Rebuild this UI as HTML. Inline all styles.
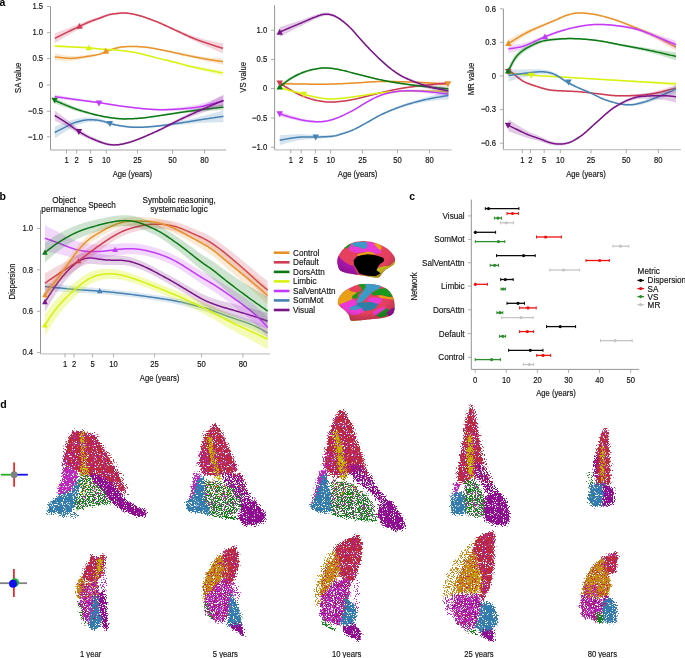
<!DOCTYPE html>
<html><head><meta charset="utf-8"><title>Figure</title><style>html,body{margin:0;padding:0;background:#fff;width:685px;height:658px;overflow:hidden;}body{font-family:"Liberation Sans", sans-serif;}</style></head><body>
<svg width="685" height="658" viewBox="0 0 685 658" style="display:block">
<defs><filter id="dotR" x="-0.2" y="-0.2" width="1.4" height="1.4" filterUnits="objectBoundingBox" primitiveUnits="userSpaceOnUse"><feGaussianBlur in="SourceAlpha" stdDeviation="1.2" result="b"/><feTurbulence type="fractalNoise" baseFrequency="1.1" numOctaves="1" seed="3" result="t"/><feColorMatrix in="t" type="matrix" values="0 0 0 0 0  0 0 0 0 0  0 0 0 0 0  0 0 0 3 -1" result="n"/><feComposite in="b" in2="n" operator="arithmetic" k1="0" k2="8" k3="-8" k4="0" result="m"/><feFlood flood-color="#BC2C3C" result="f"/><feComposite in="f" in2="m" operator="in"/></filter><filter id="dotY" x="-0.2" y="-0.2" width="1.4" height="1.4" filterUnits="objectBoundingBox" primitiveUnits="userSpaceOnUse"><feGaussianBlur in="SourceAlpha" stdDeviation="1.2" result="b"/><feTurbulence type="fractalNoise" baseFrequency="1.1" numOctaves="1" seed="10" result="t"/><feColorMatrix in="t" type="matrix" values="0 0 0 0 0  0 0 0 0 0  0 0 0 0 0  0 0 0 3 -1" result="n"/><feComposite in="b" in2="n" operator="arithmetic" k1="0" k2="8" k3="-8" k4="0" result="m"/><feFlood flood-color="#C4B200" result="f"/><feComposite in="f" in2="m" operator="in"/></filter><filter id="dotO" x="-0.2" y="-0.2" width="1.4" height="1.4" filterUnits="objectBoundingBox" primitiveUnits="userSpaceOnUse"><feGaussianBlur in="SourceAlpha" stdDeviation="1.2" result="b"/><feTurbulence type="fractalNoise" baseFrequency="1.1" numOctaves="1" seed="17" result="t"/><feColorMatrix in="t" type="matrix" values="0 0 0 0 0  0 0 0 0 0  0 0 0 0 0  0 0 0 3 -1" result="n"/><feComposite in="b" in2="n" operator="arithmetic" k1="0" k2="8" k3="-8" k4="0" result="m"/><feFlood flood-color="#C48C14" result="f"/><feComposite in="f" in2="m" operator="in"/></filter><filter id="dotM" x="-0.2" y="-0.2" width="1.4" height="1.4" filterUnits="objectBoundingBox" primitiveUnits="userSpaceOnUse"><feGaussianBlur in="SourceAlpha" stdDeviation="1.2" result="b"/><feTurbulence type="fractalNoise" baseFrequency="1.1" numOctaves="1" seed="24" result="t"/><feColorMatrix in="t" type="matrix" values="0 0 0 0 0  0 0 0 0 0  0 0 0 0 0  0 0 0 3 -1" result="n"/><feComposite in="b" in2="n" operator="arithmetic" k1="0" k2="8" k3="-8" k4="0" result="m"/><feFlood flood-color="#BC2ABC" result="f"/><feComposite in="f" in2="m" operator="in"/></filter><filter id="dotP" x="-0.2" y="-0.2" width="1.4" height="1.4" filterUnits="objectBoundingBox" primitiveUnits="userSpaceOnUse"><feGaussianBlur in="SourceAlpha" stdDeviation="1.2" result="b"/><feTurbulence type="fractalNoise" baseFrequency="1.1" numOctaves="1" seed="31" result="t"/><feColorMatrix in="t" type="matrix" values="0 0 0 0 0  0 0 0 0 0  0 0 0 0 0  0 0 0 3 -1" result="n"/><feComposite in="b" in2="n" operator="arithmetic" k1="0" k2="8" k3="-8" k4="0" result="m"/><feFlood flood-color="#8E0E90" result="f"/><feComposite in="f" in2="m" operator="in"/></filter><filter id="dotB" x="-0.2" y="-0.2" width="1.4" height="1.4" filterUnits="objectBoundingBox" primitiveUnits="userSpaceOnUse"><feGaussianBlur in="SourceAlpha" stdDeviation="1.2" result="b"/><feTurbulence type="fractalNoise" baseFrequency="1.1" numOctaves="1" seed="38" result="t"/><feColorMatrix in="t" type="matrix" values="0 0 0 0 0  0 0 0 0 0  0 0 0 0 0  0 0 0 3 -1" result="n"/><feComposite in="b" in2="n" operator="arithmetic" k1="0" k2="8" k3="-8" k4="0" result="m"/><feFlood flood-color="#357CAE" result="f"/><feComposite in="f" in2="m" operator="in"/></filter><filter id="dotG" x="-0.2" y="-0.2" width="1.4" height="1.4" filterUnits="objectBoundingBox" primitiveUnits="userSpaceOnUse"><feGaussianBlur in="SourceAlpha" stdDeviation="1.2" result="b"/><feTurbulence type="fractalNoise" baseFrequency="1.1" numOctaves="1" seed="45" result="t"/><feColorMatrix in="t" type="matrix" values="0 0 0 0 0  0 0 0 0 0  0 0 0 0 0  0 0 0 3 -1" result="n"/><feComposite in="b" in2="n" operator="arithmetic" k1="0" k2="8" k3="-8" k4="0" result="m"/><feFlood flood-color="#17801A" result="f"/><feComposite in="f" in2="m" operator="in"/></filter></defs>
<rect width="685" height="658" fill="#fff"/>
<g font-family='"Liberation Sans", sans-serif' style="will-change:transform">
<text x="-0.4" y="5.8" font-size="10.5" text-anchor="start" font-weight="bold" fill="#000">a</text>
<line x1="50.5" y1="6.5" x2="50.5" y2="150" stroke="#7a7a7a" stroke-width="0.8"/>
<line x1="50.5" y1="150" x2="226" y2="150" stroke="#c4c4c4" stroke-width="1.3"/>
<line x1="46.9" y1="6.5" x2="50.5" y2="6.5" stroke="#9a9a9a" stroke-width="0.8"/>
<text transform="translate(43.1 9.2) scale(0.85 1)" font-size="9" text-anchor="end" fill="#141414" stroke="#141414" stroke-width="0.18">1.5</text>
<line x1="46.9" y1="32.7" x2="50.5" y2="32.7" stroke="#9a9a9a" stroke-width="0.8"/>
<text transform="translate(43.1 35.4) scale(0.85 1)" font-size="9" text-anchor="end" fill="#141414" stroke="#141414" stroke-width="0.18">1.0</text>
<line x1="46.9" y1="58.6" x2="50.5" y2="58.6" stroke="#9a9a9a" stroke-width="0.8"/>
<text transform="translate(43.1 61.3) scale(0.85 1)" font-size="9" text-anchor="end" fill="#141414" stroke="#141414" stroke-width="0.18">0.5</text>
<line x1="46.9" y1="85" x2="50.5" y2="85" stroke="#9a9a9a" stroke-width="0.8"/>
<text transform="translate(43.1 87.7) scale(0.85 1)" font-size="9" text-anchor="end" fill="#141414" stroke="#141414" stroke-width="0.18">0</text>
<line x1="46.9" y1="111.3" x2="50.5" y2="111.3" stroke="#9a9a9a" stroke-width="0.8"/>
<text transform="translate(43.1 114) scale(0.85 1)" font-size="9" text-anchor="end" fill="#141414" stroke="#141414" stroke-width="0.18">−0.5</text>
<line x1="46.9" y1="136.8" x2="50.5" y2="136.8" stroke="#9a9a9a" stroke-width="0.8"/>
<text transform="translate(43.1 139.5) scale(0.85 1)" font-size="9" text-anchor="end" fill="#141414" stroke="#141414" stroke-width="0.18">−1.0</text>
<line x1="66.5" y1="150" x2="66.5" y2="153.6" stroke="#9a9a9a" stroke-width="0.8"/>
<text transform="translate(66.5 163) scale(0.85 1)" font-size="9" text-anchor="middle" fill="#141414" stroke="#141414" stroke-width="0.18">1</text>
<line x1="76.7" y1="150" x2="76.7" y2="153.6" stroke="#9a9a9a" stroke-width="0.8"/>
<text transform="translate(76.7 163) scale(0.85 1)" font-size="9" text-anchor="middle" fill="#141414" stroke="#141414" stroke-width="0.18">2</text>
<line x1="90.7" y1="150" x2="90.7" y2="153.6" stroke="#9a9a9a" stroke-width="0.8"/>
<text transform="translate(90.7 163) scale(0.85 1)" font-size="9" text-anchor="middle" fill="#141414" stroke="#141414" stroke-width="0.18">5</text>
<line x1="106.3" y1="150" x2="106.3" y2="153.6" stroke="#9a9a9a" stroke-width="0.8"/>
<text transform="translate(106.3 163) scale(0.85 1)" font-size="9" text-anchor="middle" fill="#141414" stroke="#141414" stroke-width="0.18">10</text>
<line x1="137.5" y1="150" x2="137.5" y2="153.6" stroke="#9a9a9a" stroke-width="0.8"/>
<text transform="translate(137.5 163) scale(0.85 1)" font-size="9" text-anchor="middle" fill="#141414" stroke="#141414" stroke-width="0.18">25</text>
<line x1="172.5" y1="150" x2="172.5" y2="153.6" stroke="#9a9a9a" stroke-width="0.8"/>
<text transform="translate(172.5 163) scale(0.85 1)" font-size="9" text-anchor="middle" fill="#141414" stroke="#141414" stroke-width="0.18">50</text>
<line x1="204.6" y1="150" x2="204.6" y2="153.6" stroke="#9a9a9a" stroke-width="0.8"/>
<text transform="translate(204.6 163) scale(0.85 1)" font-size="9" text-anchor="middle" fill="#141414" stroke="#141414" stroke-width="0.18">80</text>
<text transform="translate(21 77.8) rotate(-90) scale(0.85 1)" font-size="9" text-anchor="middle" fill="#141414" stroke="#141414" stroke-width="0.18">SA value</text>
<text transform="translate(132.4 177) scale(0.85 1)" font-size="9" text-anchor="middle" fill="#141414" stroke="#141414" stroke-width="0.18">Age (years)</text>
<path d="M54.8,33.3 L55.8,32.94 L56.8,32.57 L57.8,32.2 L58.8,31.82 L59.8,31.45 L60.8,31.07 L61.8,30.69 L62.8,30.3 L63.8,29.92 L64.8,29.53 L65.8,29.15 L66.8,28.76 L67.8,28.37 L68.8,27.98 L69.8,27.59 L70.8,27.2 L71.8,26.81 L72.8,26.41 L73.8,26.02 L74.8,25.62 L75.8,25.23 L76.8,24.83 L77.8,24.43 L78.8,24.04 L79.8,23.64 L80.8,23.24 L81.8,22.84 L82.8,22.44 L83.8,22.03 L84.8,21.63 L85.8,21.24 L86.8,20.85 L87.8,20.46 L88.8,20.09 L89.8,19.73 L90.8,19.38 L91.8,19.04 L92.8,18.71 L93.8,18.39 L94.8,18.08 L95.8,17.77 L96.8,17.47 L97.8,17.16 L98.8,16.85 L99.8,16.53 L100.8,16.19 L101.8,15.85 L102.8,15.5 L103.8,15.15 L104.8,14.8 L105.8,14.46 L106.8,14.14 L107.8,13.84 L108.8,13.58 L109.8,13.35 L110.8,13.15 L111.8,12.99 L112.8,12.85 L113.8,12.73 L114.8,12.63 L115.8,12.54 L116.8,12.45 L117.8,12.36 L118.8,12.26 L119.8,12.15 L120.8,12.03 L121.8,11.94 L122.8,11.9 L123.8,11.92 L124.8,11.98 L125.8,12.08 L126.8,12.2 L127.8,12.33 L128.8,12.46 L129.8,12.61 L130.8,12.77 L131.8,12.94 L132.8,13.13 L133.8,13.33 L134.8,13.55 L135.8,13.78 L136.8,14.03 L137.8,14.29 L138.8,14.57 L139.8,14.86 L140.8,15.16 L141.8,15.46 L142.8,15.78 L143.8,16.1 L144.8,16.43 L145.8,16.77 L146.8,17.11 L147.8,17.46 L148.8,17.81 L149.8,18.16 L150.8,18.52 L151.8,18.88 L152.8,19.25 L153.8,19.62 L154.8,20 L155.8,20.38 L156.8,20.77 L157.8,21.16 L158.8,21.56 L159.8,21.97 L160.8,22.38 L161.8,22.8 L162.8,23.23 L163.8,23.66 L164.8,24.1 L165.8,24.54 L166.8,24.98 L167.8,25.42 L168.8,25.86 L169.8,26.31 L170.8,26.75 L171.8,27.18 L172.8,27.62 L173.8,28.05 L174.8,28.48 L175.8,28.9 L176.8,29.32 L177.8,29.74 L178.8,30.16 L179.8,30.58 L180.8,31 L181.8,31.43 L182.8,31.85 L183.8,32.26 L184.8,32.68 L185.8,33.09 L186.8,33.5 L187.8,33.9 L188.8,34.3 L189.8,34.68 L190.8,35.06 L191.8,35.44 L192.8,35.8 L193.8,36.15 L194.8,36.49 L195.8,36.82 L196.8,37.14 L197.8,37.45 L198.8,37.75 L199.8,38.04 L200.8,38.32 L201.8,38.6 L202.8,38.87 L203.8,39.13 L204.8,39.39 L205.8,39.64 L206.8,39.89 L207.8,40.14 L208.8,40.38 L209.8,40.62 L210.8,40.85 L211.8,41.08 L212.8,41.32 L213.8,41.55 L214.8,41.77 L215.8,41.99 L216.8,42.21 L217.8,42.42 L218.8,42.61 L219.8,42.81 L220.8,42.99 L221.8,43.16 L222.8,43.32 L223,43.44 L223,53.44 L222.8,53.27 L221.8,52.85 L220.8,52.43 L219.8,52 L218.8,51.57 L217.8,51.14 L216.8,50.7 L215.8,50.27 L214.8,49.83 L213.8,49.39 L212.8,48.95 L211.8,48.52 L210.8,48.09 L209.8,47.66 L208.8,47.24 L207.8,46.82 L206.8,46.4 L205.8,45.98 L204.8,45.55 L203.8,45.13 L202.8,44.71 L201.8,44.29 L200.8,43.86 L199.8,43.43 L198.8,43 L197.8,42.56 L196.8,42.11 L195.8,41.66 L194.8,41.21 L193.8,40.74 L192.8,40.27 L191.8,39.79 L190.8,39.31 L189.8,38.82 L188.8,38.32 L187.8,37.82 L186.8,37.32 L185.8,36.82 L184.8,36.31 L183.8,35.81 L182.8,35.3 L181.8,34.79 L180.8,34.29 L179.8,33.79 L178.8,33.29 L177.8,32.79 L176.8,32.3 L175.8,31.81 L174.8,31.32 L173.8,30.83 L172.8,30.34 L171.8,29.84 L170.8,29.34 L169.8,28.85 L168.8,28.35 L167.8,27.86 L166.8,27.37 L165.8,26.88 L164.8,26.4 L163.8,25.92 L162.8,25.44 L161.8,24.98 L160.8,24.52 L159.8,24.07 L158.8,23.63 L157.8,23.19 L156.8,22.77 L155.8,22.36 L154.8,21.95 L153.8,21.55 L152.8,21.15 L151.8,20.77 L150.8,20.38 L149.8,20.01 L148.8,19.63 L147.8,19.27 L146.8,18.91 L145.8,18.56 L144.8,18.21 L143.8,17.87 L142.8,17.54 L141.8,17.22 L140.8,16.91 L139.8,16.61 L138.8,16.32 L137.8,16.04 L136.8,15.78 L135.8,15.54 L134.8,15.31 L133.8,15.1 L132.8,14.91 L131.8,14.73 L130.8,14.57 L129.8,14.43 L128.8,14.29 L127.8,14.17 L126.8,14.06 L125.8,13.97 L124.8,13.89 L123.8,13.85 L122.8,13.86 L121.8,13.92 L120.8,14.04 L119.8,14.19 L118.8,14.33 L117.8,14.47 L116.8,14.59 L115.8,14.72 L114.8,14.85 L113.8,14.99 L112.8,15.16 L111.8,15.34 L110.8,15.55 L109.8,15.8 L108.8,16.08 L107.8,16.4 L106.8,16.75 L105.8,17.13 L104.8,17.53 L103.8,17.94 L102.8,18.36 L101.8,18.78 L100.8,19.19 L99.8,19.59 L98.8,19.99 L97.8,20.38 L96.8,20.77 L95.8,21.16 L94.8,21.55 L93.8,21.95 L92.8,22.36 L91.8,22.78 L90.8,23.22 L89.8,23.67 L88.8,24.14 L87.8,24.62 L86.8,25.11 L85.8,25.62 L84.8,26.13 L83.8,26.65 L82.8,27.18 L81.8,27.71 L80.8,28.24 L79.8,28.78 L78.8,29.31 L77.8,29.85 L76.8,30.4 L75.8,30.95 L74.8,31.5 L73.8,32.05 L72.8,32.61 L71.8,33.17 L70.8,33.74 L69.8,34.31 L68.8,34.88 L67.8,35.46 L66.8,36.04 L65.8,36.62 L64.8,37.21 L63.8,37.8 L62.8,38.4 L61.8,39 L60.8,39.61 L59.8,40.22 L58.8,40.83 L57.8,41.44 L56.8,42.06 L55.8,42.68 L54.8,43.3Z" fill="#CF3D55" fill-opacity="0.22" stroke="none"/>
<path d="M54.8,38.3 L55.8,37.81 L56.8,37.31 L57.8,36.82 L58.8,36.33 L59.8,35.83 L60.8,35.34 L61.8,34.84 L62.8,34.35 L63.8,33.86 L64.8,33.37 L65.8,32.88 L66.8,32.4 L67.8,31.91 L68.8,31.43 L69.8,30.95 L70.8,30.47 L71.8,29.99 L72.8,29.51 L73.8,29.04 L74.8,28.56 L75.8,28.09 L76.8,27.61 L77.8,27.14 L78.8,26.67 L79.8,26.21 L80.8,25.74 L81.8,25.27 L82.8,24.81 L83.8,24.34 L84.8,23.88 L85.8,23.43 L86.8,22.98 L87.8,22.54 L88.8,22.11 L89.8,21.7 L90.8,21.3 L91.8,20.91 L92.8,20.53 L93.8,20.17 L94.8,19.81 L95.8,19.46 L96.8,19.12 L97.8,18.77 L98.8,18.42 L99.8,18.06 L100.8,17.69 L101.8,17.31 L102.8,16.93 L103.8,16.54 L104.8,16.16 L105.8,15.79 L106.8,15.44 L107.8,15.12 L108.8,14.83 L109.8,14.57 L110.8,14.35 L111.8,14.16 L112.8,14 L113.8,13.86 L114.8,13.74 L115.8,13.63 L116.8,13.52 L117.8,13.41 L118.8,13.3 L119.8,13.17 L120.8,13.04 L121.8,12.93 L122.8,12.88 L123.8,12.88 L124.8,12.94 L125.8,13.03 L126.8,13.13 L127.8,13.25 L128.8,13.38 L129.8,13.52 L130.8,13.67 L131.8,13.84 L132.8,14.02 L133.8,14.22 L134.8,14.43 L135.8,14.66 L136.8,14.9 L137.8,15.16 L138.8,15.44 L139.8,15.73 L140.8,16.03 L141.8,16.34 L142.8,16.66 L143.8,16.99 L144.8,17.32 L145.8,17.66 L146.8,18.01 L147.8,18.36 L148.8,18.72 L149.8,19.08 L150.8,19.45 L151.8,19.83 L152.8,20.2 L153.8,20.59 L154.8,20.98 L155.8,21.37 L156.8,21.77 L157.8,22.18 L158.8,22.59 L159.8,23.02 L160.8,23.45 L161.8,23.89 L162.8,24.34 L163.8,24.79 L164.8,25.25 L165.8,25.71 L166.8,26.17 L167.8,26.64 L168.8,27.11 L169.8,27.58 L170.8,28.05 L171.8,28.51 L172.8,28.98 L173.8,29.44 L174.8,29.9 L175.8,30.35 L176.8,30.81 L177.8,31.27 L178.8,31.72 L179.8,32.18 L180.8,32.65 L181.8,33.11 L182.8,33.57 L183.8,34.04 L184.8,34.5 L185.8,34.95 L186.8,35.41 L187.8,35.86 L188.8,36.31 L189.8,36.75 L190.8,37.19 L191.8,37.61 L192.8,38.03 L193.8,38.45 L194.8,38.85 L195.8,39.24 L196.8,39.63 L197.8,40 L198.8,40.37 L199.8,40.73 L200.8,41.09 L201.8,41.44 L202.8,41.79 L203.8,42.13 L204.8,42.47 L205.8,42.81 L206.8,43.14 L207.8,43.48 L208.8,43.81 L209.8,44.14 L210.8,44.47 L211.8,44.8 L212.8,45.13 L213.8,45.47 L214.8,45.8 L215.8,46.13 L216.8,46.46 L217.8,46.78 L218.8,47.09 L219.8,47.4 L220.8,47.71 L221.8,48.01 L222.8,48.3 L223,48.44" fill="none" stroke="#CF3D55" stroke-width="1.5" stroke-linejoin="round" stroke-linecap="butt"/>
<path d="M54.8,53.4 L55.8,53.6 L56.8,53.8 L57.8,53.99 L58.8,54.19 L59.8,54.38 L60.8,54.57 L61.8,54.75 L62.8,54.92 L63.8,55.09 L64.8,55.25 L65.8,55.41 L66.8,55.56 L67.8,55.71 L68.8,55.84 L69.8,55.95 L70.8,56.03 L71.8,56.07 L72.8,56.08 L73.8,56.07 L74.8,56.03 L75.8,55.98 L76.8,55.91 L77.8,55.84 L78.8,55.75 L79.8,55.66 L80.8,55.56 L81.8,55.46 L82.8,55.36 L83.8,55.25 L84.8,55.13 L85.8,55.02 L86.8,54.9 L87.8,54.78 L88.8,54.65 L89.8,54.53 L90.8,54.4 L91.8,54.27 L92.8,54.14 L93.8,54 L94.8,53.86 L95.8,53.7 L96.8,53.54 L97.8,53.35 L98.8,53.13 L99.8,52.88 L100.8,52.56 L101.8,52.18 L102.8,51.76 L103.8,51.31 L104.8,50.89 L105.8,50.51 L106.8,50.15 L107.8,49.8 L108.8,49.46 L109.8,49.12 L110.8,48.79 L111.8,48.46 L112.8,48.14 L113.8,47.84 L114.8,47.55 L115.8,47.28 L116.8,47.02 L117.8,46.79 L118.8,46.59 L119.8,46.41 L120.8,46.26 L121.8,46.13 L122.8,46.02 L123.8,45.94 L124.8,45.87 L125.8,45.82 L126.8,45.78 L127.8,45.75 L128.8,45.73 L129.8,45.72 L130.8,45.72 L131.8,45.72 L132.8,45.73 L133.8,45.74 L134.8,45.75 L135.8,45.77 L136.8,45.8 L137.8,45.84 L138.8,45.88 L139.8,45.94 L140.8,46 L141.8,46.07 L142.8,46.15 L143.8,46.24 L144.8,46.34 L145.8,46.45 L146.8,46.56 L147.8,46.69 L148.8,46.82 L149.8,46.97 L150.8,47.12 L151.8,47.28 L152.8,47.45 L153.8,47.62 L154.8,47.79 L155.8,47.97 L156.8,48.16 L157.8,48.34 L158.8,48.53 L159.8,48.72 L160.8,48.91 L161.8,49.1 L162.8,49.29 L163.8,49.49 L164.8,49.68 L165.8,49.87 L166.8,50.06 L167.8,50.25 L168.8,50.44 L169.8,50.64 L170.8,50.83 L171.8,51.03 L172.8,51.24 L173.8,51.44 L174.8,51.64 L175.8,51.84 L176.8,52.04 L177.8,52.25 L178.8,52.45 L179.8,52.65 L180.8,52.84 L181.8,53.04 L182.8,53.23 L183.8,53.42 L184.8,53.61 L185.8,53.79 L186.8,53.98 L187.8,54.16 L188.8,54.34 L189.8,54.52 L190.8,54.69 L191.8,54.87 L192.8,55.05 L193.8,55.22 L194.8,55.39 L195.8,55.56 L196.8,55.72 L197.8,55.88 L198.8,56.04 L199.8,56.2 L200.8,56.35 L201.8,56.5 L202.8,56.64 L203.8,56.78 L204.8,56.91 L205.8,57.04 L206.8,57.16 L207.8,57.28 L208.8,57.4 L209.8,57.5 L210.8,57.61 L211.8,57.71 L212.8,57.81 L213.8,57.9 L214.8,58 L215.8,58.09 L216.8,58.18 L217.8,58.26 L218.8,58.35 L219.8,58.43 L220.8,58.51 L221.8,58.59 L222.8,58.66 L223,58.72 L223,64.72 L222.8,64.64 L221.8,64.42 L220.8,64.21 L219.8,63.99 L218.8,63.78 L217.8,63.56 L216.8,63.35 L215.8,63.14 L214.8,62.94 L213.8,62.73 L212.8,62.52 L211.8,62.31 L210.8,62.1 L209.8,61.89 L208.8,61.68 L207.8,61.47 L206.8,61.26 L205.8,61.04 L204.8,60.82 L203.8,60.6 L202.8,60.37 L201.8,60.14 L200.8,59.91 L199.8,59.68 L198.8,59.45 L197.8,59.22 L196.8,58.98 L195.8,58.74 L194.8,58.51 L193.8,58.27 L192.8,58.03 L191.8,57.79 L190.8,57.55 L189.8,57.32 L188.8,57.08 L187.8,56.84 L186.8,56.61 L185.8,56.37 L184.8,56.14 L183.8,55.9 L182.8,55.66 L181.8,55.42 L180.8,55.18 L179.8,54.94 L178.8,54.7 L177.8,54.46 L176.8,54.22 L175.8,53.98 L174.8,53.74 L173.8,53.5 L172.8,53.26 L171.8,53.03 L170.8,52.8 L169.8,52.57 L168.8,52.35 L167.8,52.13 L166.8,51.91 L165.8,51.69 L164.8,51.48 L163.8,51.27 L162.8,51.05 L161.8,50.84 L160.8,50.63 L159.8,50.42 L158.8,50.21 L157.8,50.01 L156.8,49.81 L155.8,49.61 L154.8,49.41 L153.8,49.23 L152.8,49.04 L151.8,48.87 L150.8,48.7 L149.8,48.53 L148.8,48.38 L147.8,48.24 L146.8,48.11 L145.8,47.99 L144.8,47.88 L143.8,47.77 L142.8,47.68 L141.8,47.6 L140.8,47.53 L139.8,47.47 L138.8,47.42 L137.8,47.37 L136.8,47.34 L135.8,47.32 L134.8,47.3 L133.8,47.29 L132.8,47.29 L131.8,47.29 L130.8,47.3 L129.8,47.31 L128.8,47.33 L127.8,47.36 L126.8,47.4 L125.8,47.45 L124.8,47.52 L123.8,47.61 L122.8,47.71 L121.8,47.84 L120.8,47.98 L119.8,48.16 L118.8,48.36 L117.8,48.58 L116.8,48.84 L115.8,49.12 L114.8,49.42 L113.8,49.73 L112.8,50.07 L111.8,50.41 L110.8,50.77 L109.8,51.14 L108.8,51.51 L107.8,51.89 L106.8,52.27 L105.8,52.67 L104.8,53.1 L103.8,53.56 L102.8,54.05 L101.8,54.52 L100.8,54.94 L99.8,55.31 L98.8,55.61 L97.8,55.88 L96.8,56.12 L95.8,56.34 L94.8,56.55 L93.8,56.76 L92.8,56.96 L91.8,57.15 L90.8,57.34 L89.8,57.54 L88.8,57.73 L87.8,57.92 L86.8,58.12 L85.8,58.31 L84.8,58.5 L83.8,58.7 L82.8,58.89 L81.8,59.08 L80.8,59.27 L79.8,59.46 L78.8,59.64 L77.8,59.82 L76.8,59.99 L75.8,60.16 L74.8,60.31 L73.8,60.45 L72.8,60.58 L71.8,60.68 L70.8,60.75 L69.8,60.79 L68.8,60.8 L67.8,60.79 L66.8,60.77 L65.8,60.74 L64.8,60.72 L63.8,60.69 L62.8,60.67 L61.8,60.64 L60.8,60.6 L59.8,60.57 L58.8,60.53 L57.8,60.49 L56.8,60.46 L55.8,60.43 L54.8,60.4Z" fill="#E8922A" fill-opacity="0.22" stroke="none"/>
<path d="M54.8,56.9 L55.8,57.01 L56.8,57.13 L57.8,57.24 L58.8,57.36 L59.8,57.47 L60.8,57.59 L61.8,57.69 L62.8,57.8 L63.8,57.89 L64.8,57.98 L65.8,58.07 L66.8,58.16 L67.8,58.25 L68.8,58.32 L69.8,58.37 L70.8,58.39 L71.8,58.37 L72.8,58.33 L73.8,58.26 L74.8,58.17 L75.8,58.07 L76.8,57.95 L77.8,57.83 L78.8,57.69 L79.8,57.56 L80.8,57.42 L81.8,57.27 L82.8,57.12 L83.8,56.97 L84.8,56.82 L85.8,56.66 L86.8,56.51 L87.8,56.35 L88.8,56.19 L89.8,56.03 L90.8,55.87 L91.8,55.71 L92.8,55.55 L93.8,55.38 L94.8,55.21 L95.8,55.02 L96.8,54.83 L97.8,54.61 L98.8,54.37 L99.8,54.09 L100.8,53.75 L101.8,53.35 L102.8,52.9 L103.8,52.44 L104.8,52 L105.8,51.59 L106.8,51.21 L107.8,50.85 L108.8,50.48 L109.8,50.13 L110.8,49.78 L111.8,49.44 L112.8,49.11 L113.8,48.79 L114.8,48.48 L115.8,48.2 L116.8,47.93 L117.8,47.69 L118.8,47.47 L119.8,47.28 L120.8,47.12 L121.8,46.98 L122.8,46.87 L123.8,46.77 L124.8,46.69 L125.8,46.63 L126.8,46.59 L127.8,46.55 L128.8,46.53 L129.8,46.52 L130.8,46.51 L131.8,46.5 L132.8,46.51 L133.8,46.51 L134.8,46.53 L135.8,46.55 L136.8,46.57 L137.8,46.61 L138.8,46.65 L139.8,46.7 L140.8,46.76 L141.8,46.84 L142.8,46.92 L143.8,47.01 L144.8,47.11 L145.8,47.22 L146.8,47.34 L147.8,47.46 L148.8,47.6 L149.8,47.75 L150.8,47.91 L151.8,48.07 L152.8,48.24 L153.8,48.42 L154.8,48.6 L155.8,48.79 L156.8,48.98 L157.8,49.18 L158.8,49.37 L159.8,49.57 L160.8,49.77 L161.8,49.97 L162.8,50.17 L163.8,50.38 L164.8,50.58 L165.8,50.78 L166.8,50.98 L167.8,51.19 L168.8,51.39 L169.8,51.6 L170.8,51.82 L171.8,52.03 L172.8,52.25 L173.8,52.47 L174.8,52.69 L175.8,52.91 L176.8,53.13 L177.8,53.35 L178.8,53.57 L179.8,53.79 L180.8,54.01 L181.8,54.23 L182.8,54.45 L183.8,54.66 L184.8,54.87 L185.8,55.08 L186.8,55.29 L187.8,55.5 L188.8,55.71 L189.8,55.92 L190.8,56.12 L191.8,56.33 L192.8,56.54 L193.8,56.74 L194.8,56.95 L195.8,57.15 L196.8,57.35 L197.8,57.55 L198.8,57.75 L199.8,57.94 L200.8,58.13 L201.8,58.32 L202.8,58.51 L203.8,58.69 L204.8,58.87 L205.8,59.04 L206.8,59.21 L207.8,59.38 L208.8,59.54 L209.8,59.7 L210.8,59.86 L211.8,60.01 L212.8,60.16 L213.8,60.32 L214.8,60.47 L215.8,60.62 L216.8,60.76 L217.8,60.91 L218.8,61.06 L219.8,61.21 L220.8,61.36 L221.8,61.51 L222.8,61.65 L223,61.72" fill="none" stroke="#E8922A" stroke-width="1.5" stroke-linejoin="round" stroke-linecap="butt"/>
<path d="M54.8,44.6 L55.8,44.67 L56.8,44.74 L57.8,44.81 L58.8,44.88 L59.8,44.95 L60.8,45.02 L61.8,45.09 L62.8,45.15 L63.8,45.22 L64.8,45.29 L65.8,45.36 L66.8,45.42 L67.8,45.49 L68.8,45.56 L69.8,45.63 L70.8,45.69 L71.8,45.76 L72.8,45.83 L73.8,45.89 L74.8,45.95 L75.8,46.02 L76.8,46.08 L77.8,46.15 L78.8,46.21 L79.8,46.27 L80.8,46.34 L81.8,46.4 L82.8,46.47 L83.8,46.54 L84.8,46.61 L85.8,46.68 L86.8,46.75 L87.8,46.83 L88.8,46.92 L89.8,47.01 L90.8,47.11 L91.8,47.22 L92.8,47.34 L93.8,47.47 L94.8,47.6 L95.8,47.73 L96.8,47.86 L97.8,47.97 L98.8,48.08 L99.8,48.18 L100.8,48.27 L101.8,48.35 L102.8,48.42 L103.8,48.49 L104.8,48.55 L105.8,48.62 L106.8,48.68 L107.8,48.74 L108.8,48.8 L109.8,48.86 L110.8,48.93 L111.8,48.99 L112.8,49.06 L113.8,49.14 L114.8,49.22 L115.8,49.3 L116.8,49.39 L117.8,49.48 L118.8,49.59 L119.8,49.69 L120.8,49.81 L121.8,49.92 L122.8,50.04 L123.8,50.17 L124.8,50.29 L125.8,50.42 L126.8,50.56 L127.8,50.7 L128.8,50.84 L129.8,50.99 L130.8,51.14 L131.8,51.3 L132.8,51.46 L133.8,51.63 L134.8,51.81 L135.8,51.99 L136.8,52.18 L137.8,52.37 L138.8,52.57 L139.8,52.78 L140.8,53.01 L141.8,53.23 L142.8,53.47 L143.8,53.71 L144.8,53.96 L145.8,54.22 L146.8,54.48 L147.8,54.74 L148.8,55 L149.8,55.27 L150.8,55.53 L151.8,55.79 L152.8,56.05 L153.8,56.31 L154.8,56.57 L155.8,56.82 L156.8,57.07 L157.8,57.31 L158.8,57.55 L159.8,57.79 L160.8,58.03 L161.8,58.26 L162.8,58.5 L163.8,58.73 L164.8,58.97 L165.8,59.2 L166.8,59.43 L167.8,59.66 L168.8,59.9 L169.8,60.13 L170.8,60.36 L171.8,60.59 L172.8,60.82 L173.8,61.05 L174.8,61.28 L175.8,61.51 L176.8,61.75 L177.8,61.98 L178.8,62.22 L179.8,62.46 L180.8,62.7 L181.8,62.94 L182.8,63.19 L183.8,63.43 L184.8,63.66 L185.8,63.9 L186.8,64.13 L187.8,64.36 L188.8,64.58 L189.8,64.8 L190.8,65.01 L191.8,65.22 L192.8,65.42 L193.8,65.62 L194.8,65.81 L195.8,66 L196.8,66.18 L197.8,66.36 L198.8,66.54 L199.8,66.71 L200.8,66.88 L201.8,67.04 L202.8,67.2 L203.8,67.36 L204.8,67.52 L205.8,67.68 L206.8,67.83 L207.8,67.98 L208.8,68.13 L209.8,68.28 L210.8,68.43 L211.8,68.57 L212.8,68.71 L213.8,68.85 L214.8,68.99 L215.8,69.13 L216.8,69.27 L217.8,69.41 L218.8,69.54 L219.8,69.68 L220.8,69.81 L221.8,69.93 L222.8,70.05 L223,70.13 L223,76.13 L222.8,76.02 L221.8,75.76 L220.8,75.5 L219.8,75.24 L218.8,74.97 L217.8,74.71 L216.8,74.45 L215.8,74.19 L214.8,73.93 L213.8,73.68 L212.8,73.42 L211.8,73.17 L210.8,72.92 L209.8,72.67 L208.8,72.42 L207.8,72.17 L206.8,71.92 L205.8,71.68 L204.8,71.43 L203.8,71.18 L202.8,70.94 L201.8,70.69 L200.8,70.44 L199.8,70.19 L198.8,69.94 L197.8,69.69 L196.8,69.44 L195.8,69.19 L194.8,68.93 L193.8,68.67 L192.8,68.41 L191.8,68.14 L190.8,67.87 L189.8,67.6 L188.8,67.32 L187.8,67.04 L186.8,66.76 L185.8,66.48 L184.8,66.19 L183.8,65.9 L182.8,65.61 L181.8,65.32 L180.8,65.04 L179.8,64.75 L178.8,64.47 L177.8,64.19 L176.8,63.91 L175.8,63.64 L174.8,63.37 L173.8,63.11 L172.8,62.84 L171.8,62.58 L170.8,62.31 L169.8,62.05 L168.8,61.79 L167.8,61.53 L166.8,61.27 L165.8,61.01 L164.8,60.75 L163.8,60.49 L162.8,60.23 L161.8,59.97 L160.8,59.72 L159.8,59.46 L158.8,59.2 L157.8,58.94 L156.8,58.68 L155.8,58.41 L154.8,58.14 L153.8,57.87 L152.8,57.6 L151.8,57.32 L150.8,57.05 L149.8,56.77 L148.8,56.49 L147.8,56.22 L146.8,55.95 L145.8,55.68 L144.8,55.41 L143.8,55.16 L142.8,54.9 L141.8,54.66 L140.8,54.42 L139.8,54.2 L138.8,53.98 L137.8,53.77 L136.8,53.57 L135.8,53.38 L134.8,53.19 L133.8,53.02 L132.8,52.85 L131.8,52.68 L130.8,52.52 L129.8,52.37 L128.8,52.22 L127.8,52.08 L126.8,51.94 L125.8,51.8 L124.8,51.67 L123.8,51.55 L122.8,51.43 L121.8,51.31 L120.8,51.2 L119.8,51.09 L118.8,50.99 L117.8,50.89 L116.8,50.8 L115.8,50.72 L114.8,50.64 L113.8,50.57 L112.8,50.5 L111.8,50.44 L110.8,50.39 L109.8,50.33 L108.8,50.28 L107.8,50.23 L106.8,50.18 L105.8,50.13 L104.8,50.07 L103.8,50.02 L102.8,49.97 L101.8,49.91 L100.8,49.84 L99.8,49.77 L98.8,49.68 L97.8,49.59 L96.8,49.49 L95.8,49.38 L94.8,49.27 L93.8,49.15 L92.8,49.04 L91.8,48.94 L90.8,48.85 L89.8,48.77 L88.8,48.7 L87.8,48.64 L86.8,48.58 L85.8,48.53 L84.8,48.48 L83.8,48.44 L82.8,48.4 L81.8,48.36 L80.8,48.32 L79.8,48.28 L78.8,48.24 L77.8,48.21 L76.8,48.18 L75.8,48.14 L74.8,48.11 L73.8,48.08 L72.8,48.05 L71.8,48.02 L70.8,47.99 L69.8,47.95 L68.8,47.92 L67.8,47.89 L66.8,47.87 L65.8,47.84 L64.8,47.81 L63.8,47.79 L62.8,47.77 L61.8,47.74 L60.8,47.72 L59.8,47.7 L58.8,47.68 L57.8,47.66 L56.8,47.64 L55.8,47.62 L54.8,47.6Z" fill="#D8F20F" fill-opacity="0.22" stroke="none"/>
<path d="M54.8,46.1 L55.8,46.15 L56.8,46.19 L57.8,46.24 L58.8,46.28 L59.8,46.33 L60.8,46.37 L61.8,46.41 L62.8,46.46 L63.8,46.51 L64.8,46.55 L65.8,46.6 L66.8,46.64 L67.8,46.69 L68.8,46.74 L69.8,46.79 L70.8,46.84 L71.8,46.89 L72.8,46.94 L73.8,46.98 L74.8,47.03 L75.8,47.08 L76.8,47.13 L77.8,47.18 L78.8,47.23 L79.8,47.28 L80.8,47.33 L81.8,47.38 L82.8,47.43 L83.8,47.49 L84.8,47.55 L85.8,47.61 L86.8,47.67 L87.8,47.74 L88.8,47.81 L89.8,47.89 L90.8,47.98 L91.8,48.08 L92.8,48.19 L93.8,48.31 L94.8,48.43 L95.8,48.56 L96.8,48.67 L97.8,48.78 L98.8,48.88 L99.8,48.97 L100.8,49.05 L101.8,49.13 L102.8,49.19 L103.8,49.26 L104.8,49.31 L105.8,49.37 L106.8,49.43 L107.8,49.48 L108.8,49.54 L109.8,49.6 L110.8,49.66 L111.8,49.72 L112.8,49.78 L113.8,49.85 L114.8,49.93 L115.8,50.01 L116.8,50.09 L117.8,50.19 L118.8,50.29 L119.8,50.39 L120.8,50.5 L121.8,50.62 L122.8,50.74 L123.8,50.86 L124.8,50.98 L125.8,51.11 L126.8,51.25 L127.8,51.39 L128.8,51.53 L129.8,51.68 L130.8,51.83 L131.8,51.99 L132.8,52.15 L133.8,52.32 L134.8,52.5 L135.8,52.68 L136.8,52.87 L137.8,53.07 L138.8,53.28 L139.8,53.49 L140.8,53.71 L141.8,53.95 L142.8,54.19 L143.8,54.44 L144.8,54.69 L145.8,54.95 L146.8,55.21 L147.8,55.48 L148.8,55.75 L149.8,56.02 L150.8,56.29 L151.8,56.56 L152.8,56.83 L153.8,57.09 L154.8,57.36 L155.8,57.62 L156.8,57.87 L157.8,58.12 L158.8,58.37 L159.8,58.62 L160.8,58.87 L161.8,59.12 L162.8,59.36 L163.8,59.61 L164.8,59.86 L165.8,60.1 L166.8,60.35 L167.8,60.6 L168.8,60.84 L169.8,61.09 L170.8,61.34 L171.8,61.58 L172.8,61.83 L173.8,62.08 L174.8,62.33 L175.8,62.58 L176.8,62.83 L177.8,63.09 L178.8,63.35 L179.8,63.61 L180.8,63.87 L181.8,64.13 L182.8,64.4 L183.8,64.66 L184.8,64.93 L185.8,65.19 L186.8,65.45 L187.8,65.7 L188.8,65.95 L189.8,66.2 L190.8,66.44 L191.8,66.68 L192.8,66.92 L193.8,67.15 L194.8,67.37 L195.8,67.59 L196.8,67.81 L197.8,68.03 L198.8,68.24 L199.8,68.45 L200.8,68.66 L201.8,68.87 L202.8,69.07 L203.8,69.27 L204.8,69.48 L205.8,69.68 L206.8,69.88 L207.8,70.08 L208.8,70.28 L209.8,70.47 L210.8,70.67 L211.8,70.87 L212.8,71.07 L213.8,71.27 L214.8,71.46 L215.8,71.66 L216.8,71.86 L217.8,72.06 L218.8,72.26 L219.8,72.46 L220.8,72.65 L221.8,72.85 L222.8,73.03 L223,73.13" fill="none" stroke="#D8F20F" stroke-width="1.5" stroke-linejoin="round" stroke-linecap="butt"/>
<path d="M54.8,94.6 L55.8,94.78 L56.8,94.97 L57.8,95.15 L58.8,95.33 L59.8,95.51 L60.8,95.69 L61.8,95.87 L62.8,96.04 L63.8,96.22 L64.8,96.4 L65.8,96.57 L66.8,96.74 L67.8,96.92 L68.8,97.09 L69.8,97.26 L70.8,97.43 L71.8,97.59 L72.8,97.76 L73.8,97.93 L74.8,98.09 L75.8,98.25 L76.8,98.41 L77.8,98.57 L78.8,98.73 L79.8,98.88 L80.8,99.03 L81.8,99.18 L82.8,99.33 L83.8,99.48 L84.8,99.63 L85.8,99.78 L86.8,99.92 L87.8,100.07 L88.8,100.22 L89.8,100.37 L90.8,100.51 L91.8,100.66 L92.8,100.81 L93.8,100.96 L94.8,101.11 L95.8,101.26 L96.8,101.41 L97.8,101.56 L98.8,101.72 L99.8,101.87 L100.8,102.03 L101.8,102.2 L102.8,102.36 L103.8,102.52 L104.8,102.69 L105.8,102.86 L106.8,103.03 L107.8,103.19 L108.8,103.36 L109.8,103.53 L110.8,103.7 L111.8,103.86 L112.8,104.03 L113.8,104.19 L114.8,104.36 L115.8,104.52 L116.8,104.68 L117.8,104.83 L118.8,104.99 L119.8,105.14 L120.8,105.29 L121.8,105.43 L122.8,105.58 L123.8,105.71 L124.8,105.85 L125.8,105.98 L126.8,106.11 L127.8,106.23 L128.8,106.35 L129.8,106.46 L130.8,106.58 L131.8,106.69 L132.8,106.8 L133.8,106.91 L134.8,107.02 L135.8,107.13 L136.8,107.24 L137.8,107.34 L138.8,107.44 L139.8,107.54 L140.8,107.64 L141.8,107.73 L142.8,107.82 L143.8,107.91 L144.8,107.99 L145.8,108.07 L146.8,108.15 L147.8,108.22 L148.8,108.29 L149.8,108.35 L150.8,108.41 L151.8,108.46 L152.8,108.51 L153.8,108.55 L154.8,108.58 L155.8,108.61 L156.8,108.63 L157.8,108.65 L158.8,108.66 L159.8,108.66 L160.8,108.65 L161.8,108.64 L162.8,108.62 L163.8,108.59 L164.8,108.56 L165.8,108.52 L166.8,108.47 L167.8,108.42 L168.8,108.36 L169.8,108.29 L170.8,108.22 L171.8,108.15 L172.8,108.07 L173.8,107.99 L174.8,107.9 L175.8,107.81 L176.8,107.71 L177.8,107.61 L178.8,107.5 L179.8,107.39 L180.8,107.28 L181.8,107.16 L182.8,107.03 L183.8,106.91 L184.8,106.78 L185.8,106.64 L186.8,106.5 L187.8,106.36 L188.8,106.21 L189.8,106.06 L190.8,105.91 L191.8,105.74 L192.8,105.58 L193.8,105.4 L194.8,105.21 L195.8,105.01 L196.8,104.8 L197.8,104.58 L198.8,104.35 L199.8,104.1 L200.8,103.84 L201.8,103.57 L202.8,103.28 L203.8,102.99 L204.8,102.68 L205.8,102.36 L206.8,102.04 L207.8,101.72 L208.8,101.39 L209.8,101.05 L210.8,100.71 L211.8,100.36 L212.8,99.99 L213.8,99.61 L214.8,99.22 L215.8,98.81 L216.8,98.39 L217.8,97.96 L218.8,97.52 L219.8,97.08 L220.8,96.65 L221.8,96.22 L222.8,95.8 L223.4,95.45 L223.4,105.45 L222.8,105.65 L221.8,105.81 L220.8,105.99 L219.8,106.18 L218.8,106.39 L217.8,106.59 L216.8,106.79 L215.8,107 L214.8,107.19 L213.8,107.38 L212.8,107.55 L211.8,107.72 L210.8,107.88 L209.8,108.03 L208.8,108.18 L207.8,108.33 L206.8,108.48 L205.8,108.64 L204.8,108.78 L203.8,108.93 L202.8,109.07 L201.8,109.2 L200.8,109.32 L199.8,109.44 L198.8,109.55 L197.8,109.64 L196.8,109.73 L195.8,109.81 L194.8,109.89 L193.8,109.95 L192.8,110.01 L191.8,110.06 L190.8,110.11 L189.8,110.16 L188.8,110.21 L187.8,110.25 L186.8,110.29 L185.8,110.34 L184.8,110.38 L183.8,110.42 L182.8,110.46 L181.8,110.49 L180.8,110.53 L179.8,110.56 L178.8,110.6 L177.8,110.63 L176.8,110.66 L175.8,110.69 L174.8,110.71 L173.8,110.73 L172.8,110.76 L171.8,110.77 L170.8,110.79 L169.8,110.8 L168.8,110.81 L167.8,110.82 L166.8,110.82 L165.8,110.82 L164.8,110.81 L163.8,110.8 L162.8,110.78 L161.8,110.76 L160.8,110.74 L159.8,110.71 L158.8,110.67 L157.8,110.62 L156.8,110.57 L155.8,110.52 L154.8,110.46 L153.8,110.4 L152.8,110.33 L151.8,110.25 L150.8,110.18 L149.8,110.09 L148.8,110.01 L147.8,109.92 L146.8,109.83 L145.8,109.73 L144.8,109.64 L143.8,109.54 L142.8,109.43 L141.8,109.33 L140.8,109.22 L139.8,109.11 L138.8,109 L137.8,108.89 L136.8,108.78 L135.8,108.66 L134.8,108.55 L133.8,108.43 L132.8,108.31 L131.8,108.2 L130.8,108.08 L129.8,107.96 L128.8,107.85 L127.8,107.73 L126.8,107.6 L125.8,107.48 L124.8,107.35 L123.8,107.22 L122.8,107.08 L121.8,106.94 L120.8,106.8 L119.8,106.66 L118.8,106.51 L117.8,106.37 L116.8,106.22 L115.8,106.07 L114.8,105.92 L113.8,105.76 L112.8,105.61 L111.8,105.46 L110.8,105.3 L109.8,105.15 L108.8,105 L107.8,104.84 L106.8,104.69 L105.8,104.54 L104.8,104.39 L103.8,104.25 L102.8,104.1 L101.8,103.96 L100.8,103.82 L99.8,103.68 L98.8,103.55 L97.8,103.42 L96.8,103.29 L95.8,103.16 L94.8,103.04 L93.8,102.92 L92.8,102.79 L91.8,102.68 L90.8,102.56 L89.8,102.44 L88.8,102.33 L87.8,102.22 L86.8,102.1 L85.8,101.99 L84.8,101.88 L83.8,101.77 L82.8,101.66 L81.8,101.55 L80.8,101.45 L79.8,101.34 L78.8,101.23 L77.8,101.11 L76.8,101 L75.8,100.89 L74.8,100.78 L73.8,100.67 L72.8,100.55 L71.8,100.44 L70.8,100.33 L69.8,100.22 L68.8,100.1 L67.8,99.99 L66.8,99.88 L65.8,99.77 L64.8,99.66 L63.8,99.55 L62.8,99.44 L61.8,99.33 L60.8,99.22 L59.8,99.12 L58.8,99.01 L57.8,98.91 L56.8,98.8 L55.8,98.7 L54.8,98.6Z" fill="#C43AFA" fill-opacity="0.22" stroke="none"/>
<path d="M54.8,96.6 L55.8,96.74 L56.8,96.88 L57.8,97.03 L58.8,97.17 L59.8,97.31 L60.8,97.45 L61.8,97.6 L62.8,97.74 L63.8,97.88 L64.8,98.03 L65.8,98.17 L66.8,98.31 L67.8,98.45 L68.8,98.6 L69.8,98.74 L70.8,98.88 L71.8,99.02 L72.8,99.16 L73.8,99.3 L74.8,99.43 L75.8,99.57 L76.8,99.71 L77.8,99.84 L78.8,99.98 L79.8,100.11 L80.8,100.24 L81.8,100.37 L82.8,100.5 L83.8,100.63 L84.8,100.76 L85.8,100.89 L86.8,101.01 L87.8,101.14 L88.8,101.27 L89.8,101.4 L90.8,101.54 L91.8,101.67 L92.8,101.8 L93.8,101.94 L94.8,102.07 L95.8,102.21 L96.8,102.35 L97.8,102.49 L98.8,102.63 L99.8,102.78 L100.8,102.93 L101.8,103.08 L102.8,103.23 L103.8,103.38 L104.8,103.54 L105.8,103.7 L106.8,103.86 L107.8,104.02 L108.8,104.18 L109.8,104.34 L110.8,104.5 L111.8,104.66 L112.8,104.82 L113.8,104.98 L114.8,105.14 L115.8,105.29 L116.8,105.45 L117.8,105.6 L118.8,105.75 L119.8,105.9 L120.8,106.04 L121.8,106.19 L122.8,106.33 L123.8,106.47 L124.8,106.6 L125.8,106.73 L126.8,106.86 L127.8,106.98 L128.8,107.1 L129.8,107.21 L130.8,107.33 L131.8,107.44 L132.8,107.56 L133.8,107.67 L134.8,107.78 L135.8,107.9 L136.8,108.01 L137.8,108.11 L138.8,108.22 L139.8,108.33 L140.8,108.43 L141.8,108.53 L142.8,108.63 L143.8,108.72 L144.8,108.82 L145.8,108.9 L146.8,108.99 L147.8,109.07 L148.8,109.15 L149.8,109.22 L150.8,109.29 L151.8,109.36 L152.8,109.42 L153.8,109.47 L154.8,109.52 L155.8,109.57 L156.8,109.6 L157.8,109.64 L158.8,109.66 L159.8,109.68 L160.8,109.7 L161.8,109.7 L162.8,109.7 L163.8,109.7 L164.8,109.68 L165.8,109.67 L166.8,109.64 L167.8,109.62 L168.8,109.58 L169.8,109.55 L170.8,109.51 L171.8,109.46 L172.8,109.41 L173.8,109.36 L174.8,109.3 L175.8,109.25 L176.8,109.18 L177.8,109.12 L178.8,109.05 L179.8,108.98 L180.8,108.9 L181.8,108.83 L182.8,108.75 L183.8,108.66 L184.8,108.58 L185.8,108.49 L186.8,108.4 L187.8,108.31 L188.8,108.21 L189.8,108.11 L190.8,108.01 L191.8,107.9 L192.8,107.79 L193.8,107.68 L194.8,107.55 L195.8,107.41 L196.8,107.27 L197.8,107.11 L198.8,106.95 L199.8,106.77 L200.8,106.58 L201.8,106.38 L202.8,106.17 L203.8,105.96 L204.8,105.73 L205.8,105.5 L206.8,105.26 L207.8,105.03 L208.8,104.79 L209.8,104.54 L210.8,104.3 L211.8,104.04 L212.8,103.77 L213.8,103.49 L214.8,103.2 L215.8,102.9 L216.8,102.59 L217.8,102.27 L218.8,101.95 L219.8,101.63 L220.8,101.32 L221.8,101.01 L222.8,100.72 L223.4,100.45" fill="none" stroke="#C43AFA" stroke-width="1.5" stroke-linejoin="round" stroke-linecap="butt"/>
<path d="M54.3,97.2 L55.3,97.7 L56.3,98.21 L57.3,98.71 L58.3,99.21 L59.3,99.71 L60.3,100.2 L61.3,100.7 L62.3,101.18 L63.3,101.66 L64.3,102.14 L65.3,102.61 L66.3,103.07 L67.3,103.54 L68.3,103.99 L69.3,104.45 L70.3,104.9 L71.3,105.34 L72.3,105.77 L73.3,106.19 L74.3,106.61 L75.3,107 L76.3,107.39 L77.3,107.77 L78.3,108.14 L79.3,108.5 L80.3,108.85 L81.3,109.19 L82.3,109.53 L83.3,109.86 L84.3,110.19 L85.3,110.51 L86.3,110.83 L87.3,111.14 L88.3,111.45 L89.3,111.75 L90.3,112.05 L91.3,112.34 L92.3,112.63 L93.3,112.91 L94.3,113.19 L95.3,113.46 L96.3,113.73 L97.3,113.99 L98.3,114.24 L99.3,114.49 L100.3,114.73 L101.3,114.97 L102.3,115.19 L103.3,115.41 L104.3,115.62 L105.3,115.83 L106.3,116.02 L107.3,116.21 L108.3,116.38 L109.3,116.55 L110.3,116.71 L111.3,116.86 L112.3,117 L113.3,117.14 L114.3,117.28 L115.3,117.42 L116.3,117.55 L117.3,117.67 L118.3,117.78 L119.3,117.87 L120.3,117.95 L121.3,118.01 L122.3,118.05 L123.3,118.08 L124.3,118.1 L125.3,118.1 L126.3,118.09 L127.3,118.08 L128.3,118.06 L129.3,118.04 L130.3,118 L131.3,117.97 L132.3,117.93 L133.3,117.88 L134.3,117.83 L135.3,117.77 L136.3,117.71 L137.3,117.65 L138.3,117.58 L139.3,117.5 L140.3,117.42 L141.3,117.33 L142.3,117.23 L143.3,117.13 L144.3,117.02 L145.3,116.9 L146.3,116.77 L147.3,116.64 L148.3,116.5 L149.3,116.36 L150.3,116.21 L151.3,116.06 L152.3,115.91 L153.3,115.76 L154.3,115.61 L155.3,115.46 L156.3,115.31 L157.3,115.15 L158.3,115 L159.3,114.84 L160.3,114.68 L161.3,114.52 L162.3,114.35 L163.3,114.19 L164.3,114.02 L165.3,113.86 L166.3,113.69 L167.3,113.52 L168.3,113.35 L169.3,113.18 L170.3,113.01 L171.3,112.84 L172.3,112.67 L173.3,112.5 L174.3,112.33 L175.3,112.16 L176.3,111.99 L177.3,111.82 L178.3,111.65 L179.3,111.48 L180.3,111.31 L181.3,111.14 L182.3,110.97 L183.3,110.81 L184.3,110.64 L185.3,110.47 L186.3,110.3 L187.3,110.14 L188.3,109.97 L189.3,109.81 L190.3,109.64 L191.3,109.48 L192.3,109.31 L193.3,109.15 L194.3,108.99 L195.3,108.82 L196.3,108.66 L197.3,108.5 L198.3,108.34 L199.3,108.18 L200.3,108.01 L201.3,107.85 L202.3,107.69 L203.3,107.53 L204.3,107.36 L205.3,107.2 L206.3,107.04 L207.3,106.88 L208.3,106.71 L209.3,106.55 L210.3,106.38 L211.3,106.22 L212.3,106.05 L213.3,105.88 L214.3,105.71 L215.3,105.54 L216.3,105.37 L217.3,105.2 L218.3,105.02 L219.3,104.85 L220.3,104.67 L221.3,104.49 L222.3,104.31 L223.3,104.14 L223.4,104.08 L223.4,110.08 L223.3,110.12 L222.3,110.16 L221.3,110.2 L220.3,110.24 L219.3,110.29 L218.3,110.34 L217.3,110.39 L216.3,110.44 L215.3,110.5 L214.3,110.55 L213.3,110.61 L212.3,110.67 L211.3,110.73 L210.3,110.79 L209.3,110.86 L208.3,110.92 L207.3,110.99 L206.3,111.06 L205.3,111.13 L204.3,111.2 L203.3,111.28 L202.3,111.35 L201.3,111.43 L200.3,111.52 L199.3,111.6 L198.3,111.69 L197.3,111.78 L196.3,111.87 L195.3,111.96 L194.3,112.05 L193.3,112.15 L192.3,112.25 L191.3,112.35 L190.3,112.46 L189.3,112.56 L188.3,112.67 L187.3,112.78 L186.3,112.9 L185.3,113.01 L184.3,113.13 L183.3,113.25 L182.3,113.37 L181.3,113.49 L180.3,113.62 L179.3,113.74 L178.3,113.87 L177.3,114 L176.3,114.14 L175.3,114.27 L174.3,114.4 L173.3,114.54 L172.3,114.68 L171.3,114.82 L170.3,114.96 L169.3,115.1 L168.3,115.24 L167.3,115.38 L166.3,115.52 L165.3,115.66 L164.3,115.81 L163.3,115.95 L162.3,116.09 L161.3,116.24 L160.3,116.38 L159.3,116.52 L158.3,116.66 L157.3,116.8 L156.3,116.94 L155.3,117.08 L154.3,117.22 L153.3,117.35 L152.3,117.49 L151.3,117.63 L150.3,117.77 L149.3,117.9 L148.3,118.04 L147.3,118.17 L146.3,118.29 L145.3,118.41 L144.3,118.53 L143.3,118.64 L142.3,118.74 L141.3,118.83 L140.3,118.92 L139.3,119 L138.3,119.08 L137.3,119.15 L136.3,119.22 L135.3,119.28 L134.3,119.34 L133.3,119.39 L132.3,119.44 L131.3,119.49 L130.3,119.53 L129.3,119.57 L128.3,119.61 L127.3,119.64 L126.3,119.66 L125.3,119.68 L124.3,119.69 L123.3,119.68 L122.3,119.67 L121.3,119.64 L120.3,119.6 L119.3,119.54 L118.3,119.46 L117.3,119.37 L116.3,119.27 L115.3,119.16 L114.3,119.05 L113.3,118.93 L112.3,118.81 L111.3,118.69 L110.3,118.57 L109.3,118.44 L108.3,118.3 L107.3,118.15 L106.3,118 L105.3,117.84 L104.3,117.67 L103.3,117.49 L102.3,117.31 L101.3,117.12 L100.3,116.92 L99.3,116.72 L98.3,116.51 L97.3,116.3 L96.3,116.09 L95.3,115.87 L94.3,115.64 L93.3,115.41 L92.3,115.18 L91.3,114.94 L90.3,114.7 L89.3,114.46 L88.3,114.21 L87.3,113.96 L86.3,113.71 L85.3,113.46 L84.3,113.2 L83.3,112.94 L82.3,112.67 L81.3,112.4 L80.3,112.13 L79.3,111.85 L78.3,111.57 L77.3,111.28 L76.3,110.98 L75.3,110.68 L74.3,110.36 L73.3,110.04 L72.3,109.71 L71.3,109.37 L70.3,109.02 L69.3,108.67 L68.3,108.31 L67.3,107.95 L66.3,107.59 L65.3,107.24 L64.3,106.88 L63.3,106.51 L62.3,106.15 L61.3,105.78 L60.3,105.41 L59.3,105.04 L58.3,104.67 L57.3,104.3 L56.3,103.93 L55.3,103.56 L54.3,103.2Z" fill="#0B7A14" fill-opacity="0.22" stroke="none"/>
<path d="M54.3,100.2 L55.3,100.63 L56.3,101.07 L57.3,101.5 L58.3,101.94 L59.3,102.37 L60.3,102.81 L61.3,103.24 L62.3,103.67 L63.3,104.09 L64.3,104.51 L65.3,104.92 L66.3,105.33 L67.3,105.74 L68.3,106.15 L69.3,106.56 L70.3,106.96 L71.3,107.35 L72.3,107.74 L73.3,108.12 L74.3,108.48 L75.3,108.84 L76.3,109.19 L77.3,109.53 L78.3,109.85 L79.3,110.17 L80.3,110.49 L81.3,110.8 L82.3,111.1 L83.3,111.4 L84.3,111.69 L85.3,111.98 L86.3,112.27 L87.3,112.55 L88.3,112.83 L89.3,113.11 L90.3,113.38 L91.3,113.64 L92.3,113.91 L93.3,114.16 L94.3,114.42 L95.3,114.66 L96.3,114.91 L97.3,115.15 L98.3,115.38 L99.3,115.61 L100.3,115.83 L101.3,116.04 L102.3,116.25 L103.3,116.45 L104.3,116.65 L105.3,116.83 L106.3,117.01 L107.3,117.18 L108.3,117.34 L109.3,117.49 L110.3,117.64 L111.3,117.78 L112.3,117.91 L113.3,118.04 L114.3,118.16 L115.3,118.29 L116.3,118.41 L117.3,118.52 L118.3,118.62 L119.3,118.7 L120.3,118.77 L121.3,118.82 L122.3,118.86 L123.3,118.88 L124.3,118.89 L125.3,118.89 L126.3,118.88 L127.3,118.86 L128.3,118.83 L129.3,118.8 L130.3,118.77 L131.3,118.73 L132.3,118.68 L133.3,118.64 L134.3,118.58 L135.3,118.53 L136.3,118.46 L137.3,118.4 L138.3,118.33 L139.3,118.25 L140.3,118.17 L141.3,118.08 L142.3,117.98 L143.3,117.88 L144.3,117.77 L145.3,117.66 L146.3,117.53 L147.3,117.4 L148.3,117.27 L149.3,117.13 L150.3,116.99 L151.3,116.84 L152.3,116.7 L153.3,116.56 L154.3,116.41 L155.3,116.27 L156.3,116.12 L157.3,115.98 L158.3,115.83 L159.3,115.68 L160.3,115.53 L161.3,115.38 L162.3,115.22 L163.3,115.07 L164.3,114.92 L165.3,114.76 L166.3,114.61 L167.3,114.45 L168.3,114.3 L169.3,114.14 L170.3,113.99 L171.3,113.83 L172.3,113.68 L173.3,113.52 L174.3,113.37 L175.3,113.21 L176.3,113.06 L177.3,112.91 L178.3,112.76 L179.3,112.61 L180.3,112.46 L181.3,112.32 L182.3,112.17 L183.3,112.03 L184.3,111.88 L185.3,111.74 L186.3,111.6 L187.3,111.46 L188.3,111.32 L189.3,111.18 L190.3,111.05 L191.3,110.91 L192.3,110.78 L193.3,110.65 L194.3,110.52 L195.3,110.39 L196.3,110.26 L197.3,110.14 L198.3,110.01 L199.3,109.89 L200.3,109.76 L201.3,109.64 L202.3,109.52 L203.3,109.4 L204.3,109.28 L205.3,109.16 L206.3,109.05 L207.3,108.93 L208.3,108.82 L209.3,108.7 L210.3,108.59 L211.3,108.47 L212.3,108.36 L213.3,108.25 L214.3,108.13 L215.3,108.02 L216.3,107.91 L217.3,107.8 L218.3,107.68 L219.3,107.57 L220.3,107.46 L221.3,107.34 L222.3,107.24 L223.3,107.13 L223.4,107.08" fill="none" stroke="#0B7A14" stroke-width="1.5" stroke-linejoin="round" stroke-linecap="butt"/>
<path d="M54.8,126.5 L55.8,126.13 L56.8,125.76 L57.8,125.39 L58.8,125.01 L59.8,124.62 L60.8,124.24 L61.8,123.86 L62.8,123.47 L63.8,123.1 L64.8,122.72 L65.8,122.35 L66.8,121.97 L67.8,121.59 L68.8,121.2 L69.8,120.82 L70.8,120.44 L71.8,120.09 L72.8,119.75 L73.8,119.44 L74.8,119.16 L75.8,118.91 L76.8,118.69 L77.8,118.5 L78.8,118.32 L79.8,118.15 L80.8,118 L81.8,117.87 L82.8,117.75 L83.8,117.64 L84.8,117.56 L85.8,117.49 L86.8,117.44 L87.8,117.41 L88.8,117.41 L89.8,117.43 L90.8,117.48 L91.8,117.55 L92.8,117.65 L93.8,117.77 L94.8,117.9 L95.8,118.05 L96.8,118.22 L97.8,118.4 L98.8,118.59 L99.8,118.79 L100.8,119 L101.8,119.23 L102.8,119.5 L103.8,119.8 L104.8,120.17 L105.8,120.58 L106.8,121.01 L107.8,121.44 L108.8,121.82 L109.8,122.16 L110.8,122.46 L111.8,122.74 L112.8,123 L113.8,123.24 L114.8,123.48 L115.8,123.72 L116.8,123.94 L117.8,124.16 L118.8,124.37 L119.8,124.57 L120.8,124.76 L121.8,124.94 L122.8,125.11 L123.8,125.27 L124.8,125.42 L125.8,125.56 L126.8,125.7 L127.8,125.82 L128.8,125.93 L129.8,126.03 L130.8,126.12 L131.8,126.19 L132.8,126.25 L133.8,126.29 L134.8,126.32 L135.8,126.34 L136.8,126.35 L137.8,126.35 L138.8,126.34 L139.8,126.33 L140.8,126.3 L141.8,126.27 L142.8,126.23 L143.8,126.19 L144.8,126.14 L145.8,126.08 L146.8,126.01 L147.8,125.94 L148.8,125.86 L149.8,125.78 L150.8,125.69 L151.8,125.59 L152.8,125.49 L153.8,125.38 L154.8,125.27 L155.8,125.15 L156.8,125.03 L157.8,124.9 L158.8,124.76 L159.8,124.62 L160.8,124.48 L161.8,124.33 L162.8,124.18 L163.8,124.03 L164.8,123.87 L165.8,123.71 L166.8,123.55 L167.8,123.38 L168.8,123.21 L169.8,123.04 L170.8,122.87 L171.8,122.69 L172.8,122.52 L173.8,122.34 L174.8,122.16 L175.8,121.97 L176.8,121.79 L177.8,121.6 L178.8,121.41 L179.8,121.22 L180.8,121.02 L181.8,120.83 L182.8,120.62 L183.8,120.42 L184.8,120.21 L185.8,120 L186.8,119.78 L187.8,119.56 L188.8,119.33 L189.8,119.1 L190.8,118.87 L191.8,118.63 L192.8,118.39 L193.8,118.15 L194.8,117.91 L195.8,117.67 L196.8,117.42 L197.8,117.18 L198.8,116.94 L199.8,116.69 L200.8,116.45 L201.8,116.2 L202.8,115.96 L203.8,115.71 L204.8,115.46 L205.8,115.21 L206.8,114.95 L207.8,114.69 L208.8,114.44 L209.8,114.17 L210.8,113.91 L211.8,113.64 L212.8,113.37 L213.8,113.1 L214.8,112.82 L215.8,112.54 L216.8,112.26 L217.8,111.97 L218.8,111.68 L219.8,111.39 L220.8,111.09 L221.8,110.8 L222.8,110.5 L223.4,110.27 L223.4,122.27 L222.8,122.31 L221.8,122.29 L220.8,122.29 L219.8,122.28 L218.8,122.29 L217.8,122.29 L216.8,122.3 L215.8,122.32 L214.8,122.33 L213.8,122.35 L212.8,122.38 L211.8,122.4 L210.8,122.43 L209.8,122.47 L208.8,122.5 L207.8,122.54 L206.8,122.58 L205.8,122.63 L204.8,122.68 L203.8,122.73 L202.8,122.79 L201.8,122.85 L200.8,122.91 L199.8,122.97 L198.8,123.05 L197.8,123.12 L196.8,123.2 L195.8,123.28 L194.8,123.37 L193.8,123.47 L192.8,123.56 L191.8,123.66 L190.8,123.76 L189.8,123.86 L188.8,123.96 L187.8,124.06 L186.8,124.16 L185.8,124.26 L184.8,124.36 L183.8,124.46 L182.8,124.56 L181.8,124.65 L180.8,124.75 L179.8,124.85 L178.8,124.95 L177.8,125.04 L176.8,125.15 L175.8,125.25 L174.8,125.35 L173.8,125.45 L172.8,125.56 L171.8,125.66 L170.8,125.77 L169.8,125.87 L168.8,125.98 L167.8,126.08 L166.8,126.19 L165.8,126.3 L164.8,126.4 L163.8,126.51 L162.8,126.61 L161.8,126.71 L160.8,126.82 L159.8,126.92 L158.8,127.02 L157.8,127.11 L156.8,127.2 L155.8,127.29 L154.8,127.38 L153.8,127.46 L152.8,127.54 L151.8,127.62 L150.8,127.69 L149.8,127.76 L148.8,127.83 L147.8,127.89 L146.8,127.94 L145.8,127.99 L144.8,128.04 L143.8,128.08 L142.8,128.12 L141.8,128.15 L140.8,128.18 L139.8,128.2 L138.8,128.22 L137.8,128.23 L136.8,128.23 L135.8,128.23 L134.8,128.22 L133.8,128.19 L132.8,128.16 L131.8,128.12 L130.8,128.06 L129.8,127.99 L128.8,127.91 L127.8,127.82 L126.8,127.72 L125.8,127.61 L124.8,127.49 L123.8,127.37 L122.8,127.24 L121.8,127.1 L120.8,126.96 L119.8,126.8 L118.8,126.64 L117.8,126.48 L116.8,126.31 L115.8,126.13 L114.8,125.94 L113.8,125.75 L112.8,125.56 L111.8,125.36 L110.8,125.14 L109.8,124.9 L108.8,124.63 L107.8,124.31 L106.8,123.95 L105.8,123.59 L104.8,123.25 L103.8,122.96 L102.8,122.74 L101.8,122.56 L100.8,122.41 L99.8,122.29 L98.8,122.18 L97.8,122.09 L96.8,122.01 L95.8,121.94 L94.8,121.9 L93.8,121.87 L92.8,121.87 L91.8,121.89 L90.8,121.93 L89.8,122.01 L88.8,122.12 L87.8,122.25 L86.8,122.41 L85.8,122.6 L84.8,122.81 L83.8,123.05 L82.8,123.3 L81.8,123.58 L80.8,123.88 L79.8,124.19 L78.8,124.53 L77.8,124.88 L76.8,125.26 L75.8,125.67 L74.8,126.11 L73.8,126.58 L72.8,127.09 L71.8,127.63 L70.8,128.2 L69.8,128.8 L68.8,129.4 L67.8,130.02 L66.8,130.63 L65.8,131.25 L64.8,131.88 L63.8,132.5 L62.8,133.14 L61.8,133.79 L60.8,134.45 L59.8,135.12 L58.8,135.79 L57.8,136.46 L56.8,137.14 L55.8,137.82 L54.8,138.5Z" fill="#4682B4" fill-opacity="0.22" stroke="none"/>
<path d="M54.8,132.5 L55.8,131.98 L56.8,131.45 L57.8,130.92 L58.8,130.4 L59.8,129.87 L60.8,129.35 L61.8,128.82 L62.8,128.31 L63.8,127.8 L64.8,127.3 L65.8,126.8 L66.8,126.3 L67.8,125.8 L68.8,125.3 L69.8,124.81 L70.8,124.32 L71.8,123.86 L72.8,123.42 L73.8,123.01 L74.8,122.64 L75.8,122.29 L76.8,121.98 L77.8,121.69 L78.8,121.42 L79.8,121.17 L80.8,120.94 L81.8,120.72 L82.8,120.52 L83.8,120.35 L84.8,120.18 L85.8,120.04 L86.8,119.93 L87.8,119.83 L88.8,119.76 L89.8,119.72 L90.8,119.71 L91.8,119.72 L92.8,119.76 L93.8,119.82 L94.8,119.9 L95.8,120 L96.8,120.11 L97.8,120.24 L98.8,120.38 L99.8,120.54 L100.8,120.71 L101.8,120.9 L102.8,121.12 L103.8,121.38 L104.8,121.71 L105.8,122.08 L106.8,122.48 L107.8,122.87 L108.8,123.22 L109.8,123.53 L110.8,123.8 L111.8,124.05 L112.8,124.28 L113.8,124.5 L114.8,124.71 L115.8,124.92 L116.8,125.12 L117.8,125.32 L118.8,125.51 L119.8,125.69 L120.8,125.86 L121.8,126.02 L122.8,126.17 L123.8,126.32 L124.8,126.46 L125.8,126.59 L126.8,126.71 L127.8,126.82 L128.8,126.92 L129.8,127.01 L130.8,127.09 L131.8,127.15 L132.8,127.2 L133.8,127.24 L134.8,127.27 L135.8,127.28 L136.8,127.29 L137.8,127.29 L138.8,127.28 L139.8,127.26 L140.8,127.24 L141.8,127.21 L142.8,127.18 L143.8,127.14 L144.8,127.09 L145.8,127.04 L146.8,126.98 L147.8,126.91 L148.8,126.84 L149.8,126.77 L150.8,126.69 L151.8,126.6 L152.8,126.52 L153.8,126.42 L154.8,126.32 L155.8,126.22 L156.8,126.12 L157.8,126 L158.8,125.89 L159.8,125.77 L160.8,125.65 L161.8,125.52 L162.8,125.4 L163.8,125.27 L164.8,125.14 L165.8,125 L166.8,124.87 L167.8,124.73 L168.8,124.6 L169.8,124.46 L170.8,124.32 L171.8,124.18 L172.8,124.04 L173.8,123.89 L174.8,123.75 L175.8,123.61 L176.8,123.47 L177.8,123.32 L178.8,123.18 L179.8,123.03 L180.8,122.89 L181.8,122.74 L182.8,122.59 L183.8,122.44 L184.8,122.29 L185.8,122.13 L186.8,121.97 L187.8,121.81 L188.8,121.65 L189.8,121.48 L190.8,121.31 L191.8,121.14 L192.8,120.98 L193.8,120.81 L194.8,120.64 L195.8,120.48 L196.8,120.31 L197.8,120.15 L198.8,119.99 L199.8,119.83 L200.8,119.68 L201.8,119.52 L202.8,119.37 L203.8,119.22 L204.8,119.07 L205.8,118.92 L206.8,118.77 L207.8,118.62 L208.8,118.47 L209.8,118.32 L210.8,118.17 L211.8,118.02 L212.8,117.87 L213.8,117.73 L214.8,117.58 L215.8,117.43 L216.8,117.28 L217.8,117.13 L218.8,116.98 L219.8,116.84 L220.8,116.69 L221.8,116.55 L222.8,116.41 L223.4,116.27" fill="none" stroke="#4682B4" stroke-width="1.5" stroke-linejoin="round" stroke-linecap="butt"/>
<path d="M54.8,110.5 L55.8,111.25 L56.8,111.99 L57.8,112.73 L58.8,113.46 L59.8,114.19 L60.8,114.92 L61.8,115.65 L62.8,116.39 L63.8,117.13 L64.8,117.88 L65.8,118.64 L66.8,119.42 L67.8,120.2 L68.8,121 L69.8,121.8 L70.8,122.61 L71.8,123.42 L72.8,124.22 L73.8,125.02 L74.8,125.81 L75.8,126.58 L76.8,127.33 L77.8,128.06 L78.8,128.78 L79.8,129.48 L80.8,130.16 L81.8,130.84 L82.8,131.5 L83.8,132.15 L84.8,132.78 L85.8,133.4 L86.8,133.99 L87.8,134.56 L88.8,135.11 L89.8,135.63 L90.8,136.14 L91.8,136.63 L92.8,137.11 L93.8,137.58 L94.8,138.04 L95.8,138.51 L96.8,138.96 L97.8,139.41 L98.8,139.85 L99.8,140.27 L100.8,140.68 L101.8,141.08 L102.8,141.45 L103.8,141.81 L104.8,142.14 L105.8,142.44 L106.8,142.72 L107.8,142.97 L108.8,143.18 L109.8,143.36 L110.8,143.5 L111.8,143.61 L112.8,143.69 L113.8,143.75 L114.8,143.78 L115.8,143.77 L116.8,143.74 L117.8,143.68 L118.8,143.6 L119.8,143.48 L120.8,143.34 L121.8,143.18 L122.8,143 L123.8,142.8 L124.8,142.57 L125.8,142.34 L126.8,142.09 L127.8,141.83 L128.8,141.55 L129.8,141.26 L130.8,140.96 L131.8,140.64 L132.8,140.31 L133.8,139.96 L134.8,139.61 L135.8,139.24 L136.8,138.87 L137.8,138.48 L138.8,138.09 L139.8,137.69 L140.8,137.28 L141.8,136.87 L142.8,136.45 L143.8,136.03 L144.8,135.6 L145.8,135.16 L146.8,134.72 L147.8,134.28 L148.8,133.83 L149.8,133.38 L150.8,132.93 L151.8,132.47 L152.8,132.01 L153.8,131.55 L154.8,131.08 L155.8,130.61 L156.8,130.13 L157.8,129.65 L158.8,129.15 L159.8,128.65 L160.8,128.14 L161.8,127.63 L162.8,127.1 L163.8,126.57 L164.8,126.04 L165.8,125.5 L166.8,124.96 L167.8,124.42 L168.8,123.87 L169.8,123.32 L170.8,122.77 L171.8,122.22 L172.8,121.67 L173.8,121.12 L174.8,120.57 L175.8,120.02 L176.8,119.48 L177.8,118.93 L178.8,118.4 L179.8,117.86 L180.8,117.33 L181.8,116.8 L182.8,116.28 L183.8,115.75 L184.8,115.23 L185.8,114.71 L186.8,114.19 L187.8,113.67 L188.8,113.15 L189.8,112.63 L190.8,112.11 L191.8,111.59 L192.8,111.07 L193.8,110.55 L194.8,110.02 L195.8,109.5 L196.8,108.97 L197.8,108.45 L198.8,107.92 L199.8,107.39 L200.8,106.86 L201.8,106.33 L202.8,105.79 L203.8,105.26 L204.8,104.72 L205.8,104.18 L206.8,103.64 L207.8,103.09 L208.8,102.55 L209.8,102 L210.8,101.46 L211.8,100.91 L212.8,100.37 L213.8,99.82 L214.8,99.28 L215.8,98.73 L216.8,98.19 L217.8,97.64 L218.8,97.09 L219.8,96.54 L220.8,95.98 L221.8,95.43 L222.8,94.89 L223.4,94.43 L223.4,106.43 L222.8,106.7 L221.8,106.93 L220.8,107.17 L219.8,107.43 L218.8,107.69 L217.8,107.96 L216.8,108.23 L215.8,108.51 L214.8,108.79 L213.8,109.08 L212.8,109.37 L211.8,109.67 L210.8,109.98 L209.8,110.29 L208.8,110.61 L207.8,110.94 L206.8,111.27 L205.8,111.6 L204.8,111.94 L203.8,112.28 L202.8,112.62 L201.8,112.97 L200.8,113.32 L199.8,113.67 L198.8,114.03 L197.8,114.39 L196.8,114.75 L195.8,115.12 L194.8,115.49 L193.8,115.86 L192.8,116.24 L191.8,116.62 L190.8,117 L189.8,117.39 L188.8,117.78 L187.8,118.17 L186.8,118.57 L185.8,118.98 L184.8,119.38 L183.8,119.79 L182.8,120.21 L181.8,120.63 L180.8,121.06 L179.8,121.49 L178.8,121.93 L177.8,122.38 L176.8,122.83 L175.8,123.29 L174.8,123.76 L173.8,124.23 L172.8,124.7 L171.8,125.18 L170.8,125.66 L169.8,126.14 L168.8,126.63 L167.8,127.11 L166.8,127.6 L165.8,128.08 L164.8,128.56 L163.8,129.04 L162.8,129.52 L161.8,129.99 L160.8,130.46 L159.8,130.93 L158.8,131.39 L157.8,131.85 L156.8,132.29 L155.8,132.74 L154.8,133.18 L153.8,133.61 L152.8,134.04 L151.8,134.47 L150.8,134.9 L149.8,135.33 L148.8,135.76 L147.8,136.19 L146.8,136.61 L145.8,137.04 L144.8,137.46 L143.8,137.87 L142.8,138.29 L141.8,138.7 L140.8,139.1 L139.8,139.5 L138.8,139.9 L137.8,140.29 L136.8,140.67 L135.8,141.05 L134.8,141.42 L133.8,141.78 L132.8,142.13 L131.8,142.47 L130.8,142.8 L129.8,143.11 L128.8,143.42 L127.8,143.71 L126.8,143.99 L125.8,144.25 L124.8,144.51 L123.8,144.75 L122.8,144.98 L121.8,145.19 L120.8,145.38 L119.8,145.55 L118.8,145.69 L117.8,145.81 L116.8,145.91 L115.8,145.97 L114.8,146.01 L113.8,146.03 L112.8,146.02 L111.8,145.98 L110.8,145.91 L109.8,145.82 L108.8,145.69 L107.8,145.53 L106.8,145.34 L105.8,145.12 L104.8,144.88 L103.8,144.61 L102.8,144.32 L101.8,144.01 L100.8,143.69 L99.8,143.35 L98.8,143 L97.8,142.64 L96.8,142.28 L95.8,141.9 L94.8,141.52 L93.8,141.15 L92.8,140.77 L91.8,140.38 L90.8,139.99 L89.8,139.59 L88.8,139.16 L87.8,138.72 L86.8,138.27 L85.8,137.79 L84.8,137.29 L83.8,136.78 L82.8,136.25 L81.8,135.72 L80.8,135.17 L79.8,134.62 L78.8,134.06 L77.8,133.49 L76.8,132.91 L75.8,132.3 L74.8,131.69 L73.8,131.06 L72.8,130.43 L71.8,129.79 L70.8,129.16 L69.8,128.53 L68.8,127.9 L67.8,127.29 L66.8,126.7 L65.8,126.13 L64.8,125.57 L63.8,125.02 L62.8,124.49 L61.8,123.97 L60.8,123.46 L59.8,122.96 L58.8,122.46 L57.8,121.97 L56.8,121.48 L55.8,120.99 L54.8,120.5Z" fill="#7A1488" fill-opacity="0.22" stroke="none"/>
<path d="M54.8,115.5 L55.8,116.12 L56.8,116.73 L57.8,117.35 L58.8,117.96 L59.8,118.58 L60.8,119.19 L61.8,119.81 L62.8,120.44 L63.8,121.08 L64.8,121.73 L65.8,122.39 L66.8,123.06 L67.8,123.75 L68.8,124.45 L69.8,125.16 L70.8,125.88 L71.8,126.61 L72.8,127.33 L73.8,128.04 L74.8,128.75 L75.8,129.44 L76.8,130.12 L77.8,130.78 L78.8,131.42 L79.8,132.05 L80.8,132.67 L81.8,133.28 L82.8,133.88 L83.8,134.47 L84.8,135.04 L85.8,135.59 L86.8,136.13 L87.8,136.64 L88.8,137.14 L89.8,137.61 L90.8,138.06 L91.8,138.5 L92.8,138.94 L93.8,139.36 L94.8,139.78 L95.8,140.2 L96.8,140.62 L97.8,141.03 L98.8,141.43 L99.8,141.81 L100.8,142.19 L101.8,142.55 L102.8,142.89 L103.8,143.21 L104.8,143.51 L105.8,143.78 L106.8,144.03 L107.8,144.25 L108.8,144.43 L109.8,144.59 L110.8,144.71 L111.8,144.79 L112.8,144.86 L113.8,144.89 L114.8,144.9 L115.8,144.87 L116.8,144.82 L117.8,144.75 L118.8,144.64 L119.8,144.51 L120.8,144.36 L121.8,144.19 L122.8,143.99 L123.8,143.77 L124.8,143.54 L125.8,143.3 L126.8,143.04 L127.8,142.77 L128.8,142.48 L129.8,142.19 L130.8,141.88 L131.8,141.56 L132.8,141.22 L133.8,140.87 L134.8,140.51 L135.8,140.15 L136.8,139.77 L137.8,139.39 L138.8,138.99 L139.8,138.6 L140.8,138.19 L141.8,137.78 L142.8,137.37 L143.8,136.95 L144.8,136.53 L145.8,136.1 L146.8,135.67 L147.8,135.23 L148.8,134.8 L149.8,134.36 L150.8,133.92 L151.8,133.47 L152.8,133.03 L153.8,132.58 L154.8,132.13 L155.8,131.68 L156.8,131.21 L157.8,130.75 L158.8,130.27 L159.8,129.79 L160.8,129.3 L161.8,128.81 L162.8,128.31 L163.8,127.81 L164.8,127.3 L165.8,126.79 L166.8,126.28 L167.8,125.77 L168.8,125.25 L169.8,124.73 L170.8,124.22 L171.8,123.7 L172.8,123.19 L173.8,122.67 L174.8,122.16 L175.8,121.66 L176.8,121.16 L177.8,120.66 L178.8,120.16 L179.8,119.68 L180.8,119.19 L181.8,118.72 L182.8,118.24 L183.8,117.77 L184.8,117.31 L185.8,116.84 L186.8,116.38 L187.8,115.92 L188.8,115.47 L189.8,115.01 L190.8,114.56 L191.8,114.1 L192.8,113.65 L193.8,113.2 L194.8,112.75 L195.8,112.31 L196.8,111.86 L197.8,111.42 L198.8,110.97 L199.8,110.53 L200.8,110.09 L201.8,109.65 L202.8,109.21 L203.8,108.77 L204.8,108.33 L205.8,107.89 L206.8,107.45 L207.8,107.01 L208.8,106.58 L209.8,106.15 L210.8,105.72 L211.8,105.29 L212.8,104.87 L213.8,104.45 L214.8,104.03 L215.8,103.62 L216.8,103.21 L217.8,102.8 L218.8,102.39 L219.8,101.98 L220.8,101.58 L221.8,101.18 L222.8,100.8 L223.4,100.43" fill="none" stroke="#7A1488" stroke-width="1.5" stroke-linejoin="round" stroke-linecap="butt"/>
<path d="M79.3,22.91 L83.04,28.56 L76.6,29.12Z" fill="#CF3D55"/>
<path d="M88.8,44.4 L92.03,50.35 L85.57,50.35Z" fill="#D8F20F"/>
<path d="M105.5,47.81 L109.24,53.46 L102.8,54.02Z" fill="#E8922A"/>
<path d="M99,106.5 L95.77,100.55 L102.23,100.55Z" fill="#C43AFA"/>
<path d="M54.6,103.6 L51.37,97.65 L57.83,97.65Z" fill="#0B7A14"/>
<path d="M78.9,134.9 L75.67,128.95 L82.13,128.95Z" fill="#7A1488"/>
<path d="M109.9,127 L106.67,121.05 L113.13,121.05Z" fill="#4682B4"/>
<line x1="274.6" y1="5.1" x2="274.6" y2="149.8" stroke="#7a7a7a" stroke-width="0.8"/>
<line x1="274.6" y1="149.8" x2="451.6" y2="149.8" stroke="#c4c4c4" stroke-width="1.3"/>
<line x1="271" y1="30.2" x2="274.6" y2="30.2" stroke="#9a9a9a" stroke-width="0.8"/>
<text transform="translate(267.2 32.9) scale(0.85 1)" font-size="9" text-anchor="end" fill="#141414" stroke="#141414" stroke-width="0.18">1.0</text>
<line x1="271" y1="59.5" x2="274.6" y2="59.5" stroke="#9a9a9a" stroke-width="0.8"/>
<text transform="translate(267.2 62.2) scale(0.85 1)" font-size="9" text-anchor="end" fill="#141414" stroke="#141414" stroke-width="0.18">0.5</text>
<line x1="271" y1="88.5" x2="274.6" y2="88.5" stroke="#9a9a9a" stroke-width="0.8"/>
<text transform="translate(267.2 91.2) scale(0.85 1)" font-size="9" text-anchor="end" fill="#141414" stroke="#141414" stroke-width="0.18">0</text>
<line x1="271" y1="118" x2="274.6" y2="118" stroke="#9a9a9a" stroke-width="0.8"/>
<text transform="translate(267.2 120.7) scale(0.85 1)" font-size="9" text-anchor="end" fill="#141414" stroke="#141414" stroke-width="0.18">−0.5</text>
<line x1="271" y1="147.3" x2="274.6" y2="147.3" stroke="#9a9a9a" stroke-width="0.8"/>
<text transform="translate(267.2 150) scale(0.85 1)" font-size="9" text-anchor="end" fill="#141414" stroke="#141414" stroke-width="0.18">−1.0</text>
<line x1="290.8" y1="149.8" x2="290.8" y2="153.4" stroke="#9a9a9a" stroke-width="0.8"/>
<text transform="translate(290.8 162.8) scale(0.85 1)" font-size="9" text-anchor="middle" fill="#141414" stroke="#141414" stroke-width="0.18">1</text>
<line x1="301.2" y1="149.8" x2="301.2" y2="153.4" stroke="#9a9a9a" stroke-width="0.8"/>
<text transform="translate(301.2 162.8) scale(0.85 1)" font-size="9" text-anchor="middle" fill="#141414" stroke="#141414" stroke-width="0.18">2</text>
<line x1="315.6" y1="149.8" x2="315.6" y2="153.4" stroke="#9a9a9a" stroke-width="0.8"/>
<text transform="translate(315.6 162.8) scale(0.85 1)" font-size="9" text-anchor="middle" fill="#141414" stroke="#141414" stroke-width="0.18">5</text>
<line x1="330.7" y1="149.8" x2="330.7" y2="153.4" stroke="#9a9a9a" stroke-width="0.8"/>
<text transform="translate(330.7 162.8) scale(0.85 1)" font-size="9" text-anchor="middle" fill="#141414" stroke="#141414" stroke-width="0.18">10</text>
<line x1="362.4" y1="149.8" x2="362.4" y2="153.4" stroke="#9a9a9a" stroke-width="0.8"/>
<text transform="translate(362.4 162.8) scale(0.85 1)" font-size="9" text-anchor="middle" fill="#141414" stroke="#141414" stroke-width="0.18">25</text>
<line x1="397.5" y1="149.8" x2="397.5" y2="153.4" stroke="#9a9a9a" stroke-width="0.8"/>
<text transform="translate(397.5 162.8) scale(0.85 1)" font-size="9" text-anchor="middle" fill="#141414" stroke="#141414" stroke-width="0.18">50</text>
<line x1="429.5" y1="149.8" x2="429.5" y2="153.4" stroke="#9a9a9a" stroke-width="0.8"/>
<text transform="translate(429.5 162.8) scale(0.85 1)" font-size="9" text-anchor="middle" fill="#141414" stroke="#141414" stroke-width="0.18">80</text>
<text transform="translate(246 77.4) rotate(-90) scale(0.85 1)" font-size="9" text-anchor="middle" fill="#141414" stroke="#141414" stroke-width="0.18">VS value</text>
<text transform="translate(357.6 177) scale(0.85 1)" font-size="9" text-anchor="middle" fill="#141414" stroke="#141414" stroke-width="0.18">Age (years)</text>
<path d="M279.7,82.1 L280.7,82.15 L281.7,82.19 L282.7,82.24 L283.7,82.29 L284.7,82.33 L285.7,82.38 L286.7,82.42 L287.7,82.47 L288.7,82.51 L289.7,82.56 L290.7,82.6 L291.7,82.64 L292.7,82.68 L293.7,82.72 L294.7,82.75 L295.7,82.79 L296.7,82.82 L297.7,82.86 L298.7,82.89 L299.7,82.92 L300.7,82.95 L301.7,82.98 L302.7,83.01 L303.7,83.04 L304.7,83.07 L305.7,83.1 L306.7,83.13 L307.7,83.15 L308.7,83.18 L309.7,83.21 L310.7,83.24 L311.7,83.26 L312.7,83.29 L313.7,83.31 L314.7,83.33 L315.7,83.35 L316.7,83.37 L317.7,83.39 L318.7,83.4 L319.7,83.42 L320.7,83.43 L321.7,83.43 L322.7,83.44 L323.7,83.44 L324.7,83.44 L325.7,83.44 L326.7,83.43 L327.7,83.42 L328.7,83.41 L329.7,83.39 L330.7,83.37 L331.7,83.35 L332.7,83.32 L333.7,83.29 L334.7,83.26 L335.7,83.23 L336.7,83.19 L337.7,83.16 L338.7,83.12 L339.7,83.08 L340.7,83.03 L341.7,82.99 L342.7,82.94 L343.7,82.9 L344.7,82.85 L345.7,82.8 L346.7,82.75 L347.7,82.7 L348.7,82.65 L349.7,82.6 L350.7,82.55 L351.7,82.5 L352.7,82.45 L353.7,82.39 L354.7,82.34 L355.7,82.29 L356.7,82.23 L357.7,82.17 L358.7,82.11 L359.7,82.04 L360.7,81.97 L361.7,81.9 L362.7,81.83 L363.7,81.75 L364.7,81.67 L365.7,81.6 L366.7,81.52 L367.7,81.45 L368.7,81.37 L369.7,81.3 L370.7,81.23 L371.7,81.17 L372.7,81.11 L373.7,81.05 L374.7,80.99 L375.7,80.95 L376.7,80.9 L377.7,80.86 L378.7,80.83 L379.7,80.8 L380.7,80.78 L381.7,80.76 L382.7,80.75 L383.7,80.74 L384.7,80.73 L385.7,80.72 L386.7,80.72 L387.7,80.72 L388.7,80.72 L389.7,80.73 L390.7,80.73 L391.7,80.74 L392.7,80.75 L393.7,80.76 L394.7,80.77 L395.7,80.78 L396.7,80.8 L397.7,80.81 L398.7,80.83 L399.7,80.84 L400.7,80.86 L401.7,80.88 L402.7,80.89 L403.7,80.91 L404.7,80.93 L405.7,80.94 L406.7,80.96 L407.7,80.98 L408.7,80.99 L409.7,81.01 L410.7,81.03 L411.7,81.05 L412.7,81.07 L413.7,81.09 L414.7,81.11 L415.7,81.13 L416.7,81.16 L417.7,81.19 L418.7,81.22 L419.7,81.25 L420.7,81.29 L421.7,81.32 L422.7,81.36 L423.7,81.39 L424.7,81.43 L425.7,81.47 L426.7,81.5 L427.7,81.54 L428.7,81.57 L429.7,81.6 L430.7,81.64 L431.7,81.67 L432.7,81.7 L433.7,81.74 L434.7,81.77 L435.7,81.8 L436.7,81.84 L437.7,81.87 L438.7,81.91 L439.7,81.94 L440.7,81.97 L441.7,82.01 L442.7,82.04 L443.7,82.07 L444.7,82.1 L445.7,82.13 L446.7,82.15 L447.7,82.18 L448.4,82.21 L448.4,86.21 L447.7,86.12 L446.7,86.02 L445.7,85.91 L444.7,85.81 L443.7,85.7 L442.7,85.6 L441.7,85.49 L440.7,85.39 L439.7,85.29 L438.7,85.19 L437.7,85.09 L436.7,84.99 L435.7,84.9 L434.7,84.8 L433.7,84.71 L432.7,84.62 L431.7,84.53 L430.7,84.45 L429.7,84.36 L428.7,84.28 L427.7,84.19 L426.7,84.11 L425.7,84.03 L424.7,83.94 L423.7,83.86 L422.7,83.78 L421.7,83.7 L420.7,83.63 L419.7,83.56 L418.7,83.48 L417.7,83.42 L416.7,83.35 L415.7,83.29 L414.7,83.23 L413.7,83.17 L412.7,83.12 L411.7,83.07 L410.7,83.02 L409.7,82.97 L408.7,82.93 L407.7,82.88 L406.7,82.84 L405.7,82.8 L404.7,82.75 L403.7,82.71 L402.7,82.67 L401.7,82.63 L400.7,82.59 L399.7,82.56 L398.7,82.52 L397.7,82.49 L396.7,82.45 L395.7,82.42 L394.7,82.39 L393.7,82.36 L392.7,82.34 L391.7,82.31 L390.7,82.29 L389.7,82.27 L388.7,82.25 L387.7,82.23 L386.7,82.22 L385.7,82.21 L384.7,82.2 L383.7,82.2 L382.7,82.2 L381.7,82.2 L380.7,82.21 L379.7,82.23 L378.7,82.25 L377.7,82.27 L376.7,82.3 L375.7,82.34 L374.7,82.38 L373.7,82.43 L372.7,82.48 L371.7,82.54 L370.7,82.6 L369.7,82.66 L368.7,82.73 L367.7,82.8 L366.7,82.87 L365.7,82.95 L364.7,83.02 L363.7,83.09 L362.7,83.17 L361.7,83.24 L360.7,83.31 L359.7,83.38 L358.7,83.45 L357.7,83.51 L356.7,83.57 L355.7,83.63 L354.7,83.69 L353.7,83.74 L352.7,83.79 L351.7,83.85 L350.7,83.9 L349.7,83.96 L348.7,84.01 L347.7,84.07 L346.7,84.12 L345.7,84.18 L344.7,84.23 L343.7,84.29 L342.7,84.34 L341.7,84.39 L340.7,84.44 L339.7,84.49 L338.7,84.54 L337.7,84.59 L336.7,84.64 L335.7,84.68 L334.7,84.72 L333.7,84.76 L332.7,84.8 L331.7,84.84 L330.7,84.88 L329.7,84.91 L328.7,84.94 L327.7,84.96 L326.7,84.99 L325.7,85.01 L324.7,85.03 L323.7,85.04 L322.7,85.06 L321.7,85.07 L320.7,85.08 L319.7,85.08 L318.7,85.09 L317.7,85.09 L316.7,85.09 L315.7,85.1 L314.7,85.1 L313.7,85.1 L312.7,85.09 L311.7,85.09 L310.7,85.09 L309.7,85.09 L308.7,85.08 L307.7,85.08 L306.7,85.08 L305.7,85.08 L304.7,85.07 L303.7,85.07 L302.7,85.07 L301.7,85.07 L300.7,85.07 L299.7,85.07 L298.7,85.08 L297.7,85.08 L296.7,85.08 L295.7,85.08 L294.7,85.08 L293.7,85.08 L292.7,85.08 L291.7,85.08 L290.7,85.08 L289.7,85.08 L288.7,85.08 L287.7,85.08 L286.7,85.08 L285.7,85.08 L284.7,85.08 L283.7,85.08 L282.7,85.09 L281.7,85.09 L280.7,85.09 L279.7,85.1Z" fill="#E8922A" fill-opacity="0.22" stroke="none"/>
<path d="M279.7,83.6 L280.7,83.62 L281.7,83.64 L282.7,83.66 L283.7,83.68 L284.7,83.71 L285.7,83.73 L286.7,83.75 L287.7,83.77 L288.7,83.8 L289.7,83.82 L290.7,83.84 L291.7,83.86 L292.7,83.88 L293.7,83.9 L294.7,83.92 L295.7,83.94 L296.7,83.95 L297.7,83.97 L298.7,83.98 L299.7,84 L300.7,84.01 L301.7,84.02 L302.7,84.04 L303.7,84.05 L304.7,84.07 L305.7,84.09 L306.7,84.1 L307.7,84.12 L308.7,84.13 L309.7,84.15 L310.7,84.16 L311.7,84.18 L312.7,84.19 L313.7,84.2 L314.7,84.21 L315.7,84.22 L316.7,84.23 L317.7,84.24 L318.7,84.25 L319.7,84.25 L320.7,84.25 L321.7,84.25 L322.7,84.25 L323.7,84.24 L324.7,84.23 L325.7,84.22 L326.7,84.21 L327.7,84.19 L328.7,84.17 L329.7,84.15 L330.7,84.12 L331.7,84.09 L332.7,84.06 L333.7,84.03 L334.7,83.99 L335.7,83.95 L336.7,83.91 L337.7,83.87 L338.7,83.83 L339.7,83.78 L340.7,83.74 L341.7,83.69 L342.7,83.64 L343.7,83.59 L344.7,83.54 L345.7,83.49 L346.7,83.44 L347.7,83.38 L348.7,83.33 L349.7,83.28 L350.7,83.23 L351.7,83.17 L352.7,83.12 L353.7,83.07 L354.7,83.01 L355.7,82.96 L356.7,82.9 L357.7,82.84 L358.7,82.78 L359.7,82.71 L360.7,82.64 L361.7,82.57 L362.7,82.5 L363.7,82.42 L364.7,82.35 L365.7,82.27 L366.7,82.2 L367.7,82.12 L368.7,82.05 L369.7,81.98 L370.7,81.92 L371.7,81.85 L372.7,81.79 L373.7,81.74 L374.7,81.69 L375.7,81.64 L376.7,81.6 L377.7,81.57 L378.7,81.54 L379.7,81.51 L380.7,81.5 L381.7,81.48 L382.7,81.47 L383.7,81.47 L384.7,81.47 L385.7,81.47 L386.7,81.47 L387.7,81.48 L388.7,81.49 L389.7,81.5 L390.7,81.51 L391.7,81.53 L392.7,81.54 L393.7,81.56 L394.7,81.58 L395.7,81.6 L396.7,81.63 L397.7,81.65 L398.7,81.67 L399.7,81.7 L400.7,81.73 L401.7,81.75 L402.7,81.78 L403.7,81.81 L404.7,81.84 L405.7,81.87 L406.7,81.9 L407.7,81.93 L408.7,81.96 L409.7,81.99 L410.7,82.02 L411.7,82.06 L412.7,82.09 L413.7,82.13 L414.7,82.17 L415.7,82.21 L416.7,82.26 L417.7,82.3 L418.7,82.35 L419.7,82.4 L420.7,82.46 L421.7,82.51 L422.7,82.57 L423.7,82.63 L424.7,82.69 L425.7,82.75 L426.7,82.81 L427.7,82.86 L428.7,82.92 L429.7,82.98 L430.7,83.04 L431.7,83.1 L432.7,83.16 L433.7,83.22 L434.7,83.29 L435.7,83.35 L436.7,83.42 L437.7,83.48 L438.7,83.55 L439.7,83.61 L440.7,83.68 L441.7,83.75 L442.7,83.82 L443.7,83.89 L444.7,83.95 L445.7,84.02 L446.7,84.08 L447.7,84.15 L448.4,84.21" fill="none" stroke="#E8922A" stroke-width="1.5" stroke-linejoin="round" stroke-linecap="butt"/>
<path d="M279.7,81.6 L280.7,82.26 L281.7,82.91 L282.7,83.57 L283.7,84.23 L284.7,84.89 L285.7,85.54 L286.7,86.19 L287.7,86.82 L288.7,87.44 L289.7,88.05 L290.7,88.66 L291.7,89.25 L292.7,89.85 L293.7,90.43 L294.7,91.01 L295.7,91.58 L296.7,92.13 L297.7,92.67 L298.7,93.18 L299.7,93.68 L300.7,94.15 L301.7,94.6 L302.7,95.04 L303.7,95.45 L304.7,95.85 L305.7,96.24 L306.7,96.61 L307.7,96.97 L308.7,97.32 L309.7,97.64 L310.7,97.96 L311.7,98.26 L312.7,98.55 L313.7,98.82 L314.7,99.07 L315.7,99.32 L316.7,99.55 L317.7,99.77 L318.7,99.97 L319.7,100.17 L320.7,100.35 L321.7,100.52 L322.7,100.67 L323.7,100.81 L324.7,100.94 L325.7,101.05 L326.7,101.14 L327.7,101.22 L328.7,101.28 L329.7,101.31 L330.7,101.33 L331.7,101.33 L332.7,101.31 L333.7,101.27 L334.7,101.22 L335.7,101.15 L336.7,101.08 L337.7,101 L338.7,100.91 L339.7,100.82 L340.7,100.72 L341.7,100.61 L342.7,100.49 L343.7,100.37 L344.7,100.24 L345.7,100.1 L346.7,99.95 L347.7,99.8 L348.7,99.64 L349.7,99.47 L350.7,99.3 L351.7,99.12 L352.7,98.93 L353.7,98.74 L354.7,98.53 L355.7,98.32 L356.7,98.1 L357.7,97.87 L358.7,97.63 L359.7,97.39 L360.7,97.14 L361.7,96.88 L362.7,96.63 L363.7,96.37 L364.7,96.11 L365.7,95.86 L366.7,95.6 L367.7,95.35 L368.7,95.09 L369.7,94.84 L370.7,94.58 L371.7,94.33 L372.7,94.07 L373.7,93.81 L374.7,93.55 L375.7,93.29 L376.7,93.04 L377.7,92.78 L378.7,92.53 L379.7,92.29 L380.7,92.04 L381.7,91.8 L382.7,91.56 L383.7,91.32 L384.7,91.08 L385.7,90.84 L386.7,90.61 L387.7,90.38 L388.7,90.15 L389.7,89.93 L390.7,89.7 L391.7,89.49 L392.7,89.27 L393.7,89.06 L394.7,88.85 L395.7,88.64 L396.7,88.44 L397.7,88.24 L398.7,88.04 L399.7,87.84 L400.7,87.65 L401.7,87.47 L402.7,87.29 L403.7,87.12 L404.7,86.95 L405.7,86.78 L406.7,86.62 L407.7,86.46 L408.7,86.31 L409.7,86.15 L410.7,86 L411.7,85.85 L412.7,85.7 L413.7,85.55 L414.7,85.4 L415.7,85.26 L416.7,85.11 L417.7,84.97 L418.7,84.83 L419.7,84.69 L420.7,84.55 L421.7,84.41 L422.7,84.27 L423.7,84.13 L424.7,84 L425.7,83.86 L426.7,83.73 L427.7,83.6 L428.7,83.47 L429.7,83.35 L430.7,83.22 L431.7,83.1 L432.7,82.98 L433.7,82.86 L434.7,82.74 L435.7,82.63 L436.7,82.51 L437.7,82.39 L438.7,82.28 L439.7,82.16 L440.7,82.04 L441.7,81.93 L442.7,81.81 L443.7,81.69 L444.7,81.57 L445.7,81.44 L446.7,81.32 L447.7,81.2 L448.4,81.09 L448.4,85.09 L447.7,85.14 L446.7,85.18 L445.7,85.23 L444.7,85.27 L443.7,85.32 L442.7,85.36 L441.7,85.41 L440.7,85.46 L439.7,85.51 L438.7,85.56 L437.7,85.61 L436.7,85.67 L435.7,85.72 L434.7,85.78 L433.7,85.84 L432.7,85.9 L431.7,85.96 L430.7,86.03 L429.7,86.1 L428.7,86.18 L427.7,86.26 L426.7,86.34 L425.7,86.42 L424.7,86.51 L423.7,86.6 L422.7,86.69 L421.7,86.79 L420.7,86.89 L419.7,86.99 L418.7,87.09 L417.7,87.2 L416.7,87.3 L415.7,87.41 L414.7,87.52 L413.7,87.64 L412.7,87.75 L411.7,87.87 L410.7,87.99 L409.7,88.11 L408.7,88.24 L407.7,88.37 L406.7,88.5 L405.7,88.64 L404.7,88.78 L403.7,88.92 L402.7,89.07 L401.7,89.23 L400.7,89.39 L399.7,89.56 L398.7,89.73 L397.7,89.91 L396.7,90.09 L395.7,90.28 L394.7,90.47 L393.7,90.66 L392.7,90.86 L391.7,91.06 L390.7,91.26 L389.7,91.46 L388.7,91.68 L387.7,91.89 L386.7,92.11 L385.7,92.33 L384.7,92.55 L383.7,92.78 L382.7,93.01 L381.7,93.24 L380.7,93.48 L379.7,93.71 L378.7,93.95 L377.7,94.19 L376.7,94.44 L375.7,94.69 L374.7,94.94 L373.7,95.19 L372.7,95.44 L371.7,95.7 L370.7,95.95 L369.7,96.2 L368.7,96.45 L367.7,96.7 L366.7,96.95 L365.7,97.2 L364.7,97.46 L363.7,97.71 L362.7,97.97 L361.7,98.22 L360.7,98.48 L359.7,98.73 L358.7,98.97 L357.7,99.21 L356.7,99.44 L355.7,99.66 L354.7,99.88 L353.7,100.08 L352.7,100.28 L351.7,100.47 L350.7,100.65 L349.7,100.83 L348.7,101 L347.7,101.16 L346.7,101.32 L345.7,101.47 L344.7,101.62 L343.7,101.76 L342.7,101.89 L341.7,102.01 L340.7,102.12 L339.7,102.23 L338.7,102.33 L337.7,102.43 L336.7,102.52 L335.7,102.6 L334.7,102.68 L333.7,102.74 L332.7,102.79 L331.7,102.82 L330.7,102.83 L329.7,102.83 L328.7,102.8 L327.7,102.76 L326.7,102.7 L325.7,102.62 L324.7,102.52 L323.7,102.41 L322.7,102.29 L321.7,102.15 L320.7,102 L319.7,101.84 L318.7,101.66 L317.7,101.47 L316.7,101.27 L315.7,101.06 L314.7,100.84 L313.7,100.6 L312.7,100.35 L311.7,100.09 L310.7,99.81 L309.7,99.52 L308.7,99.22 L307.7,98.9 L306.7,98.57 L305.7,98.22 L304.7,97.86 L303.7,97.49 L302.7,97.1 L301.7,96.7 L300.7,96.28 L299.7,95.83 L298.7,95.37 L297.7,94.89 L296.7,94.39 L295.7,93.87 L294.7,93.34 L293.7,92.8 L292.7,92.25 L291.7,91.7 L290.7,91.14 L289.7,90.58 L288.7,90.01 L287.7,89.43 L286.7,88.84 L285.7,88.24 L284.7,87.64 L283.7,87.03 L282.7,86.42 L281.7,85.81 L280.7,85.2 L279.7,84.6Z" fill="#CF3D55" fill-opacity="0.22" stroke="none"/>
<path d="M279.7,83.1 L280.7,83.73 L281.7,84.36 L282.7,85 L283.7,85.63 L284.7,86.26 L285.7,86.89 L286.7,87.51 L287.7,88.13 L288.7,88.73 L289.7,89.32 L290.7,89.9 L291.7,90.48 L292.7,91.05 L293.7,91.62 L294.7,92.18 L295.7,92.72 L296.7,93.26 L297.7,93.78 L298.7,94.28 L299.7,94.76 L300.7,95.21 L301.7,95.65 L302.7,96.07 L303.7,96.47 L304.7,96.86 L305.7,97.23 L306.7,97.59 L307.7,97.94 L308.7,98.27 L309.7,98.58 L310.7,98.89 L311.7,99.17 L312.7,99.45 L313.7,99.71 L314.7,99.96 L315.7,100.19 L316.7,100.41 L317.7,100.62 L318.7,100.82 L319.7,101 L320.7,101.17 L321.7,101.33 L322.7,101.48 L323.7,101.61 L324.7,101.73 L325.7,101.84 L326.7,101.92 L327.7,101.99 L328.7,102.04 L329.7,102.07 L330.7,102.08 L331.7,102.07 L332.7,102.05 L333.7,102 L334.7,101.95 L335.7,101.88 L336.7,101.8 L337.7,101.71 L338.7,101.62 L339.7,101.52 L340.7,101.42 L341.7,101.31 L342.7,101.19 L343.7,101.06 L344.7,100.93 L345.7,100.78 L346.7,100.64 L347.7,100.48 L348.7,100.32 L349.7,100.15 L350.7,99.97 L351.7,99.79 L352.7,99.6 L353.7,99.41 L354.7,99.21 L355.7,98.99 L356.7,98.77 L357.7,98.54 L358.7,98.3 L359.7,98.06 L360.7,97.81 L361.7,97.55 L362.7,97.3 L363.7,97.04 L364.7,96.78 L365.7,96.53 L366.7,96.28 L367.7,96.02 L368.7,95.77 L369.7,95.52 L370.7,95.27 L371.7,95.01 L372.7,94.75 L373.7,94.5 L374.7,94.24 L375.7,93.99 L376.7,93.74 L377.7,93.49 L378.7,93.24 L379.7,93 L380.7,92.76 L381.7,92.52 L382.7,92.28 L383.7,92.05 L384.7,91.82 L385.7,91.59 L386.7,91.36 L387.7,91.13 L388.7,90.91 L389.7,90.69 L390.7,90.48 L391.7,90.27 L392.7,90.06 L393.7,89.86 L394.7,89.66 L395.7,89.46 L396.7,89.26 L397.7,89.07 L398.7,88.88 L399.7,88.7 L400.7,88.52 L401.7,88.35 L402.7,88.18 L403.7,88.02 L404.7,87.86 L405.7,87.71 L406.7,87.56 L407.7,87.41 L408.7,87.27 L409.7,87.13 L410.7,86.99 L411.7,86.86 L412.7,86.72 L413.7,86.59 L414.7,86.46 L415.7,86.33 L416.7,86.21 L417.7,86.08 L418.7,85.96 L419.7,85.84 L420.7,85.72 L421.7,85.6 L422.7,85.48 L423.7,85.37 L424.7,85.25 L425.7,85.14 L426.7,85.04 L427.7,84.93 L428.7,84.83 L429.7,84.73 L430.7,84.63 L431.7,84.53 L432.7,84.44 L433.7,84.35 L434.7,84.26 L435.7,84.17 L436.7,84.09 L437.7,84 L438.7,83.92 L439.7,83.84 L440.7,83.75 L441.7,83.67 L442.7,83.59 L443.7,83.5 L444.7,83.42 L445.7,83.33 L446.7,83.25 L447.7,83.17 L448.4,83.09" fill="none" stroke="#CF3D55" stroke-width="1.5" stroke-linejoin="round" stroke-linecap="butt"/>
<path d="M279.7,86.1 L280.7,86.41 L281.7,86.72 L282.7,87.03 L283.7,87.34 L284.7,87.65 L285.7,87.96 L286.7,88.27 L287.7,88.58 L288.7,88.88 L289.7,89.18 L290.7,89.47 L291.7,89.77 L292.7,90.06 L293.7,90.34 L294.7,90.63 L295.7,90.91 L296.7,91.19 L297.7,91.47 L298.7,91.75 L299.7,92.03 L300.7,92.31 L301.7,92.58 L302.7,92.86 L303.7,93.13 L304.7,93.41 L305.7,93.69 L306.7,93.97 L307.7,94.25 L308.7,94.53 L309.7,94.81 L310.7,95.08 L311.7,95.34 L312.7,95.58 L313.7,95.82 L314.7,96.05 L315.7,96.26 L316.7,96.47 L317.7,96.67 L318.7,96.87 L319.7,97.06 L320.7,97.24 L321.7,97.41 L322.7,97.56 L323.7,97.71 L324.7,97.84 L325.7,97.95 L326.7,98.04 L327.7,98.12 L328.7,98.17 L329.7,98.2 L330.7,98.22 L331.7,98.22 L332.7,98.2 L333.7,98.17 L334.7,98.13 L335.7,98.08 L336.7,98.02 L337.7,97.96 L338.7,97.89 L339.7,97.81 L340.7,97.73 L341.7,97.64 L342.7,97.54 L343.7,97.43 L344.7,97.32 L345.7,97.2 L346.7,97.08 L347.7,96.95 L348.7,96.82 L349.7,96.69 L350.7,96.55 L351.7,96.42 L352.7,96.28 L353.7,96.14 L354.7,96 L355.7,95.86 L356.7,95.71 L357.7,95.56 L358.7,95.41 L359.7,95.26 L360.7,95.1 L361.7,94.95 L362.7,94.79 L363.7,94.63 L364.7,94.48 L365.7,94.32 L366.7,94.17 L367.7,94.02 L368.7,93.86 L369.7,93.71 L370.7,93.55 L371.7,93.4 L372.7,93.24 L373.7,93.09 L374.7,92.93 L375.7,92.79 L376.7,92.64 L377.7,92.5 L378.7,92.37 L379.7,92.24 L380.7,92.12 L381.7,92.01 L382.7,91.9 L383.7,91.8 L384.7,91.7 L385.7,91.61 L386.7,91.52 L387.7,91.44 L388.7,91.35 L389.7,91.27 L390.7,91.19 L391.7,91.11 L392.7,91.03 L393.7,90.95 L394.7,90.86 L395.7,90.78 L396.7,90.69 L397.7,90.61 L398.7,90.53 L399.7,90.45 L400.7,90.38 L401.7,90.31 L402.7,90.25 L403.7,90.19 L404.7,90.14 L405.7,90.1 L406.7,90.06 L407.7,90.02 L408.7,89.99 L409.7,89.97 L410.7,89.94 L411.7,89.92 L412.7,89.89 L413.7,89.87 L414.7,89.85 L415.7,89.84 L416.7,89.82 L417.7,89.8 L418.7,89.79 L419.7,89.78 L420.7,89.76 L421.7,89.75 L422.7,89.74 L423.7,89.73 L424.7,89.71 L425.7,89.7 L426.7,89.69 L427.7,89.69 L428.7,89.68 L429.7,89.67 L430.7,89.67 L431.7,89.66 L432.7,89.66 L433.7,89.66 L434.7,89.66 L435.7,89.66 L436.7,89.66 L437.7,89.66 L438.7,89.66 L439.7,89.65 L440.7,89.65 L441.7,89.65 L442.7,89.65 L443.7,89.64 L444.7,89.64 L445.7,89.63 L446.7,89.62 L447.7,89.61 L448.4,89.6 L448.4,93.6 L447.7,93.55 L446.7,93.48 L445.7,93.41 L444.7,93.34 L443.7,93.27 L442.7,93.2 L441.7,93.14 L440.7,93.07 L439.7,93 L438.7,92.94 L437.7,92.87 L436.7,92.81 L435.7,92.75 L434.7,92.69 L433.7,92.63 L432.7,92.58 L431.7,92.53 L430.7,92.48 L429.7,92.43 L428.7,92.38 L427.7,92.34 L426.7,92.3 L425.7,92.26 L424.7,92.23 L423.7,92.19 L422.7,92.16 L421.7,92.13 L420.7,92.1 L419.7,92.08 L418.7,92.05 L417.7,92.03 L416.7,92.01 L415.7,91.99 L414.7,91.97 L413.7,91.96 L412.7,91.95 L411.7,91.94 L410.7,91.93 L409.7,91.93 L408.7,91.93 L407.7,91.93 L406.7,91.94 L405.7,91.95 L404.7,91.97 L403.7,91.99 L402.7,92.03 L401.7,92.06 L400.7,92.11 L399.7,92.16 L398.7,92.22 L397.7,92.28 L396.7,92.35 L395.7,92.41 L394.7,92.48 L393.7,92.55 L392.7,92.61 L391.7,92.68 L390.7,92.74 L389.7,92.81 L388.7,92.88 L387.7,92.95 L386.7,93.02 L385.7,93.1 L384.7,93.18 L383.7,93.26 L382.7,93.36 L381.7,93.45 L380.7,93.56 L379.7,93.67 L378.7,93.79 L377.7,93.91 L376.7,94.04 L375.7,94.18 L374.7,94.32 L373.7,94.47 L372.7,94.62 L371.7,94.77 L370.7,94.92 L369.7,95.07 L368.7,95.22 L367.7,95.37 L366.7,95.52 L365.7,95.67 L364.7,95.82 L363.7,95.98 L362.7,96.13 L361.7,96.29 L360.7,96.44 L359.7,96.6 L358.7,96.75 L357.7,96.9 L356.7,97.05 L355.7,97.2 L354.7,97.34 L353.7,97.49 L352.7,97.63 L351.7,97.77 L350.7,97.91 L349.7,98.05 L348.7,98.18 L347.7,98.32 L346.7,98.45 L345.7,98.58 L344.7,98.7 L343.7,98.82 L342.7,98.93 L341.7,99.04 L340.7,99.14 L339.7,99.23 L338.7,99.31 L337.7,99.39 L336.7,99.46 L335.7,99.53 L334.7,99.59 L333.7,99.65 L332.7,99.69 L331.7,99.71 L330.7,99.73 L329.7,99.72 L328.7,99.7 L327.7,99.66 L326.7,99.6 L325.7,99.52 L324.7,99.42 L323.7,99.31 L322.7,99.18 L321.7,99.04 L320.7,98.89 L319.7,98.72 L318.7,98.55 L317.7,98.38 L316.7,98.19 L315.7,98 L314.7,97.81 L313.7,97.61 L312.7,97.39 L311.7,97.17 L310.7,96.93 L309.7,96.68 L308.7,96.43 L307.7,96.18 L306.7,95.92 L305.7,95.67 L304.7,95.42 L303.7,95.17 L302.7,94.92 L301.7,94.68 L300.7,94.43 L299.7,94.19 L298.7,93.94 L297.7,93.7 L296.7,93.45 L295.7,93.21 L294.7,92.96 L293.7,92.71 L292.7,92.46 L291.7,92.21 L290.7,91.96 L289.7,91.7 L288.7,91.45 L287.7,91.19 L286.7,90.93 L285.7,90.67 L284.7,90.4 L283.7,90.14 L282.7,89.88 L281.7,89.62 L280.7,89.36 L279.7,89.1Z" fill="#D8F20F" fill-opacity="0.22" stroke="none"/>
<path d="M279.7,87.6 L280.7,87.89 L281.7,88.17 L282.7,88.46 L283.7,88.74 L284.7,89.03 L285.7,89.31 L286.7,89.6 L287.7,89.88 L288.7,90.16 L289.7,90.44 L290.7,90.71 L291.7,90.99 L292.7,91.26 L293.7,91.53 L294.7,91.79 L295.7,92.06 L296.7,92.32 L297.7,92.59 L298.7,92.85 L299.7,93.11 L300.7,93.37 L301.7,93.63 L302.7,93.89 L303.7,94.15 L304.7,94.41 L305.7,94.68 L306.7,94.95 L307.7,95.21 L308.7,95.48 L309.7,95.75 L310.7,96 L311.7,96.25 L312.7,96.49 L313.7,96.71 L314.7,96.93 L315.7,97.13 L316.7,97.33 L317.7,97.52 L318.7,97.71 L319.7,97.89 L320.7,98.06 L321.7,98.22 L322.7,98.37 L323.7,98.51 L324.7,98.63 L325.7,98.74 L326.7,98.82 L327.7,98.89 L328.7,98.94 L329.7,98.96 L330.7,98.97 L331.7,98.97 L332.7,98.95 L333.7,98.91 L334.7,98.86 L335.7,98.81 L336.7,98.74 L337.7,98.67 L338.7,98.6 L339.7,98.52 L340.7,98.43 L341.7,98.34 L342.7,98.24 L343.7,98.13 L344.7,98.01 L345.7,97.89 L346.7,97.77 L347.7,97.64 L348.7,97.5 L349.7,97.37 L350.7,97.23 L351.7,97.09 L352.7,96.95 L353.7,96.81 L354.7,96.67 L355.7,96.53 L356.7,96.38 L357.7,96.23 L358.7,96.08 L359.7,95.93 L360.7,95.77 L361.7,95.62 L362.7,95.46 L363.7,95.3 L364.7,95.15 L365.7,95 L366.7,94.85 L367.7,94.69 L368.7,94.54 L369.7,94.39 L370.7,94.24 L371.7,94.08 L372.7,93.93 L373.7,93.78 L374.7,93.63 L375.7,93.48 L376.7,93.34 L377.7,93.21 L378.7,93.08 L379.7,92.96 L380.7,92.84 L381.7,92.73 L382.7,92.63 L383.7,92.53 L384.7,92.44 L385.7,92.35 L386.7,92.27 L387.7,92.19 L388.7,92.11 L389.7,92.04 L390.7,91.97 L391.7,91.89 L392.7,91.82 L393.7,91.75 L394.7,91.67 L395.7,91.59 L396.7,91.52 L397.7,91.44 L398.7,91.37 L399.7,91.31 L400.7,91.24 L401.7,91.19 L402.7,91.14 L403.7,91.09 L404.7,91.06 L405.7,91.02 L406.7,91 L407.7,90.98 L408.7,90.96 L409.7,90.95 L410.7,90.94 L411.7,90.93 L412.7,90.92 L413.7,90.92 L414.7,90.91 L415.7,90.91 L416.7,90.92 L417.7,90.92 L418.7,90.92 L419.7,90.93 L420.7,90.93 L421.7,90.94 L422.7,90.95 L423.7,90.96 L424.7,90.97 L425.7,90.98 L426.7,91 L427.7,91.01 L428.7,91.03 L429.7,91.05 L430.7,91.07 L431.7,91.1 L432.7,91.12 L433.7,91.15 L434.7,91.17 L435.7,91.2 L436.7,91.23 L437.7,91.26 L438.7,91.3 L439.7,91.33 L440.7,91.36 L441.7,91.39 L442.7,91.42 L443.7,91.46 L444.7,91.49 L445.7,91.52 L446.7,91.55 L447.7,91.58 L448.4,91.6" fill="none" stroke="#D8F20F" stroke-width="1.5" stroke-linejoin="round" stroke-linecap="butt"/>
<path d="M279.7,111.4 L280.7,111.76 L281.7,112.12 L282.7,112.48 L283.7,112.84 L284.7,113.2 L285.7,113.55 L286.7,113.9 L287.7,114.24 L288.7,114.58 L289.7,114.91 L290.7,115.23 L291.7,115.55 L292.7,115.87 L293.7,116.18 L294.7,116.49 L295.7,116.79 L296.7,117.08 L297.7,117.37 L298.7,117.65 L299.7,117.92 L300.7,118.18 L301.7,118.42 L302.7,118.65 L303.7,118.87 L304.7,119.06 L305.7,119.25 L306.7,119.41 L307.7,119.57 L308.7,119.71 L309.7,119.85 L310.7,119.98 L311.7,120.11 L312.7,120.24 L313.7,120.35 L314.7,120.46 L315.7,120.55 L316.7,120.62 L317.7,120.66 L318.7,120.68 L319.7,120.68 L320.7,120.65 L321.7,120.59 L322.7,120.52 L323.7,120.42 L324.7,120.31 L325.7,120.17 L326.7,120.02 L327.7,119.84 L328.7,119.64 L329.7,119.42 L330.7,119.17 L331.7,118.91 L332.7,118.62 L333.7,118.31 L334.7,117.99 L335.7,117.64 L336.7,117.27 L337.7,116.89 L338.7,116.5 L339.7,116.09 L340.7,115.67 L341.7,115.24 L342.7,114.8 L343.7,114.34 L344.7,113.88 L345.7,113.41 L346.7,112.92 L347.7,112.43 L348.7,111.93 L349.7,111.42 L350.7,110.9 L351.7,110.38 L352.7,109.84 L353.7,109.29 L354.7,108.73 L355.7,108.15 L356.7,107.56 L357.7,106.95 L358.7,106.33 L359.7,105.71 L360.7,105.08 L361.7,104.45 L362.7,103.83 L363.7,103.21 L364.7,102.61 L365.7,102.02 L366.7,101.44 L367.7,100.88 L368.7,100.32 L369.7,99.77 L370.7,99.23 L371.7,98.69 L372.7,98.16 L373.7,97.64 L374.7,97.14 L375.7,96.65 L376.7,96.17 L377.7,95.72 L378.7,95.29 L379.7,94.88 L380.7,94.5 L381.7,94.14 L382.7,93.8 L383.7,93.48 L384.7,93.18 L385.7,92.9 L386.7,92.63 L387.7,92.38 L388.7,92.14 L389.7,91.91 L390.7,91.7 L391.7,91.49 L392.7,91.29 L393.7,91.09 L394.7,90.9 L395.7,90.73 L396.7,90.56 L397.7,90.4 L398.7,90.26 L399.7,90.13 L400.7,90.02 L401.7,89.92 L402.7,89.84 L403.7,89.77 L404.7,89.71 L405.7,89.66 L406.7,89.62 L407.7,89.59 L408.7,89.57 L409.7,89.55 L410.7,89.53 L411.7,89.52 L412.7,89.52 L413.7,89.51 L414.7,89.51 L415.7,89.52 L416.7,89.52 L417.7,89.53 L418.7,89.55 L419.7,89.56 L420.7,89.58 L421.7,89.6 L422.7,89.62 L423.7,89.65 L424.7,89.68 L425.7,89.71 L426.7,89.75 L427.7,89.79 L428.7,89.83 L429.7,89.88 L430.7,89.94 L431.7,90 L432.7,90.06 L433.7,90.13 L434.7,90.2 L435.7,90.28 L436.7,90.36 L437.7,90.43 L438.7,90.51 L439.7,90.59 L440.7,90.67 L441.7,90.75 L442.7,90.82 L443.7,90.9 L444.7,90.97 L445.7,91.03 L446.7,91.09 L447.7,91.15 L448.4,91.22 L448.4,97.22 L447.7,97.05 L446.7,96.86 L445.7,96.66 L444.7,96.46 L443.7,96.27 L442.7,96.07 L441.7,95.87 L440.7,95.67 L439.7,95.48 L438.7,95.28 L437.7,95.09 L436.7,94.91 L435.7,94.72 L434.7,94.55 L433.7,94.37 L432.7,94.21 L431.7,94.05 L430.7,93.89 L429.7,93.75 L428.7,93.61 L427.7,93.48 L426.7,93.36 L425.7,93.24 L424.7,93.13 L423.7,93.02 L422.7,92.92 L421.7,92.83 L420.7,92.74 L419.7,92.65 L418.7,92.57 L417.7,92.49 L416.7,92.42 L415.7,92.35 L414.7,92.29 L413.7,92.23 L412.7,92.18 L411.7,92.13 L410.7,92.09 L409.7,92.05 L408.7,92.02 L407.7,92 L406.7,91.99 L405.7,91.98 L404.7,91.99 L403.7,92 L402.7,92.03 L401.7,92.08 L400.7,92.14 L399.7,92.21 L398.7,92.3 L397.7,92.41 L396.7,92.54 L395.7,92.67 L394.7,92.82 L393.7,92.98 L392.7,93.15 L391.7,93.32 L390.7,93.5 L389.7,93.7 L388.7,93.9 L387.7,94.12 L386.7,94.35 L385.7,94.6 L384.7,94.86 L383.7,95.14 L382.7,95.44 L381.7,95.77 L380.7,96.11 L379.7,96.48 L378.7,96.87 L377.7,97.29 L376.7,97.73 L375.7,98.19 L374.7,98.67 L373.7,99.16 L372.7,99.67 L371.7,100.19 L370.7,100.73 L369.7,101.26 L368.7,101.81 L367.7,102.36 L366.7,102.92 L365.7,103.49 L364.7,104.08 L363.7,104.68 L362.7,105.29 L361.7,105.92 L360.7,106.54 L359.7,107.17 L358.7,107.8 L357.7,108.42 L356.7,109.03 L355.7,109.63 L354.7,110.22 L353.7,110.78 L352.7,111.34 L351.7,111.88 L350.7,112.41 L349.7,112.94 L348.7,113.46 L347.7,113.97 L346.7,114.47 L345.7,114.97 L344.7,115.45 L343.7,115.93 L342.7,116.4 L341.7,116.86 L340.7,117.3 L339.7,117.74 L338.7,118.17 L337.7,118.58 L336.7,118.98 L335.7,119.36 L334.7,119.73 L333.7,120.08 L332.7,120.41 L331.7,120.72 L330.7,121.01 L329.7,121.28 L328.7,121.53 L327.7,121.76 L326.7,121.97 L325.7,122.15 L324.7,122.32 L323.7,122.47 L322.7,122.6 L321.7,122.71 L320.7,122.8 L319.7,122.86 L318.7,122.91 L317.7,122.93 L316.7,122.92 L315.7,122.89 L314.7,122.85 L313.7,122.79 L312.7,122.72 L311.7,122.64 L310.7,122.56 L309.7,122.48 L308.7,122.39 L307.7,122.3 L306.7,122.2 L305.7,122.09 L304.7,121.97 L303.7,121.83 L302.7,121.68 L301.7,121.51 L300.7,121.33 L299.7,121.14 L298.7,120.94 L297.7,120.73 L296.7,120.52 L295.7,120.3 L294.7,120.07 L293.7,119.84 L292.7,119.61 L291.7,119.38 L290.7,119.15 L289.7,118.91 L288.7,118.67 L287.7,118.42 L286.7,118.18 L285.7,117.92 L284.7,117.67 L283.7,117.41 L282.7,117.16 L281.7,116.9 L280.7,116.65 L279.7,116.4Z" fill="#C43AFA" fill-opacity="0.22" stroke="none"/>
<path d="M279.7,113.9 L280.7,114.21 L281.7,114.51 L282.7,114.82 L283.7,115.13 L284.7,115.43 L285.7,115.74 L286.7,116.04 L287.7,116.33 L288.7,116.63 L289.7,116.91 L290.7,117.19 L291.7,117.47 L292.7,117.74 L293.7,118.01 L294.7,118.28 L295.7,118.54 L296.7,118.8 L297.7,119.05 L298.7,119.3 L299.7,119.53 L300.7,119.76 L301.7,119.97 L302.7,120.17 L303.7,120.35 L304.7,120.52 L305.7,120.67 L306.7,120.81 L307.7,120.94 L308.7,121.05 L309.7,121.17 L310.7,121.27 L311.7,121.38 L312.7,121.48 L313.7,121.57 L314.7,121.65 L315.7,121.72 L316.7,121.77 L317.7,121.8 L318.7,121.8 L319.7,121.77 L320.7,121.72 L321.7,121.65 L322.7,121.56 L323.7,121.45 L324.7,121.31 L325.7,121.16 L326.7,120.99 L327.7,120.8 L328.7,120.58 L329.7,120.35 L330.7,120.09 L331.7,119.82 L332.7,119.52 L333.7,119.2 L334.7,118.86 L335.7,118.5 L336.7,118.13 L337.7,117.74 L338.7,117.33 L339.7,116.92 L340.7,116.49 L341.7,116.05 L342.7,115.6 L343.7,115.14 L344.7,114.67 L345.7,114.19 L346.7,113.7 L347.7,113.2 L348.7,112.69 L349.7,112.18 L350.7,111.66 L351.7,111.13 L352.7,110.59 L353.7,110.04 L354.7,109.47 L355.7,108.89 L356.7,108.3 L357.7,107.69 L358.7,107.07 L359.7,106.44 L360.7,105.81 L361.7,105.18 L362.7,104.56 L363.7,103.95 L364.7,103.34 L365.7,102.76 L366.7,102.18 L367.7,101.62 L368.7,101.07 L369.7,100.52 L370.7,99.98 L371.7,99.44 L372.7,98.92 L373.7,98.4 L374.7,97.9 L375.7,97.42 L376.7,96.95 L377.7,96.5 L378.7,96.08 L379.7,95.68 L380.7,95.31 L381.7,94.95 L382.7,94.62 L383.7,94.31 L384.7,94.02 L385.7,93.75 L386.7,93.49 L387.7,93.25 L388.7,93.02 L389.7,92.81 L390.7,92.6 L391.7,92.4 L392.7,92.22 L393.7,92.04 L394.7,91.86 L395.7,91.7 L396.7,91.55 L397.7,91.41 L398.7,91.28 L399.7,91.17 L400.7,91.08 L401.7,91 L402.7,90.94 L403.7,90.89 L404.7,90.85 L405.7,90.82 L406.7,90.81 L407.7,90.8 L408.7,90.79 L409.7,90.8 L410.7,90.81 L411.7,90.83 L412.7,90.85 L413.7,90.87 L414.7,90.9 L415.7,90.93 L416.7,90.97 L417.7,91.01 L418.7,91.06 L419.7,91.11 L420.7,91.16 L421.7,91.21 L422.7,91.27 L423.7,91.34 L424.7,91.4 L425.7,91.47 L426.7,91.55 L427.7,91.63 L428.7,91.72 L429.7,91.81 L430.7,91.92 L431.7,92.02 L432.7,92.14 L433.7,92.25 L434.7,92.38 L435.7,92.5 L436.7,92.63 L437.7,92.76 L438.7,92.9 L439.7,93.03 L440.7,93.17 L441.7,93.31 L442.7,93.45 L443.7,93.58 L444.7,93.72 L445.7,93.85 L446.7,93.98 L447.7,94.1 L448.4,94.22" fill="none" stroke="#C43AFA" stroke-width="1.5" stroke-linejoin="round" stroke-linecap="butt"/>
<path d="M279.7,135.2 L280.7,135.15 L281.7,135.09 L282.7,135.04 L283.7,134.97 L284.7,134.91 L285.7,134.84 L286.7,134.78 L287.7,134.72 L288.7,134.66 L289.7,134.61 L290.7,134.55 L291.7,134.5 L292.7,134.44 L293.7,134.39 L294.7,134.33 L295.7,134.28 L296.7,134.24 L297.7,134.21 L298.7,134.19 L299.7,134.18 L300.7,134.19 L301.7,134.21 L302.7,134.25 L303.7,134.3 L304.7,134.36 L305.7,134.43 L306.7,134.5 L307.7,134.58 L308.7,134.66 L309.7,134.74 L310.7,134.81 L311.7,134.88 L312.7,134.94 L313.7,134.99 L314.7,135.03 L315.7,135.07 L316.7,135.1 L317.7,135.12 L318.7,135.15 L319.7,135.17 L320.7,135.18 L321.7,135.2 L322.7,135.21 L323.7,135.22 L324.7,135.22 L325.7,135.22 L326.7,135.2 L327.7,135.19 L328.7,135.16 L329.7,135.12 L330.7,135.07 L331.7,135 L332.7,134.91 L333.7,134.79 L334.7,134.65 L335.7,134.48 L336.7,134.27 L337.7,134.03 L338.7,133.76 L339.7,133.47 L340.7,133.17 L341.7,132.86 L342.7,132.56 L343.7,132.25 L344.7,131.95 L345.7,131.65 L346.7,131.34 L347.7,131.02 L348.7,130.68 L349.7,130.33 L350.7,129.96 L351.7,129.57 L352.7,129.15 L353.7,128.72 L354.7,128.26 L355.7,127.78 L356.7,127.28 L357.7,126.77 L358.7,126.24 L359.7,125.7 L360.7,125.16 L361.7,124.61 L362.7,124.05 L363.7,123.49 L364.7,122.94 L365.7,122.38 L366.7,121.82 L367.7,121.27 L368.7,120.7 L369.7,120.14 L370.7,119.56 L371.7,118.99 L372.7,118.41 L373.7,117.83 L374.7,117.26 L375.7,116.69 L376.7,116.13 L377.7,115.58 L378.7,115.05 L379.7,114.52 L380.7,114.01 L381.7,113.51 L382.7,113.02 L383.7,112.54 L384.7,112.07 L385.7,111.61 L386.7,111.15 L387.7,110.7 L388.7,110.26 L389.7,109.83 L390.7,109.4 L391.7,108.97 L392.7,108.55 L393.7,108.13 L394.7,107.72 L395.7,107.31 L396.7,106.91 L397.7,106.52 L398.7,106.12 L399.7,105.74 L400.7,105.36 L401.7,104.98 L402.7,104.61 L403.7,104.25 L404.7,103.89 L405.7,103.54 L406.7,103.19 L407.7,102.85 L408.7,102.52 L409.7,102.19 L410.7,101.87 L411.7,101.56 L412.7,101.25 L413.7,100.94 L414.7,100.64 L415.7,100.33 L416.7,100.03 L417.7,99.74 L418.7,99.44 L419.7,99.14 L420.7,98.84 L421.7,98.54 L422.7,98.24 L423.7,97.94 L424.7,97.64 L425.7,97.35 L426.7,97.05 L427.7,96.77 L428.7,96.48 L429.7,96.21 L430.7,95.93 L431.7,95.67 L432.7,95.4 L433.7,95.14 L434.7,94.89 L435.7,94.64 L436.7,94.4 L437.7,94.15 L438.7,93.91 L439.7,93.67 L440.7,93.43 L441.7,93.19 L442.7,92.94 L443.7,92.7 L444.7,92.45 L445.7,92.2 L446.7,91.95 L447.7,91.7 L448.4,91.48 L448.4,99.48 L447.7,99.56 L446.7,99.61 L445.7,99.67 L444.7,99.73 L443.7,99.8 L442.7,99.87 L441.7,99.94 L440.7,100.01 L439.7,100.09 L438.7,100.17 L437.7,100.25 L436.7,100.34 L435.7,100.44 L434.7,100.54 L433.7,100.66 L432.7,100.78 L431.7,100.9 L430.7,101.04 L429.7,101.19 L428.7,101.34 L427.7,101.5 L426.7,101.67 L425.7,101.85 L424.7,102.03 L423.7,102.22 L422.7,102.41 L421.7,102.61 L420.7,102.81 L419.7,103.01 L418.7,103.22 L417.7,103.43 L416.7,103.64 L415.7,103.85 L414.7,104.07 L413.7,104.29 L412.7,104.52 L411.7,104.76 L410.7,105 L409.7,105.25 L408.7,105.5 L407.7,105.77 L406.7,106.04 L405.7,106.33 L404.7,106.62 L403.7,106.92 L402.7,107.23 L401.7,107.54 L400.7,107.86 L399.7,108.19 L398.7,108.53 L397.7,108.88 L396.7,109.23 L395.7,109.59 L394.7,109.95 L393.7,110.32 L392.7,110.7 L391.7,111.09 L390.7,111.48 L389.7,111.87 L388.7,112.28 L387.7,112.69 L386.7,113.11 L385.7,113.53 L384.7,113.97 L383.7,114.42 L382.7,114.88 L381.7,115.34 L380.7,115.82 L379.7,116.32 L378.7,116.82 L377.7,117.35 L376.7,117.88 L375.7,118.43 L374.7,118.99 L373.7,119.55 L372.7,120.12 L371.7,120.69 L370.7,121.26 L369.7,121.83 L368.7,122.39 L367.7,122.95 L366.7,123.51 L365.7,124.06 L364.7,124.62 L363.7,125.18 L362.7,125.74 L361.7,126.31 L360.7,126.86 L359.7,127.42 L358.7,127.97 L357.7,128.51 L356.7,129.03 L355.7,129.55 L354.7,130.04 L353.7,130.52 L352.7,130.97 L351.7,131.41 L350.7,131.82 L349.7,132.22 L348.7,132.59 L347.7,132.95 L346.7,133.3 L345.7,133.65 L344.7,133.98 L343.7,134.32 L342.7,134.65 L341.7,135 L340.7,135.35 L339.7,135.69 L338.7,136.02 L337.7,136.33 L336.7,136.62 L335.7,136.87 L334.7,137.1 L333.7,137.29 L332.7,137.46 L331.7,137.61 L330.7,137.74 L329.7,137.85 L328.7,137.96 L327.7,138.05 L326.7,138.14 L325.7,138.22 L324.7,138.29 L323.7,138.37 L322.7,138.44 L321.7,138.51 L320.7,138.58 L319.7,138.64 L318.7,138.71 L317.7,138.78 L316.7,138.85 L315.7,138.92 L314.7,138.99 L313.7,139.05 L312.7,139.1 L311.7,139.15 L310.7,139.2 L309.7,139.24 L308.7,139.29 L307.7,139.33 L306.7,139.38 L305.7,139.44 L304.7,139.51 L303.7,139.58 L302.7,139.68 L301.7,139.79 L300.7,139.92 L299.7,140.07 L298.7,140.23 L297.7,140.42 L296.7,140.62 L295.7,140.83 L294.7,141.06 L293.7,141.29 L292.7,141.54 L291.7,141.78 L290.7,142.04 L289.7,142.29 L288.7,142.55 L287.7,142.82 L286.7,143.1 L285.7,143.39 L284.7,143.68 L283.7,143.98 L282.7,144.28 L281.7,144.58 L280.7,144.89 L279.7,145.2Z" fill="#4682B4" fill-opacity="0.22" stroke="none"/>
<path d="M279.7,140.2 L280.7,140.02 L281.7,139.84 L282.7,139.66 L283.7,139.48 L284.7,139.29 L285.7,139.12 L286.7,138.94 L287.7,138.77 L288.7,138.61 L289.7,138.45 L290.7,138.29 L291.7,138.14 L292.7,137.99 L293.7,137.84 L294.7,137.69 L295.7,137.56 L296.7,137.43 L297.7,137.31 L298.7,137.21 L299.7,137.13 L300.7,137.06 L301.7,137 L302.7,136.96 L303.7,136.94 L304.7,136.93 L305.7,136.93 L306.7,136.94 L307.7,136.96 L308.7,136.97 L309.7,136.99 L310.7,137 L311.7,137.02 L312.7,137.02 L313.7,137.02 L314.7,137.01 L315.7,136.99 L316.7,136.97 L317.7,136.95 L318.7,136.93 L319.7,136.91 L320.7,136.88 L321.7,136.85 L322.7,136.82 L323.7,136.79 L324.7,136.76 L325.7,136.72 L326.7,136.67 L327.7,136.62 L328.7,136.56 L329.7,136.49 L330.7,136.4 L331.7,136.3 L332.7,136.19 L333.7,136.04 L334.7,135.87 L335.7,135.68 L336.7,135.44 L337.7,135.18 L338.7,134.89 L339.7,134.58 L340.7,134.26 L341.7,133.93 L342.7,133.6 L343.7,133.28 L344.7,132.97 L345.7,132.65 L346.7,132.32 L347.7,131.98 L348.7,131.64 L349.7,131.27 L350.7,130.89 L351.7,130.49 L352.7,130.06 L353.7,129.62 L354.7,129.15 L355.7,128.66 L356.7,128.16 L357.7,127.64 L358.7,127.1 L359.7,126.56 L360.7,126.01 L361.7,125.46 L362.7,124.9 L363.7,124.34 L364.7,123.78 L365.7,123.22 L366.7,122.66 L367.7,122.11 L368.7,121.55 L369.7,120.98 L370.7,120.41 L371.7,119.84 L372.7,119.26 L373.7,118.69 L374.7,118.12 L375.7,117.56 L376.7,117.01 L377.7,116.46 L378.7,115.93 L379.7,115.42 L380.7,114.92 L381.7,114.43 L382.7,113.95 L383.7,113.48 L384.7,113.02 L385.7,112.57 L386.7,112.13 L387.7,111.7 L388.7,111.27 L389.7,110.85 L390.7,110.44 L391.7,110.03 L392.7,109.63 L393.7,109.23 L394.7,108.84 L395.7,108.45 L396.7,108.07 L397.7,107.7 L398.7,107.33 L399.7,106.97 L400.7,106.61 L401.7,106.26 L402.7,105.92 L403.7,105.58 L404.7,105.25 L405.7,104.93 L406.7,104.62 L407.7,104.31 L408.7,104.01 L409.7,103.72 L410.7,103.43 L411.7,103.16 L412.7,102.88 L413.7,102.62 L414.7,102.35 L415.7,102.09 L416.7,101.84 L417.7,101.58 L418.7,101.33 L419.7,101.08 L420.7,100.82 L421.7,100.57 L422.7,100.33 L423.7,100.08 L424.7,99.84 L425.7,99.6 L426.7,99.36 L427.7,99.13 L428.7,98.91 L429.7,98.7 L430.7,98.49 L431.7,98.28 L432.7,98.09 L433.7,97.9 L434.7,97.72 L435.7,97.54 L436.7,97.37 L437.7,97.2 L438.7,97.04 L439.7,96.88 L440.7,96.72 L441.7,96.56 L442.7,96.4 L443.7,96.25 L444.7,96.09 L445.7,95.93 L446.7,95.78 L447.7,95.63 L448.4,95.48" fill="none" stroke="#4682B4" stroke-width="1.5" stroke-linejoin="round" stroke-linecap="butt"/>
<path d="M279.7,84.6 L280.7,83.88 L281.7,83.16 L282.7,82.43 L283.7,81.7 L284.7,80.97 L285.7,80.25 L286.7,79.55 L287.7,78.87 L288.7,78.22 L289.7,77.59 L290.7,76.99 L291.7,76.42 L292.7,75.86 L293.7,75.32 L294.7,74.8 L295.7,74.3 L296.7,73.81 L297.7,73.35 L298.7,72.9 L299.7,72.47 L300.7,72.05 L301.7,71.66 L302.7,71.29 L303.7,70.93 L304.7,70.59 L305.7,70.27 L306.7,69.97 L307.7,69.68 L308.7,69.42 L309.7,69.17 L310.7,68.93 L311.7,68.71 L312.7,68.51 L313.7,68.31 L314.7,68.13 L315.7,67.96 L316.7,67.79 L317.7,67.64 L318.7,67.5 L319.7,67.38 L320.7,67.28 L321.7,67.19 L322.7,67.12 L323.7,67.07 L324.7,67.04 L325.7,67.04 L326.7,67.06 L327.7,67.11 L328.7,67.19 L329.7,67.28 L330.7,67.4 L331.7,67.53 L332.7,67.68 L333.7,67.84 L334.7,68.02 L335.7,68.2 L336.7,68.39 L337.7,68.58 L338.7,68.78 L339.7,68.98 L340.7,69.19 L341.7,69.41 L342.7,69.63 L343.7,69.87 L344.7,70.11 L345.7,70.36 L346.7,70.62 L347.7,70.88 L348.7,71.15 L349.7,71.41 L350.7,71.68 L351.7,71.94 L352.7,72.2 L353.7,72.46 L354.7,72.72 L355.7,72.98 L356.7,73.24 L357.7,73.5 L358.7,73.76 L359.7,74.02 L360.7,74.28 L361.7,74.54 L362.7,74.8 L363.7,75.06 L364.7,75.32 L365.7,75.57 L366.7,75.82 L367.7,76.06 L368.7,76.31 L369.7,76.55 L370.7,76.79 L371.7,77.03 L372.7,77.27 L373.7,77.51 L374.7,77.74 L375.7,77.97 L376.7,78.2 L377.7,78.42 L378.7,78.64 L379.7,78.85 L380.7,79.06 L381.7,79.27 L382.7,79.47 L383.7,79.67 L384.7,79.87 L385.7,80.06 L386.7,80.24 L387.7,80.43 L388.7,80.61 L389.7,80.78 L390.7,80.95 L391.7,81.12 L392.7,81.28 L393.7,81.44 L394.7,81.6 L395.7,81.75 L396.7,81.9 L397.7,82.04 L398.7,82.18 L399.7,82.31 L400.7,82.44 L401.7,82.57 L402.7,82.7 L403.7,82.82 L404.7,82.94 L405.7,83.06 L406.7,83.18 L407.7,83.3 L408.7,83.41 L409.7,83.53 L410.7,83.64 L411.7,83.75 L412.7,83.86 L413.7,83.97 L414.7,84.08 L415.7,84.18 L416.7,84.28 L417.7,84.39 L418.7,84.49 L419.7,84.59 L420.7,84.68 L421.7,84.78 L422.7,84.87 L423.7,84.96 L424.7,85.04 L425.7,85.13 L426.7,85.21 L427.7,85.29 L428.7,85.36 L429.7,85.43 L430.7,85.5 L431.7,85.57 L432.7,85.63 L433.7,85.69 L434.7,85.75 L435.7,85.81 L436.7,85.86 L437.7,85.92 L438.7,85.97 L439.7,86.02 L440.7,86.06 L441.7,86.11 L442.7,86.16 L443.7,86.2 L444.7,86.24 L445.7,86.29 L446.7,86.33 L447.7,86.36 L448.4,86.41 L448.4,91.41 L447.7,91.28 L446.7,91.14 L445.7,90.99 L444.7,90.85 L443.7,90.7 L442.7,90.56 L441.7,90.41 L440.7,90.27 L439.7,90.13 L438.7,89.99 L437.7,89.85 L436.7,89.72 L435.7,89.58 L434.7,89.44 L433.7,89.3 L432.7,89.16 L431.7,89.03 L430.7,88.89 L429.7,88.75 L428.7,88.61 L427.7,88.46 L426.7,88.32 L425.7,88.17 L424.7,88.03 L423.7,87.88 L422.7,87.73 L421.7,87.58 L420.7,87.43 L419.7,87.28 L418.7,87.13 L417.7,86.98 L416.7,86.83 L415.7,86.68 L414.7,86.52 L413.7,86.37 L412.7,86.22 L411.7,86.07 L410.7,85.91 L409.7,85.76 L408.7,85.61 L407.7,85.45 L406.7,85.3 L405.7,85.15 L404.7,84.99 L403.7,84.84 L402.7,84.68 L401.7,84.53 L400.7,84.37 L399.7,84.21 L398.7,84.05 L397.7,83.88 L396.7,83.71 L395.7,83.54 L394.7,83.37 L393.7,83.19 L392.7,83.01 L391.7,82.82 L390.7,82.63 L389.7,82.44 L388.7,82.25 L387.7,82.05 L386.7,81.85 L385.7,81.65 L384.7,81.44 L383.7,81.23 L382.7,81.02 L381.7,80.8 L380.7,80.59 L379.7,80.36 L378.7,80.14 L377.7,79.91 L376.7,79.68 L375.7,79.44 L374.7,79.2 L373.7,78.96 L372.7,78.72 L371.7,78.47 L370.7,78.23 L369.7,77.98 L368.7,77.73 L367.7,77.48 L366.7,77.23 L365.7,76.98 L364.7,76.72 L363.7,76.47 L362.7,76.21 L361.7,75.95 L360.7,75.69 L359.7,75.43 L358.7,75.17 L357.7,74.91 L356.7,74.65 L355.7,74.39 L354.7,74.14 L353.7,73.88 L352.7,73.63 L351.7,73.37 L350.7,73.11 L349.7,72.85 L348.7,72.59 L347.7,72.33 L346.7,72.08 L345.7,71.83 L344.7,71.59 L343.7,71.35 L342.7,71.13 L341.7,70.91 L340.7,70.71 L339.7,70.51 L338.7,70.33 L337.7,70.14 L336.7,69.96 L335.7,69.79 L334.7,69.62 L333.7,69.46 L332.7,69.32 L331.7,69.18 L330.7,69.07 L329.7,68.97 L328.7,68.9 L327.7,68.84 L326.7,68.82 L325.7,68.82 L324.7,68.84 L323.7,68.89 L322.7,68.96 L321.7,69.06 L320.7,69.17 L319.7,69.31 L318.7,69.46 L317.7,69.63 L316.7,69.81 L315.7,70 L314.7,70.21 L313.7,70.42 L312.7,70.65 L311.7,70.89 L310.7,71.15 L309.7,71.42 L308.7,71.71 L307.7,72.02 L306.7,72.34 L305.7,72.69 L304.7,73.05 L303.7,73.43 L302.7,73.83 L301.7,74.25 L300.7,74.69 L299.7,75.16 L298.7,75.64 L297.7,76.14 L296.7,76.66 L295.7,77.2 L294.7,77.76 L293.7,78.34 L292.7,78.94 L291.7,79.55 L290.7,80.19 L289.7,80.85 L288.7,81.55 L287.7,82.27 L286.7,83.01 L285.7,83.79 L284.7,84.58 L283.7,85.38 L282.7,86.19 L281.7,87 L280.7,87.8 L279.7,88.6Z" fill="#0B7A14" fill-opacity="0.22" stroke="none"/>
<path d="M279.7,86.6 L280.7,85.84 L281.7,85.08 L282.7,84.31 L283.7,83.54 L284.7,82.77 L285.7,82.02 L286.7,81.28 L287.7,80.57 L288.7,79.88 L289.7,79.22 L290.7,78.59 L291.7,77.99 L292.7,77.4 L293.7,76.83 L294.7,76.28 L295.7,75.75 L296.7,75.24 L297.7,74.74 L298.7,74.27 L299.7,73.81 L300.7,73.37 L301.7,72.96 L302.7,72.56 L303.7,72.18 L304.7,71.82 L305.7,71.48 L306.7,71.16 L307.7,70.85 L308.7,70.56 L309.7,70.29 L310.7,70.04 L311.7,69.8 L312.7,69.58 L313.7,69.37 L314.7,69.17 L315.7,68.98 L316.7,68.8 L317.7,68.63 L318.7,68.48 L319.7,68.34 L320.7,68.22 L321.7,68.12 L322.7,68.04 L323.7,67.98 L324.7,67.94 L325.7,67.93 L326.7,67.94 L327.7,67.98 L328.7,68.04 L329.7,68.13 L330.7,68.23 L331.7,68.36 L332.7,68.5 L333.7,68.65 L334.7,68.82 L335.7,68.99 L336.7,69.17 L337.7,69.36 L338.7,69.55 L339.7,69.75 L340.7,69.95 L341.7,70.16 L342.7,70.38 L343.7,70.61 L344.7,70.85 L345.7,71.1 L346.7,71.35 L347.7,71.61 L348.7,71.87 L349.7,72.13 L350.7,72.39 L351.7,72.66 L352.7,72.92 L353.7,73.17 L354.7,73.43 L355.7,73.69 L356.7,73.94 L357.7,74.2 L358.7,74.46 L359.7,74.72 L360.7,74.99 L361.7,75.25 L362.7,75.51 L363.7,75.76 L364.7,76.02 L365.7,76.27 L366.7,76.52 L367.7,76.77 L368.7,77.02 L369.7,77.26 L370.7,77.51 L371.7,77.75 L372.7,78 L373.7,78.23 L374.7,78.47 L375.7,78.71 L376.7,78.94 L377.7,79.17 L378.7,79.39 L379.7,79.61 L380.7,79.82 L381.7,80.04 L382.7,80.25 L383.7,80.45 L384.7,80.65 L385.7,80.85 L386.7,81.05 L387.7,81.24 L388.7,81.43 L389.7,81.61 L390.7,81.79 L391.7,81.97 L392.7,82.14 L393.7,82.31 L394.7,82.48 L395.7,82.65 L396.7,82.8 L397.7,82.96 L398.7,83.11 L399.7,83.26 L400.7,83.41 L401.7,83.55 L402.7,83.69 L403.7,83.83 L404.7,83.97 L405.7,84.1 L406.7,84.24 L407.7,84.37 L408.7,84.51 L409.7,84.64 L410.7,84.78 L411.7,84.91 L412.7,85.04 L413.7,85.17 L414.7,85.3 L415.7,85.43 L416.7,85.56 L417.7,85.68 L418.7,85.81 L419.7,85.93 L420.7,86.06 L421.7,86.18 L422.7,86.3 L423.7,86.42 L424.7,86.53 L425.7,86.65 L426.7,86.76 L427.7,86.87 L428.7,86.98 L429.7,87.09 L430.7,87.2 L431.7,87.3 L432.7,87.4 L433.7,87.5 L434.7,87.6 L435.7,87.69 L436.7,87.79 L437.7,87.89 L438.7,87.98 L439.7,88.07 L440.7,88.17 L441.7,88.26 L442.7,88.36 L443.7,88.45 L444.7,88.54 L445.7,88.64 L446.7,88.73 L447.7,88.82 L448.4,88.91" fill="none" stroke="#0B7A14" stroke-width="1.5" stroke-linejoin="round" stroke-linecap="butt"/>
<path d="M279.7,27.1 L280.7,26.79 L281.7,26.48 L282.7,26.16 L283.7,25.84 L284.7,25.51 L285.7,25.19 L286.7,24.86 L287.7,24.53 L288.7,24.2 L289.7,23.87 L290.7,23.54 L291.7,23.21 L292.7,22.89 L293.7,22.56 L294.7,22.23 L295.7,21.9 L296.7,21.57 L297.7,21.24 L298.7,20.9 L299.7,20.57 L300.7,20.23 L301.7,19.89 L302.7,19.54 L303.7,19.18 L304.7,18.82 L305.7,18.45 L306.7,18.07 L307.7,17.69 L308.7,17.3 L309.7,16.92 L310.7,16.54 L311.7,16.17 L312.7,15.81 L313.7,15.46 L314.7,15.12 L315.7,14.78 L316.7,14.44 L317.7,14.1 L318.7,13.78 L319.7,13.47 L320.7,13.19 L321.7,12.95 L322.7,12.75 L323.7,12.61 L324.7,12.52 L325.7,12.49 L326.7,12.51 L327.7,12.6 L328.7,12.73 L329.7,12.92 L330.7,13.17 L331.7,13.46 L332.7,13.81 L333.7,14.21 L334.7,14.66 L335.7,15.17 L336.7,15.73 L337.7,16.34 L338.7,16.98 L339.7,17.66 L340.7,18.38 L341.7,19.12 L342.7,19.89 L343.7,20.69 L344.7,21.53 L345.7,22.39 L346.7,23.29 L347.7,24.21 L348.7,25.15 L349.7,26.13 L350.7,27.14 L351.7,28.18 L352.7,29.26 L353.7,30.37 L354.7,31.52 L355.7,32.68 L356.7,33.86 L357.7,35.03 L358.7,36.18 L359.7,37.32 L360.7,38.45 L361.7,39.56 L362.7,40.67 L363.7,41.76 L364.7,42.86 L365.7,43.94 L366.7,45.02 L367.7,46.09 L368.7,47.14 L369.7,48.19 L370.7,49.23 L371.7,50.26 L372.7,51.29 L373.7,52.31 L374.7,53.31 L375.7,54.3 L376.7,55.28 L377.7,56.24 L378.7,57.18 L379.7,58.11 L380.7,59.03 L381.7,59.94 L382.7,60.84 L383.7,61.74 L384.7,62.63 L385.7,63.51 L386.7,64.37 L387.7,65.22 L388.7,66.05 L389.7,66.86 L390.7,67.64 L391.7,68.41 L392.7,69.14 L393.7,69.86 L394.7,70.55 L395.7,71.22 L396.7,71.88 L397.7,72.51 L398.7,73.12 L399.7,73.71 L400.7,74.27 L401.7,74.8 L402.7,75.32 L403.7,75.81 L404.7,76.29 L405.7,76.74 L406.7,77.19 L407.7,77.62 L408.7,78.04 L409.7,78.45 L410.7,78.84 L411.7,79.23 L412.7,79.62 L413.7,79.99 L414.7,80.36 L415.7,80.72 L416.7,81.07 L417.7,81.41 L418.7,81.75 L419.7,82.08 L420.7,82.4 L421.7,82.72 L422.7,83.03 L423.7,83.33 L424.7,83.62 L425.7,83.9 L426.7,84.17 L427.7,84.43 L428.7,84.68 L429.7,84.92 L430.7,85.14 L431.7,85.35 L432.7,85.55 L433.7,85.74 L434.7,85.92 L435.7,86.09 L436.7,86.26 L437.7,86.42 L438.7,86.57 L439.7,86.72 L440.7,86.87 L441.7,87.02 L442.7,87.16 L443.7,87.3 L444.7,87.45 L445.7,87.59 L446.7,87.74 L447.7,87.87 L448.4,88.03 L448.4,94.03 L447.7,93.78 L446.7,93.52 L445.7,93.25 L444.7,92.99 L443.7,92.72 L442.7,92.46 L441.7,92.21 L440.7,91.95 L439.7,91.7 L438.7,91.45 L437.7,91.19 L436.7,90.93 L435.7,90.67 L434.7,90.4 L433.7,90.13 L432.7,89.85 L431.7,89.56 L430.7,89.27 L429.7,88.96 L428.7,88.65 L427.7,88.32 L426.7,87.98 L425.7,87.64 L424.7,87.28 L423.7,86.92 L422.7,86.55 L421.7,86.18 L420.7,85.8 L419.7,85.41 L418.7,85.02 L417.7,84.63 L416.7,84.22 L415.7,83.82 L414.7,83.4 L413.7,82.98 L412.7,82.56 L411.7,82.13 L410.7,81.69 L409.7,81.25 L408.7,80.79 L407.7,80.33 L406.7,79.86 L405.7,79.37 L404.7,78.88 L403.7,78.37 L402.7,77.84 L401.7,77.29 L400.7,76.72 L399.7,76.13 L398.7,75.51 L397.7,74.87 L396.7,74.21 L395.7,73.53 L394.7,72.83 L393.7,72.11 L392.7,71.37 L391.7,70.61 L390.7,69.83 L389.7,69.02 L388.7,68.19 L387.7,67.34 L386.7,66.48 L385.7,65.6 L384.7,64.7 L383.7,63.8 L382.7,62.89 L381.7,61.98 L380.7,61.06 L379.7,60.13 L378.7,59.19 L377.7,58.24 L376.7,57.27 L375.7,56.29 L374.7,55.29 L373.7,54.29 L372.7,53.27 L371.7,52.24 L370.7,51.21 L369.7,50.17 L368.7,49.12 L367.7,48.07 L366.7,47 L365.7,45.93 L364.7,44.85 L363.7,43.77 L362.7,42.68 L361.7,41.58 L360.7,40.48 L359.7,39.37 L358.7,38.24 L357.7,37.1 L356.7,35.94 L355.7,34.79 L354.7,33.64 L353.7,32.51 L352.7,31.42 L351.7,30.36 L350.7,29.34 L349.7,28.36 L348.7,27.41 L347.7,26.49 L346.7,25.6 L345.7,24.73 L344.7,23.9 L343.7,23.1 L342.7,22.33 L341.7,21.6 L340.7,20.9 L339.7,20.22 L338.7,19.58 L337.7,18.98 L336.7,18.42 L335.7,17.91 L334.7,17.45 L333.7,17.05 L332.7,16.7 L331.7,16.41 L330.7,16.17 L329.7,15.98 L328.7,15.85 L327.7,15.78 L326.7,15.76 L325.7,15.81 L324.7,15.91 L323.7,16.07 L322.7,16.29 L321.7,16.56 L320.7,16.88 L319.7,17.24 L318.7,17.64 L317.7,18.05 L316.7,18.47 L315.7,18.91 L314.7,19.35 L313.7,19.79 L312.7,20.24 L311.7,20.71 L310.7,21.18 L309.7,21.68 L308.7,22.18 L307.7,22.68 L306.7,23.19 L305.7,23.69 L304.7,24.19 L303.7,24.68 L302.7,25.18 L301.7,25.66 L300.7,26.15 L299.7,26.64 L298.7,27.13 L297.7,27.62 L296.7,28.11 L295.7,28.6 L294.7,29.1 L293.7,29.6 L292.7,30.11 L291.7,30.62 L290.7,31.14 L289.7,31.66 L288.7,32.19 L287.7,32.72 L286.7,33.26 L285.7,33.8 L284.7,34.34 L283.7,34.89 L282.7,35.44 L281.7,35.99 L280.7,36.54 L279.7,37.1Z" fill="#7A1488" fill-opacity="0.22" stroke="none"/>
<path d="M279.7,32.1 L280.7,31.67 L281.7,31.23 L282.7,30.8 L283.7,30.36 L284.7,29.93 L285.7,29.49 L286.7,29.06 L287.7,28.63 L288.7,28.2 L289.7,27.77 L290.7,27.34 L291.7,26.92 L292.7,26.5 L293.7,26.08 L294.7,25.66 L295.7,25.25 L296.7,24.84 L297.7,24.43 L298.7,24.02 L299.7,23.6 L300.7,23.19 L301.7,22.78 L302.7,22.36 L303.7,21.93 L304.7,21.51 L305.7,21.07 L306.7,20.63 L307.7,20.18 L308.7,19.74 L309.7,19.3 L310.7,18.86 L311.7,18.44 L312.7,18.03 L313.7,17.62 L314.7,17.23 L315.7,16.84 L316.7,16.45 L317.7,16.07 L318.7,15.71 L319.7,15.36 L320.7,15.04 L321.7,14.76 L322.7,14.52 L323.7,14.34 L324.7,14.21 L325.7,14.15 L326.7,14.14 L327.7,14.19 L328.7,14.29 L329.7,14.45 L330.7,14.67 L331.7,14.93 L332.7,15.25 L333.7,15.63 L334.7,16.06 L335.7,16.54 L336.7,17.07 L337.7,17.66 L338.7,18.28 L339.7,18.94 L340.7,19.64 L341.7,20.36 L342.7,21.11 L343.7,21.9 L344.7,22.72 L345.7,23.56 L346.7,24.44 L347.7,25.35 L348.7,26.28 L349.7,27.25 L350.7,28.24 L351.7,29.27 L352.7,30.34 L353.7,31.44 L354.7,32.58 L355.7,33.73 L356.7,34.9 L357.7,36.06 L358.7,37.21 L359.7,38.34 L360.7,39.46 L361.7,40.57 L362.7,41.67 L363.7,42.77 L364.7,43.85 L365.7,44.94 L366.7,46.01 L367.7,47.08 L368.7,48.13 L369.7,49.18 L370.7,50.22 L371.7,51.25 L372.7,52.28 L373.7,53.3 L374.7,54.3 L375.7,55.3 L376.7,56.28 L377.7,57.24 L378.7,58.19 L379.7,59.12 L380.7,60.04 L381.7,60.96 L382.7,61.87 L383.7,62.77 L384.7,63.67 L385.7,64.55 L386.7,65.42 L387.7,66.28 L388.7,67.12 L389.7,67.94 L390.7,68.74 L391.7,69.51 L392.7,70.26 L393.7,70.98 L394.7,71.69 L395.7,72.38 L396.7,73.04 L397.7,73.69 L398.7,74.32 L399.7,74.92 L400.7,75.49 L401.7,76.05 L402.7,76.58 L403.7,77.09 L404.7,77.58 L405.7,78.06 L406.7,78.52 L407.7,78.97 L408.7,79.41 L409.7,79.85 L410.7,80.27 L411.7,80.68 L412.7,81.09 L413.7,81.49 L414.7,81.88 L415.7,82.27 L416.7,82.65 L417.7,83.02 L418.7,83.39 L419.7,83.75 L420.7,84.1 L421.7,84.45 L422.7,84.79 L423.7,85.12 L424.7,85.45 L425.7,85.77 L426.7,86.08 L427.7,86.37 L428.7,86.66 L429.7,86.94 L430.7,87.2 L431.7,87.46 L432.7,87.7 L433.7,87.94 L434.7,88.16 L435.7,88.38 L436.7,88.6 L437.7,88.8 L438.7,89.01 L439.7,89.21 L440.7,89.41 L441.7,89.61 L442.7,89.81 L443.7,90.01 L444.7,90.22 L445.7,90.42 L446.7,90.63 L447.7,90.83 L448.4,91.03" fill="none" stroke="#7A1488" stroke-width="1.5" stroke-linejoin="round" stroke-linecap="butt"/>
<path d="M279.7,28.7 L282.93,34.65 L276.47,34.65Z" fill="#7A1488"/>
<path d="M279.7,83.5 L282.93,89.45 L276.47,89.45Z" fill="#0B7A14"/>
<path d="M279.7,86.4 L276.47,80.45 L282.93,80.45Z" fill="#CF3D55"/>
<path d="M303.9,97.6 L300.67,91.65 L307.13,91.65Z" fill="#D8F20F"/>
<path d="M279.7,117.3 L276.47,111.35 L282.93,111.35Z" fill="#C43AFA"/>
<path d="M315.7,140.4 L312.47,134.45 L318.93,134.45Z" fill="#4682B4"/>
<path d="M448,87.3 L444.77,81.35 L451.23,81.35Z" fill="#E8922A"/>
<line x1="503.4" y1="8.8" x2="503.4" y2="149.7" stroke="#7a7a7a" stroke-width="0.8"/>
<line x1="503.4" y1="149.7" x2="680.9" y2="149.7" stroke="#c4c4c4" stroke-width="1.3"/>
<line x1="499.8" y1="8.8" x2="503.4" y2="8.8" stroke="#9a9a9a" stroke-width="0.8"/>
<text transform="translate(496 11.5) scale(0.85 1)" font-size="9" text-anchor="end" fill="#141414" stroke="#141414" stroke-width="0.18">0.6</text>
<line x1="499.8" y1="42.3" x2="503.4" y2="42.3" stroke="#9a9a9a" stroke-width="0.8"/>
<text transform="translate(496 45) scale(0.85 1)" font-size="9" text-anchor="end" fill="#141414" stroke="#141414" stroke-width="0.18">0.3</text>
<line x1="499.8" y1="75.9" x2="503.4" y2="75.9" stroke="#9a9a9a" stroke-width="0.8"/>
<text transform="translate(496 78.6) scale(0.85 1)" font-size="9" text-anchor="end" fill="#141414" stroke="#141414" stroke-width="0.18">0</text>
<line x1="499.8" y1="109.6" x2="503.4" y2="109.6" stroke="#9a9a9a" stroke-width="0.8"/>
<text transform="translate(496 112.3) scale(0.85 1)" font-size="9" text-anchor="end" fill="#141414" stroke="#141414" stroke-width="0.18">−0.3</text>
<line x1="499.8" y1="143.2" x2="503.4" y2="143.2" stroke="#9a9a9a" stroke-width="0.8"/>
<text transform="translate(496 145.9) scale(0.85 1)" font-size="9" text-anchor="end" fill="#141414" stroke="#141414" stroke-width="0.18">−0.6</text>
<line x1="522.3" y1="149.7" x2="522.3" y2="153.3" stroke="#9a9a9a" stroke-width="0.8"/>
<text transform="translate(522.3 162.7) scale(0.85 1)" font-size="9" text-anchor="middle" fill="#141414" stroke="#141414" stroke-width="0.18">1</text>
<line x1="530.4" y1="149.7" x2="530.4" y2="153.3" stroke="#9a9a9a" stroke-width="0.8"/>
<text transform="translate(530.4 162.7) scale(0.85 1)" font-size="9" text-anchor="middle" fill="#141414" stroke="#141414" stroke-width="0.18">2</text>
<line x1="544.2" y1="149.7" x2="544.2" y2="153.3" stroke="#9a9a9a" stroke-width="0.8"/>
<text transform="translate(544.2 162.7) scale(0.85 1)" font-size="9" text-anchor="middle" fill="#141414" stroke="#141414" stroke-width="0.18">5</text>
<line x1="560.3" y1="149.7" x2="560.3" y2="153.3" stroke="#9a9a9a" stroke-width="0.8"/>
<text transform="translate(560.3 162.7) scale(0.85 1)" font-size="9" text-anchor="middle" fill="#141414" stroke="#141414" stroke-width="0.18">10</text>
<line x1="591" y1="149.7" x2="591" y2="153.3" stroke="#9a9a9a" stroke-width="0.8"/>
<text transform="translate(591 162.7) scale(0.85 1)" font-size="9" text-anchor="middle" fill="#141414" stroke="#141414" stroke-width="0.18">25</text>
<line x1="626.3" y1="149.7" x2="626.3" y2="153.3" stroke="#9a9a9a" stroke-width="0.8"/>
<text transform="translate(626.3 162.7) scale(0.85 1)" font-size="9" text-anchor="middle" fill="#141414" stroke="#141414" stroke-width="0.18">50</text>
<line x1="658.3" y1="149.7" x2="658.3" y2="153.3" stroke="#9a9a9a" stroke-width="0.8"/>
<text transform="translate(658.3 162.7) scale(0.85 1)" font-size="9" text-anchor="middle" fill="#141414" stroke="#141414" stroke-width="0.18">80</text>
<text transform="translate(473.5 78.9) rotate(-90) scale(0.85 1)" font-size="9" text-anchor="middle" fill="#141414" stroke="#141414" stroke-width="0.18">MR value</text>
<text transform="translate(586 177) scale(0.85 1)" font-size="9" text-anchor="middle" fill="#141414" stroke="#141414" stroke-width="0.18">Age (years)</text>
<path d="M508.5,71.5 L509.5,71.63 L510.5,71.76 L511.5,71.89 L512.5,72.03 L513.5,72.16 L514.5,72.3 L515.5,72.44 L516.5,72.57 L517.5,72.7 L518.5,72.84 L519.5,72.96 L520.5,73.09 L521.5,73.21 L522.5,73.32 L523.5,73.43 L524.5,73.54 L525.5,73.64 L526.5,73.74 L527.5,73.84 L528.5,73.94 L529.5,74.03 L530.5,74.12 L531.5,74.2 L532.5,74.29 L533.5,74.37 L534.5,74.45 L535.5,74.53 L536.5,74.61 L537.5,74.69 L538.5,74.76 L539.5,74.83 L540.5,74.91 L541.5,74.98 L542.5,75.05 L543.5,75.12 L544.5,75.19 L545.5,75.26 L546.5,75.32 L547.5,75.39 L548.5,75.46 L549.5,75.52 L550.5,75.59 L551.5,75.65 L552.5,75.72 L553.5,75.78 L554.5,75.84 L555.5,75.91 L556.5,75.97 L557.5,76.03 L558.5,76.1 L559.5,76.16 L560.5,76.22 L561.5,76.28 L562.5,76.35 L563.5,76.41 L564.5,76.47 L565.5,76.53 L566.5,76.59 L567.5,76.66 L568.5,76.72 L569.5,76.78 L570.5,76.84 L571.5,76.9 L572.5,76.96 L573.5,77.03 L574.5,77.09 L575.5,77.15 L576.5,77.21 L577.5,77.27 L578.5,77.33 L579.5,77.39 L580.5,77.46 L581.5,77.52 L582.5,77.58 L583.5,77.64 L584.5,77.7 L585.5,77.76 L586.5,77.82 L587.5,77.88 L588.5,77.94 L589.5,78 L590.5,78.06 L591.5,78.12 L592.5,78.18 L593.5,78.24 L594.5,78.3 L595.5,78.36 L596.5,78.42 L597.5,78.47 L598.5,78.53 L599.5,78.59 L600.5,78.65 L601.5,78.71 L602.5,78.76 L603.5,78.82 L604.5,78.88 L605.5,78.93 L606.5,78.99 L607.5,79.05 L608.5,79.1 L609.5,79.16 L610.5,79.21 L611.5,79.27 L612.5,79.32 L613.5,79.38 L614.5,79.43 L615.5,79.49 L616.5,79.54 L617.5,79.59 L618.5,79.65 L619.5,79.7 L620.5,79.75 L621.5,79.8 L622.5,79.86 L623.5,79.91 L624.5,79.96 L625.5,80.01 L626.5,80.06 L627.5,80.11 L628.5,80.16 L629.5,80.21 L630.5,80.26 L631.5,80.31 L632.5,80.36 L633.5,80.4 L634.5,80.45 L635.5,80.5 L636.5,80.55 L637.5,80.59 L638.5,80.64 L639.5,80.68 L640.5,80.73 L641.5,80.77 L642.5,80.81 L643.5,80.86 L644.5,80.9 L645.5,80.94 L646.5,80.98 L647.5,81.03 L648.5,81.07 L649.5,81.11 L650.5,81.14 L651.5,81.18 L652.5,81.22 L653.5,81.26 L654.5,81.3 L655.5,81.33 L656.5,81.37 L657.5,81.4 L658.5,81.44 L659.5,81.47 L660.5,81.5 L661.5,81.53 L662.5,81.56 L663.5,81.59 L664.5,81.62 L665.5,81.65 L666.5,81.68 L667.5,81.71 L668.5,81.73 L669.5,81.76 L670.5,81.78 L671.5,81.81 L672.5,81.83 L673.5,81.85 L674.5,81.87 L675.5,81.89 L676,81.9 L676,85.9 L675.5,85.85 L674.5,85.75 L673.5,85.65 L672.5,85.55 L671.5,85.45 L670.5,85.35 L669.5,85.26 L668.5,85.16 L667.5,85.07 L666.5,84.97 L665.5,84.88 L664.5,84.79 L663.5,84.69 L662.5,84.6 L661.5,84.51 L660.5,84.42 L659.5,84.34 L658.5,84.25 L657.5,84.16 L656.5,84.07 L655.5,83.99 L654.5,83.9 L653.5,83.82 L652.5,83.74 L651.5,83.65 L650.5,83.57 L649.5,83.49 L648.5,83.41 L647.5,83.33 L646.5,83.25 L645.5,83.17 L644.5,83.09 L643.5,83.01 L642.5,82.93 L641.5,82.86 L640.5,82.78 L639.5,82.7 L638.5,82.63 L637.5,82.55 L636.5,82.48 L635.5,82.4 L634.5,82.33 L633.5,82.25 L632.5,82.18 L631.5,82.11 L630.5,82.04 L629.5,81.96 L628.5,81.89 L627.5,81.82 L626.5,81.75 L625.5,81.68 L624.5,81.61 L623.5,81.54 L622.5,81.47 L621.5,81.4 L620.5,81.33 L619.5,81.27 L618.5,81.2 L617.5,81.13 L616.5,81.06 L615.5,80.99 L614.5,80.93 L613.5,80.86 L612.5,80.8 L611.5,80.73 L610.5,80.66 L609.5,80.6 L608.5,80.53 L607.5,80.47 L606.5,80.4 L605.5,80.34 L604.5,80.28 L603.5,80.21 L602.5,80.15 L601.5,80.08 L600.5,80.02 L599.5,79.96 L598.5,79.9 L597.5,79.83 L596.5,79.77 L595.5,79.71 L594.5,79.65 L593.5,79.59 L592.5,79.52 L591.5,79.46 L590.5,79.4 L589.5,79.34 L588.5,79.28 L587.5,79.22 L586.5,79.16 L585.5,79.1 L584.5,79.04 L583.5,78.98 L582.5,78.92 L581.5,78.86 L580.5,78.8 L579.5,78.75 L578.5,78.69 L577.5,78.63 L576.5,78.57 L575.5,78.52 L574.5,78.46 L573.5,78.4 L572.5,78.35 L571.5,78.29 L570.5,78.24 L569.5,78.18 L568.5,78.13 L567.5,78.08 L566.5,78.02 L565.5,77.97 L564.5,77.92 L563.5,77.86 L562.5,77.81 L561.5,77.76 L560.5,77.71 L559.5,77.66 L558.5,77.61 L557.5,77.56 L556.5,77.51 L555.5,77.46 L554.5,77.41 L553.5,77.36 L552.5,77.31 L551.5,77.26 L550.5,77.22 L549.5,77.17 L548.5,77.12 L547.5,77.07 L546.5,77.02 L545.5,76.97 L544.5,76.93 L543.5,76.88 L542.5,76.83 L541.5,76.78 L540.5,76.73 L539.5,76.68 L538.5,76.63 L537.5,76.58 L536.5,76.53 L535.5,76.48 L534.5,76.43 L533.5,76.37 L532.5,76.32 L531.5,76.26 L530.5,76.21 L529.5,76.15 L528.5,76.09 L527.5,76.03 L526.5,75.96 L525.5,75.9 L524.5,75.83 L523.5,75.76 L522.5,75.68 L521.5,75.61 L520.5,75.53 L519.5,75.44 L518.5,75.36 L517.5,75.27 L516.5,75.18 L515.5,75.09 L514.5,75 L513.5,74.91 L512.5,74.82 L511.5,74.74 L510.5,74.65 L509.5,74.58 L508.5,74.5Z" fill="#D8F20F" fill-opacity="0.22" stroke="none"/>
<path d="M508.5,73 L509.5,73.1 L510.5,73.21 L511.5,73.31 L512.5,73.42 L513.5,73.54 L514.5,73.65 L515.5,73.76 L516.5,73.88 L517.5,73.99 L518.5,74.1 L519.5,74.2 L520.5,74.31 L521.5,74.41 L522.5,74.5 L523.5,74.6 L524.5,74.68 L525.5,74.77 L526.5,74.85 L527.5,74.93 L528.5,75.01 L529.5,75.09 L530.5,75.16 L531.5,75.23 L532.5,75.3 L533.5,75.37 L534.5,75.44 L535.5,75.51 L536.5,75.57 L537.5,75.63 L538.5,75.7 L539.5,75.76 L540.5,75.82 L541.5,75.88 L542.5,75.94 L543.5,76 L544.5,76.06 L545.5,76.12 L546.5,76.17 L547.5,76.23 L548.5,76.29 L549.5,76.35 L550.5,76.4 L551.5,76.46 L552.5,76.51 L553.5,76.57 L554.5,76.63 L555.5,76.68 L556.5,76.74 L557.5,76.8 L558.5,76.85 L559.5,76.91 L560.5,76.97 L561.5,77.02 L562.5,77.08 L563.5,77.14 L564.5,77.19 L565.5,77.25 L566.5,77.31 L567.5,77.37 L568.5,77.42 L569.5,77.48 L570.5,77.54 L571.5,77.6 L572.5,77.66 L573.5,77.71 L574.5,77.77 L575.5,77.83 L576.5,77.89 L577.5,77.95 L578.5,78.01 L579.5,78.07 L580.5,78.13 L581.5,78.19 L582.5,78.25 L583.5,78.31 L584.5,78.37 L585.5,78.43 L586.5,78.49 L587.5,78.55 L588.5,78.61 L589.5,78.67 L590.5,78.73 L591.5,78.79 L592.5,78.85 L593.5,78.91 L594.5,78.97 L595.5,79.03 L596.5,79.09 L597.5,79.15 L598.5,79.21 L599.5,79.27 L600.5,79.33 L601.5,79.39 L602.5,79.46 L603.5,79.52 L604.5,79.58 L605.5,79.64 L606.5,79.7 L607.5,79.76 L608.5,79.82 L609.5,79.88 L610.5,79.94 L611.5,80 L612.5,80.06 L613.5,80.12 L614.5,80.18 L615.5,80.24 L616.5,80.3 L617.5,80.36 L618.5,80.42 L619.5,80.48 L620.5,80.54 L621.5,80.6 L622.5,80.66 L623.5,80.72 L624.5,80.78 L625.5,80.85 L626.5,80.91 L627.5,80.97 L628.5,81.03 L629.5,81.09 L630.5,81.15 L631.5,81.21 L632.5,81.27 L633.5,81.33 L634.5,81.39 L635.5,81.45 L636.5,81.51 L637.5,81.57 L638.5,81.63 L639.5,81.69 L640.5,81.75 L641.5,81.81 L642.5,81.87 L643.5,81.93 L644.5,81.99 L645.5,82.06 L646.5,82.12 L647.5,82.18 L648.5,82.24 L649.5,82.3 L650.5,82.36 L651.5,82.42 L652.5,82.48 L653.5,82.54 L654.5,82.6 L655.5,82.66 L656.5,82.72 L657.5,82.78 L658.5,82.84 L659.5,82.9 L660.5,82.96 L661.5,83.02 L662.5,83.08 L663.5,83.14 L664.5,83.2 L665.5,83.27 L666.5,83.33 L667.5,83.39 L668.5,83.45 L669.5,83.51 L670.5,83.57 L671.5,83.63 L672.5,83.69 L673.5,83.75 L674.5,83.81 L675.5,83.87 L676,83.9" fill="none" stroke="#D8F20F" stroke-width="1.5" stroke-linejoin="round" stroke-linecap="butt"/>
<path d="M508.5,67.8 L509.5,68.65 L510.5,69.5 L511.5,70.34 L512.5,71.18 L513.5,72.02 L514.5,72.85 L515.5,73.69 L516.5,74.55 L517.5,75.41 L518.5,76.26 L519.5,77.09 L520.5,77.88 L521.5,78.61 L522.5,79.28 L523.5,79.9 L524.5,80.45 L525.5,80.96 L526.5,81.43 L527.5,81.87 L528.5,82.29 L529.5,82.68 L530.5,83.07 L531.5,83.44 L532.5,83.8 L533.5,84.15 L534.5,84.49 L535.5,84.84 L536.5,85.18 L537.5,85.52 L538.5,85.86 L539.5,86.2 L540.5,86.53 L541.5,86.85 L542.5,87.17 L543.5,87.48 L544.5,87.77 L545.5,88.04 L546.5,88.3 L547.5,88.53 L548.5,88.75 L549.5,88.94 L550.5,89.12 L551.5,89.27 L552.5,89.4 L553.5,89.51 L554.5,89.6 L555.5,89.68 L556.5,89.75 L557.5,89.81 L558.5,89.87 L559.5,89.92 L560.5,89.97 L561.5,90.02 L562.5,90.07 L563.5,90.13 L564.5,90.18 L565.5,90.24 L566.5,90.3 L567.5,90.35 L568.5,90.41 L569.5,90.45 L570.5,90.5 L571.5,90.55 L572.5,90.6 L573.5,90.65 L574.5,90.7 L575.5,90.76 L576.5,90.82 L577.5,90.89 L578.5,90.96 L579.5,91.04 L580.5,91.13 L581.5,91.22 L582.5,91.32 L583.5,91.42 L584.5,91.53 L585.5,91.63 L586.5,91.74 L587.5,91.86 L588.5,91.97 L589.5,92.08 L590.5,92.2 L591.5,92.31 L592.5,92.42 L593.5,92.54 L594.5,92.65 L595.5,92.77 L596.5,92.88 L597.5,92.99 L598.5,93.1 L599.5,93.21 L600.5,93.31 L601.5,93.43 L602.5,93.55 L603.5,93.67 L604.5,93.8 L605.5,93.92 L606.5,94.05 L607.5,94.18 L608.5,94.29 L609.5,94.4 L610.5,94.5 L611.5,94.59 L612.5,94.66 L613.5,94.72 L614.5,94.76 L615.5,94.8 L616.5,94.82 L617.5,94.84 L618.5,94.84 L619.5,94.84 L620.5,94.84 L621.5,94.82 L622.5,94.81 L623.5,94.79 L624.5,94.76 L625.5,94.73 L626.5,94.7 L627.5,94.66 L628.5,94.63 L629.5,94.58 L630.5,94.53 L631.5,94.48 L632.5,94.43 L633.5,94.37 L634.5,94.31 L635.5,94.24 L636.5,94.17 L637.5,94.09 L638.5,94.01 L639.5,93.92 L640.5,93.83 L641.5,93.73 L642.5,93.62 L643.5,93.51 L644.5,93.38 L645.5,93.25 L646.5,93.11 L647.5,92.96 L648.5,92.79 L649.5,92.62 L650.5,92.43 L651.5,92.23 L652.5,92.02 L653.5,91.8 L654.5,91.58 L655.5,91.34 L656.5,91.1 L657.5,90.84 L658.5,90.58 L659.5,90.31 L660.5,90.02 L661.5,89.73 L662.5,89.43 L663.5,89.12 L664.5,88.81 L665.5,88.49 L666.5,88.16 L667.5,87.83 L668.5,87.5 L669.5,87.17 L670.5,86.84 L671.5,86.5 L672.5,86.17 L673.5,85.83 L674.5,85.5 L675.5,85.17 L676,85 L676,91 L675.5,91.1 L674.5,91.29 L673.5,91.49 L672.5,91.69 L671.5,91.89 L670.5,92.1 L669.5,92.31 L668.5,92.52 L667.5,92.73 L666.5,92.95 L665.5,93.16 L664.5,93.37 L663.5,93.58 L662.5,93.78 L661.5,93.98 L660.5,94.18 L659.5,94.36 L658.5,94.55 L657.5,94.72 L656.5,94.88 L655.5,95.04 L654.5,95.19 L653.5,95.34 L652.5,95.48 L651.5,95.61 L650.5,95.73 L649.5,95.85 L648.5,95.95 L647.5,96.05 L646.5,96.13 L645.5,96.21 L644.5,96.28 L643.5,96.34 L642.5,96.4 L641.5,96.45 L640.5,96.49 L639.5,96.53 L638.5,96.56 L637.5,96.6 L636.5,96.62 L635.5,96.65 L634.5,96.67 L633.5,96.68 L632.5,96.7 L631.5,96.71 L630.5,96.72 L629.5,96.73 L628.5,96.74 L627.5,96.74 L626.5,96.74 L625.5,96.74 L624.5,96.73 L623.5,96.73 L622.5,96.72 L621.5,96.71 L620.5,96.69 L619.5,96.67 L618.5,96.64 L617.5,96.61 L616.5,96.57 L615.5,96.53 L614.5,96.47 L613.5,96.4 L612.5,96.32 L611.5,96.23 L610.5,96.13 L609.5,96.01 L608.5,95.89 L607.5,95.75 L606.5,95.61 L605.5,95.47 L604.5,95.33 L603.5,95.19 L602.5,95.06 L601.5,94.93 L600.5,94.81 L599.5,94.69 L598.5,94.57 L597.5,94.45 L596.5,94.34 L595.5,94.22 L594.5,94.1 L593.5,93.98 L592.5,93.86 L591.5,93.74 L590.5,93.63 L589.5,93.51 L588.5,93.4 L587.5,93.28 L586.5,93.17 L585.5,93.06 L584.5,92.96 L583.5,92.85 L582.5,92.75 L581.5,92.66 L580.5,92.57 L579.5,92.49 L578.5,92.41 L577.5,92.34 L576.5,92.28 L575.5,92.22 L574.5,92.17 L573.5,92.13 L572.5,92.09 L571.5,92.05 L570.5,92.01 L569.5,91.98 L568.5,91.94 L567.5,91.9 L566.5,91.86 L565.5,91.81 L564.5,91.77 L563.5,91.73 L562.5,91.69 L561.5,91.65 L560.5,91.62 L559.5,91.59 L558.5,91.56 L557.5,91.52 L556.5,91.48 L555.5,91.43 L554.5,91.37 L553.5,91.3 L552.5,91.21 L551.5,91.11 L550.5,90.98 L549.5,90.84 L548.5,90.67 L547.5,90.48 L546.5,90.27 L545.5,90.05 L544.5,89.8 L543.5,89.54 L542.5,89.27 L541.5,88.99 L540.5,88.7 L539.5,88.4 L538.5,88.1 L537.5,87.8 L536.5,87.5 L535.5,87.2 L534.5,86.9 L533.5,86.6 L532.5,86.29 L531.5,85.97 L530.5,85.65 L529.5,85.32 L528.5,84.97 L527.5,84.6 L526.5,84.22 L525.5,83.8 L524.5,83.35 L523.5,82.85 L522.5,82.29 L521.5,81.68 L520.5,81.01 L519.5,80.28 L518.5,79.52 L517.5,78.73 L516.5,77.94 L515.5,77.15 L514.5,76.39 L513.5,75.62 L512.5,74.86 L511.5,74.1 L510.5,73.33 L509.5,72.57 L508.5,71.8Z" fill="#CF3D55" fill-opacity="0.22" stroke="none"/>
<path d="M508.5,69.8 L509.5,70.61 L510.5,71.41 L511.5,72.22 L512.5,73.02 L513.5,73.82 L514.5,74.62 L515.5,75.42 L516.5,76.24 L517.5,77.07 L518.5,77.89 L519.5,78.69 L520.5,79.44 L521.5,80.15 L522.5,80.79 L523.5,81.37 L524.5,81.9 L525.5,82.38 L526.5,82.82 L527.5,83.24 L528.5,83.63 L529.5,84 L530.5,84.36 L531.5,84.7 L532.5,85.04 L533.5,85.37 L534.5,85.7 L535.5,86.02 L536.5,86.34 L537.5,86.66 L538.5,86.98 L539.5,87.3 L540.5,87.61 L541.5,87.92 L542.5,88.22 L543.5,88.51 L544.5,88.78 L545.5,89.04 L546.5,89.28 L547.5,89.51 L548.5,89.71 L549.5,89.89 L550.5,90.05 L551.5,90.19 L552.5,90.3 L553.5,90.4 L554.5,90.49 L555.5,90.56 L556.5,90.62 L557.5,90.67 L558.5,90.71 L559.5,90.76 L560.5,90.8 L561.5,90.84 L562.5,90.88 L563.5,90.93 L564.5,90.98 L565.5,91.03 L566.5,91.08 L567.5,91.13 L568.5,91.17 L569.5,91.22 L570.5,91.26 L571.5,91.3 L572.5,91.34 L573.5,91.39 L574.5,91.44 L575.5,91.49 L576.5,91.55 L577.5,91.62 L578.5,91.69 L579.5,91.77 L580.5,91.85 L581.5,91.94 L582.5,92.04 L583.5,92.14 L584.5,92.24 L585.5,92.35 L586.5,92.46 L587.5,92.57 L588.5,92.68 L589.5,92.8 L590.5,92.91 L591.5,93.03 L592.5,93.14 L593.5,93.26 L594.5,93.38 L595.5,93.49 L596.5,93.61 L597.5,93.72 L598.5,93.83 L599.5,93.95 L600.5,94.06 L601.5,94.18 L602.5,94.3 L603.5,94.43 L604.5,94.56 L605.5,94.7 L606.5,94.83 L607.5,94.96 L608.5,95.09 L609.5,95.21 L610.5,95.31 L611.5,95.41 L612.5,95.49 L613.5,95.56 L614.5,95.62 L615.5,95.66 L616.5,95.7 L617.5,95.72 L618.5,95.74 L619.5,95.75 L620.5,95.76 L621.5,95.76 L622.5,95.76 L623.5,95.76 L624.5,95.75 L625.5,95.74 L626.5,95.72 L627.5,95.7 L628.5,95.68 L629.5,95.66 L630.5,95.63 L631.5,95.6 L632.5,95.56 L633.5,95.53 L634.5,95.49 L635.5,95.44 L636.5,95.4 L637.5,95.34 L638.5,95.29 L639.5,95.23 L640.5,95.16 L641.5,95.09 L642.5,95.01 L643.5,94.92 L644.5,94.83 L645.5,94.73 L646.5,94.62 L647.5,94.5 L648.5,94.37 L649.5,94.23 L650.5,94.08 L651.5,93.92 L652.5,93.75 L653.5,93.57 L654.5,93.38 L655.5,93.19 L656.5,92.99 L657.5,92.78 L658.5,92.56 L659.5,92.34 L660.5,92.1 L661.5,91.86 L662.5,91.6 L663.5,91.35 L664.5,91.09 L665.5,90.82 L666.5,90.55 L667.5,90.28 L668.5,90.01 L669.5,89.74 L670.5,89.47 L671.5,89.2 L672.5,88.93 L673.5,88.66 L674.5,88.39 L675.5,88.13 L676,88" fill="none" stroke="#CF3D55" stroke-width="1.5" stroke-linejoin="round" stroke-linecap="butt"/>
<path d="M508.5,69.5 L509.5,69.52 L510.5,69.53 L511.5,69.53 L512.5,69.53 L513.5,69.53 L514.5,69.52 L515.5,69.51 L516.5,69.49 L517.5,69.48 L518.5,69.46 L519.5,69.45 L520.5,69.43 L521.5,69.42 L522.5,69.41 L523.5,69.4 L524.5,69.39 L525.5,69.38 L526.5,69.37 L527.5,69.36 L528.5,69.35 L529.5,69.33 L530.5,69.31 L531.5,69.29 L532.5,69.27 L533.5,69.25 L534.5,69.24 L535.5,69.23 L536.5,69.23 L537.5,69.24 L538.5,69.26 L539.5,69.29 L540.5,69.33 L541.5,69.39 L542.5,69.48 L543.5,69.59 L544.5,69.71 L545.5,69.86 L546.5,70.04 L547.5,70.24 L548.5,70.47 L549.5,70.74 L550.5,71.05 L551.5,71.39 L552.5,71.77 L553.5,72.19 L554.5,72.64 L555.5,73.14 L556.5,73.69 L557.5,74.29 L558.5,74.93 L559.5,75.61 L560.5,76.31 L561.5,77.04 L562.5,77.76 L563.5,78.49 L564.5,79.2 L565.5,79.89 L566.5,80.55 L567.5,81.17 L568.5,81.76 L569.5,82.33 L570.5,82.87 L571.5,83.4 L572.5,83.92 L573.5,84.42 L574.5,84.91 L575.5,85.4 L576.5,85.88 L577.5,86.35 L578.5,86.82 L579.5,87.28 L580.5,87.73 L581.5,88.17 L582.5,88.6 L583.5,89.01 L584.5,89.41 L585.5,89.81 L586.5,90.22 L587.5,90.64 L588.5,91.07 L589.5,91.53 L590.5,91.99 L591.5,92.48 L592.5,92.98 L593.5,93.48 L594.5,93.99 L595.5,94.5 L596.5,95.01 L597.5,95.51 L598.5,96 L599.5,96.48 L600.5,96.94 L601.5,97.39 L602.5,97.82 L603.5,98.22 L604.5,98.61 L605.5,98.97 L606.5,99.32 L607.5,99.65 L608.5,99.96 L609.5,100.27 L610.5,100.57 L611.5,100.85 L612.5,101.13 L613.5,101.4 L614.5,101.66 L615.5,101.9 L616.5,102.14 L617.5,102.36 L618.5,102.56 L619.5,102.76 L620.5,102.94 L621.5,103.1 L622.5,103.24 L623.5,103.36 L624.5,103.46 L625.5,103.53 L626.5,103.58 L627.5,103.6 L628.5,103.59 L629.5,103.56 L630.5,103.49 L631.5,103.4 L632.5,103.28 L633.5,103.13 L634.5,102.95 L635.5,102.74 L636.5,102.52 L637.5,102.27 L638.5,102 L639.5,101.72 L640.5,101.43 L641.5,101.12 L642.5,100.81 L643.5,100.48 L644.5,100.14 L645.5,99.78 L646.5,99.41 L647.5,99.02 L648.5,98.61 L649.5,98.2 L650.5,97.77 L651.5,97.33 L652.5,96.89 L653.5,96.43 L654.5,95.98 L655.5,95.51 L656.5,95.04 L657.5,94.56 L658.5,94.09 L659.5,93.6 L660.5,93.12 L661.5,92.64 L662.5,92.15 L663.5,91.67 L664.5,91.18 L665.5,90.68 L666.5,90.17 L667.5,89.65 L668.5,89.12 L669.5,88.59 L670.5,88.04 L671.5,87.49 L672.5,86.94 L673.5,86.39 L674.5,85.83 L675.5,85.28 L676,85 L676,93 L675.5,93.18 L674.5,93.53 L673.5,93.89 L672.5,94.26 L671.5,94.63 L670.5,95 L669.5,95.37 L668.5,95.73 L667.5,96.09 L666.5,96.45 L665.5,96.8 L664.5,97.14 L663.5,97.48 L662.5,97.82 L661.5,98.16 L660.5,98.51 L659.5,98.85 L658.5,99.2 L657.5,99.55 L656.5,99.9 L655.5,100.25 L654.5,100.6 L653.5,100.94 L652.5,101.28 L651.5,101.62 L650.5,101.95 L649.5,102.27 L648.5,102.59 L647.5,102.89 L646.5,103.19 L645.5,103.47 L644.5,103.74 L643.5,104 L642.5,104.24 L641.5,104.47 L640.5,104.7 L639.5,104.92 L638.5,105.12 L637.5,105.32 L636.5,105.5 L635.5,105.66 L634.5,105.79 L633.5,105.91 L632.5,106 L631.5,106.07 L630.5,106.1 L629.5,106.11 L628.5,106.1 L627.5,106.05 L626.5,105.98 L625.5,105.89 L624.5,105.77 L623.5,105.63 L622.5,105.47 L621.5,105.29 L620.5,105.09 L619.5,104.87 L618.5,104.65 L617.5,104.41 L616.5,104.15 L615.5,103.89 L614.5,103.62 L613.5,103.34 L612.5,103.04 L611.5,102.74 L610.5,102.44 L609.5,102.12 L608.5,101.79 L607.5,101.46 L606.5,101.12 L605.5,100.76 L604.5,100.38 L603.5,99.99 L602.5,99.57 L601.5,99.13 L600.5,98.68 L599.5,98.21 L598.5,97.73 L597.5,97.24 L596.5,96.74 L595.5,96.24 L594.5,95.73 L593.5,95.23 L592.5,94.73 L591.5,94.24 L590.5,93.76 L589.5,93.3 L588.5,92.86 L587.5,92.44 L586.5,92.04 L585.5,91.65 L584.5,91.26 L583.5,90.88 L582.5,90.5 L581.5,90.1 L580.5,89.68 L579.5,89.26 L578.5,88.83 L577.5,88.39 L576.5,87.95 L575.5,87.51 L574.5,87.06 L573.5,86.61 L572.5,86.14 L571.5,85.67 L570.5,85.19 L569.5,84.69 L568.5,84.18 L567.5,83.64 L566.5,83.07 L565.5,82.47 L564.5,81.84 L563.5,81.19 L562.5,80.53 L561.5,79.87 L560.5,79.22 L559.5,78.58 L558.5,77.98 L557.5,77.41 L556.5,76.9 L555.5,76.44 L554.5,76.02 L553.5,75.66 L552.5,75.33 L551.5,75.05 L550.5,74.8 L549.5,74.6 L548.5,74.44 L547.5,74.31 L546.5,74.22 L545.5,74.17 L544.5,74.14 L543.5,74.13 L542.5,74.16 L541.5,74.2 L540.5,74.27 L539.5,74.37 L538.5,74.48 L537.5,74.61 L536.5,74.76 L535.5,74.92 L534.5,75.09 L533.5,75.27 L532.5,75.45 L531.5,75.65 L530.5,75.85 L529.5,76.05 L528.5,76.26 L527.5,76.48 L526.5,76.69 L525.5,76.91 L524.5,77.13 L523.5,77.35 L522.5,77.59 L521.5,77.83 L520.5,78.08 L519.5,78.34 L518.5,78.6 L517.5,78.87 L516.5,79.15 L515.5,79.43 L514.5,79.72 L513.5,80.01 L512.5,80.3 L511.5,80.6 L510.5,80.9 L509.5,81.2 L508.5,81.5Z" fill="#4682B4" fill-opacity="0.22" stroke="none"/>
<path d="M508.5,75.5 L509.5,75.36 L510.5,75.21 L511.5,75.06 L512.5,74.92 L513.5,74.77 L514.5,74.62 L515.5,74.47 L516.5,74.32 L517.5,74.17 L518.5,74.03 L519.5,73.89 L520.5,73.76 L521.5,73.62 L522.5,73.5 L523.5,73.38 L524.5,73.26 L525.5,73.15 L526.5,73.03 L527.5,72.92 L528.5,72.8 L529.5,72.69 L530.5,72.58 L531.5,72.47 L532.5,72.36 L533.5,72.26 L534.5,72.16 L535.5,72.08 L536.5,72 L537.5,71.93 L538.5,71.87 L539.5,71.83 L540.5,71.8 L541.5,71.8 L542.5,71.82 L543.5,71.86 L544.5,71.92 L545.5,72.01 L546.5,72.13 L547.5,72.28 L548.5,72.45 L549.5,72.67 L550.5,72.93 L551.5,73.22 L552.5,73.55 L553.5,73.92 L554.5,74.33 L555.5,74.79 L556.5,75.29 L557.5,75.85 L558.5,76.45 L559.5,77.09 L560.5,77.76 L561.5,78.45 L562.5,79.15 L563.5,79.84 L564.5,80.52 L565.5,81.18 L566.5,81.81 L567.5,82.4 L568.5,82.97 L569.5,83.51 L570.5,84.03 L571.5,84.54 L572.5,85.03 L573.5,85.51 L574.5,85.99 L575.5,86.45 L576.5,86.91 L577.5,87.37 L578.5,87.82 L579.5,88.27 L580.5,88.71 L581.5,89.13 L582.5,89.55 L583.5,89.94 L584.5,90.34 L585.5,90.73 L586.5,91.13 L587.5,91.54 L588.5,91.97 L589.5,92.41 L590.5,92.88 L591.5,93.36 L592.5,93.85 L593.5,94.36 L594.5,94.86 L595.5,95.37 L596.5,95.88 L597.5,96.37 L598.5,96.86 L599.5,97.34 L600.5,97.81 L601.5,98.26 L602.5,98.69 L603.5,99.1 L604.5,99.5 L605.5,99.87 L606.5,100.22 L607.5,100.55 L608.5,100.88 L609.5,101.19 L610.5,101.5 L611.5,101.8 L612.5,102.09 L613.5,102.37 L614.5,102.64 L615.5,102.9 L616.5,103.15 L617.5,103.38 L618.5,103.61 L619.5,103.82 L620.5,104.01 L621.5,104.19 L622.5,104.35 L623.5,104.49 L624.5,104.61 L625.5,104.71 L626.5,104.78 L627.5,104.83 L628.5,104.84 L629.5,104.83 L630.5,104.8 L631.5,104.73 L632.5,104.64 L633.5,104.52 L634.5,104.37 L635.5,104.2 L636.5,104.01 L637.5,103.79 L638.5,103.56 L639.5,103.32 L640.5,103.06 L641.5,102.8 L642.5,102.53 L643.5,102.24 L644.5,101.94 L645.5,101.63 L646.5,101.3 L647.5,100.96 L648.5,100.6 L649.5,100.23 L650.5,99.86 L651.5,99.47 L652.5,99.08 L653.5,98.69 L654.5,98.29 L655.5,97.88 L656.5,97.47 L657.5,97.06 L658.5,96.64 L659.5,96.23 L660.5,95.81 L661.5,95.4 L662.5,94.99 L663.5,94.57 L664.5,94.16 L665.5,93.74 L666.5,93.31 L667.5,92.87 L668.5,92.43 L669.5,91.98 L670.5,91.52 L671.5,91.06 L672.5,90.6 L673.5,90.14 L674.5,89.68 L675.5,89.23 L676,89" fill="none" stroke="#4682B4" stroke-width="1.5" stroke-linejoin="round" stroke-linecap="butt"/>
<path d="M508.5,39.5 L509.5,38.99 L510.5,38.47 L511.5,37.95 L512.5,37.42 L513.5,36.88 L514.5,36.35 L515.5,35.81 L516.5,35.28 L517.5,34.74 L518.5,34.2 L519.5,33.67 L520.5,33.15 L521.5,32.63 L522.5,32.12 L523.5,31.62 L524.5,31.13 L525.5,30.66 L526.5,30.2 L527.5,29.75 L528.5,29.31 L529.5,28.89 L530.5,28.47 L531.5,28.07 L532.5,27.67 L533.5,27.28 L534.5,26.9 L535.5,26.51 L536.5,26.13 L537.5,25.74 L538.5,25.35 L539.5,24.96 L540.5,24.57 L541.5,24.19 L542.5,23.8 L543.5,23.42 L544.5,23.04 L545.5,22.66 L546.5,22.28 L547.5,21.9 L548.5,21.52 L549.5,21.14 L550.5,20.76 L551.5,20.38 L552.5,19.99 L553.5,19.61 L554.5,19.21 L555.5,18.81 L556.5,18.4 L557.5,17.98 L558.5,17.55 L559.5,17.1 L560.5,16.65 L561.5,16.21 L562.5,15.78 L563.5,15.38 L564.5,15 L565.5,14.65 L566.5,14.33 L567.5,14.02 L568.5,13.72 L569.5,13.43 L570.5,13.17 L571.5,12.93 L572.5,12.72 L573.5,12.54 L574.5,12.39 L575.5,12.28 L576.5,12.2 L577.5,12.15 L578.5,12.13 L579.5,12.13 L580.5,12.14 L581.5,12.17 L582.5,12.22 L583.5,12.28 L584.5,12.35 L585.5,12.43 L586.5,12.52 L587.5,12.62 L588.5,12.73 L589.5,12.85 L590.5,12.99 L591.5,13.13 L592.5,13.28 L593.5,13.44 L594.5,13.61 L595.5,13.79 L596.5,13.98 L597.5,14.17 L598.5,14.38 L599.5,14.59 L600.5,14.81 L601.5,15.04 L602.5,15.28 L603.5,15.53 L604.5,15.78 L605.5,16.04 L606.5,16.31 L607.5,16.59 L608.5,16.87 L609.5,17.15 L610.5,17.45 L611.5,17.75 L612.5,18.05 L613.5,18.36 L614.5,18.67 L615.5,18.99 L616.5,19.32 L617.5,19.65 L618.5,19.99 L619.5,20.34 L620.5,20.69 L621.5,21.04 L622.5,21.39 L623.5,21.75 L624.5,22.11 L625.5,22.48 L626.5,22.85 L627.5,23.21 L628.5,23.58 L629.5,23.95 L630.5,24.33 L631.5,24.7 L632.5,25.07 L633.5,25.45 L634.5,25.82 L635.5,26.2 L636.5,26.57 L637.5,26.95 L638.5,27.32 L639.5,27.7 L640.5,28.07 L641.5,28.45 L642.5,28.83 L643.5,29.21 L644.5,29.59 L645.5,29.97 L646.5,30.36 L647.5,30.76 L648.5,31.15 L649.5,31.55 L650.5,31.96 L651.5,32.37 L652.5,32.79 L653.5,33.21 L654.5,33.63 L655.5,34.05 L656.5,34.47 L657.5,34.9 L658.5,35.33 L659.5,35.77 L660.5,36.21 L661.5,36.65 L662.5,37.09 L663.5,37.54 L664.5,37.98 L665.5,38.43 L666.5,38.87 L667.5,39.32 L668.5,39.76 L669.5,40.2 L670.5,40.64 L671.5,41.08 L672.5,41.51 L673.5,41.94 L674.5,42.37 L675.5,42.79 L676,43 L676,51 L675.5,50.69 L674.5,50.07 L673.5,49.45 L672.5,48.83 L671.5,48.21 L670.5,47.6 L669.5,46.98 L668.5,46.37 L667.5,45.76 L666.5,45.15 L665.5,44.55 L664.5,43.95 L663.5,43.35 L662.5,42.76 L661.5,42.17 L660.5,41.59 L659.5,41.02 L658.5,40.45 L657.5,39.89 L656.5,39.34 L655.5,38.79 L654.5,38.25 L653.5,37.71 L652.5,37.18 L651.5,36.66 L650.5,36.14 L649.5,35.63 L648.5,35.13 L647.5,34.63 L646.5,34.14 L645.5,33.66 L644.5,33.19 L643.5,32.72 L642.5,32.26 L641.5,31.8 L640.5,31.34 L639.5,30.89 L638.5,30.44 L637.5,30 L636.5,29.55 L635.5,29.11 L634.5,28.67 L633.5,28.23 L632.5,27.79 L631.5,27.36 L630.5,26.93 L629.5,26.5 L628.5,26.08 L627.5,25.66 L626.5,25.24 L625.5,24.83 L624.5,24.42 L623.5,24.01 L622.5,23.61 L621.5,23.21 L620.5,22.82 L619.5,22.44 L618.5,22.06 L617.5,21.68 L616.5,21.32 L615.5,20.96 L614.5,20.61 L613.5,20.27 L612.5,19.93 L611.5,19.6 L610.5,19.28 L609.5,18.96 L608.5,18.65 L607.5,18.35 L606.5,18.06 L605.5,17.78 L604.5,17.5 L603.5,17.23 L602.5,16.97 L601.5,16.72 L600.5,16.48 L599.5,16.25 L598.5,16.03 L597.5,15.81 L596.5,15.61 L595.5,15.42 L594.5,15.24 L593.5,15.06 L592.5,14.9 L591.5,14.75 L590.5,14.61 L589.5,14.48 L588.5,14.37 L587.5,14.26 L586.5,14.16 L585.5,14.08 L584.5,14.01 L583.5,13.95 L582.5,13.9 L581.5,13.87 L580.5,13.85 L579.5,13.85 L578.5,13.87 L577.5,13.91 L576.5,13.98 L575.5,14.08 L574.5,14.21 L573.5,14.38 L572.5,14.59 L571.5,14.82 L570.5,15.09 L569.5,15.39 L568.5,15.7 L567.5,16.03 L566.5,16.37 L565.5,16.73 L564.5,17.12 L563.5,17.53 L562.5,17.98 L561.5,18.45 L560.5,18.93 L559.5,19.43 L558.5,19.92 L557.5,20.4 L556.5,20.87 L555.5,21.34 L554.5,21.79 L553.5,22.24 L552.5,22.69 L551.5,23.13 L550.5,23.58 L549.5,24.02 L548.5,24.47 L547.5,24.92 L546.5,25.37 L545.5,25.82 L544.5,26.27 L543.5,26.73 L542.5,27.19 L541.5,27.66 L540.5,28.13 L539.5,28.61 L538.5,29.09 L537.5,29.57 L536.5,30.05 L535.5,30.53 L534.5,31.02 L533.5,31.51 L532.5,32.01 L531.5,32.52 L530.5,33.04 L529.5,33.57 L528.5,34.11 L527.5,34.67 L526.5,35.25 L525.5,35.84 L524.5,36.45 L523.5,37.07 L522.5,37.72 L521.5,38.37 L520.5,39.04 L519.5,39.72 L518.5,40.4 L517.5,41.1 L516.5,41.8 L515.5,42.51 L514.5,43.22 L513.5,43.93 L512.5,44.64 L511.5,45.36 L510.5,46.07 L509.5,46.79 L508.5,47.5Z" fill="#E8922A" fill-opacity="0.22" stroke="none"/>
<path d="M508.5,43.5 L509.5,42.89 L510.5,42.27 L511.5,41.65 L512.5,41.03 L513.5,40.41 L514.5,39.78 L515.5,39.16 L516.5,38.54 L517.5,37.92 L518.5,37.3 L519.5,36.69 L520.5,36.09 L521.5,35.5 L522.5,34.92 L523.5,34.35 L524.5,33.79 L525.5,33.25 L526.5,32.72 L527.5,32.21 L528.5,31.71 L529.5,31.23 L530.5,30.75 L531.5,30.29 L532.5,29.84 L533.5,29.4 L534.5,28.96 L535.5,28.52 L536.5,28.09 L537.5,27.65 L538.5,27.22 L539.5,26.78 L540.5,26.35 L541.5,25.92 L542.5,25.5 L543.5,25.08 L544.5,24.66 L545.5,24.24 L546.5,23.82 L547.5,23.41 L548.5,23 L549.5,22.58 L550.5,22.17 L551.5,21.76 L552.5,21.34 L553.5,20.92 L554.5,20.5 L555.5,20.07 L556.5,19.64 L557.5,19.19 L558.5,18.73 L559.5,18.26 L560.5,17.79 L561.5,17.33 L562.5,16.88 L563.5,16.46 L564.5,16.06 L565.5,15.69 L566.5,15.35 L567.5,15.02 L568.5,14.71 L569.5,14.41 L570.5,14.13 L571.5,13.88 L572.5,13.65 L573.5,13.46 L574.5,13.3 L575.5,13.18 L576.5,13.09 L577.5,13.03 L578.5,13 L579.5,12.99 L580.5,13 L581.5,13.02 L582.5,13.06 L583.5,13.11 L584.5,13.18 L585.5,13.25 L586.5,13.34 L587.5,13.44 L588.5,13.55 L589.5,13.67 L590.5,13.8 L591.5,13.94 L592.5,14.09 L593.5,14.25 L594.5,14.42 L595.5,14.6 L596.5,14.79 L597.5,14.99 L598.5,15.2 L599.5,15.42 L600.5,15.65 L601.5,15.88 L602.5,16.13 L603.5,16.38 L604.5,16.64 L605.5,16.91 L606.5,17.19 L607.5,17.47 L608.5,17.76 L609.5,18.06 L610.5,18.36 L611.5,18.67 L612.5,18.99 L613.5,19.31 L614.5,19.64 L615.5,19.98 L616.5,20.32 L617.5,20.67 L618.5,21.02 L619.5,21.39 L620.5,21.75 L621.5,22.13 L622.5,22.5 L623.5,22.88 L624.5,23.27 L625.5,23.65 L626.5,24.04 L627.5,24.44 L628.5,24.83 L629.5,25.23 L630.5,25.63 L631.5,26.03 L632.5,26.43 L633.5,26.84 L634.5,27.25 L635.5,27.65 L636.5,28.06 L637.5,28.47 L638.5,28.88 L639.5,29.3 L640.5,29.71 L641.5,30.12 L642.5,30.54 L643.5,30.96 L644.5,31.39 L645.5,31.82 L646.5,32.25 L647.5,32.69 L648.5,33.14 L649.5,33.59 L650.5,34.05 L651.5,34.51 L652.5,34.98 L653.5,35.46 L654.5,35.94 L655.5,36.42 L656.5,36.91 L657.5,37.4 L658.5,37.89 L659.5,38.39 L660.5,38.9 L661.5,39.41 L662.5,39.93 L663.5,40.44 L664.5,40.97 L665.5,41.49 L666.5,42.01 L667.5,42.54 L668.5,43.06 L669.5,43.59 L670.5,44.12 L671.5,44.65 L672.5,45.17 L673.5,45.7 L674.5,46.22 L675.5,46.74 L676,47" fill="none" stroke="#E8922A" stroke-width="1.5" stroke-linejoin="round" stroke-linecap="butt"/>
<path d="M508.5,44.9 L509.5,44.83 L510.5,44.77 L511.5,44.72 L512.5,44.67 L513.5,44.63 L514.5,44.58 L515.5,44.52 L516.5,44.46 L517.5,44.37 L518.5,44.26 L519.5,44.13 L520.5,43.98 L521.5,43.79 L522.5,43.58 L523.5,43.34 L524.5,43.07 L525.5,42.78 L526.5,42.46 L527.5,42.13 L528.5,41.78 L529.5,41.41 L530.5,41.03 L531.5,40.65 L532.5,40.25 L533.5,39.85 L534.5,39.44 L535.5,39.03 L536.5,38.62 L537.5,38.21 L538.5,37.79 L539.5,37.38 L540.5,36.97 L541.5,36.57 L542.5,36.17 L543.5,35.78 L544.5,35.4 L545.5,35.03 L546.5,34.66 L547.5,34.3 L548.5,33.93 L549.5,33.57 L550.5,33.22 L551.5,32.87 L552.5,32.52 L553.5,32.17 L554.5,31.84 L555.5,31.51 L556.5,31.18 L557.5,30.87 L558.5,30.56 L559.5,30.26 L560.5,29.97 L561.5,29.68 L562.5,29.4 L563.5,29.13 L564.5,28.87 L565.5,28.61 L566.5,28.35 L567.5,28.1 L568.5,27.86 L569.5,27.62 L570.5,27.39 L571.5,27.16 L572.5,26.94 L573.5,26.72 L574.5,26.51 L575.5,26.3 L576.5,26.1 L577.5,25.91 L578.5,25.72 L579.5,25.54 L580.5,25.36 L581.5,25.19 L582.5,25.03 L583.5,24.87 L584.5,24.72 L585.5,24.57 L586.5,24.44 L587.5,24.31 L588.5,24.2 L589.5,24.09 L590.5,24 L591.5,23.92 L592.5,23.85 L593.5,23.79 L594.5,23.75 L595.5,23.71 L596.5,23.68 L597.5,23.66 L598.5,23.65 L599.5,23.64 L600.5,23.64 L601.5,23.65 L602.5,23.67 L603.5,23.69 L604.5,23.72 L605.5,23.76 L606.5,23.81 L607.5,23.87 L608.5,23.93 L609.5,24.01 L610.5,24.08 L611.5,24.17 L612.5,24.27 L613.5,24.37 L614.5,24.47 L615.5,24.58 L616.5,24.69 L617.5,24.8 L618.5,24.91 L619.5,25.01 L620.5,25.12 L621.5,25.23 L622.5,25.34 L623.5,25.46 L624.5,25.59 L625.5,25.72 L626.5,25.86 L627.5,26.01 L628.5,26.16 L629.5,26.33 L630.5,26.5 L631.5,26.69 L632.5,26.89 L633.5,27.09 L634.5,27.31 L635.5,27.54 L636.5,27.78 L637.5,28.03 L638.5,28.29 L639.5,28.56 L640.5,28.84 L641.5,29.13 L642.5,29.43 L643.5,29.73 L644.5,30.05 L645.5,30.37 L646.5,30.7 L647.5,31.03 L648.5,31.36 L649.5,31.71 L650.5,32.05 L651.5,32.39 L652.5,32.74 L653.5,33.09 L654.5,33.44 L655.5,33.8 L656.5,34.15 L657.5,34.5 L658.5,34.86 L659.5,35.21 L660.5,35.56 L661.5,35.91 L662.5,36.26 L663.5,36.61 L664.5,36.96 L665.5,37.3 L666.5,37.64 L667.5,37.98 L668.5,38.31 L669.5,38.65 L670.5,38.97 L671.5,39.3 L672.5,39.62 L673.5,39.93 L674.5,40.24 L675.5,40.55 L676,40.7 L676,48.7 L675.5,48.45 L674.5,47.94 L673.5,47.44 L672.5,46.94 L671.5,46.43 L670.5,45.93 L669.5,45.43 L668.5,44.92 L667.5,44.42 L666.5,43.92 L665.5,43.42 L664.5,42.92 L663.5,42.42 L662.5,41.93 L661.5,41.44 L660.5,40.94 L659.5,40.46 L658.5,39.97 L657.5,39.49 L656.5,39.01 L655.5,38.54 L654.5,38.07 L653.5,37.6 L652.5,37.14 L651.5,36.68 L650.5,36.23 L649.5,35.78 L648.5,35.34 L647.5,34.91 L646.5,34.48 L645.5,34.06 L644.5,33.65 L643.5,33.25 L642.5,32.86 L641.5,32.48 L640.5,32.11 L639.5,31.75 L638.5,31.4 L637.5,31.07 L636.5,30.75 L635.5,30.45 L634.5,30.15 L633.5,29.87 L632.5,29.61 L631.5,29.35 L630.5,29.11 L629.5,28.88 L628.5,28.66 L627.5,28.45 L626.5,28.25 L625.5,28.07 L624.5,27.89 L623.5,27.72 L622.5,27.56 L621.5,27.41 L620.5,27.26 L619.5,27.11 L618.5,26.97 L617.5,26.83 L616.5,26.69 L615.5,26.55 L614.5,26.41 L613.5,26.27 L612.5,26.15 L611.5,26.03 L610.5,25.92 L609.5,25.81 L608.5,25.72 L607.5,25.64 L606.5,25.56 L605.5,25.5 L604.5,25.44 L603.5,25.4 L602.5,25.36 L601.5,25.33 L600.5,25.31 L599.5,25.3 L598.5,25.3 L597.5,25.3 L596.5,25.32 L595.5,25.34 L594.5,25.37 L593.5,25.42 L592.5,25.47 L591.5,25.54 L590.5,25.63 L589.5,25.72 L588.5,25.83 L587.5,25.95 L586.5,26.08 L585.5,26.22 L584.5,26.38 L583.5,26.54 L582.5,26.71 L581.5,26.89 L580.5,27.07 L579.5,27.26 L578.5,27.46 L577.5,27.67 L576.5,27.88 L575.5,28.1 L574.5,28.33 L573.5,28.56 L572.5,28.8 L571.5,29.05 L570.5,29.31 L569.5,29.57 L568.5,29.84 L567.5,30.11 L566.5,30.4 L565.5,30.69 L564.5,30.98 L563.5,31.29 L562.5,31.6 L561.5,31.92 L560.5,32.25 L559.5,32.58 L558.5,32.93 L557.5,33.29 L556.5,33.65 L555.5,34.03 L554.5,34.41 L553.5,34.81 L552.5,35.21 L551.5,35.62 L550.5,36.03 L549.5,36.45 L548.5,36.88 L547.5,37.31 L546.5,37.74 L545.5,38.18 L544.5,38.63 L543.5,39.09 L542.5,39.56 L541.5,40.04 L540.5,40.53 L539.5,41.03 L538.5,41.53 L537.5,42.04 L536.5,42.55 L535.5,43.06 L534.5,43.57 L533.5,44.08 L532.5,44.59 L531.5,45.1 L530.5,45.6 L529.5,46.09 L528.5,46.58 L527.5,47.05 L526.5,47.52 L525.5,47.96 L524.5,48.39 L523.5,48.79 L522.5,49.17 L521.5,49.53 L520.5,49.86 L519.5,50.17 L518.5,50.46 L517.5,50.73 L516.5,50.98 L515.5,51.22 L514.5,51.45 L513.5,51.67 L512.5,51.9 L511.5,52.13 L510.5,52.38 L509.5,52.63 L508.5,52.9Z" fill="#C43AFA" fill-opacity="0.22" stroke="none"/>
<path d="M508.5,48.9 L509.5,48.73 L510.5,48.58 L511.5,48.43 L512.5,48.29 L513.5,48.15 L514.5,48.01 L515.5,47.87 L516.5,47.72 L517.5,47.55 L518.5,47.36 L519.5,47.15 L520.5,46.92 L521.5,46.66 L522.5,46.38 L523.5,46.07 L524.5,45.73 L525.5,45.37 L526.5,44.99 L527.5,44.59 L528.5,44.18 L529.5,43.75 L530.5,43.32 L531.5,42.87 L532.5,42.42 L533.5,41.97 L534.5,41.51 L535.5,41.05 L536.5,40.58 L537.5,40.12 L538.5,39.66 L539.5,39.2 L540.5,38.75 L541.5,38.3 L542.5,37.87 L543.5,37.44 L544.5,37.02 L545.5,36.61 L546.5,36.2 L547.5,35.8 L548.5,35.41 L549.5,35.01 L550.5,34.62 L551.5,34.24 L552.5,33.86 L553.5,33.49 L554.5,33.13 L555.5,32.77 L556.5,32.42 L557.5,32.08 L558.5,31.75 L559.5,31.42 L560.5,31.11 L561.5,30.8 L562.5,30.5 L563.5,30.21 L564.5,29.92 L565.5,29.65 L566.5,29.37 L567.5,29.11 L568.5,28.85 L569.5,28.6 L570.5,28.35 L571.5,28.11 L572.5,27.87 L573.5,27.64 L574.5,27.42 L575.5,27.2 L576.5,26.99 L577.5,26.79 L578.5,26.59 L579.5,26.4 L580.5,26.22 L581.5,26.04 L582.5,25.87 L583.5,25.7 L584.5,25.55 L585.5,25.4 L586.5,25.26 L587.5,25.13 L588.5,25.01 L589.5,24.91 L590.5,24.81 L591.5,24.73 L592.5,24.66 L593.5,24.61 L594.5,24.56 L595.5,24.52 L596.5,24.5 L597.5,24.48 L598.5,24.47 L599.5,24.47 L600.5,24.48 L601.5,24.49 L602.5,24.51 L603.5,24.54 L604.5,24.58 L605.5,24.63 L606.5,24.69 L607.5,24.75 L608.5,24.83 L609.5,24.91 L610.5,25 L611.5,25.1 L612.5,25.21 L613.5,25.32 L614.5,25.44 L615.5,25.56 L616.5,25.69 L617.5,25.81 L618.5,25.94 L619.5,26.06 L620.5,26.19 L621.5,26.32 L622.5,26.45 L623.5,26.59 L624.5,26.74 L625.5,26.89 L626.5,27.06 L627.5,27.23 L628.5,27.41 L629.5,27.6 L630.5,27.81 L631.5,28.02 L632.5,28.25 L633.5,28.48 L634.5,28.73 L635.5,28.99 L636.5,29.27 L637.5,29.55 L638.5,29.85 L639.5,30.15 L640.5,30.47 L641.5,30.8 L642.5,31.14 L643.5,31.49 L644.5,31.85 L645.5,32.21 L646.5,32.59 L647.5,32.97 L648.5,33.35 L649.5,33.74 L650.5,34.14 L651.5,34.54 L652.5,34.94 L653.5,35.35 L654.5,35.75 L655.5,36.17 L656.5,36.58 L657.5,37 L658.5,37.41 L659.5,37.83 L660.5,38.25 L661.5,38.67 L662.5,39.09 L663.5,39.52 L664.5,39.94 L665.5,40.36 L666.5,40.78 L667.5,41.2 L668.5,41.62 L669.5,42.04 L670.5,42.45 L671.5,42.87 L672.5,43.28 L673.5,43.69 L674.5,44.09 L675.5,44.5 L676,44.7" fill="none" stroke="#C43AFA" stroke-width="1.5" stroke-linejoin="round" stroke-linecap="butt"/>
<path d="M508.5,66.81 L509.5,64.79 L510.5,62.8 L511.5,60.88 L512.5,59.04 L513.5,57.32 L514.5,55.76 L515.5,54.37 L516.5,53.16 L517.5,52.09 L518.5,51.13 L519.5,50.25 L520.5,49.44 L521.5,48.68 L522.5,47.98 L523.5,47.32 L524.5,46.72 L525.5,46.17 L526.5,45.65 L527.5,45.17 L528.5,44.69 L529.5,44.23 L530.5,43.78 L531.5,43.33 L532.5,42.88 L533.5,42.45 L534.5,42.03 L535.5,41.63 L536.5,41.24 L537.5,40.87 L538.5,40.53 L539.5,40.21 L540.5,39.93 L541.5,39.67 L542.5,39.43 L543.5,39.23 L544.5,39.04 L545.5,38.89 L546.5,38.75 L547.5,38.64 L548.5,38.54 L549.5,38.45 L550.5,38.37 L551.5,38.3 L552.5,38.23 L553.5,38.16 L554.5,38.1 L555.5,38.04 L556.5,37.98 L557.5,37.92 L558.5,37.87 L559.5,37.82 L560.5,37.78 L561.5,37.74 L562.5,37.7 L563.5,37.67 L564.5,37.65 L565.5,37.63 L566.5,37.61 L567.5,37.61 L568.5,37.61 L569.5,37.61 L570.5,37.63 L571.5,37.65 L572.5,37.67 L573.5,37.71 L574.5,37.75 L575.5,37.79 L576.5,37.84 L577.5,37.89 L578.5,37.95 L579.5,38.01 L580.5,38.07 L581.5,38.14 L582.5,38.21 L583.5,38.29 L584.5,38.37 L585.5,38.45 L586.5,38.54 L587.5,38.63 L588.5,38.73 L589.5,38.82 L590.5,38.93 L591.5,39.03 L592.5,39.14 L593.5,39.26 L594.5,39.37 L595.5,39.5 L596.5,39.62 L597.5,39.76 L598.5,39.89 L599.5,40.04 L600.5,40.19 L601.5,40.34 L602.5,40.5 L603.5,40.67 L604.5,40.84 L605.5,41.01 L606.5,41.19 L607.5,41.37 L608.5,41.55 L609.5,41.74 L610.5,41.92 L611.5,42.11 L612.5,42.3 L613.5,42.48 L614.5,42.67 L615.5,42.86 L616.5,43.04 L617.5,43.23 L618.5,43.41 L619.5,43.59 L620.5,43.77 L621.5,43.94 L622.5,44.11 L623.5,44.28 L624.5,44.45 L625.5,44.61 L626.5,44.78 L627.5,44.94 L628.5,45.1 L629.5,45.26 L630.5,45.42 L631.5,45.58 L632.5,45.73 L633.5,45.89 L634.5,46.04 L635.5,46.2 L636.5,46.35 L637.5,46.51 L638.5,46.66 L639.5,46.82 L640.5,46.97 L641.5,47.12 L642.5,47.28 L643.5,47.43 L644.5,47.58 L645.5,47.74 L646.5,47.89 L647.5,48.05 L648.5,48.2 L649.5,48.36 L650.5,48.52 L651.5,48.68 L652.5,48.84 L653.5,49 L654.5,49.16 L655.5,49.32 L656.5,49.48 L657.5,49.64 L658.5,49.8 L659.5,49.96 L660.5,50.12 L661.5,50.28 L662.5,50.44 L663.5,50.6 L664.5,50.76 L665.5,50.91 L666.5,51.06 L667.5,51.22 L668.5,51.37 L669.5,51.51 L670.5,51.66 L671.5,51.8 L672.5,51.94 L673.5,52.07 L674.5,52.21 L675.5,52.34 L676,52.4 L676,60.4 L675.5,60.24 L674.5,59.91 L673.5,59.58 L672.5,59.26 L671.5,58.93 L670.5,58.61 L669.5,58.29 L668.5,57.97 L667.5,57.66 L666.5,57.34 L665.5,57.03 L664.5,56.72 L663.5,56.41 L662.5,56.11 L661.5,55.81 L660.5,55.51 L659.5,55.21 L658.5,54.92 L657.5,54.63 L656.5,54.34 L655.5,54.06 L654.5,53.78 L653.5,53.5 L652.5,53.23 L651.5,52.96 L650.5,52.7 L649.5,52.44 L648.5,52.18 L647.5,51.93 L646.5,51.68 L645.5,51.43 L644.5,51.19 L643.5,50.94 L642.5,50.71 L641.5,50.47 L640.5,50.24 L639.5,50.01 L638.5,49.78 L637.5,49.56 L636.5,49.33 L635.5,49.11 L634.5,48.89 L633.5,48.67 L632.5,48.45 L631.5,48.24 L630.5,48.02 L629.5,47.81 L628.5,47.6 L627.5,47.38 L626.5,47.17 L625.5,46.96 L624.5,46.75 L623.5,46.54 L622.5,46.33 L621.5,46.12 L620.5,45.9 L619.5,45.69 L618.5,45.47 L617.5,45.26 L616.5,45.04 L615.5,44.82 L614.5,44.61 L613.5,44.39 L612.5,44.18 L611.5,43.96 L610.5,43.75 L609.5,43.54 L608.5,43.34 L607.5,43.14 L606.5,42.94 L605.5,42.74 L604.5,42.55 L603.5,42.37 L602.5,42.19 L601.5,42.02 L600.5,41.85 L599.5,41.69 L598.5,41.54 L597.5,41.4 L596.5,41.26 L595.5,41.13 L594.5,41 L593.5,40.88 L592.5,40.77 L591.5,40.66 L590.5,40.55 L589.5,40.45 L588.5,40.36 L587.5,40.27 L586.5,40.19 L585.5,40.11 L584.5,40.03 L583.5,39.96 L582.5,39.9 L581.5,39.84 L580.5,39.78 L579.5,39.73 L578.5,39.69 L577.5,39.65 L576.5,39.62 L575.5,39.59 L574.5,39.57 L573.5,39.55 L572.5,39.54 L571.5,39.54 L570.5,39.55 L569.5,39.56 L568.5,39.59 L567.5,39.62 L566.5,39.66 L565.5,39.71 L564.5,39.76 L563.5,39.83 L562.5,39.9 L561.5,39.97 L560.5,40.06 L559.5,40.14 L558.5,40.24 L557.5,40.34 L556.5,40.45 L555.5,40.56 L554.5,40.67 L553.5,40.79 L552.5,40.92 L551.5,41.05 L550.5,41.19 L549.5,41.33 L548.5,41.48 L547.5,41.65 L546.5,41.84 L545.5,42.04 L544.5,42.28 L543.5,42.53 L542.5,42.82 L541.5,43.14 L540.5,43.48 L539.5,43.86 L538.5,44.27 L537.5,44.7 L536.5,45.16 L535.5,45.65 L534.5,46.16 L533.5,46.68 L532.5,47.22 L531.5,47.77 L530.5,48.34 L529.5,48.91 L528.5,49.49 L527.5,50.09 L526.5,50.7 L525.5,51.35 L524.5,52.04 L523.5,52.78 L522.5,53.57 L521.5,54.42 L520.5,55.33 L519.5,56.3 L518.5,57.33 L517.5,58.45 L516.5,59.68 L515.5,61.06 L514.5,62.62 L513.5,64.37 L512.5,66.27 L511.5,68.29 L510.5,70.41 L509.5,72.59 L508.5,74.81Z" fill="#0B7A14" fill-opacity="0.22" stroke="none"/>
<path d="M508.5,70.81 L509.5,68.69 L510.5,66.6 L511.5,64.58 L512.5,62.65 L513.5,60.84 L514.5,59.19 L515.5,57.72 L516.5,56.42 L517.5,55.27 L518.5,54.23 L519.5,53.28 L520.5,52.39 L521.5,51.55 L522.5,50.78 L523.5,50.05 L524.5,49.38 L525.5,48.76 L526.5,48.18 L527.5,47.63 L528.5,47.09 L529.5,46.57 L530.5,46.06 L531.5,45.55 L532.5,45.05 L533.5,44.57 L534.5,44.09 L535.5,43.64 L536.5,43.2 L537.5,42.79 L538.5,42.4 L539.5,42.04 L540.5,41.71 L541.5,41.4 L542.5,41.13 L543.5,40.88 L544.5,40.66 L545.5,40.47 L546.5,40.3 L547.5,40.15 L548.5,40.01 L549.5,39.89 L550.5,39.78 L551.5,39.67 L552.5,39.57 L553.5,39.48 L554.5,39.39 L555.5,39.3 L556.5,39.21 L557.5,39.13 L558.5,39.05 L559.5,38.98 L560.5,38.92 L561.5,38.85 L562.5,38.8 L563.5,38.75 L564.5,38.71 L565.5,38.67 L566.5,38.64 L567.5,38.61 L568.5,38.6 L569.5,38.59 L570.5,38.59 L571.5,38.59 L572.5,38.61 L573.5,38.63 L574.5,38.66 L575.5,38.69 L576.5,38.73 L577.5,38.77 L578.5,38.82 L579.5,38.87 L580.5,38.93 L581.5,38.99 L582.5,39.06 L583.5,39.13 L584.5,39.2 L585.5,39.28 L586.5,39.36 L587.5,39.45 L588.5,39.54 L589.5,39.64 L590.5,39.74 L591.5,39.85 L592.5,39.96 L593.5,40.07 L594.5,40.19 L595.5,40.31 L596.5,40.44 L597.5,40.58 L598.5,40.72 L599.5,40.87 L600.5,41.02 L601.5,41.18 L602.5,41.35 L603.5,41.52 L604.5,41.7 L605.5,41.88 L606.5,42.06 L607.5,42.25 L608.5,42.45 L609.5,42.64 L610.5,42.84 L611.5,43.04 L612.5,43.24 L613.5,43.44 L614.5,43.64 L615.5,43.84 L616.5,44.04 L617.5,44.24 L618.5,44.44 L619.5,44.64 L620.5,44.84 L621.5,45.03 L622.5,45.22 L623.5,45.41 L624.5,45.6 L625.5,45.79 L626.5,45.97 L627.5,46.16 L628.5,46.35 L629.5,46.53 L630.5,46.72 L631.5,46.91 L632.5,47.09 L633.5,47.28 L634.5,47.47 L635.5,47.65 L636.5,47.84 L637.5,48.03 L638.5,48.22 L639.5,48.41 L640.5,48.6 L641.5,48.8 L642.5,48.99 L643.5,49.19 L644.5,49.38 L645.5,49.58 L646.5,49.78 L647.5,49.99 L648.5,50.19 L649.5,50.4 L650.5,50.61 L651.5,50.82 L652.5,51.03 L653.5,51.25 L654.5,51.47 L655.5,51.69 L656.5,51.91 L657.5,52.13 L658.5,52.36 L659.5,52.59 L660.5,52.82 L661.5,53.05 L662.5,53.28 L663.5,53.51 L664.5,53.74 L665.5,53.97 L666.5,54.2 L667.5,54.44 L668.5,54.67 L669.5,54.9 L670.5,55.13 L671.5,55.37 L672.5,55.6 L673.5,55.83 L674.5,56.06 L675.5,56.29 L676,56.4" fill="none" stroke="#0B7A14" stroke-width="1.5" stroke-linejoin="round" stroke-linecap="butt"/>
<path d="M508.5,119.3 L509.5,119.96 L510.5,120.61 L511.5,121.27 L512.5,121.91 L513.5,122.56 L514.5,123.2 L515.5,123.84 L516.5,124.47 L517.5,125.09 L518.5,125.7 L519.5,126.31 L520.5,126.91 L521.5,127.5 L522.5,128.09 L523.5,128.67 L524.5,129.24 L525.5,129.81 L526.5,130.36 L527.5,130.89 L528.5,131.41 L529.5,131.92 L530.5,132.4 L531.5,132.86 L532.5,133.31 L533.5,133.74 L534.5,134.15 L535.5,134.56 L536.5,134.97 L537.5,135.37 L538.5,135.78 L539.5,136.2 L540.5,136.64 L541.5,137.09 L542.5,137.56 L543.5,138.03 L544.5,138.5 L545.5,138.96 L546.5,139.39 L547.5,139.8 L548.5,140.18 L549.5,140.54 L550.5,140.88 L551.5,141.2 L552.5,141.48 L553.5,141.73 L554.5,141.95 L555.5,142.14 L556.5,142.29 L557.5,142.41 L558.5,142.5 L559.5,142.56 L560.5,142.58 L561.5,142.57 L562.5,142.53 L563.5,142.46 L564.5,142.36 L565.5,142.22 L566.5,142.04 L567.5,141.82 L568.5,141.55 L569.5,141.24 L570.5,140.87 L571.5,140.45 L572.5,139.99 L573.5,139.49 L574.5,138.96 L575.5,138.4 L576.5,137.82 L577.5,137.21 L578.5,136.59 L579.5,135.93 L580.5,135.25 L581.5,134.54 L582.5,133.8 L583.5,133.02 L584.5,132.21 L585.5,131.36 L586.5,130.48 L587.5,129.58 L588.5,128.66 L589.5,127.74 L590.5,126.82 L591.5,125.92 L592.5,125.02 L593.5,124.12 L594.5,123.23 L595.5,122.34 L596.5,121.45 L597.5,120.55 L598.5,119.64 L599.5,118.73 L600.5,117.81 L601.5,116.89 L602.5,115.97 L603.5,115.06 L604.5,114.15 L605.5,113.26 L606.5,112.39 L607.5,111.52 L608.5,110.66 L609.5,109.82 L610.5,109.01 L611.5,108.22 L612.5,107.46 L613.5,106.74 L614.5,106.06 L615.5,105.41 L616.5,104.79 L617.5,104.19 L618.5,103.6 L619.5,103.02 L620.5,102.43 L621.5,101.84 L622.5,101.25 L623.5,100.67 L624.5,100.12 L625.5,99.6 L626.5,99.12 L627.5,98.67 L628.5,98.23 L629.5,97.79 L630.5,97.37 L631.5,96.95 L632.5,96.55 L633.5,96.18 L634.5,95.83 L635.5,95.51 L636.5,95.22 L637.5,94.96 L638.5,94.72 L639.5,94.51 L640.5,94.32 L641.5,94.15 L642.5,93.98 L643.5,93.84 L644.5,93.69 L645.5,93.56 L646.5,93.43 L647.5,93.3 L648.5,93.18 L649.5,93.06 L650.5,92.94 L651.5,92.82 L652.5,92.7 L653.5,92.59 L654.5,92.47 L655.5,92.36 L656.5,92.24 L657.5,92.13 L658.5,92.01 L659.5,91.9 L660.5,91.78 L661.5,91.67 L662.5,91.56 L663.5,91.45 L664.5,91.35 L665.5,91.25 L666.5,91.17 L667.5,91.1 L668.5,91.04 L669.5,90.99 L670.5,90.95 L671.5,90.91 L672.5,90.88 L673.5,90.84 L674.5,90.79 L675.5,90.73 L676,90.7 L676,102.7 L675.5,102.57 L674.5,102.32 L673.5,102.06 L672.5,101.8 L671.5,101.54 L670.5,101.29 L669.5,101.05 L668.5,100.83 L667.5,100.62 L666.5,100.43 L665.5,100.26 L664.5,100.11 L663.5,99.98 L662.5,99.85 L661.5,99.74 L660.5,99.63 L659.5,99.53 L658.5,99.43 L657.5,99.34 L656.5,99.26 L655.5,99.18 L654.5,99.11 L653.5,99.04 L652.5,98.98 L651.5,98.92 L650.5,98.87 L649.5,98.82 L648.5,98.78 L647.5,98.75 L646.5,98.73 L645.5,98.71 L644.5,98.71 L643.5,98.71 L642.5,98.73 L641.5,98.76 L640.5,98.81 L639.5,98.88 L638.5,98.97 L637.5,99.09 L636.5,99.24 L635.5,99.43 L634.5,99.64 L633.5,99.89 L632.5,100.17 L631.5,100.47 L630.5,100.8 L629.5,101.14 L628.5,101.48 L627.5,101.84 L626.5,102.22 L625.5,102.63 L624.5,103.07 L623.5,103.55 L622.5,104.07 L621.5,104.59 L620.5,105.12 L619.5,105.65 L618.5,106.17 L617.5,106.71 L616.5,107.26 L615.5,107.83 L614.5,108.43 L613.5,109.07 L612.5,109.74 L611.5,110.46 L610.5,111.21 L609.5,111.99 L608.5,112.8 L607.5,113.62 L606.5,114.46 L605.5,115.31 L604.5,116.18 L603.5,117.06 L602.5,117.95 L601.5,118.85 L600.5,119.75 L599.5,120.66 L598.5,121.56 L597.5,122.45 L596.5,123.34 L595.5,124.23 L594.5,125.11 L593.5,126 L592.5,126.89 L591.5,127.79 L590.5,128.7 L589.5,129.62 L588.5,130.55 L587.5,131.48 L586.5,132.39 L585.5,133.28 L584.5,134.15 L583.5,134.97 L582.5,135.77 L581.5,136.53 L580.5,137.26 L579.5,137.97 L578.5,138.65 L577.5,139.3 L576.5,139.94 L575.5,140.55 L574.5,141.14 L573.5,141.71 L572.5,142.25 L571.5,142.75 L570.5,143.21 L569.5,143.63 L568.5,143.99 L567.5,144.31 L566.5,144.58 L565.5,144.82 L564.5,145.01 L563.5,145.18 L562.5,145.31 L561.5,145.42 L560.5,145.49 L559.5,145.54 L558.5,145.56 L557.5,145.55 L556.5,145.51 L555.5,145.44 L554.5,145.34 L553.5,145.21 L552.5,145.05 L551.5,144.86 L550.5,144.64 L549.5,144.41 L548.5,144.15 L547.5,143.88 L546.5,143.58 L545.5,143.27 L544.5,142.93 L543.5,142.58 L542.5,142.24 L541.5,141.9 L540.5,141.58 L539.5,141.29 L538.5,141.01 L537.5,140.75 L536.5,140.49 L535.5,140.25 L534.5,140 L533.5,139.75 L532.5,139.49 L531.5,139.23 L530.5,138.94 L529.5,138.65 L528.5,138.33 L527.5,138.01 L526.5,137.67 L525.5,137.33 L524.5,136.98 L523.5,136.63 L522.5,136.27 L521.5,135.92 L520.5,135.56 L519.5,135.2 L518.5,134.84 L517.5,134.48 L516.5,134.12 L515.5,133.76 L514.5,133.4 L513.5,133.04 L512.5,132.69 L511.5,132.33 L510.5,131.98 L509.5,131.64 L508.5,131.3Z" fill="#7A1488" fill-opacity="0.22" stroke="none"/>
<path d="M508.5,125.3 L509.5,125.8 L510.5,126.3 L511.5,126.8 L512.5,127.3 L513.5,127.8 L514.5,128.3 L515.5,128.8 L516.5,129.29 L517.5,129.79 L518.5,130.27 L519.5,130.76 L520.5,131.23 L521.5,131.71 L522.5,132.18 L523.5,132.65 L524.5,133.11 L525.5,133.57 L526.5,134.02 L527.5,134.45 L528.5,134.87 L529.5,135.28 L530.5,135.67 L531.5,136.04 L532.5,136.4 L533.5,136.74 L534.5,137.08 L535.5,137.4 L536.5,137.73 L537.5,138.06 L538.5,138.39 L539.5,138.74 L540.5,139.11 L541.5,139.5 L542.5,139.9 L543.5,140.31 L544.5,140.72 L545.5,141.11 L546.5,141.49 L547.5,141.84 L548.5,142.17 L549.5,142.48 L550.5,142.76 L551.5,143.03 L552.5,143.26 L553.5,143.47 L554.5,143.65 L555.5,143.79 L556.5,143.9 L557.5,143.98 L558.5,144.03 L559.5,144.05 L560.5,144.04 L561.5,143.99 L562.5,143.92 L563.5,143.82 L564.5,143.68 L565.5,143.52 L566.5,143.31 L567.5,143.07 L568.5,142.77 L569.5,142.43 L570.5,142.04 L571.5,141.6 L572.5,141.12 L573.5,140.6 L574.5,140.05 L575.5,139.48 L576.5,138.88 L577.5,138.26 L578.5,137.62 L579.5,136.95 L580.5,136.25 L581.5,135.53 L582.5,134.78 L583.5,134 L584.5,133.18 L585.5,132.32 L586.5,131.44 L587.5,130.53 L588.5,129.6 L589.5,128.68 L590.5,127.76 L591.5,126.85 L592.5,125.95 L593.5,125.06 L594.5,124.17 L595.5,123.28 L596.5,122.39 L597.5,121.5 L598.5,120.6 L599.5,119.7 L600.5,118.78 L601.5,117.87 L602.5,116.96 L603.5,116.06 L604.5,115.17 L605.5,114.29 L606.5,113.42 L607.5,112.57 L608.5,111.73 L609.5,110.91 L610.5,110.11 L611.5,109.34 L612.5,108.6 L613.5,107.9 L614.5,107.24 L615.5,106.62 L616.5,106.02 L617.5,105.45 L618.5,104.89 L619.5,104.33 L620.5,103.78 L621.5,103.22 L622.5,102.66 L623.5,102.11 L624.5,101.6 L625.5,101.11 L626.5,100.67 L627.5,100.25 L628.5,99.86 L629.5,99.47 L630.5,99.08 L631.5,98.71 L632.5,98.36 L633.5,98.03 L634.5,97.74 L635.5,97.47 L636.5,97.23 L637.5,97.03 L638.5,96.85 L639.5,96.69 L640.5,96.56 L641.5,96.45 L642.5,96.36 L643.5,96.27 L644.5,96.2 L645.5,96.14 L646.5,96.08 L647.5,96.03 L648.5,95.98 L649.5,95.94 L650.5,95.9 L651.5,95.87 L652.5,95.84 L653.5,95.81 L654.5,95.79 L655.5,95.77 L656.5,95.75 L657.5,95.74 L658.5,95.72 L659.5,95.71 L660.5,95.71 L661.5,95.7 L662.5,95.71 L663.5,95.71 L664.5,95.73 L665.5,95.76 L666.5,95.8 L667.5,95.86 L668.5,95.93 L669.5,96.02 L670.5,96.12 L671.5,96.23 L672.5,96.34 L673.5,96.45 L674.5,96.55 L675.5,96.65 L676,96.7" fill="none" stroke="#7A1488" stroke-width="1.5" stroke-linejoin="round" stroke-linecap="butt"/>
<path d="M508.4,40.1 L511.63,46.05 L505.17,46.05Z" fill="#E8922A"/>
<path d="M545,33.4 L548.23,39.35 L541.77,39.35Z" fill="#C43AFA"/>
<path d="M508.2,75 L504.97,69.05 L511.43,69.05Z" fill="#CF3D55"/>
<path d="M508.2,67.6 L511.43,73.55 L504.97,73.55Z" fill="#0B7A14"/>
<path d="M531.2,78.8 L527.97,72.85 L534.43,72.85Z" fill="#D8F20F"/>
<path d="M568.5,85.5 L565.27,79.55 L571.73,79.55Z" fill="#4682B4"/>
<path d="M508,128.7 L504.77,122.75 L511.23,122.75Z" fill="#7A1488"/>
<text x="-0.6" y="199.6" font-size="10.5" text-anchor="start" font-weight="bold" fill="#000">b</text>
<line x1="40.5" y1="210.4" x2="40.5" y2="353.8" stroke="#7a7a7a" stroke-width="0.8"/>
<line x1="40.5" y1="353.8" x2="270.1" y2="353.8" stroke="#c4c4c4" stroke-width="1.3"/>
<line x1="36.9" y1="228.5" x2="40.5" y2="228.5" stroke="#9a9a9a" stroke-width="0.8"/>
<text transform="translate(33.1 231.2) scale(0.85 1)" font-size="9" text-anchor="end" fill="#141414" stroke="#141414" stroke-width="0.18">1.0</text>
<line x1="36.9" y1="269.8" x2="40.5" y2="269.8" stroke="#9a9a9a" stroke-width="0.8"/>
<text transform="translate(33.1 272.5) scale(0.85 1)" font-size="9" text-anchor="end" fill="#141414" stroke="#141414" stroke-width="0.18">0.8</text>
<line x1="36.9" y1="311.3" x2="40.5" y2="311.3" stroke="#9a9a9a" stroke-width="0.8"/>
<text transform="translate(33.1 314) scale(0.85 1)" font-size="9" text-anchor="end" fill="#141414" stroke="#141414" stroke-width="0.18">0.6</text>
<line x1="36.9" y1="352.6" x2="40.5" y2="352.6" stroke="#9a9a9a" stroke-width="0.8"/>
<text transform="translate(33.1 355.3) scale(0.85 1)" font-size="9" text-anchor="end" fill="#141414" stroke="#141414" stroke-width="0.18">0.4</text>
<line x1="65" y1="353.8" x2="65" y2="357.4" stroke="#9a9a9a" stroke-width="0.8"/>
<text transform="translate(65 366.8) scale(0.85 1)" font-size="9" text-anchor="middle" fill="#141414" stroke="#141414" stroke-width="0.18">1</text>
<line x1="74" y1="353.8" x2="74" y2="357.4" stroke="#9a9a9a" stroke-width="0.8"/>
<text transform="translate(74 366.8) scale(0.85 1)" font-size="9" text-anchor="middle" fill="#141414" stroke="#141414" stroke-width="0.18">2</text>
<line x1="92.6" y1="353.8" x2="92.6" y2="357.4" stroke="#9a9a9a" stroke-width="0.8"/>
<text transform="translate(92.6 366.8) scale(0.85 1)" font-size="9" text-anchor="middle" fill="#141414" stroke="#141414" stroke-width="0.18">5</text>
<line x1="113.6" y1="353.8" x2="113.6" y2="357.4" stroke="#9a9a9a" stroke-width="0.8"/>
<text transform="translate(113.6 366.8) scale(0.85 1)" font-size="9" text-anchor="middle" fill="#141414" stroke="#141414" stroke-width="0.18">10</text>
<line x1="154.6" y1="353.8" x2="154.6" y2="357.4" stroke="#9a9a9a" stroke-width="0.8"/>
<text transform="translate(154.6 366.8) scale(0.85 1)" font-size="9" text-anchor="middle" fill="#141414" stroke="#141414" stroke-width="0.18">25</text>
<line x1="201.6" y1="353.8" x2="201.6" y2="357.4" stroke="#9a9a9a" stroke-width="0.8"/>
<text transform="translate(201.6 366.8) scale(0.85 1)" font-size="9" text-anchor="middle" fill="#141414" stroke="#141414" stroke-width="0.18">50</text>
<line x1="242.9" y1="353.8" x2="242.9" y2="357.4" stroke="#9a9a9a" stroke-width="0.8"/>
<text transform="translate(242.9 366.8) scale(0.85 1)" font-size="9" text-anchor="middle" fill="#141414" stroke="#141414" stroke-width="0.18">80</text>
<text transform="translate(15 281.5) rotate(-90) scale(0.85 1)" font-size="9" text-anchor="middle" fill="#141414" stroke="#141414" stroke-width="0.18">Dispersion</text>
<text transform="translate(159.6 381) scale(0.85 1)" font-size="9" text-anchor="middle" fill="#141414" stroke="#141414" stroke-width="0.18">Age (years)</text>
<text transform="translate(64 203.1) scale(0.85 1)" font-size="9.6" text-anchor="middle" fill="#141414" stroke="#141414" stroke-width="0.18">Object</text>
<text transform="translate(64 212.3) scale(0.85 1)" font-size="9.6" text-anchor="middle" fill="#141414" stroke="#141414" stroke-width="0.18">permanence</text>
<text transform="translate(102 207.7) scale(0.85 1)" font-size="9.6" text-anchor="middle" fill="#141414" stroke="#141414" stroke-width="0.18">Speech</text>
<text transform="translate(179.2 203.3) scale(0.85 1)" font-size="9.6" text-anchor="middle" fill="#141414" stroke="#141414" stroke-width="0.18">Symbolic reasoning,</text>
<text transform="translate(179 212.2) scale(0.85 1)" font-size="9.6" text-anchor="middle" fill="#141414" stroke="#141414" stroke-width="0.18">systematic logic</text>
<path d="M44.9,282.6 L45.9,282.72 L46.9,282.85 L47.9,282.97 L48.9,283.1 L49.9,283.22 L50.9,283.34 L51.9,283.47 L52.9,283.59 L53.9,283.71 L54.9,283.83 L55.9,283.96 L56.9,284.08 L57.9,284.2 L58.9,284.33 L59.9,284.45 L60.9,284.58 L61.9,284.7 L62.9,284.82 L63.9,284.95 L64.9,285.07 L65.9,285.19 L66.9,285.31 L67.9,285.43 L68.9,285.55 L69.9,285.67 L70.9,285.79 L71.9,285.9 L72.9,286.01 L73.9,286.12 L74.9,286.22 L75.9,286.32 L76.9,286.42 L77.9,286.52 L78.9,286.61 L79.9,286.7 L80.9,286.78 L81.9,286.86 L82.9,286.94 L83.9,287.02 L84.9,287.1 L85.9,287.17 L86.9,287.24 L87.9,287.32 L88.9,287.39 L89.9,287.46 L90.9,287.54 L91.9,287.61 L92.9,287.69 L93.9,287.77 L94.9,287.85 L95.9,287.93 L96.9,288.02 L97.9,288.1 L98.9,288.19 L99.9,288.28 L100.9,288.38 L101.9,288.47 L102.9,288.57 L103.9,288.67 L104.9,288.77 L105.9,288.87 L106.9,288.97 L107.9,289.08 L108.9,289.18 L109.9,289.29 L110.9,289.39 L111.9,289.5 L112.9,289.61 L113.9,289.71 L114.9,289.82 L115.9,289.93 L116.9,290.04 L117.9,290.15 L118.9,290.26 L119.9,290.38 L120.9,290.49 L121.9,290.6 L122.9,290.72 L123.9,290.83 L124.9,290.95 L125.9,291.07 L126.9,291.18 L127.9,291.3 L128.9,291.42 L129.9,291.54 L130.9,291.67 L131.9,291.79 L132.9,291.92 L133.9,292.04 L134.9,292.17 L135.9,292.3 L136.9,292.43 L137.9,292.56 L138.9,292.69 L139.9,292.82 L140.9,292.95 L141.9,293.09 L142.9,293.22 L143.9,293.36 L144.9,293.49 L145.9,293.63 L146.9,293.77 L147.9,293.9 L148.9,294.04 L149.9,294.18 L150.9,294.32 L151.9,294.45 L152.9,294.59 L153.9,294.73 L154.9,294.87 L155.9,295 L156.9,295.14 L157.9,295.28 L158.9,295.41 L159.9,295.55 L160.9,295.69 L161.9,295.83 L162.9,295.97 L163.9,296.11 L164.9,296.25 L165.9,296.39 L166.9,296.54 L167.9,296.69 L168.9,296.85 L169.9,297 L170.9,297.17 L171.9,297.33 L172.9,297.5 L173.9,297.68 L174.9,297.85 L175.9,298.04 L176.9,298.23 L177.9,298.42 L178.9,298.62 L179.9,298.82 L180.9,299.03 L181.9,299.25 L182.9,299.47 L183.9,299.69 L184.9,299.92 L185.9,300.15 L186.9,300.38 L187.9,300.62 L188.9,300.85 L189.9,301.09 L190.9,301.32 L191.9,301.56 L192.9,301.79 L193.9,302.02 L194.9,302.25 L195.9,302.48 L196.9,302.71 L197.9,302.94 L198.9,303.16 L199.9,303.39 L200.9,303.62 L201.9,303.85 L202.9,304.08 L203.9,304.32 L204.9,304.57 L205.9,304.83 L206.9,305.1 L207.9,305.39 L208.9,305.69 L209.9,306.01 L210.9,306.34 L211.9,306.69 L212.9,307.06 L213.9,307.43 L214.9,307.8 L215.9,308.18 L216.9,308.56 L217.9,308.94 L218.9,309.31 L219.9,309.68 L220.9,310.04 L221.9,310.39 L222.9,310.74 L223.9,311.08 L224.9,311.42 L225.9,311.75 L226.9,312.08 L227.9,312.41 L228.9,312.73 L229.9,313.05 L230.9,313.38 L231.9,313.7 L232.9,314.02 L233.9,314.33 L234.9,314.65 L235.9,314.97 L236.9,315.29 L237.9,315.6 L238.9,315.91 L239.9,316.23 L240.9,316.54 L241.9,316.85 L242.9,317.16 L243.9,317.48 L244.9,317.8 L245.9,318.12 L246.9,318.45 L247.9,318.78 L248.9,319.12 L249.9,319.47 L250.9,319.84 L251.9,320.21 L252.9,320.6 L253.9,321.01 L254.9,321.43 L255.9,321.87 L256.9,322.32 L257.9,322.8 L258.9,323.28 L259.9,323.78 L260.9,324.3 L261.9,324.82 L262.9,325.35 L263.9,325.89 L264.9,326.43 L265.9,326.97 L266.9,327.51 L267.6,328.06 L267.6,338.06 L266.9,337.47 L265.9,336.86 L264.9,336.26 L263.9,335.66 L262.9,335.06 L261.9,334.47 L260.9,333.89 L259.9,333.31 L258.9,332.75 L257.9,332.21 L256.9,331.68 L255.9,331.16 L254.9,330.67 L253.9,330.19 L252.9,329.72 L251.9,329.28 L250.9,328.84 L249.9,328.43 L248.9,328.02 L247.9,327.62 L246.9,327.23 L245.9,326.85 L244.9,326.48 L243.9,326.11 L242.9,325.74 L241.9,325.37 L240.9,325.01 L239.9,324.64 L238.9,324.28 L237.9,323.92 L236.9,323.55 L235.9,323.19 L234.9,322.82 L233.9,322.45 L232.9,322.09 L231.9,321.72 L230.9,321.35 L229.9,320.98 L228.9,320.61 L227.9,320.24 L226.9,319.87 L225.9,319.49 L224.9,319.11 L223.9,318.73 L222.9,318.35 L221.9,317.95 L220.9,317.56 L219.9,317.15 L218.9,316.74 L217.9,316.33 L216.9,315.91 L215.9,315.49 L214.9,315.07 L213.9,314.65 L212.9,314.24 L211.9,313.83 L210.9,313.45 L209.9,313.07 L208.9,312.71 L207.9,312.37 L206.9,312.05 L205.9,311.74 L204.9,311.44 L203.9,311.16 L202.9,310.88 L201.9,310.61 L200.9,310.35 L199.9,310.08 L198.9,309.82 L197.9,309.56 L196.9,309.3 L195.9,309.04 L194.9,308.78 L193.9,308.52 L192.9,308.25 L191.9,307.99 L190.9,307.72 L189.9,307.46 L188.9,307.19 L187.9,306.92 L186.9,306.66 L185.9,306.4 L184.9,306.14 L183.9,305.89 L182.9,305.63 L181.9,305.39 L180.9,305.15 L179.9,304.91 L178.9,304.68 L177.9,304.46 L176.9,304.24 L175.9,304.03 L174.9,303.82 L173.9,303.62 L172.9,303.42 L171.9,303.23 L170.9,303.04 L169.9,302.86 L168.9,302.68 L167.9,302.51 L166.9,302.34 L165.9,302.17 L164.9,302.01 L163.9,301.85 L162.9,301.69 L161.9,301.53 L160.9,301.38 L159.9,301.22 L158.9,301.07 L157.9,300.92 L156.9,300.76 L155.9,300.61 L154.9,300.46 L153.9,300.31 L152.9,300.16 L151.9,300.01 L150.9,299.86 L149.9,299.72 L148.9,299.57 L147.9,299.42 L146.9,299.27 L145.9,299.13 L144.9,298.98 L143.9,298.84 L142.9,298.7 L141.9,298.55 L140.9,298.41 L139.9,298.28 L138.9,298.14 L137.9,298 L136.9,297.87 L135.9,297.73 L134.9,297.6 L133.9,297.47 L132.9,297.35 L131.9,297.22 L130.9,297.1 L129.9,296.97 L128.9,296.85 L127.9,296.74 L126.9,296.62 L125.9,296.5 L124.9,296.39 L123.9,296.28 L122.9,296.17 L121.9,296.06 L120.9,295.95 L119.9,295.84 L118.9,295.74 L117.9,295.63 L116.9,295.53 L115.9,295.43 L114.9,295.33 L113.9,295.23 L112.9,295.13 L111.9,295.04 L110.9,294.94 L109.9,294.85 L108.9,294.76 L107.9,294.67 L106.9,294.58 L105.9,294.49 L104.9,294.41 L103.9,294.32 L102.9,294.24 L101.9,294.16 L100.9,294.09 L99.9,294.01 L98.9,293.94 L97.9,293.87 L96.9,293.81 L95.9,293.74 L94.9,293.68 L93.9,293.63 L92.9,293.57 L91.9,293.52 L90.9,293.47 L89.9,293.42 L88.9,293.38 L87.9,293.33 L86.9,293.29 L85.9,293.25 L84.9,293.2 L83.9,293.16 L82.9,293.11 L81.9,293.07 L80.9,293.02 L79.9,292.97 L78.9,292.91 L77.9,292.86 L76.9,292.8 L75.9,292.74 L74.9,292.68 L73.9,292.61 L72.9,292.54 L71.9,292.47 L70.9,292.4 L69.9,292.33 L68.9,292.26 L67.9,292.18 L66.9,292.11 L65.9,292.03 L64.9,291.96 L63.9,291.88 L62.9,291.8 L61.9,291.73 L60.9,291.66 L59.9,291.58 L58.9,291.51 L57.9,291.44 L56.9,291.37 L55.9,291.3 L54.9,291.23 L53.9,291.17 L52.9,291.1 L51.9,291.04 L50.9,290.97 L49.9,290.91 L48.9,290.84 L47.9,290.78 L46.9,290.72 L45.9,290.66 L44.9,290.6Z" fill="#4682B4" fill-opacity="0.2" stroke="none"/>
<path d="M44.9,286.6 L45.9,286.69 L46.9,286.78 L47.9,286.88 L48.9,286.97 L49.9,287.06 L50.9,287.16 L51.9,287.25 L52.9,287.34 L53.9,287.44 L54.9,287.53 L55.9,287.63 L56.9,287.73 L57.9,287.82 L58.9,287.92 L59.9,288.02 L60.9,288.12 L61.9,288.21 L62.9,288.31 L63.9,288.41 L64.9,288.51 L65.9,288.61 L66.9,288.71 L67.9,288.81 L68.9,288.9 L69.9,289 L70.9,289.09 L71.9,289.19 L72.9,289.28 L73.9,289.36 L74.9,289.45 L75.9,289.53 L76.9,289.61 L77.9,289.69 L78.9,289.76 L79.9,289.83 L80.9,289.9 L81.9,289.96 L82.9,290.03 L83.9,290.09 L84.9,290.15 L85.9,290.21 L86.9,290.27 L87.9,290.32 L88.9,290.38 L89.9,290.44 L90.9,290.5 L91.9,290.57 L92.9,290.63 L93.9,290.7 L94.9,290.77 L95.9,290.84 L96.9,290.91 L97.9,290.99 L98.9,291.07 L99.9,291.15 L100.9,291.23 L101.9,291.32 L102.9,291.41 L103.9,291.5 L104.9,291.59 L105.9,291.68 L106.9,291.78 L107.9,291.87 L108.9,291.97 L109.9,292.07 L110.9,292.17 L111.9,292.27 L112.9,292.37 L113.9,292.47 L114.9,292.58 L115.9,292.68 L116.9,292.79 L117.9,292.89 L118.9,293 L119.9,293.11 L120.9,293.22 L121.9,293.33 L122.9,293.44 L123.9,293.55 L124.9,293.67 L125.9,293.78 L126.9,293.9 L127.9,294.02 L128.9,294.14 L129.9,294.26 L130.9,294.38 L131.9,294.51 L132.9,294.63 L133.9,294.76 L134.9,294.89 L135.9,295.02 L136.9,295.15 L137.9,295.28 L138.9,295.41 L139.9,295.55 L140.9,295.68 L141.9,295.82 L142.9,295.96 L143.9,296.1 L144.9,296.24 L145.9,296.38 L146.9,296.52 L147.9,296.66 L148.9,296.8 L149.9,296.95 L150.9,297.09 L151.9,297.23 L152.9,297.38 L153.9,297.52 L154.9,297.66 L155.9,297.81 L156.9,297.95 L157.9,298.1 L158.9,298.24 L159.9,298.39 L160.9,298.53 L161.9,298.68 L162.9,298.83 L163.9,298.98 L164.9,299.13 L165.9,299.28 L166.9,299.44 L167.9,299.6 L168.9,299.76 L169.9,299.93 L170.9,300.1 L171.9,300.28 L172.9,300.46 L173.9,300.65 L174.9,300.84 L175.9,301.03 L176.9,301.23 L177.9,301.44 L178.9,301.65 L179.9,301.87 L180.9,302.09 L181.9,302.32 L182.9,302.55 L183.9,302.79 L184.9,303.03 L185.9,303.27 L186.9,303.52 L187.9,303.77 L188.9,304.02 L189.9,304.27 L190.9,304.52 L191.9,304.77 L192.9,305.02 L193.9,305.27 L194.9,305.52 L195.9,305.76 L196.9,306.01 L197.9,306.25 L198.9,306.49 L199.9,306.74 L200.9,306.98 L201.9,307.23 L202.9,307.48 L203.9,307.74 L204.9,308.01 L205.9,308.28 L206.9,308.57 L207.9,308.88 L208.9,309.2 L209.9,309.54 L210.9,309.89 L211.9,310.26 L212.9,310.65 L213.9,311.04 L214.9,311.44 L215.9,311.84 L216.9,312.24 L217.9,312.64 L218.9,313.03 L219.9,313.42 L220.9,313.8 L221.9,314.17 L222.9,314.54 L223.9,314.91 L224.9,315.27 L225.9,315.62 L226.9,315.97 L227.9,316.32 L228.9,316.67 L229.9,317.02 L230.9,317.36 L231.9,317.71 L232.9,318.05 L233.9,318.39 L234.9,318.74 L235.9,319.08 L236.9,319.42 L237.9,319.76 L238.9,320.1 L239.9,320.44 L240.9,320.77 L241.9,321.11 L242.9,321.45 L243.9,321.79 L244.9,322.14 L245.9,322.49 L246.9,322.84 L247.9,323.2 L248.9,323.57 L249.9,323.95 L250.9,324.34 L251.9,324.74 L252.9,325.16 L253.9,325.6 L254.9,326.05 L255.9,326.52 L256.9,327 L257.9,327.5 L258.9,328.02 L259.9,328.55 L260.9,329.09 L261.9,329.64 L262.9,330.21 L263.9,330.77 L264.9,331.34 L265.9,331.91 L266.9,332.49 L267.6,333.06" fill="none" stroke="#4682B4" stroke-width="1.5" stroke-linejoin="round" stroke-linecap="butt"/>
<path d="M44.9,314.41 L45.9,312.9 L46.9,311.41 L47.9,309.95 L48.9,308.51 L49.9,307.11 L50.9,305.74 L51.9,304.42 L52.9,303.13 L53.9,301.89 L54.9,300.69 L55.9,299.54 L56.9,298.41 L57.9,297.33 L58.9,296.27 L59.9,295.25 L60.9,294.25 L61.9,293.28 L62.9,292.33 L63.9,291.41 L64.9,290.51 L65.9,289.62 L66.9,288.76 L67.9,287.91 L68.9,287.08 L69.9,286.26 L70.9,285.45 L71.9,284.65 L72.9,283.85 L73.9,283.06 L74.9,282.28 L75.9,281.5 L76.9,280.72 L77.9,279.96 L78.9,279.2 L79.9,278.45 L80.9,277.72 L81.9,277.01 L82.9,276.31 L83.9,275.64 L84.9,275 L85.9,274.39 L86.9,273.81 L87.9,273.26 L88.9,272.75 L89.9,272.27 L90.9,271.83 L91.9,271.43 L92.9,271.06 L93.9,270.72 L94.9,270.42 L95.9,270.14 L96.9,269.9 L97.9,269.68 L98.9,269.49 L99.9,269.32 L100.9,269.18 L101.9,269.06 L102.9,268.96 L103.9,268.89 L104.9,268.83 L105.9,268.79 L106.9,268.77 L107.9,268.77 L108.9,268.79 L109.9,268.83 L110.9,268.88 L111.9,268.96 L112.9,269.05 L113.9,269.16 L114.9,269.29 L115.9,269.43 L116.9,269.59 L117.9,269.77 L118.9,269.97 L119.9,270.18 L120.9,270.41 L121.9,270.65 L122.9,270.91 L123.9,271.17 L124.9,271.45 L125.9,271.73 L126.9,272.03 L127.9,272.33 L128.9,272.65 L129.9,272.97 L130.9,273.3 L131.9,273.64 L132.9,274 L133.9,274.36 L134.9,274.72 L135.9,275.1 L136.9,275.47 L137.9,275.85 L138.9,276.22 L139.9,276.6 L140.9,276.97 L141.9,277.34 L142.9,277.7 L143.9,278.06 L144.9,278.43 L145.9,278.79 L146.9,279.15 L147.9,279.52 L148.9,279.89 L149.9,280.26 L150.9,280.64 L151.9,281.02 L152.9,281.41 L153.9,281.8 L154.9,282.19 L155.9,282.59 L156.9,282.98 L157.9,283.38 L158.9,283.78 L159.9,284.18 L160.9,284.59 L161.9,284.99 L162.9,285.39 L163.9,285.79 L164.9,286.19 L165.9,286.59 L166.9,286.99 L167.9,287.38 L168.9,287.77 L169.9,288.16 L170.9,288.54 L171.9,288.93 L172.9,289.3 L173.9,289.68 L174.9,290.06 L175.9,290.44 L176.9,290.83 L177.9,291.21 L178.9,291.61 L179.9,292.01 L180.9,292.43 L181.9,292.85 L182.9,293.28 L183.9,293.72 L184.9,294.16 L185.9,294.61 L186.9,295.06 L187.9,295.52 L188.9,295.97 L189.9,296.42 L190.9,296.87 L191.9,297.31 L192.9,297.74 L193.9,298.17 L194.9,298.59 L195.9,299.01 L196.9,299.42 L197.9,299.82 L198.9,300.23 L199.9,300.63 L200.9,301.03 L201.9,301.44 L202.9,301.84 L203.9,302.25 L204.9,302.67 L205.9,303.09 L206.9,303.52 L207.9,303.96 L208.9,304.41 L209.9,304.87 L210.9,305.34 L211.9,305.82 L212.9,306.3 L213.9,306.79 L214.9,307.28 L215.9,307.77 L216.9,308.26 L217.9,308.75 L218.9,309.23 L219.9,309.71 L220.9,310.19 L221.9,310.66 L222.9,311.13 L223.9,311.59 L224.9,312.05 L225.9,312.5 L226.9,312.95 L227.9,313.4 L228.9,313.84 L229.9,314.28 L230.9,314.72 L231.9,315.15 L232.9,315.58 L233.9,316 L234.9,316.42 L235.9,316.84 L236.9,317.25 L237.9,317.65 L238.9,318.05 L239.9,318.45 L240.9,318.84 L241.9,319.23 L242.9,319.61 L243.9,320 L244.9,320.37 L245.9,320.75 L246.9,321.13 L247.9,321.51 L248.9,321.88 L249.9,322.26 L250.9,322.64 L251.9,323.02 L252.9,323.41 L253.9,323.79 L254.9,324.18 L255.9,324.58 L256.9,324.98 L257.9,325.38 L258.9,325.78 L259.9,326.19 L260.9,326.59 L261.9,327 L262.9,327.41 L263.9,327.82 L264.9,328.23 L265.9,328.63 L266.9,329.04 L267.6,329.47 L267.6,349.47 L266.9,348.92 L265.9,348.35 L264.9,347.77 L263.9,347.2 L262.9,346.63 L261.9,346.06 L260.9,345.49 L259.9,344.92 L258.9,344.36 L257.9,343.8 L256.9,343.24 L255.9,342.69 L254.9,342.14 L253.9,341.59 L252.9,341.05 L251.9,340.52 L250.9,339.98 L249.9,339.45 L248.9,338.93 L247.9,338.41 L246.9,337.88 L245.9,337.36 L244.9,336.84 L243.9,336.32 L242.9,335.8 L241.9,335.27 L240.9,334.75 L239.9,334.22 L238.9,333.68 L237.9,333.15 L236.9,332.61 L235.9,332.06 L234.9,331.52 L233.9,330.97 L232.9,330.41 L231.9,329.86 L230.9,329.3 L229.9,328.73 L228.9,328.17 L227.9,327.6 L226.9,327.03 L225.9,326.46 L224.9,325.88 L223.9,325.3 L222.9,324.72 L221.9,324.14 L220.9,323.55 L219.9,322.96 L218.9,322.36 L217.9,321.77 L216.9,321.17 L215.9,320.57 L214.9,319.97 L213.9,319.37 L212.9,318.78 L211.9,318.19 L210.9,317.61 L209.9,317.04 L208.9,316.48 L207.9,315.93 L206.9,315.39 L205.9,314.86 L204.9,314.34 L203.9,313.83 L202.9,313.32 L201.9,312.82 L200.9,312.33 L199.9,311.84 L198.9,311.35 L197.9,310.86 L196.9,310.36 L195.9,309.87 L194.9,309.37 L193.9,308.87 L192.9,308.36 L191.9,307.84 L190.9,307.33 L189.9,306.8 L188.9,306.28 L187.9,305.75 L186.9,305.23 L185.9,304.7 L184.9,304.18 L183.9,303.67 L182.9,303.17 L181.9,302.67 L180.9,302.19 L179.9,301.71 L178.9,301.25 L177.9,300.8 L176.9,300.35 L175.9,299.91 L174.9,299.48 L173.9,299.05 L172.9,298.62 L171.9,298.19 L170.9,297.76 L169.9,297.33 L168.9,296.9 L167.9,296.47 L166.9,296.03 L165.9,295.6 L164.9,295.16 L163.9,294.72 L162.9,294.29 L161.9,293.85 L160.9,293.42 L159.9,292.99 L158.9,292.56 L157.9,292.13 L156.9,291.71 L155.9,291.29 L154.9,290.88 L153.9,290.47 L152.9,290.06 L151.9,289.66 L150.9,289.27 L149.9,288.88 L148.9,288.5 L147.9,288.12 L146.9,287.75 L145.9,287.38 L144.9,287.02 L143.9,286.66 L142.9,286.3 L141.9,285.94 L140.9,285.58 L139.9,285.22 L138.9,284.86 L137.9,284.49 L136.9,284.13 L135.9,283.78 L134.9,283.42 L133.9,283.08 L132.9,282.74 L131.9,282.42 L130.9,282.11 L129.9,281.8 L128.9,281.51 L127.9,281.24 L126.9,280.97 L125.9,280.72 L124.9,280.47 L123.9,280.24 L122.9,280.03 L121.9,279.82 L120.9,279.63 L119.9,279.46 L118.9,279.31 L117.9,279.17 L116.9,279.05 L115.9,278.95 L114.9,278.87 L113.9,278.82 L112.9,278.78 L111.9,278.76 L110.9,278.77 L109.9,278.79 L108.9,278.84 L107.9,278.91 L106.9,279 L105.9,279.11 L104.9,279.24 L103.9,279.39 L102.9,279.57 L101.9,279.77 L100.9,280 L99.9,280.25 L98.9,280.52 L97.9,280.83 L96.9,281.16 L95.9,281.53 L94.9,281.92 L93.9,282.35 L92.9,282.82 L91.9,283.32 L90.9,283.86 L89.9,284.44 L88.9,285.06 L87.9,285.71 L86.9,286.41 L85.9,287.14 L84.9,287.91 L83.9,288.71 L82.9,289.54 L81.9,290.39 L80.9,291.27 L79.9,292.18 L78.9,293.1 L77.9,294.03 L76.9,294.98 L75.9,295.94 L74.9,296.91 L73.9,297.88 L72.9,298.87 L71.9,299.86 L70.9,300.86 L69.9,301.88 L68.9,302.91 L67.9,303.95 L66.9,305.02 L65.9,306.1 L64.9,307.21 L63.9,308.34 L62.9,309.5 L61.9,310.68 L60.9,311.89 L59.9,313.13 L58.9,314.4 L57.9,315.71 L56.9,317.05 L55.9,318.43 L54.9,319.85 L53.9,321.31 L52.9,322.82 L51.9,324.38 L50.9,325.99 L49.9,327.63 L48.9,329.32 L47.9,331.05 L46.9,332.81 L45.9,334.6 L44.9,336.41Z" fill="#D8F20F" fill-opacity="0.3" stroke="none"/>
<path d="M44.9,325.41 L45.9,323.75 L46.9,322.11 L47.9,320.5 L48.9,318.92 L49.9,317.37 L50.9,315.86 L51.9,314.4 L52.9,312.98 L53.9,311.6 L54.9,310.27 L55.9,308.98 L56.9,307.73 L57.9,306.52 L58.9,305.34 L59.9,304.19 L60.9,303.07 L61.9,301.98 L62.9,300.92 L63.9,299.87 L64.9,298.86 L65.9,297.86 L66.9,296.89 L67.9,295.93 L68.9,294.99 L69.9,294.07 L70.9,293.16 L71.9,292.25 L72.9,291.36 L73.9,290.47 L74.9,289.59 L75.9,288.72 L76.9,287.85 L77.9,287 L78.9,286.15 L79.9,285.31 L80.9,284.5 L81.9,283.7 L82.9,282.92 L83.9,282.17 L84.9,281.45 L85.9,280.76 L86.9,280.11 L87.9,279.49 L88.9,278.9 L89.9,278.36 L90.9,277.85 L91.9,277.37 L92.9,276.94 L93.9,276.54 L94.9,276.17 L95.9,275.83 L96.9,275.53 L97.9,275.25 L98.9,275.01 L99.9,274.79 L100.9,274.59 L101.9,274.42 L102.9,274.27 L103.9,274.14 L104.9,274.03 L105.9,273.95 L106.9,273.89 L107.9,273.84 L108.9,273.82 L109.9,273.81 L110.9,273.83 L111.9,273.86 L112.9,273.91 L113.9,273.99 L114.9,274.08 L115.9,274.19 L116.9,274.32 L117.9,274.47 L118.9,274.64 L119.9,274.82 L120.9,275.02 L121.9,275.24 L122.9,275.47 L123.9,275.71 L124.9,275.96 L125.9,276.22 L126.9,276.5 L127.9,276.78 L128.9,277.08 L129.9,277.39 L130.9,277.7 L131.9,278.03 L132.9,278.37 L133.9,278.72 L134.9,279.07 L135.9,279.44 L136.9,279.8 L137.9,280.17 L138.9,280.54 L139.9,280.91 L140.9,281.27 L141.9,281.64 L142.9,282 L143.9,282.36 L144.9,282.72 L145.9,283.09 L146.9,283.45 L147.9,283.82 L148.9,284.19 L149.9,284.57 L150.9,284.95 L151.9,285.34 L152.9,285.73 L153.9,286.13 L154.9,286.53 L155.9,286.94 L156.9,287.35 L157.9,287.76 L158.9,288.17 L159.9,288.59 L160.9,289 L161.9,289.42 L162.9,289.84 L163.9,290.26 L164.9,290.68 L165.9,291.09 L166.9,291.51 L167.9,291.92 L168.9,292.34 L169.9,292.75 L170.9,293.15 L171.9,293.56 L172.9,293.96 L173.9,294.36 L174.9,294.77 L175.9,295.18 L176.9,295.59 L177.9,296.01 L178.9,296.43 L179.9,296.86 L180.9,297.31 L181.9,297.76 L182.9,298.22 L183.9,298.69 L184.9,299.17 L185.9,299.66 L186.9,300.15 L187.9,300.64 L188.9,301.12 L189.9,301.61 L190.9,302.1 L191.9,302.58 L192.9,303.05 L193.9,303.52 L194.9,303.98 L195.9,304.44 L196.9,304.89 L197.9,305.34 L198.9,305.79 L199.9,306.23 L200.9,306.68 L201.9,307.13 L202.9,307.58 L203.9,308.04 L204.9,308.5 L205.9,308.97 L206.9,309.45 L207.9,309.94 L208.9,310.45 L209.9,310.96 L210.9,311.48 L211.9,312 L212.9,312.54 L213.9,313.08 L214.9,313.62 L215.9,314.17 L216.9,314.71 L217.9,315.26 L218.9,315.8 L219.9,316.34 L220.9,316.87 L221.9,317.4 L222.9,317.92 L223.9,318.44 L224.9,318.96 L225.9,319.48 L226.9,319.99 L227.9,320.5 L228.9,321.01 L229.9,321.51 L230.9,322.01 L231.9,322.5 L232.9,323 L233.9,323.49 L234.9,323.97 L235.9,324.45 L236.9,324.93 L237.9,325.4 L238.9,325.87 L239.9,326.33 L240.9,326.79 L241.9,327.25 L242.9,327.71 L243.9,328.16 L244.9,328.61 L245.9,329.06 L246.9,329.51 L247.9,329.96 L248.9,330.41 L249.9,330.86 L250.9,331.31 L251.9,331.77 L252.9,332.23 L253.9,332.69 L254.9,333.16 L255.9,333.63 L256.9,334.11 L257.9,334.59 L258.9,335.07 L259.9,335.56 L260.9,336.04 L261.9,336.53 L262.9,337.02 L263.9,337.51 L264.9,338 L265.9,338.49 L266.9,338.98 L267.6,339.47" fill="none" stroke="#D8F20F" stroke-width="1.5" stroke-linejoin="round" stroke-linecap="butt"/>
<path d="M44.9,291.98 L45.9,290.56 L46.9,289.13 L47.9,287.7 L48.9,286.27 L49.9,284.85 L50.9,283.44 L51.9,282.04 L52.9,280.65 L53.9,279.27 L54.9,277.92 L55.9,276.59 L56.9,275.29 L57.9,274.01 L58.9,272.76 L59.9,271.55 L60.9,270.36 L61.9,269.21 L62.9,268.09 L63.9,267 L64.9,265.95 L65.9,264.92 L66.9,263.92 L67.9,262.95 L68.9,262.01 L69.9,261.1 L70.9,260.23 L71.9,259.38 L72.9,258.57 L73.9,257.8 L74.9,257.07 L75.9,256.38 L76.9,255.73 L77.9,255.13 L78.9,254.58 L79.9,254.07 L80.9,253.62 L81.9,253.22 L82.9,252.88 L83.9,252.59 L84.9,252.35 L85.9,252.18 L86.9,252.06 L87.9,252 L88.9,252 L89.9,252.04 L90.9,252.13 L91.9,252.25 L92.9,252.41 L93.9,252.59 L94.9,252.78 L95.9,252.99 L96.9,253.19 L97.9,253.4 L98.9,253.61 L99.9,253.8 L100.9,253.99 L101.9,254.17 L102.9,254.33 L103.9,254.49 L104.9,254.62 L105.9,254.75 L106.9,254.86 L107.9,254.96 L108.9,255.05 L109.9,255.13 L110.9,255.19 L111.9,255.25 L112.9,255.3 L113.9,255.34 L114.9,255.37 L115.9,255.41 L116.9,255.44 L117.9,255.48 L118.9,255.53 L119.9,255.58 L120.9,255.65 L121.9,255.73 L122.9,255.83 L123.9,255.95 L124.9,256.08 L125.9,256.24 L126.9,256.42 L127.9,256.62 L128.9,256.84 L129.9,257.08 L130.9,257.33 L131.9,257.61 L132.9,257.9 L133.9,258.22 L134.9,258.54 L135.9,258.89 L136.9,259.24 L137.9,259.61 L138.9,260 L139.9,260.39 L140.9,260.8 L141.9,261.22 L142.9,261.65 L143.9,262.09 L144.9,262.54 L145.9,263 L146.9,263.47 L147.9,263.95 L148.9,264.44 L149.9,264.94 L150.9,265.45 L151.9,265.97 L152.9,266.49 L153.9,267.02 L154.9,267.56 L155.9,268.09 L156.9,268.63 L157.9,269.17 L158.9,269.71 L159.9,270.24 L160.9,270.78 L161.9,271.31 L162.9,271.84 L163.9,272.37 L164.9,272.9 L165.9,273.43 L166.9,273.96 L167.9,274.49 L168.9,275.03 L169.9,275.57 L170.9,276.12 L171.9,276.68 L172.9,277.23 L173.9,277.8 L174.9,278.37 L175.9,278.94 L176.9,279.52 L177.9,280.09 L178.9,280.67 L179.9,281.26 L180.9,281.84 L181.9,282.42 L182.9,283.01 L183.9,283.59 L184.9,284.17 L185.9,284.76 L186.9,285.34 L187.9,285.92 L188.9,286.5 L189.9,287.08 L190.9,287.66 L191.9,288.24 L192.9,288.82 L193.9,289.4 L194.9,289.97 L195.9,290.53 L196.9,291.09 L197.9,291.65 L198.9,292.19 L199.9,292.72 L200.9,293.23 L201.9,293.74 L202.9,294.22 L203.9,294.7 L204.9,295.15 L205.9,295.59 L206.9,296.01 L207.9,296.42 L208.9,296.82 L209.9,297.2 L210.9,297.58 L211.9,297.94 L212.9,298.29 L213.9,298.63 L214.9,298.96 L215.9,299.29 L216.9,299.6 L217.9,299.9 L218.9,300.19 L219.9,300.48 L220.9,300.76 L221.9,301.03 L222.9,301.29 L223.9,301.55 L224.9,301.81 L225.9,302.06 L226.9,302.31 L227.9,302.56 L228.9,302.81 L229.9,303.05 L230.9,303.3 L231.9,303.54 L232.9,303.79 L233.9,304.04 L234.9,304.28 L235.9,304.53 L236.9,304.78 L237.9,305.03 L238.9,305.28 L239.9,305.52 L240.9,305.77 L241.9,306.03 L242.9,306.28 L243.9,306.53 L244.9,306.78 L245.9,307.03 L246.9,307.29 L247.9,307.55 L248.9,307.8 L249.9,308.06 L250.9,308.33 L251.9,308.59 L252.9,308.86 L253.9,309.13 L254.9,309.4 L255.9,309.68 L256.9,309.96 L257.9,310.24 L258.9,310.52 L259.9,310.81 L260.9,311.1 L261.9,311.39 L262.9,311.68 L263.9,311.97 L264.9,312.26 L265.9,312.55 L266.9,312.84 L267.6,313.15 L267.6,329.15 L266.9,328.76 L265.9,328.36 L264.9,327.96 L263.9,327.56 L262.9,327.16 L261.9,326.76 L260.9,326.36 L259.9,325.97 L258.9,325.57 L257.9,325.18 L256.9,324.8 L255.9,324.41 L254.9,324.04 L253.9,323.66 L252.9,323.29 L251.9,322.92 L250.9,322.56 L249.9,322.19 L248.9,321.84 L247.9,321.48 L246.9,321.13 L245.9,320.78 L244.9,320.43 L243.9,320.08 L242.9,319.73 L241.9,319.39 L240.9,319.04 L239.9,318.7 L238.9,318.36 L237.9,318.02 L236.9,317.68 L235.9,317.35 L234.9,317.01 L233.9,316.68 L232.9,316.35 L231.9,316.02 L230.9,315.68 L229.9,315.35 L228.9,315.03 L227.9,314.7 L226.9,314.37 L225.9,314.03 L224.9,313.7 L223.9,313.37 L222.9,313.03 L221.9,312.68 L220.9,312.34 L219.9,311.98 L218.9,311.62 L217.9,311.25 L216.9,310.88 L215.9,310.49 L214.9,310.1 L213.9,309.7 L212.9,309.29 L211.9,308.86 L210.9,308.43 L209.9,307.99 L208.9,307.54 L207.9,307.08 L206.9,306.6 L205.9,306.12 L204.9,305.61 L203.9,305.1 L202.9,304.56 L201.9,304.02 L200.9,303.45 L199.9,302.88 L198.9,302.29 L197.9,301.69 L196.9,301.08 L195.9,300.47 L194.9,299.85 L193.9,299.23 L192.9,298.6 L191.9,297.97 L190.9,297.34 L189.9,296.71 L188.9,296.08 L187.9,295.45 L186.9,294.83 L185.9,294.2 L184.9,293.57 L183.9,292.95 L182.9,292.32 L181.9,291.7 L180.9,291.08 L179.9,290.45 L178.9,289.84 L177.9,289.22 L176.9,288.6 L175.9,288 L174.9,287.39 L173.9,286.79 L172.9,286.2 L171.9,285.61 L170.9,285.03 L169.9,284.45 L168.9,283.88 L167.9,283.32 L166.9,282.76 L165.9,282.21 L164.9,281.66 L163.9,281.11 L162.9,280.57 L161.9,280.02 L160.9,279.47 L159.9,278.93 L158.9,278.38 L157.9,277.83 L156.9,277.28 L155.9,276.73 L154.9,276.19 L153.9,275.65 L152.9,275.12 L151.9,274.59 L150.9,274.07 L149.9,273.56 L148.9,273.06 L147.9,272.57 L146.9,272.1 L145.9,271.63 L144.9,271.18 L143.9,270.74 L142.9,270.31 L141.9,269.89 L140.9,269.49 L139.9,269.1 L138.9,268.72 L137.9,268.35 L136.9,268 L135.9,267.67 L134.9,267.35 L133.9,267.04 L132.9,266.76 L131.9,266.49 L130.9,266.25 L129.9,266.02 L128.9,265.82 L127.9,265.63 L126.9,265.47 L125.9,265.33 L124.9,265.22 L123.9,265.12 L122.9,265.05 L121.9,265 L120.9,264.96 L119.9,264.95 L118.9,264.94 L117.9,264.95 L116.9,264.97 L115.9,264.99 L114.9,265.02 L113.9,265.05 L112.9,265.07 L111.9,265.09 L110.9,265.1 L109.9,265.11 L108.9,265.1 L107.9,265.09 L106.9,265.07 L105.9,265.03 L104.9,264.99 L103.9,264.93 L102.9,264.87 L101.9,264.79 L100.9,264.7 L99.9,264.61 L98.9,264.51 L97.9,264.4 L96.9,264.29 L95.9,264.18 L94.9,264.08 L93.9,263.99 L92.9,263.92 L91.9,263.88 L90.9,263.87 L89.9,263.9 L88.9,263.97 L87.9,264.1 L86.9,264.29 L85.9,264.53 L84.9,264.83 L83.9,265.2 L82.9,265.62 L81.9,266.1 L80.9,266.64 L79.9,267.24 L78.9,267.89 L77.9,268.59 L76.9,269.34 L75.9,270.14 L74.9,270.98 L73.9,271.87 L72.9,272.81 L71.9,273.78 L70.9,274.79 L69.9,275.84 L68.9,276.92 L67.9,278.04 L66.9,279.19 L65.9,280.37 L64.9,281.58 L63.9,282.83 L62.9,284.1 L61.9,285.42 L60.9,286.77 L59.9,288.15 L58.9,289.57 L57.9,291.02 L56.9,292.51 L55.9,294.03 L54.9,295.57 L53.9,297.15 L52.9,298.74 L51.9,300.36 L50.9,301.99 L49.9,303.64 L48.9,305.29 L47.9,306.96 L46.9,308.63 L45.9,310.31 L44.9,311.98Z" fill="#7A1488" fill-opacity="0.2" stroke="none"/>
<path d="M44.9,301.98 L45.9,300.43 L46.9,298.88 L47.9,297.33 L48.9,295.78 L49.9,294.24 L50.9,292.72 L51.9,291.2 L52.9,289.69 L53.9,288.21 L54.9,286.75 L55.9,285.31 L56.9,283.9 L57.9,282.52 L58.9,281.17 L59.9,279.85 L60.9,278.57 L61.9,277.32 L62.9,276.1 L63.9,274.91 L64.9,273.76 L65.9,272.64 L66.9,271.55 L67.9,270.49 L68.9,269.47 L69.9,268.47 L70.9,267.51 L71.9,266.58 L72.9,265.69 L73.9,264.84 L74.9,264.03 L75.9,263.26 L76.9,262.53 L77.9,261.86 L78.9,261.23 L79.9,260.66 L80.9,260.13 L81.9,259.66 L82.9,259.25 L83.9,258.89 L84.9,258.59 L85.9,258.36 L86.9,258.18 L87.9,258.05 L88.9,257.99 L89.9,257.97 L90.9,258 L91.9,258.07 L92.9,258.17 L93.9,258.29 L94.9,258.43 L95.9,258.58 L96.9,258.74 L97.9,258.9 L98.9,259.06 L99.9,259.21 L100.9,259.35 L101.9,259.48 L102.9,259.6 L103.9,259.71 L104.9,259.81 L105.9,259.89 L106.9,259.97 L107.9,260.03 L108.9,260.08 L109.9,260.12 L110.9,260.15 L111.9,260.17 L112.9,260.18 L113.9,260.19 L114.9,260.2 L115.9,260.2 L116.9,260.21 L117.9,260.22 L118.9,260.23 L119.9,260.26 L120.9,260.31 L121.9,260.36 L122.9,260.44 L123.9,260.53 L124.9,260.65 L125.9,260.79 L126.9,260.95 L127.9,261.13 L128.9,261.33 L129.9,261.55 L130.9,261.79 L131.9,262.05 L132.9,262.33 L133.9,262.63 L134.9,262.95 L135.9,263.28 L136.9,263.62 L137.9,263.98 L138.9,264.36 L139.9,264.75 L140.9,265.14 L141.9,265.56 L142.9,265.98 L143.9,266.41 L144.9,266.86 L145.9,267.31 L146.9,267.78 L147.9,268.26 L148.9,268.75 L149.9,269.25 L150.9,269.76 L151.9,270.28 L152.9,270.81 L153.9,271.34 L154.9,271.87 L155.9,272.41 L156.9,272.96 L157.9,273.5 L158.9,274.04 L159.9,274.58 L160.9,275.12 L161.9,275.66 L162.9,276.2 L163.9,276.74 L164.9,277.28 L165.9,277.82 L166.9,278.36 L167.9,278.91 L168.9,279.46 L169.9,280.01 L170.9,280.57 L171.9,281.14 L172.9,281.72 L173.9,282.29 L174.9,282.88 L175.9,283.47 L176.9,284.06 L177.9,284.66 L178.9,285.25 L179.9,285.86 L180.9,286.46 L181.9,287.06 L182.9,287.66 L183.9,288.27 L184.9,288.87 L185.9,289.48 L186.9,290.08 L187.9,290.69 L188.9,291.29 L189.9,291.9 L190.9,292.5 L191.9,293.11 L192.9,293.71 L193.9,294.31 L194.9,294.91 L195.9,295.5 L196.9,296.09 L197.9,296.67 L198.9,297.24 L199.9,297.8 L200.9,298.34 L201.9,298.88 L202.9,299.39 L203.9,299.9 L204.9,300.38 L205.9,300.85 L206.9,301.31 L207.9,301.75 L208.9,302.18 L209.9,302.6 L210.9,303.01 L211.9,303.4 L212.9,303.79 L213.9,304.17 L214.9,304.53 L215.9,304.89 L216.9,305.24 L217.9,305.58 L218.9,305.91 L219.9,306.23 L220.9,306.55 L221.9,306.86 L222.9,307.16 L223.9,307.46 L224.9,307.76 L225.9,308.05 L226.9,308.34 L227.9,308.63 L228.9,308.92 L229.9,309.2 L230.9,309.49 L231.9,309.78 L232.9,310.07 L233.9,310.36 L234.9,310.65 L235.9,310.94 L236.9,311.23 L237.9,311.52 L238.9,311.82 L239.9,312.11 L240.9,312.41 L241.9,312.71 L242.9,313 L243.9,313.3 L244.9,313.6 L245.9,313.9 L246.9,314.21 L247.9,314.51 L248.9,314.82 L249.9,315.13 L250.9,315.44 L251.9,315.76 L252.9,316.07 L253.9,316.39 L254.9,316.72 L255.9,317.05 L256.9,317.38 L257.9,317.71 L258.9,318.05 L259.9,318.39 L260.9,318.73 L261.9,319.07 L262.9,319.42 L263.9,319.76 L264.9,320.11 L265.9,320.46 L266.9,320.8 L267.6,321.15" fill="none" stroke="#7A1488" stroke-width="1.5" stroke-linejoin="round" stroke-linecap="butt"/>
<path d="M44.9,225.3 L45.9,225.8 L46.9,226.31 L47.9,226.81 L48.9,227.31 L49.9,227.81 L50.9,228.31 L51.9,228.81 L52.9,229.31 L53.9,229.82 L54.9,230.33 L55.9,230.84 L56.9,231.35 L57.9,231.86 L58.9,232.39 L59.9,232.91 L60.9,233.44 L61.9,233.96 L62.9,234.49 L63.9,235.02 L64.9,235.55 L65.9,236.07 L66.9,236.59 L67.9,237.11 L68.9,237.61 L69.9,238.1 L70.9,238.58 L71.9,239.05 L72.9,239.49 L73.9,239.92 L74.9,240.33 L75.9,240.72 L76.9,241.09 L77.9,241.44 L78.9,241.76 L79.9,242.06 L80.9,242.34 L81.9,242.59 L82.9,242.83 L83.9,243.04 L84.9,243.24 L85.9,243.43 L86.9,243.59 L87.9,243.75 L88.9,243.89 L89.9,244.02 L90.9,244.13 L91.9,244.24 L92.9,244.34 L93.9,244.43 L94.9,244.5 L95.9,244.57 L96.9,244.62 L97.9,244.66 L98.9,244.68 L99.9,244.7 L100.9,244.7 L101.9,244.69 L102.9,244.67 L103.9,244.64 L104.9,244.6 L105.9,244.55 L106.9,244.49 L107.9,244.43 L108.9,244.36 L109.9,244.28 L110.9,244.21 L111.9,244.13 L112.9,244.05 L113.9,243.96 L114.9,243.88 L115.9,243.8 L116.9,243.71 L117.9,243.63 L118.9,243.56 L119.9,243.49 L120.9,243.42 L121.9,243.36 L122.9,243.31 L123.9,243.26 L124.9,243.23 L125.9,243.2 L126.9,243.19 L127.9,243.18 L128.9,243.19 L129.9,243.21 L130.9,243.24 L131.9,243.29 L132.9,243.35 L133.9,243.42 L134.9,243.51 L135.9,243.61 L136.9,243.73 L137.9,243.85 L138.9,243.99 L139.9,244.15 L140.9,244.31 L141.9,244.49 L142.9,244.67 L143.9,244.87 L144.9,245.07 L145.9,245.29 L146.9,245.51 L147.9,245.74 L148.9,245.98 L149.9,246.23 L150.9,246.48 L151.9,246.75 L152.9,247.02 L153.9,247.29 L154.9,247.58 L155.9,247.87 L156.9,248.17 L157.9,248.48 L158.9,248.8 L159.9,249.12 L160.9,249.46 L161.9,249.81 L162.9,250.16 L163.9,250.53 L164.9,250.91 L165.9,251.3 L166.9,251.7 L167.9,252.11 L168.9,252.54 L169.9,252.98 L170.9,253.44 L171.9,253.91 L172.9,254.39 L173.9,254.88 L174.9,255.39 L175.9,255.91 L176.9,256.44 L177.9,256.98 L178.9,257.53 L179.9,258.1 L180.9,258.67 L181.9,259.25 L182.9,259.84 L183.9,260.44 L184.9,261.04 L185.9,261.65 L186.9,262.26 L187.9,262.88 L188.9,263.5 L189.9,264.12 L190.9,264.74 L191.9,265.36 L192.9,265.98 L193.9,266.59 L194.9,267.21 L195.9,267.81 L196.9,268.42 L197.9,269.01 L198.9,269.6 L199.9,270.18 L200.9,270.76 L201.9,271.32 L202.9,271.88 L203.9,272.43 L204.9,272.97 L205.9,273.51 L206.9,274.05 L207.9,274.59 L208.9,275.13 L209.9,275.68 L210.9,276.23 L211.9,276.79 L212.9,277.35 L213.9,277.93 L214.9,278.51 L215.9,279.09 L216.9,279.69 L217.9,280.29 L218.9,280.9 L219.9,281.51 L220.9,282.13 L221.9,282.75 L222.9,283.38 L223.9,284.01 L224.9,284.64 L225.9,285.28 L226.9,285.93 L227.9,286.57 L228.9,287.22 L229.9,287.87 L230.9,288.53 L231.9,289.19 L232.9,289.85 L233.9,290.51 L234.9,291.17 L235.9,291.83 L236.9,292.5 L237.9,293.16 L238.9,293.83 L239.9,294.49 L240.9,295.16 L241.9,295.83 L242.9,296.5 L243.9,297.18 L244.9,297.86 L245.9,298.55 L246.9,299.24 L247.9,299.95 L248.9,300.66 L249.9,301.39 L250.9,302.14 L251.9,302.9 L252.9,303.69 L253.9,304.49 L254.9,305.32 L255.9,306.17 L256.9,307.05 L257.9,307.94 L258.9,308.86 L259.9,309.79 L260.9,310.74 L261.9,311.71 L262.9,312.68 L263.9,313.66 L264.9,314.64 L265.9,315.63 L266.9,316.62 L267.6,317.63 L267.6,337.63 L266.9,336.51 L265.9,335.38 L264.9,334.25 L263.9,333.13 L262.9,332 L261.9,330.89 L260.9,329.79 L259.9,328.7 L258.9,327.62 L257.9,326.57 L256.9,325.54 L255.9,324.53 L254.9,323.55 L253.9,322.59 L252.9,321.65 L251.9,320.73 L250.9,319.84 L249.9,318.96 L248.9,318.11 L247.9,317.26 L246.9,316.43 L245.9,315.61 L244.9,314.8 L243.9,313.99 L242.9,313.2 L241.9,312.4 L240.9,311.61 L239.9,310.83 L238.9,310.04 L237.9,309.26 L236.9,308.48 L235.9,307.7 L234.9,306.92 L233.9,306.14 L232.9,305.37 L231.9,304.6 L230.9,303.83 L229.9,303.07 L228.9,302.31 L227.9,301.55 L226.9,300.8 L225.9,300.05 L224.9,299.3 L223.9,298.57 L222.9,297.83 L221.9,297.1 L220.9,296.38 L219.9,295.66 L218.9,294.95 L217.9,294.25 L216.9,293.55 L215.9,292.87 L214.9,292.19 L213.9,291.51 L212.9,290.85 L211.9,290.19 L210.9,289.55 L209.9,288.91 L208.9,288.27 L207.9,287.65 L206.9,287.03 L205.9,286.4 L204.9,285.78 L203.9,285.16 L202.9,284.53 L201.9,283.89 L200.9,283.25 L199.9,282.6 L198.9,281.94 L197.9,281.28 L196.9,280.61 L195.9,279.94 L194.9,279.26 L193.9,278.58 L192.9,277.9 L191.9,277.21 L190.9,276.53 L189.9,275.85 L188.9,275.16 L187.9,274.48 L186.9,273.81 L185.9,273.14 L184.9,272.47 L183.9,271.82 L182.9,271.17 L181.9,270.53 L180.9,269.89 L179.9,269.27 L178.9,268.66 L177.9,268.06 L176.9,267.48 L175.9,266.9 L174.9,266.34 L173.9,265.8 L172.9,265.26 L171.9,264.75 L170.9,264.24 L169.9,263.76 L168.9,263.28 L167.9,262.83 L166.9,262.38 L165.9,261.95 L164.9,261.54 L163.9,261.14 L162.9,260.75 L161.9,260.37 L160.9,260.01 L159.9,259.65 L158.9,259.31 L157.9,258.98 L156.9,258.66 L155.9,258.35 L154.9,258.05 L153.9,257.76 L152.9,257.48 L151.9,257.21 L150.9,256.95 L149.9,256.7 L148.9,256.45 L147.9,256.22 L146.9,256 L145.9,255.78 L144.9,255.58 L143.9,255.39 L142.9,255.21 L141.9,255.04 L140.9,254.89 L139.9,254.75 L138.9,254.62 L137.9,254.51 L136.9,254.41 L135.9,254.32 L134.9,254.26 L133.9,254.2 L132.9,254.17 L131.9,254.15 L130.9,254.14 L129.9,254.16 L128.9,254.18 L127.9,254.23 L126.9,254.28 L125.9,254.35 L124.9,254.44 L123.9,254.53 L122.9,254.64 L121.9,254.76 L120.9,254.88 L119.9,255.02 L118.9,255.16 L117.9,255.31 L116.9,255.47 L115.9,255.63 L114.9,255.8 L113.9,255.97 L112.9,256.14 L111.9,256.31 L110.9,256.49 L109.9,256.66 L108.9,256.83 L107.9,257 L106.9,257.17 L105.9,257.34 L104.9,257.5 L103.9,257.65 L102.9,257.8 L101.9,257.94 L100.9,258.08 L99.9,258.2 L98.9,258.32 L97.9,258.42 L96.9,258.52 L95.9,258.61 L94.9,258.68 L93.9,258.75 L92.9,258.81 L91.9,258.87 L90.9,258.92 L89.9,258.96 L88.9,258.99 L87.9,259.01 L86.9,259.03 L85.9,259.03 L84.9,259.03 L83.9,259.01 L82.9,258.97 L81.9,258.92 L80.9,258.86 L79.9,258.77 L78.9,258.67 L77.9,258.55 L76.9,258.41 L75.9,258.25 L74.9,258.07 L73.9,257.88 L72.9,257.67 L71.9,257.44 L70.9,257.2 L69.9,256.96 L68.9,256.7 L67.9,256.44 L66.9,256.17 L65.9,255.9 L64.9,255.62 L63.9,255.35 L62.9,255.08 L61.9,254.81 L60.9,254.55 L59.9,254.3 L58.9,254.05 L57.9,253.81 L56.9,253.58 L55.9,253.36 L54.9,253.14 L53.9,252.93 L52.9,252.73 L51.9,252.54 L50.9,252.35 L49.9,252.16 L48.9,251.98 L47.9,251.81 L46.9,251.63 L45.9,251.46 L44.9,251.3Z" fill="#C43AFA" fill-opacity="0.2" stroke="none"/>
<path d="M44.9,238.3 L45.9,238.63 L46.9,238.97 L47.9,239.31 L48.9,239.65 L49.9,239.99 L50.9,240.33 L51.9,240.67 L52.9,241.02 L53.9,241.38 L54.9,241.73 L55.9,242.1 L56.9,242.46 L57.9,242.84 L58.9,243.22 L59.9,243.6 L60.9,243.99 L61.9,244.39 L62.9,244.79 L63.9,245.19 L64.9,245.59 L65.9,245.98 L66.9,246.38 L67.9,246.77 L68.9,247.15 L69.9,247.53 L70.9,247.89 L71.9,248.24 L72.9,248.58 L73.9,248.9 L74.9,249.2 L75.9,249.49 L76.9,249.75 L77.9,249.99 L78.9,250.21 L79.9,250.42 L80.9,250.6 L81.9,250.76 L82.9,250.9 L83.9,251.03 L84.9,251.14 L85.9,251.23 L86.9,251.31 L87.9,251.38 L88.9,251.44 L89.9,251.49 L90.9,251.53 L91.9,251.56 L92.9,251.58 L93.9,251.59 L94.9,251.59 L95.9,251.59 L96.9,251.57 L97.9,251.54 L98.9,251.5 L99.9,251.45 L100.9,251.39 L101.9,251.32 L102.9,251.24 L103.9,251.14 L104.9,251.05 L105.9,250.94 L106.9,250.83 L107.9,250.71 L108.9,250.6 L109.9,250.47 L110.9,250.35 L111.9,250.22 L112.9,250.09 L113.9,249.97 L114.9,249.84 L115.9,249.71 L116.9,249.59 L117.9,249.47 L118.9,249.36 L119.9,249.25 L120.9,249.15 L121.9,249.06 L122.9,248.97 L123.9,248.9 L124.9,248.83 L125.9,248.78 L126.9,248.73 L127.9,248.7 L128.9,248.69 L129.9,248.68 L130.9,248.69 L131.9,248.72 L132.9,248.76 L133.9,248.81 L134.9,248.88 L135.9,248.97 L136.9,249.07 L137.9,249.18 L138.9,249.31 L139.9,249.45 L140.9,249.6 L141.9,249.76 L142.9,249.94 L143.9,250.13 L144.9,250.33 L145.9,250.54 L146.9,250.75 L147.9,250.98 L148.9,251.22 L149.9,251.46 L150.9,251.72 L151.9,251.98 L152.9,252.25 L153.9,252.53 L154.9,252.82 L155.9,253.11 L156.9,253.42 L157.9,253.73 L158.9,254.06 L159.9,254.39 L160.9,254.73 L161.9,255.09 L162.9,255.46 L163.9,255.83 L164.9,256.22 L165.9,256.63 L166.9,257.04 L167.9,257.47 L168.9,257.91 L169.9,258.37 L170.9,258.84 L171.9,259.33 L172.9,259.82 L173.9,260.34 L174.9,260.87 L175.9,261.41 L176.9,261.96 L177.9,262.52 L178.9,263.1 L179.9,263.68 L180.9,264.28 L181.9,264.89 L182.9,265.5 L183.9,266.13 L184.9,266.76 L185.9,267.39 L186.9,268.04 L187.9,268.68 L188.9,269.33 L189.9,269.98 L190.9,270.63 L191.9,271.29 L192.9,271.94 L193.9,272.59 L194.9,273.23 L195.9,273.88 L196.9,274.51 L197.9,275.15 L198.9,275.77 L199.9,276.39 L200.9,277 L201.9,277.61 L202.9,278.2 L203.9,278.79 L204.9,279.38 L205.9,279.96 L206.9,280.54 L207.9,281.12 L208.9,281.7 L209.9,282.29 L210.9,282.89 L211.9,283.49 L212.9,284.1 L213.9,284.72 L214.9,285.35 L215.9,285.98 L216.9,286.62 L217.9,287.27 L218.9,287.93 L219.9,288.59 L220.9,289.25 L221.9,289.93 L222.9,290.6 L223.9,291.29 L224.9,291.97 L225.9,292.66 L226.9,293.36 L227.9,294.06 L228.9,294.76 L229.9,295.47 L230.9,296.18 L231.9,296.89 L232.9,297.61 L233.9,298.33 L234.9,299.05 L235.9,299.77 L236.9,300.49 L237.9,301.21 L238.9,301.93 L239.9,302.66 L240.9,303.39 L241.9,304.12 L242.9,304.85 L243.9,305.59 L244.9,306.33 L245.9,307.08 L246.9,307.84 L247.9,308.6 L248.9,309.38 L249.9,310.18 L250.9,310.99 L251.9,311.82 L252.9,312.67 L253.9,313.54 L254.9,314.43 L255.9,315.35 L256.9,316.29 L257.9,317.26 L258.9,318.24 L259.9,319.24 L260.9,320.26 L261.9,321.3 L262.9,322.34 L263.9,323.39 L264.9,324.45 L265.9,325.51 L266.9,326.57 L267.6,327.63" fill="none" stroke="#C43AFA" stroke-width="1.5" stroke-linejoin="round" stroke-linecap="butt"/>
<path d="M44.9,273.2 L45.9,272.63 L46.9,272.05 L47.9,271.48 L48.9,270.91 L49.9,270.33 L50.9,269.76 L51.9,269.19 L52.9,268.62 L53.9,268.05 L54.9,267.48 L55.9,266.91 L56.9,266.35 L57.9,265.79 L58.9,265.23 L59.9,264.68 L60.9,264.13 L61.9,263.58 L62.9,263.03 L63.9,262.48 L64.9,261.93 L65.9,261.38 L66.9,260.83 L67.9,260.27 L68.9,259.72 L69.9,259.16 L70.9,258.59 L71.9,258.02 L72.9,257.45 L73.9,256.87 L74.9,256.28 L75.9,255.68 L76.9,255.08 L77.9,254.46 L78.9,253.84 L79.9,253.2 L80.9,252.56 L81.9,251.91 L82.9,251.25 L83.9,250.58 L84.9,249.91 L85.9,249.22 L86.9,248.54 L87.9,247.84 L88.9,247.15 L89.9,246.45 L90.9,245.76 L91.9,245.06 L92.9,244.37 L93.9,243.68 L94.9,242.99 L95.9,242.31 L96.9,241.63 L97.9,240.96 L98.9,240.29 L99.9,239.63 L100.9,238.97 L101.9,238.32 L102.9,237.68 L103.9,237.04 L104.9,236.41 L105.9,235.78 L106.9,235.15 L107.9,234.54 L108.9,233.93 L109.9,233.32 L110.9,232.73 L111.9,232.14 L112.9,231.56 L113.9,230.99 L114.9,230.43 L115.9,229.89 L116.9,229.35 L117.9,228.83 L118.9,228.33 L119.9,227.85 L120.9,227.38 L121.9,226.94 L122.9,226.51 L123.9,226.1 L124.9,225.72 L125.9,225.35 L126.9,225 L127.9,224.66 L128.9,224.34 L129.9,224.03 L130.9,223.73 L131.9,223.45 L132.9,223.17 L133.9,222.91 L134.9,222.65 L135.9,222.4 L136.9,222.17 L137.9,221.94 L138.9,221.72 L139.9,221.51 L140.9,221.31 L141.9,221.11 L142.9,220.93 L143.9,220.76 L144.9,220.61 L145.9,220.46 L146.9,220.32 L147.9,220.2 L148.9,220.09 L149.9,219.98 L150.9,219.9 L151.9,219.82 L152.9,219.76 L153.9,219.7 L154.9,219.67 L155.9,219.64 L156.9,219.62 L157.9,219.62 L158.9,219.63 L159.9,219.65 L160.9,219.68 L161.9,219.73 L162.9,219.79 L163.9,219.87 L164.9,219.96 L165.9,220.06 L166.9,220.18 L167.9,220.32 L168.9,220.47 L169.9,220.63 L170.9,220.81 L171.9,221.01 L172.9,221.23 L173.9,221.46 L174.9,221.71 L175.9,221.98 L176.9,222.27 L177.9,222.57 L178.9,222.88 L179.9,223.22 L180.9,223.56 L181.9,223.92 L182.9,224.29 L183.9,224.67 L184.9,225.06 L185.9,225.45 L186.9,225.85 L187.9,226.26 L188.9,226.67 L189.9,227.08 L190.9,227.5 L191.9,227.91 L192.9,228.33 L193.9,228.75 L194.9,229.16 L195.9,229.58 L196.9,230 L197.9,230.42 L198.9,230.84 L199.9,231.26 L200.9,231.69 L201.9,232.12 L202.9,232.57 L203.9,233.02 L204.9,233.49 L205.9,233.97 L206.9,234.48 L207.9,235 L208.9,235.55 L209.9,236.12 L210.9,236.71 L211.9,237.32 L212.9,237.95 L213.9,238.59 L214.9,239.25 L215.9,239.92 L216.9,240.6 L217.9,241.3 L218.9,242 L219.9,242.71 L220.9,243.43 L221.9,244.16 L222.9,244.9 L223.9,245.65 L224.9,246.4 L225.9,247.16 L226.9,247.93 L227.9,248.71 L228.9,249.49 L229.9,250.28 L230.9,251.07 L231.9,251.87 L232.9,252.67 L233.9,253.47 L234.9,254.27 L235.9,255.08 L236.9,255.89 L237.9,256.7 L238.9,257.51 L239.9,258.32 L240.9,259.13 L241.9,259.95 L242.9,260.77 L243.9,261.6 L244.9,262.43 L245.9,263.26 L246.9,264.1 L247.9,264.94 L248.9,265.79 L249.9,266.64 L250.9,267.5 L251.9,268.36 L252.9,269.22 L253.9,270.09 L254.9,270.95 L255.9,271.81 L256.9,272.66 L257.9,273.5 L258.9,274.33 L259.9,275.15 L260.9,275.95 L261.9,276.74 L262.9,277.51 L263.9,278.26 L264.9,279 L265.9,279.73 L266.9,280.45 L267.6,281.19 L267.6,299.19 L266.9,298.36 L265.9,297.51 L264.9,296.64 L263.9,295.77 L262.9,294.88 L261.9,293.98 L260.9,293.07 L259.9,292.14 L258.9,291.19 L257.9,290.24 L256.9,289.27 L255.9,288.29 L254.9,287.31 L253.9,286.33 L252.9,285.34 L251.9,284.36 L250.9,283.37 L249.9,282.4 L248.9,281.42 L247.9,280.46 L246.9,279.5 L245.9,278.55 L244.9,277.6 L243.9,276.66 L242.9,275.72 L241.9,274.79 L240.9,273.86 L239.9,272.93 L238.9,272.01 L237.9,271.09 L236.9,270.17 L235.9,269.26 L234.9,268.35 L233.9,267.44 L232.9,266.53 L231.9,265.63 L230.9,264.73 L229.9,263.84 L228.9,262.95 L227.9,262.07 L226.9,261.19 L225.9,260.33 L224.9,259.47 L223.9,258.62 L222.9,257.78 L221.9,256.94 L220.9,256.12 L219.9,255.31 L218.9,254.51 L217.9,253.71 L216.9,252.93 L215.9,252.16 L214.9,251.4 L213.9,250.66 L212.9,249.93 L211.9,249.22 L210.9,248.53 L209.9,247.85 L208.9,247.2 L207.9,246.58 L206.9,245.97 L205.9,245.39 L204.9,244.83 L203.9,244.28 L202.9,243.75 L201.9,243.24 L200.9,242.73 L199.9,242.23 L198.9,241.74 L197.9,241.25 L196.9,240.76 L195.9,240.27 L194.9,239.79 L193.9,239.31 L192.9,238.83 L191.9,238.35 L190.9,237.87 L189.9,237.39 L188.9,236.92 L187.9,236.45 L186.9,235.99 L185.9,235.53 L184.9,235.08 L183.9,234.64 L182.9,234.21 L181.9,233.79 L180.9,233.38 L179.9,232.99 L178.9,232.61 L177.9,232.24 L176.9,231.9 L175.9,231.57 L174.9,231.26 L173.9,230.97 L172.9,230.69 L171.9,230.44 L170.9,230.2 L169.9,229.98 L168.9,229.78 L167.9,229.6 L166.9,229.43 L165.9,229.28 L164.9,229.15 L163.9,229.03 L162.9,228.93 L161.9,228.84 L160.9,228.77 L159.9,228.72 L158.9,228.67 L157.9,228.64 L156.9,228.63 L155.9,228.63 L154.9,228.64 L153.9,228.67 L152.9,228.71 L151.9,228.76 L150.9,228.83 L149.9,228.91 L148.9,229 L147.9,229.11 L146.9,229.23 L145.9,229.37 L144.9,229.52 L143.9,229.68 L142.9,229.85 L141.9,230.04 L140.9,230.24 L139.9,230.45 L138.9,230.67 L137.9,230.9 L136.9,231.14 L135.9,231.4 L134.9,231.66 L133.9,231.94 L132.9,232.23 L131.9,232.52 L130.9,232.83 L129.9,233.16 L128.9,233.49 L127.9,233.84 L126.9,234.21 L125.9,234.6 L124.9,235 L123.9,235.43 L122.9,235.88 L121.9,236.35 L120.9,236.84 L119.9,237.35 L118.9,237.88 L117.9,238.43 L116.9,239 L115.9,239.59 L114.9,240.19 L113.9,240.81 L112.9,241.44 L111.9,242.08 L110.9,242.73 L109.9,243.4 L108.9,244.07 L107.9,244.75 L106.9,245.44 L105.9,246.14 L104.9,246.85 L103.9,247.56 L102.9,248.28 L101.9,249.01 L100.9,249.75 L99.9,250.5 L98.9,251.25 L97.9,252.01 L96.9,252.78 L95.9,253.56 L94.9,254.34 L93.9,255.13 L92.9,255.93 L91.9,256.73 L90.9,257.54 L89.9,258.35 L88.9,259.16 L87.9,259.98 L86.9,260.79 L85.9,261.6 L84.9,262.41 L83.9,263.22 L82.9,264.02 L81.9,264.81 L80.9,265.6 L79.9,266.39 L78.9,267.16 L77.9,267.93 L76.9,268.7 L75.9,269.45 L74.9,270.21 L73.9,270.95 L72.9,271.7 L71.9,272.43 L70.9,273.17 L69.9,273.9 L68.9,274.63 L67.9,275.37 L66.9,276.1 L65.9,276.83 L64.9,277.56 L63.9,278.3 L62.9,279.04 L61.9,279.79 L60.9,280.53 L59.9,281.29 L58.9,282.04 L57.9,282.81 L56.9,283.58 L55.9,284.35 L54.9,285.13 L53.9,285.92 L52.9,286.71 L51.9,287.51 L50.9,288.31 L49.9,289.12 L48.9,289.93 L47.9,290.74 L46.9,291.56 L45.9,292.38 L44.9,293.2Z" fill="#CF3D55" fill-opacity="0.2" stroke="none"/>
<path d="M44.9,283.2 L45.9,282.5 L46.9,281.81 L47.9,281.11 L48.9,280.42 L49.9,279.73 L50.9,279.04 L51.9,278.35 L52.9,277.67 L53.9,276.98 L54.9,276.31 L55.9,275.63 L56.9,274.96 L57.9,274.3 L58.9,273.64 L59.9,272.98 L60.9,272.33 L61.9,271.68 L62.9,271.03 L63.9,270.39 L64.9,269.75 L65.9,269.1 L66.9,268.46 L67.9,267.82 L68.9,267.18 L69.9,266.53 L70.9,265.88 L71.9,265.23 L72.9,264.57 L73.9,263.91 L74.9,263.24 L75.9,262.57 L76.9,261.89 L77.9,261.2 L78.9,260.5 L79.9,259.8 L80.9,259.08 L81.9,258.36 L82.9,257.63 L83.9,256.9 L84.9,256.16 L85.9,255.41 L86.9,254.66 L87.9,253.91 L88.9,253.16 L89.9,252.4 L90.9,251.65 L91.9,250.9 L92.9,250.15 L93.9,249.4 L94.9,248.66 L95.9,247.93 L96.9,247.2 L97.9,246.48 L98.9,245.77 L99.9,245.06 L100.9,244.36 L101.9,243.67 L102.9,242.98 L103.9,242.3 L104.9,241.63 L105.9,240.96 L106.9,240.3 L107.9,239.64 L108.9,239 L109.9,238.36 L110.9,237.73 L111.9,237.11 L112.9,236.5 L113.9,235.9 L114.9,235.31 L115.9,234.74 L116.9,234.18 L117.9,233.63 L118.9,233.11 L119.9,232.6 L120.9,232.11 L121.9,231.64 L122.9,231.19 L123.9,230.77 L124.9,230.36 L125.9,229.97 L126.9,229.6 L127.9,229.25 L128.9,228.92 L129.9,228.59 L130.9,228.28 L131.9,227.99 L132.9,227.7 L133.9,227.42 L134.9,227.16 L135.9,226.9 L136.9,226.65 L137.9,226.42 L138.9,226.19 L139.9,225.98 L140.9,225.77 L141.9,225.58 L142.9,225.39 L143.9,225.22 L144.9,225.06 L145.9,224.91 L146.9,224.78 L147.9,224.65 L148.9,224.54 L149.9,224.45 L150.9,224.36 L151.9,224.29 L152.9,224.23 L153.9,224.19 L154.9,224.15 L155.9,224.13 L156.9,224.13 L157.9,224.13 L158.9,224.15 L159.9,224.18 L160.9,224.23 L161.9,224.29 L162.9,224.36 L163.9,224.45 L164.9,224.55 L165.9,224.67 L166.9,224.81 L167.9,224.96 L168.9,225.12 L169.9,225.31 L170.9,225.51 L171.9,225.73 L172.9,225.96 L173.9,226.21 L174.9,226.49 L175.9,226.77 L176.9,227.08 L177.9,227.41 L178.9,227.75 L179.9,228.1 L180.9,228.47 L181.9,228.86 L182.9,229.25 L183.9,229.66 L184.9,230.07 L185.9,230.49 L186.9,230.92 L187.9,231.36 L188.9,231.8 L189.9,232.24 L190.9,232.68 L191.9,233.13 L192.9,233.58 L193.9,234.03 L194.9,234.48 L195.9,234.93 L196.9,235.38 L197.9,235.83 L198.9,236.29 L199.9,236.75 L200.9,237.21 L201.9,237.68 L202.9,238.16 L203.9,238.65 L204.9,239.16 L205.9,239.68 L206.9,240.23 L207.9,240.79 L208.9,241.38 L209.9,241.99 L210.9,242.62 L211.9,243.27 L212.9,243.94 L213.9,244.63 L214.9,245.33 L215.9,246.04 L216.9,246.77 L217.9,247.5 L218.9,248.25 L219.9,249.01 L220.9,249.78 L221.9,250.55 L222.9,251.34 L223.9,252.13 L224.9,252.93 L225.9,253.75 L226.9,254.56 L227.9,255.39 L228.9,256.22 L229.9,257.06 L230.9,257.9 L231.9,258.75 L232.9,259.6 L233.9,260.45 L234.9,261.31 L235.9,262.17 L236.9,263.03 L237.9,263.89 L238.9,264.76 L239.9,265.63 L240.9,266.5 L241.9,267.37 L242.9,268.25 L243.9,269.13 L244.9,270.01 L245.9,270.9 L246.9,271.8 L247.9,272.7 L248.9,273.61 L249.9,274.52 L250.9,275.44 L251.9,276.36 L252.9,277.28 L253.9,278.21 L254.9,279.13 L255.9,280.05 L256.9,280.96 L257.9,281.87 L258.9,282.76 L259.9,283.64 L260.9,284.51 L261.9,285.36 L262.9,286.19 L263.9,287.02 L264.9,287.82 L265.9,288.62 L266.9,289.41 L267.6,290.19" fill="none" stroke="#CF3D55" stroke-width="1.5" stroke-linejoin="round" stroke-linecap="butt"/>
<path d="M44.9,288.1 L45.9,286.88 L46.9,285.65 L47.9,284.42 L48.9,283.19 L49.9,281.96 L50.9,280.72 L51.9,279.48 L52.9,278.23 L53.9,276.97 L54.9,275.71 L55.9,274.44 L56.9,273.16 L57.9,271.87 L58.9,270.57 L59.9,269.26 L60.9,267.94 L61.9,266.61 L62.9,265.27 L63.9,263.92 L64.9,262.56 L65.9,261.2 L66.9,259.84 L67.9,258.48 L68.9,257.11 L69.9,255.75 L70.9,254.4 L71.9,253.06 L72.9,251.73 L73.9,250.42 L74.9,249.13 L75.9,247.86 L76.9,246.63 L77.9,245.42 L78.9,244.25 L79.9,243.11 L80.9,242.01 L81.9,240.95 L82.9,239.93 L83.9,238.95 L84.9,238.02 L85.9,237.12 L86.9,236.28 L87.9,235.47 L88.9,234.7 L89.9,233.98 L90.9,233.28 L91.9,232.62 L92.9,231.98 L93.9,231.36 L94.9,230.76 L95.9,230.16 L96.9,229.58 L97.9,229 L98.9,228.43 L99.9,227.87 L100.9,227.3 L101.9,226.75 L102.9,226.2 L103.9,225.66 L104.9,225.13 L105.9,224.6 L106.9,224.09 L107.9,223.59 L108.9,223.11 L109.9,222.63 L110.9,222.17 L111.9,221.73 L112.9,221.3 L113.9,220.89 L114.9,220.49 L115.9,220.12 L116.9,219.76 L117.9,219.43 L118.9,219.12 L119.9,218.83 L120.9,218.56 L121.9,218.32 L122.9,218.11 L123.9,217.91 L124.9,217.74 L125.9,217.6 L126.9,217.47 L127.9,217.36 L128.9,217.27 L129.9,217.19 L130.9,217.13 L131.9,217.08 L132.9,217.04 L133.9,217.01 L134.9,216.99 L135.9,216.97 L136.9,216.96 L137.9,216.95 L138.9,216.95 L139.9,216.95 L140.9,216.96 L141.9,216.96 L142.9,216.98 L143.9,216.99 L144.9,217.02 L145.9,217.05 L146.9,217.09 L147.9,217.14 L148.9,217.21 L149.9,217.29 L150.9,217.38 L151.9,217.49 L152.9,217.61 L153.9,217.75 L154.9,217.9 L155.9,218.07 L156.9,218.26 L157.9,218.46 L158.9,218.68 L159.9,218.9 L160.9,219.15 L161.9,219.41 L162.9,219.68 L163.9,219.97 L164.9,220.27 L165.9,220.58 L166.9,220.91 L167.9,221.26 L168.9,221.62 L169.9,221.99 L170.9,222.38 L171.9,222.78 L172.9,223.19 L173.9,223.62 L174.9,224.05 L175.9,224.5 L176.9,224.97 L177.9,225.44 L178.9,225.92 L179.9,226.41 L180.9,226.91 L181.9,227.41 L182.9,227.92 L183.9,228.44 L184.9,228.95 L185.9,229.47 L186.9,229.99 L187.9,230.51 L188.9,231.03 L189.9,231.55 L190.9,232.07 L191.9,232.59 L192.9,233.1 L193.9,233.62 L194.9,234.13 L195.9,234.65 L196.9,235.16 L197.9,235.67 L198.9,236.18 L199.9,236.69 L200.9,237.2 L201.9,237.71 L202.9,238.23 L203.9,238.75 L204.9,239.28 L205.9,239.82 L206.9,240.38 L207.9,240.95 L208.9,241.55 L209.9,242.17 L210.9,242.82 L211.9,243.49 L212.9,244.18 L213.9,244.89 L214.9,245.63 L215.9,246.37 L216.9,247.13 L217.9,247.9 L218.9,248.67 L219.9,249.45 L220.9,250.23 L221.9,251.01 L222.9,251.79 L223.9,252.57 L224.9,253.35 L225.9,254.12 L226.9,254.9 L227.9,255.67 L228.9,256.45 L229.9,257.22 L230.9,257.99 L231.9,258.75 L232.9,259.52 L233.9,260.28 L234.9,261.05 L235.9,261.81 L236.9,262.56 L237.9,263.32 L238.9,264.08 L239.9,264.83 L240.9,265.58 L241.9,266.34 L242.9,267.09 L243.9,267.84 L244.9,268.6 L245.9,269.35 L246.9,270.11 L247.9,270.87 L248.9,271.63 L249.9,272.4 L250.9,273.17 L251.9,273.94 L252.9,274.72 L253.9,275.5 L254.9,276.29 L255.9,277.08 L256.9,277.87 L257.9,278.67 L258.9,279.46 L259.9,280.27 L260.9,281.07 L261.9,281.87 L262.9,282.68 L263.9,283.49 L264.9,284.29 L265.9,285.1 L266.9,285.91 L267.6,286.74 L267.6,304.74 L266.9,303.82 L265.9,302.88 L264.9,301.93 L263.9,301 L262.9,300.06 L261.9,299.12 L260.9,298.19 L259.9,297.26 L258.9,296.33 L257.9,295.4 L256.9,294.48 L255.9,293.56 L254.9,292.65 L253.9,291.74 L252.9,290.84 L251.9,289.94 L250.9,289.04 L249.9,288.16 L248.9,287.27 L247.9,286.39 L246.9,285.51 L245.9,284.64 L244.9,283.77 L243.9,282.9 L242.9,282.03 L241.9,281.17 L240.9,280.31 L239.9,279.44 L238.9,278.58 L237.9,277.71 L236.9,276.85 L235.9,275.98 L234.9,275.12 L233.9,274.25 L232.9,273.38 L231.9,272.51 L230.9,271.64 L229.9,270.77 L228.9,269.9 L227.9,269.03 L226.9,268.15 L225.9,267.28 L224.9,266.41 L223.9,265.53 L222.9,264.66 L221.9,263.78 L220.9,262.91 L219.9,262.03 L218.9,261.16 L217.9,260.3 L216.9,259.44 L215.9,258.6 L214.9,257.76 L213.9,256.94 L212.9,256.14 L211.9,255.36 L210.9,254.61 L209.9,253.88 L208.9,253.17 L207.9,252.49 L206.9,251.84 L205.9,251.2 L204.9,250.58 L203.9,249.97 L202.9,249.37 L201.9,248.78 L200.9,248.19 L199.9,247.61 L198.9,247.02 L197.9,246.44 L196.9,245.86 L195.9,245.28 L194.9,244.69 L193.9,244.11 L192.9,243.53 L191.9,242.94 L190.9,242.36 L189.9,241.77 L188.9,241.19 L187.9,240.61 L186.9,240.03 L185.9,239.44 L184.9,238.87 L183.9,238.29 L182.9,237.72 L181.9,237.15 L180.9,236.59 L179.9,236.04 L178.9,235.49 L177.9,234.96 L176.9,234.43 L175.9,233.92 L174.9,233.42 L173.9,232.93 L172.9,232.46 L171.9,232 L170.9,231.55 L169.9,231.12 L168.9,230.7 L167.9,230.3 L166.9,229.91 L165.9,229.54 L164.9,229.19 L163.9,228.85 L162.9,228.52 L161.9,228.21 L160.9,227.92 L159.9,227.64 L158.9,227.38 L157.9,227.13 L156.9,226.9 L155.9,226.69 L154.9,226.49 L153.9,226.3 L152.9,226.14 L151.9,225.99 L150.9,225.86 L149.9,225.74 L148.9,225.64 L147.9,225.56 L146.9,225.48 L145.9,225.42 L144.9,225.38 L143.9,225.34 L142.9,225.3 L141.9,225.28 L140.9,225.26 L139.9,225.24 L138.9,225.23 L137.9,225.23 L136.9,225.23 L135.9,225.23 L134.9,225.24 L133.9,225.26 L132.9,225.29 L131.9,225.33 L130.9,225.38 L129.9,225.44 L128.9,225.52 L127.9,225.62 L126.9,225.73 L125.9,225.86 L124.9,226.02 L123.9,226.2 L122.9,226.4 L121.9,226.63 L120.9,226.89 L119.9,227.17 L118.9,227.47 L117.9,227.8 L116.9,228.15 L115.9,228.53 L114.9,228.93 L113.9,229.34 L112.9,229.78 L111.9,230.23 L110.9,230.71 L109.9,231.19 L108.9,231.7 L107.9,232.22 L106.9,232.75 L105.9,233.3 L104.9,233.86 L103.9,234.43 L102.9,235.01 L101.9,235.6 L100.9,236.2 L99.9,236.8 L98.9,237.41 L97.9,238.03 L96.9,238.66 L95.9,239.29 L94.9,239.94 L93.9,240.59 L92.9,241.27 L91.9,241.96 L90.9,242.69 L89.9,243.44 L88.9,244.23 L87.9,245.06 L86.9,245.93 L85.9,246.84 L84.9,247.8 L83.9,248.81 L82.9,249.86 L81.9,250.95 L80.9,252.09 L79.9,253.26 L78.9,254.48 L77.9,255.73 L76.9,257.02 L75.9,258.34 L74.9,259.69 L73.9,261.07 L72.9,262.47 L71.9,263.89 L70.9,265.32 L69.9,266.77 L68.9,268.23 L67.9,269.69 L66.9,271.16 L65.9,272.62 L64.9,274.08 L63.9,275.54 L62.9,277 L61.9,278.45 L60.9,279.89 L59.9,281.32 L58.9,282.75 L57.9,284.17 L56.9,285.58 L55.9,286.98 L54.9,288.37 L53.9,289.76 L52.9,291.14 L51.9,292.52 L50.9,293.89 L49.9,295.26 L48.9,296.63 L47.9,298 L46.9,299.37 L45.9,300.74 L44.9,302.1Z" fill="#E8922A" fill-opacity="0.2" stroke="none"/>
<path d="M44.9,295.1 L45.9,293.81 L46.9,292.51 L47.9,291.21 L48.9,289.91 L49.9,288.61 L50.9,287.31 L51.9,286 L52.9,284.69 L53.9,283.37 L54.9,282.04 L55.9,280.71 L56.9,279.37 L57.9,278.02 L58.9,276.66 L59.9,275.29 L60.9,273.91 L61.9,272.53 L62.9,271.13 L63.9,269.73 L64.9,268.32 L65.9,266.91 L66.9,265.5 L67.9,264.08 L68.9,262.67 L69.9,261.26 L70.9,259.86 L71.9,258.47 L72.9,257.1 L73.9,255.74 L74.9,254.41 L75.9,253.1 L76.9,251.82 L77.9,250.58 L78.9,249.36 L79.9,248.19 L80.9,247.05 L81.9,245.95 L82.9,244.89 L83.9,243.88 L84.9,242.91 L85.9,241.98 L86.9,241.1 L87.9,240.26 L88.9,239.47 L89.9,238.71 L90.9,237.98 L91.9,237.29 L92.9,236.62 L93.9,235.98 L94.9,235.35 L95.9,234.73 L96.9,234.12 L97.9,233.52 L98.9,232.92 L99.9,232.33 L100.9,231.75 L101.9,231.17 L102.9,230.6 L103.9,230.04 L104.9,229.49 L105.9,228.95 L106.9,228.42 L107.9,227.91 L108.9,227.4 L109.9,226.91 L110.9,226.44 L111.9,225.98 L112.9,225.54 L113.9,225.11 L114.9,224.71 L115.9,224.32 L116.9,223.96 L117.9,223.61 L118.9,223.29 L119.9,223 L120.9,222.72 L121.9,222.48 L122.9,222.25 L123.9,222.06 L124.9,221.88 L125.9,221.73 L126.9,221.6 L127.9,221.49 L128.9,221.4 L129.9,221.32 L130.9,221.26 L131.9,221.21 L132.9,221.17 L133.9,221.14 L134.9,221.12 L135.9,221.1 L136.9,221.09 L137.9,221.09 L138.9,221.09 L139.9,221.1 L140.9,221.11 L141.9,221.12 L142.9,221.14 L143.9,221.16 L144.9,221.2 L145.9,221.24 L146.9,221.29 L147.9,221.35 L148.9,221.43 L149.9,221.51 L150.9,221.62 L151.9,221.74 L152.9,221.87 L153.9,222.03 L154.9,222.2 L155.9,222.38 L156.9,222.58 L157.9,222.8 L158.9,223.03 L159.9,223.27 L160.9,223.53 L161.9,223.81 L162.9,224.1 L163.9,224.41 L164.9,224.73 L165.9,225.06 L166.9,225.41 L167.9,225.78 L168.9,226.16 L169.9,226.55 L170.9,226.96 L171.9,227.39 L172.9,227.82 L173.9,228.27 L174.9,228.74 L175.9,229.21 L176.9,229.7 L177.9,230.2 L178.9,230.71 L179.9,231.22 L180.9,231.75 L181.9,232.28 L182.9,232.82 L183.9,233.36 L184.9,233.91 L185.9,234.46 L186.9,235.01 L187.9,235.56 L188.9,236.11 L189.9,236.66 L190.9,237.21 L191.9,237.76 L192.9,238.31 L193.9,238.86 L194.9,239.41 L195.9,239.96 L196.9,240.51 L197.9,241.06 L198.9,241.6 L199.9,242.15 L200.9,242.7 L201.9,243.25 L202.9,243.8 L203.9,244.36 L204.9,244.93 L205.9,245.51 L206.9,246.11 L207.9,246.72 L208.9,247.36 L209.9,248.03 L210.9,248.71 L211.9,249.43 L212.9,250.16 L213.9,250.92 L214.9,251.69 L215.9,252.48 L216.9,253.29 L217.9,254.1 L218.9,254.92 L219.9,255.74 L220.9,256.57 L221.9,257.39 L222.9,258.22 L223.9,259.05 L224.9,259.88 L225.9,260.7 L226.9,261.53 L227.9,262.35 L228.9,263.17 L229.9,263.99 L230.9,264.81 L231.9,265.63 L232.9,266.45 L233.9,267.27 L234.9,268.08 L235.9,268.89 L236.9,269.71 L237.9,270.52 L238.9,271.33 L239.9,272.14 L240.9,272.94 L241.9,273.75 L242.9,274.56 L243.9,275.37 L244.9,276.18 L245.9,277 L246.9,277.81 L247.9,278.63 L248.9,279.45 L249.9,280.28 L250.9,281.11 L251.9,281.94 L252.9,282.78 L253.9,283.62 L254.9,284.47 L255.9,285.32 L256.9,286.17 L257.9,287.03 L258.9,287.9 L259.9,288.76 L260.9,289.63 L261.9,290.5 L262.9,291.37 L263.9,292.24 L264.9,293.11 L265.9,293.99 L266.9,294.86 L267.6,295.74" fill="none" stroke="#E8922A" stroke-width="1.5" stroke-linejoin="round" stroke-linecap="butt"/>
<path d="M44.9,242.58 L45.9,241.9 L46.9,241.23 L47.9,240.55 L48.9,239.88 L49.9,239.21 L50.9,238.55 L51.9,237.89 L52.9,237.25 L53.9,236.62 L54.9,236 L55.9,235.39 L56.9,234.8 L57.9,234.22 L58.9,233.66 L59.9,233.11 L60.9,232.57 L61.9,232.04 L62.9,231.52 L63.9,231.01 L64.9,230.51 L65.9,230.02 L66.9,229.53 L67.9,229.06 L68.9,228.59 L69.9,228.13 L70.9,227.68 L71.9,227.24 L72.9,226.8 L73.9,226.38 L74.9,225.98 L75.9,225.58 L76.9,225.19 L77.9,224.82 L78.9,224.47 L79.9,224.12 L80.9,223.79 L81.9,223.47 L82.9,223.16 L83.9,222.87 L84.9,222.58 L85.9,222.31 L86.9,222.04 L87.9,221.78 L88.9,221.52 L89.9,221.27 L90.9,221.02 L91.9,220.77 L92.9,220.53 L93.9,220.29 L94.9,220.05 L95.9,219.81 L96.9,219.58 L97.9,219.34 L98.9,219.11 L99.9,218.88 L100.9,218.66 L101.9,218.43 L102.9,218.21 L103.9,217.99 L104.9,217.78 L105.9,217.57 L106.9,217.36 L107.9,217.16 L108.9,216.96 L109.9,216.77 L110.9,216.59 L111.9,216.42 L112.9,216.25 L113.9,216.1 L114.9,215.95 L115.9,215.82 L116.9,215.7 L117.9,215.59 L118.9,215.49 L119.9,215.41 L120.9,215.34 L121.9,215.28 L122.9,215.24 L123.9,215.22 L124.9,215.21 L125.9,215.21 L126.9,215.24 L127.9,215.28 L128.9,215.35 L129.9,215.43 L130.9,215.54 L131.9,215.67 L132.9,215.82 L133.9,215.99 L134.9,216.19 L135.9,216.41 L136.9,216.65 L137.9,216.92 L138.9,217.21 L139.9,217.52 L140.9,217.85 L141.9,218.2 L142.9,218.56 L143.9,218.95 L144.9,219.34 L145.9,219.74 L146.9,220.15 L147.9,220.57 L148.9,220.99 L149.9,221.41 L150.9,221.83 L151.9,222.26 L152.9,222.69 L153.9,223.13 L154.9,223.58 L155.9,224.03 L156.9,224.51 L157.9,224.99 L158.9,225.5 L159.9,226.02 L160.9,226.57 L161.9,227.13 L162.9,227.7 L163.9,228.3 L164.9,228.9 L165.9,229.52 L166.9,230.15 L167.9,230.78 L168.9,231.42 L169.9,232.07 L170.9,232.72 L171.9,233.37 L172.9,234.03 L173.9,234.69 L174.9,235.35 L175.9,236.02 L176.9,236.69 L177.9,237.37 L178.9,238.05 L179.9,238.73 L180.9,239.42 L181.9,240.12 L182.9,240.82 L183.9,241.52 L184.9,242.23 L185.9,242.95 L186.9,243.67 L187.9,244.4 L188.9,245.13 L189.9,245.86 L190.9,246.6 L191.9,247.34 L192.9,248.08 L193.9,248.82 L194.9,249.56 L195.9,250.3 L196.9,251.03 L197.9,251.75 L198.9,252.46 L199.9,253.16 L200.9,253.85 L201.9,254.51 L202.9,255.16 L203.9,255.8 L204.9,256.41 L205.9,257.02 L206.9,257.62 L207.9,258.23 L208.9,258.83 L209.9,259.45 L210.9,260.08 L211.9,260.73 L212.9,261.4 L213.9,262.09 L214.9,262.79 L215.9,263.5 L216.9,264.22 L217.9,264.96 L218.9,265.69 L219.9,266.43 L220.9,267.16 L221.9,267.89 L222.9,268.62 L223.9,269.34 L224.9,270.06 L225.9,270.77 L226.9,271.47 L227.9,272.17 L228.9,272.86 L229.9,273.55 L230.9,274.23 L231.9,274.91 L232.9,275.58 L233.9,276.25 L234.9,276.92 L235.9,277.58 L236.9,278.24 L237.9,278.9 L238.9,279.55 L239.9,280.2 L240.9,280.85 L241.9,281.49 L242.9,282.13 L243.9,282.76 L244.9,283.4 L245.9,284.03 L246.9,284.65 L247.9,285.28 L248.9,285.9 L249.9,286.52 L250.9,287.13 L251.9,287.74 L252.9,288.35 L253.9,288.96 L254.9,289.57 L255.9,290.17 L256.9,290.77 L257.9,291.37 L258.9,291.96 L259.9,292.55 L260.9,293.14 L261.9,293.72 L262.9,294.3 L263.9,294.88 L264.9,295.46 L265.9,296.03 L266.9,296.6 L267.6,297.2 L267.6,325.2 L266.9,324.43 L265.9,323.63 L264.9,322.83 L263.9,322.02 L262.9,321.21 L261.9,320.41 L260.9,319.59 L259.9,318.78 L258.9,317.97 L257.9,317.15 L256.9,316.34 L255.9,315.52 L254.9,314.7 L253.9,313.88 L252.9,313.06 L251.9,312.24 L250.9,311.41 L249.9,310.59 L248.9,309.76 L247.9,308.94 L246.9,308.11 L245.9,307.28 L244.9,306.45 L243.9,305.62 L242.9,304.78 L241.9,303.95 L240.9,303.11 L239.9,302.27 L238.9,301.43 L237.9,300.59 L236.9,299.74 L235.9,298.89 L234.9,298.04 L233.9,297.19 L232.9,296.34 L231.9,295.48 L230.9,294.63 L229.9,293.77 L228.9,292.9 L227.9,292.03 L226.9,291.16 L225.9,290.29 L224.9,289.41 L223.9,288.52 L222.9,287.63 L221.9,286.74 L220.9,285.85 L219.9,284.95 L218.9,284.05 L217.9,283.16 L216.9,282.27 L215.9,281.39 L214.9,280.52 L213.9,279.66 L212.9,278.83 L211.9,278.01 L210.9,277.21 L209.9,276.43 L208.9,275.67 L207.9,274.92 L206.9,274.17 L205.9,273.43 L204.9,272.68 L203.9,271.93 L202.9,271.16 L201.9,270.37 L200.9,269.58 L199.9,268.76 L198.9,267.93 L197.9,267.09 L196.9,266.24 L195.9,265.39 L194.9,264.53 L193.9,263.67 L192.9,262.8 L191.9,261.95 L190.9,261.09 L189.9,260.24 L188.9,259.39 L187.9,258.55 L186.9,257.71 L185.9,256.88 L184.9,256.06 L183.9,255.25 L182.9,254.44 L181.9,253.64 L180.9,252.84 L179.9,252.05 L178.9,251.27 L177.9,250.5 L176.9,249.73 L175.9,248.97 L174.9,248.21 L173.9,247.46 L172.9,246.71 L171.9,245.97 L170.9,245.24 L169.9,244.51 L168.9,243.78 L167.9,243.07 L166.9,242.36 L165.9,241.66 L164.9,240.97 L163.9,240.29 L162.9,239.63 L161.9,238.99 L160.9,238.36 L159.9,237.76 L158.9,237.17 L157.9,236.61 L156.9,236.07 L155.9,235.54 L154.9,235.03 L153.9,234.53 L152.9,234.04 L151.9,233.57 L150.9,233.09 L149.9,232.63 L148.9,232.17 L147.9,231.71 L146.9,231.26 L145.9,230.81 L144.9,230.37 L143.9,229.95 L142.9,229.54 L141.9,229.15 L140.9,228.77 L139.9,228.42 L138.9,228.09 L137.9,227.78 L136.9,227.5 L135.9,227.24 L134.9,227.01 L133.9,226.8 L132.9,226.62 L131.9,226.46 L130.9,226.33 L129.9,226.22 L128.9,226.14 L127.9,226.08 L126.9,226.04 L125.9,226.02 L124.9,226.02 L123.9,226.04 L122.9,226.08 L121.9,226.14 L120.9,226.22 L119.9,226.31 L118.9,226.41 L117.9,226.54 L116.9,226.67 L115.9,226.82 L114.9,226.99 L113.9,227.17 L112.9,227.36 L111.9,227.57 L110.9,227.78 L109.9,228.01 L108.9,228.25 L107.9,228.49 L106.9,228.75 L105.9,229.01 L104.9,229.27 L103.9,229.55 L102.9,229.83 L101.9,230.11 L100.9,230.4 L99.9,230.7 L98.9,231 L97.9,231.31 L96.9,231.62 L95.9,231.93 L94.9,232.25 L93.9,232.58 L92.9,232.91 L91.9,233.24 L90.9,233.58 L89.9,233.92 L88.9,234.27 L87.9,234.63 L86.9,235 L85.9,235.37 L84.9,235.76 L83.9,236.16 L82.9,236.57 L81.9,236.99 L80.9,237.43 L79.9,237.89 L78.9,238.36 L77.9,238.84 L76.9,239.35 L75.9,239.87 L74.9,240.4 L73.9,240.95 L72.9,241.52 L71.9,242.1 L70.9,242.69 L69.9,243.29 L68.9,243.91 L67.9,244.53 L66.9,245.17 L65.9,245.82 L64.9,246.48 L63.9,247.15 L62.9,247.84 L61.9,248.53 L60.9,249.24 L59.9,249.97 L58.9,250.71 L57.9,251.46 L56.9,252.23 L55.9,253.02 L54.9,253.82 L53.9,254.65 L52.9,255.48 L51.9,256.34 L50.9,257.2 L49.9,258.08 L48.9,258.97 L47.9,259.86 L46.9,260.77 L45.9,261.67 L44.9,262.58Z" fill="#0B7A14" fill-opacity="0.2" stroke="none"/>
<path d="M44.9,252.58 L45.9,251.79 L46.9,251 L47.9,250.21 L48.9,249.42 L49.9,248.64 L50.9,247.87 L51.9,247.11 L52.9,246.37 L53.9,245.63 L54.9,244.91 L55.9,244.21 L56.9,243.52 L57.9,242.84 L58.9,242.18 L59.9,241.54 L60.9,240.91 L61.9,240.29 L62.9,239.68 L63.9,239.08 L64.9,238.5 L65.9,237.92 L66.9,237.35 L67.9,236.79 L68.9,236.25 L69.9,235.71 L70.9,235.18 L71.9,234.67 L72.9,234.16 L73.9,233.67 L74.9,233.19 L75.9,232.72 L76.9,232.27 L77.9,231.83 L78.9,231.41 L79.9,231 L80.9,230.61 L81.9,230.23 L82.9,229.87 L83.9,229.51 L84.9,229.17 L85.9,228.84 L86.9,228.52 L87.9,228.2 L88.9,227.9 L89.9,227.6 L90.9,227.3 L91.9,227.01 L92.9,226.72 L93.9,226.43 L94.9,226.15 L95.9,225.87 L96.9,225.6 L97.9,225.32 L98.9,225.05 L99.9,224.79 L100.9,224.53 L101.9,224.27 L102.9,224.02 L103.9,223.77 L104.9,223.53 L105.9,223.29 L106.9,223.05 L107.9,222.83 L108.9,222.61 L109.9,222.39 L110.9,222.19 L111.9,221.99 L112.9,221.81 L113.9,221.63 L114.9,221.47 L115.9,221.32 L116.9,221.19 L117.9,221.06 L118.9,220.95 L119.9,220.86 L120.9,220.78 L121.9,220.71 L122.9,220.66 L123.9,220.63 L124.9,220.61 L125.9,220.62 L126.9,220.64 L127.9,220.68 L128.9,220.74 L129.9,220.83 L130.9,220.93 L131.9,221.06 L132.9,221.22 L133.9,221.39 L134.9,221.6 L135.9,221.82 L136.9,222.07 L137.9,222.35 L138.9,222.65 L139.9,222.97 L140.9,223.31 L141.9,223.67 L142.9,224.05 L143.9,224.45 L144.9,224.86 L145.9,225.28 L146.9,225.7 L147.9,226.14 L148.9,226.58 L149.9,227.02 L150.9,227.46 L151.9,227.91 L152.9,228.37 L153.9,228.83 L154.9,229.3 L155.9,229.79 L156.9,230.29 L157.9,230.8 L158.9,231.34 L159.9,231.89 L160.9,232.46 L161.9,233.06 L162.9,233.67 L163.9,234.29 L164.9,234.93 L165.9,235.59 L166.9,236.25 L167.9,236.92 L168.9,237.6 L169.9,238.29 L170.9,238.98 L171.9,239.67 L172.9,240.37 L173.9,241.07 L174.9,241.78 L175.9,242.49 L176.9,243.21 L177.9,243.93 L178.9,244.66 L179.9,245.39 L180.9,246.13 L181.9,246.88 L182.9,247.63 L183.9,248.39 L184.9,249.15 L185.9,249.92 L186.9,250.69 L187.9,251.47 L188.9,252.26 L189.9,253.05 L190.9,253.84 L191.9,254.64 L192.9,255.44 L193.9,256.24 L194.9,257.04 L195.9,257.84 L196.9,258.63 L197.9,259.42 L198.9,260.2 L199.9,260.96 L200.9,261.71 L201.9,262.44 L202.9,263.16 L203.9,263.86 L204.9,264.55 L205.9,265.23 L206.9,265.9 L207.9,266.57 L208.9,267.25 L209.9,267.94 L210.9,268.65 L211.9,269.37 L212.9,270.11 L213.9,270.87 L214.9,271.65 L215.9,272.44 L216.9,273.25 L217.9,274.06 L218.9,274.87 L219.9,275.69 L220.9,276.5 L221.9,277.32 L222.9,278.13 L223.9,278.93 L224.9,279.73 L225.9,280.53 L226.9,281.32 L227.9,282.1 L228.9,282.88 L229.9,283.66 L230.9,284.43 L231.9,285.2 L232.9,285.96 L233.9,286.72 L234.9,287.48 L235.9,288.24 L236.9,288.99 L237.9,289.74 L238.9,290.49 L239.9,291.23 L240.9,291.98 L241.9,292.72 L242.9,293.45 L243.9,294.19 L244.9,294.92 L245.9,295.65 L246.9,296.38 L247.9,297.11 L248.9,297.83 L249.9,298.55 L250.9,299.27 L251.9,299.99 L252.9,300.71 L253.9,301.42 L254.9,302.13 L255.9,302.84 L256.9,303.55 L257.9,304.26 L258.9,304.96 L259.9,305.67 L260.9,306.37 L261.9,307.06 L262.9,307.76 L263.9,308.45 L264.9,309.14 L265.9,309.83 L266.9,310.52 L267.6,311.2" fill="none" stroke="#0B7A14" stroke-width="1.5" stroke-linejoin="round" stroke-linecap="butt"/>
<path d="M44.9,249.6 L47.75,254.85 L42.05,254.85Z" fill="#0B7A14"/>
<path d="M44.9,292.1 L47.75,297.35 L42.05,297.35Z" fill="#E8922A"/>
<path d="M78.5,257.9 L81.35,263.15 L75.65,263.15Z" fill="#CF3D55"/>
<path d="M115.1,246.8 L117.95,252.05 L112.25,252.05Z" fill="#C43AFA"/>
<path d="M44.9,299 L47.75,304.25 L42.05,304.25Z" fill="#7A1488"/>
<path d="M44.9,322.3 L47.75,327.55 L42.05,327.55Z" fill="#D8F20F"/>
<path d="M99.7,288.1 L102.55,293.35 L96.85,293.35Z" fill="#4682B4"/>
<line x1="273.8" y1="252.7" x2="289.5" y2="252.7" stroke="#E8922A" stroke-width="2.6"/>
<text transform="translate(293 255.6) scale(0.85 1)" font-size="9.6" text-anchor="start" fill="#141414" stroke="#141414" stroke-width="0.18">Control</text>
<line x1="273.8" y1="262.3" x2="289.5" y2="262.3" stroke="#CF3D55" stroke-width="2.6"/>
<text transform="translate(293 265.2) scale(0.85 1)" font-size="9.6" text-anchor="start" fill="#141414" stroke="#141414" stroke-width="0.18">Default</text>
<line x1="273.8" y1="271.9" x2="289.5" y2="271.9" stroke="#0B7A14" stroke-width="2.6"/>
<text transform="translate(293 274.8) scale(0.85 1)" font-size="9.6" text-anchor="start" fill="#141414" stroke="#141414" stroke-width="0.18">DorsAttn</text>
<line x1="273.8" y1="281.4" x2="289.5" y2="281.4" stroke="#D8F20F" stroke-width="2.6"/>
<text transform="translate(293 284.3) scale(0.85 1)" font-size="9.6" text-anchor="start" fill="#141414" stroke="#141414" stroke-width="0.18">Limbic</text>
<line x1="273.8" y1="291" x2="289.5" y2="291" stroke="#C43AFA" stroke-width="2.6"/>
<text transform="translate(293 293.9) scale(0.85 1)" font-size="9.6" text-anchor="start" fill="#141414" stroke="#141414" stroke-width="0.18">SalVentAttn</text>
<line x1="273.8" y1="300.4" x2="289.5" y2="300.4" stroke="#4682B4" stroke-width="2.6"/>
<text transform="translate(293 303.3) scale(0.85 1)" font-size="9.6" text-anchor="start" fill="#141414" stroke="#141414" stroke-width="0.18">SomMot</text>
<line x1="273.8" y1="310" x2="289.5" y2="310" stroke="#7A1488" stroke-width="2.6"/>
<text transform="translate(293 312.9) scale(0.85 1)" font-size="9.6" text-anchor="start" fill="#141414" stroke="#141414" stroke-width="0.18">Visual</text>
<text x="409.2" y="199.6" font-size="10.5" text-anchor="start" font-weight="bold" fill="#000">c</text>
<line x1="471.3" y1="199.6" x2="471.3" y2="369.4" stroke="#7a7a7a" stroke-width="0.8"/>
<line x1="471.3" y1="369.4" x2="639.2" y2="369.4" stroke="#7a7a7a" stroke-width="0.8"/>
<line x1="475.2" y1="369.4" x2="475.2" y2="372.8" stroke="#9a9a9a" stroke-width="0.8"/>
<text transform="translate(475.2 382.7) scale(0.85 1)" font-size="9" text-anchor="middle" fill="#141414" stroke="#141414" stroke-width="0.18">0</text>
<line x1="506.3" y1="369.4" x2="506.3" y2="372.8" stroke="#9a9a9a" stroke-width="0.8"/>
<text transform="translate(506.3 382.7) scale(0.85 1)" font-size="9" text-anchor="middle" fill="#141414" stroke="#141414" stroke-width="0.18">10</text>
<line x1="537.4" y1="369.4" x2="537.4" y2="372.8" stroke="#9a9a9a" stroke-width="0.8"/>
<text transform="translate(537.4 382.7) scale(0.85 1)" font-size="9" text-anchor="middle" fill="#141414" stroke="#141414" stroke-width="0.18">20</text>
<line x1="568.5" y1="369.4" x2="568.5" y2="372.8" stroke="#9a9a9a" stroke-width="0.8"/>
<text transform="translate(568.5 382.7) scale(0.85 1)" font-size="9" text-anchor="middle" fill="#141414" stroke="#141414" stroke-width="0.18">30</text>
<line x1="599.6" y1="369.4" x2="599.6" y2="372.8" stroke="#9a9a9a" stroke-width="0.8"/>
<text transform="translate(599.6 382.7) scale(0.85 1)" font-size="9" text-anchor="middle" fill="#141414" stroke="#141414" stroke-width="0.18">40</text>
<line x1="630.7" y1="369.4" x2="630.7" y2="372.8" stroke="#9a9a9a" stroke-width="0.8"/>
<text transform="translate(630.7 382.7) scale(0.85 1)" font-size="9" text-anchor="middle" fill="#141414" stroke="#141414" stroke-width="0.18">50</text>
<text transform="translate(556 396) scale(0.85 1)" font-size="9" text-anchor="middle" fill="#141414" stroke="#141414" stroke-width="0.18">Age (years)</text>
<line x1="467.9" y1="215.9" x2="471.3" y2="215.9" stroke="#9a9a9a" stroke-width="0.8"/>
<text transform="translate(464.6 218.8) scale(0.85 1)" font-size="9.6" text-anchor="end" fill="#141414" stroke="#141414" stroke-width="0.18">Visual</text>
<line x1="467.9" y1="239.4" x2="471.3" y2="239.4" stroke="#9a9a9a" stroke-width="0.8"/>
<text transform="translate(464.6 242.3) scale(0.85 1)" font-size="9.6" text-anchor="end" fill="#141414" stroke="#141414" stroke-width="0.18">SomMot</text>
<line x1="467.9" y1="262.7" x2="471.3" y2="262.7" stroke="#9a9a9a" stroke-width="0.8"/>
<text transform="translate(464.6 265.6) scale(0.85 1)" font-size="9.6" text-anchor="end" fill="#141414" stroke="#141414" stroke-width="0.18">SalVentAttn</text>
<line x1="467.9" y1="286.1" x2="471.3" y2="286.1" stroke="#9a9a9a" stroke-width="0.8"/>
<text transform="translate(464.6 289) scale(0.85 1)" font-size="9.6" text-anchor="end" fill="#141414" stroke="#141414" stroke-width="0.18">Limbic</text>
<line x1="467.9" y1="309.8" x2="471.3" y2="309.8" stroke="#9a9a9a" stroke-width="0.8"/>
<text transform="translate(464.6 312.7) scale(0.85 1)" font-size="9.6" text-anchor="end" fill="#141414" stroke="#141414" stroke-width="0.18">DorsAttn</text>
<line x1="467.9" y1="333.6" x2="471.3" y2="333.6" stroke="#9a9a9a" stroke-width="0.8"/>
<text transform="translate(464.6 336.5) scale(0.85 1)" font-size="9.6" text-anchor="end" fill="#141414" stroke="#141414" stroke-width="0.18">Default</text>
<line x1="467.9" y1="357.3" x2="471.3" y2="357.3" stroke="#9a9a9a" stroke-width="0.8"/>
<text transform="translate(464.6 360.2) scale(0.85 1)" font-size="9.6" text-anchor="end" fill="#141414" stroke="#141414" stroke-width="0.18">Control</text>
<text transform="translate(416.5 286.5) rotate(-90) scale(0.85 1)" font-size="9" text-anchor="middle" fill="#141414" stroke="#141414" stroke-width="0.18">Network</text>
<line x1="485.3" y1="208.6" x2="518.9" y2="208.6" stroke="#0a0a0a" stroke-width="1.3"/>
<line x1="485.3" y1="207.1" x2="485.3" y2="210.1" stroke="#0a0a0a" stroke-width="1"/>
<line x1="518.9" y1="207.1" x2="518.9" y2="210.1" stroke="#0a0a0a" stroke-width="1"/>
<circle cx="488.5" cy="208.6" r="1.6" fill="#0a0a0a"/>
<line x1="507" y1="213.5" x2="518.4" y2="213.5" stroke="#F01010" stroke-width="1.3"/>
<line x1="507" y1="212" x2="507" y2="215" stroke="#F01010" stroke-width="1"/>
<line x1="518.4" y1="212" x2="518.4" y2="215" stroke="#F01010" stroke-width="1"/>
<circle cx="512.5" cy="213.5" r="1.6" fill="#F01010"/>
<line x1="494.4" y1="218.1" x2="501.4" y2="218.1" stroke="#2A8C2A" stroke-width="1.3"/>
<line x1="494.4" y1="216.6" x2="494.4" y2="219.6" stroke="#2A8C2A" stroke-width="1"/>
<line x1="501.4" y1="216.6" x2="501.4" y2="219.6" stroke="#2A8C2A" stroke-width="1"/>
<circle cx="497.9" cy="218.1" r="1.6" fill="#2A8C2A"/>
<line x1="500.5" y1="222.8" x2="513.4" y2="222.8" stroke="#C4C4C4" stroke-width="1.3"/>
<line x1="500.5" y1="221.3" x2="500.5" y2="224.3" stroke="#C4C4C4" stroke-width="1"/>
<line x1="513.4" y1="221.3" x2="513.4" y2="224.3" stroke="#C4C4C4" stroke-width="1"/>
<circle cx="506.2" cy="222.8" r="1.6" fill="#C4C4C4"/>
<line x1="475.4" y1="232.3" x2="495.6" y2="232.3" stroke="#0a0a0a" stroke-width="1.3"/>
<line x1="475.4" y1="230.8" x2="475.4" y2="233.8" stroke="#0a0a0a" stroke-width="1"/>
<line x1="495.6" y1="230.8" x2="495.6" y2="233.8" stroke="#0a0a0a" stroke-width="1"/>
<circle cx="475.4" cy="232.3" r="1.6" fill="#0a0a0a"/>
<line x1="536.5" y1="237" x2="561.4" y2="237" stroke="#F01010" stroke-width="1.3"/>
<line x1="536.5" y1="235.5" x2="536.5" y2="238.5" stroke="#F01010" stroke-width="1"/>
<line x1="561.4" y1="235.5" x2="561.4" y2="238.5" stroke="#F01010" stroke-width="1"/>
<circle cx="545.6" cy="237" r="1.6" fill="#F01010"/>
<line x1="475.3" y1="241.6" x2="504.8" y2="241.6" stroke="#2A8C2A" stroke-width="1.3"/>
<line x1="475.3" y1="240.1" x2="475.3" y2="243.1" stroke="#2A8C2A" stroke-width="1"/>
<line x1="504.8" y1="240.1" x2="504.8" y2="243.1" stroke="#2A8C2A" stroke-width="1"/>
<circle cx="498.5" cy="241.6" r="1.6" fill="#2A8C2A"/>
<line x1="613" y1="246.2" x2="628.8" y2="246.2" stroke="#C4C4C4" stroke-width="1.3"/>
<line x1="613" y1="244.7" x2="613" y2="247.7" stroke="#C4C4C4" stroke-width="1"/>
<line x1="628.8" y1="244.7" x2="628.8" y2="247.7" stroke="#C4C4C4" stroke-width="1"/>
<circle cx="620.5" cy="246.2" r="1.6" fill="#C4C4C4"/>
<line x1="496.5" y1="255.6" x2="535.2" y2="255.6" stroke="#0a0a0a" stroke-width="1.3"/>
<line x1="496.5" y1="254.1" x2="496.5" y2="257.1" stroke="#0a0a0a" stroke-width="1"/>
<line x1="535.2" y1="254.1" x2="535.2" y2="257.1" stroke="#0a0a0a" stroke-width="1"/>
<circle cx="523.6" cy="255.6" r="1.6" fill="#0a0a0a"/>
<line x1="586" y1="260.5" x2="609.3" y2="260.5" stroke="#F01010" stroke-width="1.3"/>
<line x1="586" y1="259" x2="586" y2="262" stroke="#F01010" stroke-width="1"/>
<line x1="609.3" y1="259" x2="609.3" y2="262" stroke="#F01010" stroke-width="1"/>
<circle cx="599.7" cy="260.5" r="1.6" fill="#F01010"/>
<line x1="490.2" y1="265.3" x2="498.5" y2="265.3" stroke="#2A8C2A" stroke-width="1.3"/>
<line x1="490.2" y1="263.8" x2="490.2" y2="266.8" stroke="#2A8C2A" stroke-width="1"/>
<line x1="498.5" y1="263.8" x2="498.5" y2="266.8" stroke="#2A8C2A" stroke-width="1"/>
<circle cx="494.6" cy="265.3" r="1.6" fill="#2A8C2A"/>
<line x1="549.8" y1="270" x2="579.7" y2="270" stroke="#C4C4C4" stroke-width="1.3"/>
<line x1="549.8" y1="268.5" x2="549.8" y2="271.5" stroke="#C4C4C4" stroke-width="1"/>
<line x1="579.7" y1="268.5" x2="579.7" y2="271.5" stroke="#C4C4C4" stroke-width="1"/>
<circle cx="563.5" cy="270" r="1.6" fill="#C4C4C4"/>
<line x1="500.7" y1="279.5" x2="513.2" y2="279.5" stroke="#0a0a0a" stroke-width="1.3"/>
<line x1="500.7" y1="278" x2="500.7" y2="281" stroke="#0a0a0a" stroke-width="1"/>
<line x1="513.2" y1="278" x2="513.2" y2="281" stroke="#0a0a0a" stroke-width="1"/>
<circle cx="505.3" cy="279.5" r="1.6" fill="#0a0a0a"/>
<line x1="475.4" y1="284.3" x2="487.4" y2="284.3" stroke="#F01010" stroke-width="1.3"/>
<line x1="475.4" y1="282.8" x2="475.4" y2="285.8" stroke="#F01010" stroke-width="1"/>
<line x1="487.4" y1="282.8" x2="487.4" y2="285.8" stroke="#F01010" stroke-width="1"/>
<circle cx="475.4" cy="284.3" r="1.6" fill="#F01010"/>
<line x1="501" y1="289" x2="505.4" y2="289" stroke="#2A8C2A" stroke-width="1.3"/>
<line x1="501" y1="287.5" x2="501" y2="290.5" stroke="#2A8C2A" stroke-width="1"/>
<line x1="505.4" y1="287.5" x2="505.4" y2="290.5" stroke="#2A8C2A" stroke-width="1"/>
<circle cx="503.2" cy="289" r="1.6" fill="#2A8C2A"/>
<line x1="507" y1="303.3" x2="524.5" y2="303.3" stroke="#0a0a0a" stroke-width="1.3"/>
<line x1="507" y1="301.8" x2="507" y2="304.8" stroke="#0a0a0a" stroke-width="1"/>
<line x1="524.5" y1="301.8" x2="524.5" y2="304.8" stroke="#0a0a0a" stroke-width="1"/>
<circle cx="518" cy="303.3" r="1.6" fill="#0a0a0a"/>
<line x1="519.6" y1="307.9" x2="536.2" y2="307.9" stroke="#F01010" stroke-width="1.3"/>
<line x1="519.6" y1="306.4" x2="519.6" y2="309.4" stroke="#F01010" stroke-width="1"/>
<line x1="536.2" y1="306.4" x2="536.2" y2="309.4" stroke="#F01010" stroke-width="1"/>
<circle cx="528" cy="307.9" r="1.6" fill="#F01010"/>
<line x1="496.9" y1="312.7" x2="502.8" y2="312.7" stroke="#2A8C2A" stroke-width="1.3"/>
<line x1="496.9" y1="311.2" x2="496.9" y2="314.2" stroke="#2A8C2A" stroke-width="1"/>
<line x1="502.8" y1="311.2" x2="502.8" y2="314.2" stroke="#2A8C2A" stroke-width="1"/>
<circle cx="500" cy="312.7" r="1.6" fill="#2A8C2A"/>
<line x1="501.6" y1="317.6" x2="533.1" y2="317.6" stroke="#C4C4C4" stroke-width="1.3"/>
<line x1="501.6" y1="316.1" x2="501.6" y2="319.1" stroke="#C4C4C4" stroke-width="1"/>
<line x1="533.1" y1="316.1" x2="533.1" y2="319.1" stroke="#C4C4C4" stroke-width="1"/>
<circle cx="521" cy="317.6" r="1.6" fill="#C4C4C4"/>
<line x1="546.5" y1="326.6" x2="575.6" y2="326.6" stroke="#0a0a0a" stroke-width="1.3"/>
<line x1="546.5" y1="325.1" x2="546.5" y2="328.1" stroke="#0a0a0a" stroke-width="1"/>
<line x1="575.6" y1="325.1" x2="575.6" y2="328.1" stroke="#0a0a0a" stroke-width="1"/>
<circle cx="560.2" cy="326.6" r="1.6" fill="#0a0a0a"/>
<line x1="519.6" y1="331.6" x2="533.6" y2="331.6" stroke="#F01010" stroke-width="1.3"/>
<line x1="519.6" y1="330.1" x2="519.6" y2="333.1" stroke="#F01010" stroke-width="1"/>
<line x1="533.6" y1="330.1" x2="533.6" y2="333.1" stroke="#F01010" stroke-width="1"/>
<circle cx="527.3" cy="331.6" r="1.6" fill="#F01010"/>
<line x1="499.6" y1="336.3" x2="505.6" y2="336.3" stroke="#2A8C2A" stroke-width="1.3"/>
<line x1="499.6" y1="334.8" x2="499.6" y2="337.8" stroke="#2A8C2A" stroke-width="1"/>
<line x1="505.6" y1="334.8" x2="505.6" y2="337.8" stroke="#2A8C2A" stroke-width="1"/>
<circle cx="502.8" cy="336.3" r="1.6" fill="#2A8C2A"/>
<line x1="600.5" y1="340.7" x2="632.2" y2="340.7" stroke="#C4C4C4" stroke-width="1.3"/>
<line x1="600.5" y1="339.2" x2="600.5" y2="342.2" stroke="#C4C4C4" stroke-width="1"/>
<line x1="632.2" y1="339.2" x2="632.2" y2="342.2" stroke="#C4C4C4" stroke-width="1"/>
<circle cx="615.1" cy="340.7" r="1.6" fill="#C4C4C4"/>
<line x1="508.6" y1="350.3" x2="543" y2="350.3" stroke="#0a0a0a" stroke-width="1.3"/>
<line x1="508.6" y1="348.8" x2="508.6" y2="351.8" stroke="#0a0a0a" stroke-width="1"/>
<line x1="543" y1="348.8" x2="543" y2="351.8" stroke="#0a0a0a" stroke-width="1"/>
<circle cx="530.3" cy="350.3" r="1.6" fill="#0a0a0a"/>
<line x1="536.7" y1="355.4" x2="550.7" y2="355.4" stroke="#F01010" stroke-width="1.3"/>
<line x1="536.7" y1="353.9" x2="536.7" y2="356.9" stroke="#F01010" stroke-width="1"/>
<line x1="550.7" y1="353.9" x2="550.7" y2="356.9" stroke="#F01010" stroke-width="1"/>
<circle cx="543" cy="355.4" r="1.6" fill="#F01010"/>
<line x1="475.2" y1="359.6" x2="500.4" y2="359.6" stroke="#2A8C2A" stroke-width="1.3"/>
<line x1="475.2" y1="358.1" x2="475.2" y2="361.1" stroke="#2A8C2A" stroke-width="1"/>
<line x1="500.4" y1="358.1" x2="500.4" y2="361.1" stroke="#2A8C2A" stroke-width="1"/>
<circle cx="491.6" cy="359.6" r="1.6" fill="#2A8C2A"/>
<line x1="523.3" y1="364.5" x2="533.6" y2="364.5" stroke="#C4C4C4" stroke-width="1.3"/>
<line x1="523.3" y1="363" x2="523.3" y2="366" stroke="#C4C4C4" stroke-width="1"/>
<line x1="533.6" y1="363" x2="533.6" y2="366" stroke="#C4C4C4" stroke-width="1"/>
<circle cx="529.2" cy="364.5" r="1.6" fill="#C4C4C4"/>
<text transform="translate(637.6 274.3) scale(0.85 1)" font-size="9.6" text-anchor="start" fill="#141414" stroke="#141414" stroke-width="0.18">Metric</text>
<line x1="637.4" y1="280.4" x2="644" y2="280.4" stroke="#0a0a0a" stroke-width="1.3"/>
<circle cx="640.7" cy="280.4" r="1.6" fill="#0a0a0a"/>
<text transform="translate(647.6 283.3) scale(0.85 1)" font-size="9.6" text-anchor="start" fill="#141414" stroke="#141414" stroke-width="0.18">Dispersion</text>
<line x1="637.4" y1="288.6" x2="644" y2="288.6" stroke="#F01010" stroke-width="1.3"/>
<circle cx="640.7" cy="288.6" r="1.6" fill="#F01010"/>
<text transform="translate(647.6 291.5) scale(0.85 1)" font-size="9.6" text-anchor="start" fill="#141414" stroke="#141414" stroke-width="0.18">SA</text>
<line x1="637.4" y1="296.6" x2="644" y2="296.6" stroke="#2A8C2A" stroke-width="1.3"/>
<circle cx="640.7" cy="296.6" r="1.6" fill="#2A8C2A"/>
<text transform="translate(647.6 299.5) scale(0.85 1)" font-size="9.6" text-anchor="start" fill="#141414" stroke="#141414" stroke-width="0.18">VS</text>
<line x1="637.4" y1="304.7" x2="644" y2="304.7" stroke="#C4C4C4" stroke-width="1.3"/>
<circle cx="640.7" cy="304.7" r="1.6" fill="#C4C4C4"/>
<text transform="translate(647.6 307.6) scale(0.85 1)" font-size="9.6" text-anchor="start" fill="#141414" stroke="#141414" stroke-width="0.18">MR</text>
<defs><clipPath id="bt"><path d="M45,200 L49.21,189.88 L54.26,179.63 L60,169.38 L66.3,159.26 L73.01,149.42 L80,140 L87.23,130.97 L94.81,122.22 L102.81,113.75 L111.3,105.56 L120.34,97.64 L130,90 L140.39,82.47 L151.48,75 L163.12,67.81 L175.19,61.11 L187.52,55.1 L200,50 L212.87,45.88 L226.3,42.59 L240,40 L253.7,37.96 L267.13,36.34 L280,35 L292.13,33.96 L303.7,33.33 L315,33.12 L326.3,33.33 L337.87,33.96 L350,35 L362.64,36.4 L375.56,38.15 L388.75,40.31 L402.22,42.96 L415.97,46.17 L430,50 L444.65,54.56 L460,59.81 L475.62,65.62 L491.11,71.85 L506.04,78.36 L520,85 L533.06,91.75 L545.56,98.7 L557.5,105.94 L568.89,113.52 L579.72,121.52 L590,130 L599.9,139.25 L609.44,149.26 L618.44,159.69 L626.67,170.19 L633.92,180.41 L640,190 L644.87,199.03 L648.7,207.78 L651.56,216.25 L653.52,224.44 L654.64,232.36 L655,240 L654.53,247.36 L653.15,254.44 L650.94,261.25 L647.96,267.78 L644.29,274.03 L640,280 L635.01,285.46 L629.26,290.37 L622.81,295 L615.74,299.63 L608.11,304.54 L600,310 L590.93,315.97 L580.74,322.22 L570,328.75 L559.26,335.56 L549.07,342.64 L540,350 L532.06,358.04 L524.81,366.85 L518.12,375.94 L511.85,384.81 L505.86,393 L500,400 L495.12,406.02 L491.48,411.48 L488.12,416.25 L484.07,420.19 L478.36,423.15 L470,425 L458.36,425.42 L444.07,424.44 L428.12,422.5 L411.48,420 L395.12,417.36 L380,415 L366.32,412.79 L353.33,410.37 L340.62,407.81 L327.78,405.19 L314.38,402.56 L300,400 L284.26,397.5 L267.41,395 L250,392.5 L232.59,390 L215.74,387.5 L200,385 L185.28,382.67 L171.11,380.56 L157.5,378.44 L144.44,376.11 L131.94,373.37 L120,370 L108.44,366.45 L97.22,362.96 L86.56,359.06 L76.67,354.26 L67.74,348.07 L60,340 L53.4,329.33 L47.78,316.3 L43.12,301.88 L39.44,287.04 L36.74,272.75 L35,260 L34.35,248.84 L34.81,238.52 L36.25,228.75 L38.52,219.26 L41.48,209.77 L45,200Z"/></clipPath><clipPath id="bb"><path d="M60,180 L65.28,171.55 L71.11,162.96 L77.5,154.38 L84.44,145.93 L91.94,137.75 L100,130 L108.61,122.7 L117.78,115.74 L127.5,109.06 L137.78,102.59 L148.61,96.26 L160,90 L172.06,83.65 L184.81,77.22 L198.12,70.94 L211.85,65 L225.86,59.62 L240,55 L254.42,51.11 L269.26,47.78 L284.38,45 L299.63,42.78 L314.88,41.11 L330,40 L345.12,39.5 L360.37,39.63 L375.62,40.31 L390.74,41.48 L405.58,43.07 L420,45 L434.03,47.29 L447.78,50 L461.25,53.12 L474.44,56.67 L487.36,60.63 L500,65 L512.48,69.68 L524.81,74.63 L536.88,80 L548.52,85.93 L559.61,92.55 L570,100 L579.78,108.44 L589.07,117.78 L597.81,127.81 L605.93,138.33 L613.34,149.13 L620,160 L625.84,171.09 L630.93,182.59 L635.31,194.38 L639.07,206.3 L642.28,218.22 L645,230 L647.28,241.78 L649.07,253.7 L650.31,265.62 L650.93,277.41 L650.84,288.91 L650,300 L648.46,310.93 L646.3,321.85 L643.44,332.5 L639.81,342.59 L635.36,351.85 L630,360 L623.75,366.85 L616.67,372.59 L608.75,377.5 L600,381.85 L590.42,385.93 L580,390 L568.63,394.03 L556.3,397.78 L543.12,401.25 L529.26,404.44 L514.84,407.36 L500,410 L484.49,412.25 L468.15,414.07 L451.25,415.62 L434.07,417.04 L416.9,418.45 L400,420 L383.33,421.67 L366.67,423.33 L350,425 L333.33,426.67 L316.67,428.33 L300,430 L282.52,432.01 L264.07,434.44 L245.62,436.88 L228.15,438.89 L212.62,440.07 L200,440 L190.72,438.63 L184.07,436.3 L179.38,433.12 L175.93,429.26 L173.03,424.84 L170,420 L167.52,414.61 L166.3,408.52 L165.62,401.88 L164.81,394.81 L163.17,387.48 L160,380 L155.19,372.13 L149.26,363.7 L142.5,355 L135.19,346.3 L127.59,337.87 L120,330 L111.96,322.64 L103.15,315.56 L94.06,308.75 L85.19,302.22 L77,295.97 L70,290 L64.16,284.42 L59.07,279.26 L54.69,274.38 L50.93,269.63 L47.72,264.88 L45,260 L42.72,255.23 L40.93,250.74 L39.69,246.25 L39.07,241.48 L39.16,236.16 L40,230 L41.66,222.82 L44.07,214.81 L47.19,206.25 L50.93,197.41 L55.22,188.56 L60,180Z"/></clipPath><radialGradient id="shd" cx="0.45" cy="0.35" r="0.65"><stop offset="0.6" stop-color="#000" stop-opacity="0"/><stop offset="1" stop-color="#000" stop-opacity="0.28"/></radialGradient></defs>
<g transform="translate(334 238) scale(0.09346)"><g clip-path="url(#bt)">
<path d="M0,0 L700,0 L700,460 L0,460Z" fill="#E5405E" fill-opacity="1.0"/>
<path d="M0,180 L45,185 L80,230 L150,280 L210,300 L240,360 L270,420 L0,420Z" fill="#A515AA" fill-opacity="1.0"/>
<path d="M150,90 L190,60 L210,90 L270,95 L310,120 L355,100 L350,40 L430,55 L440,75 L500,95 L505,160 L440,170 L330,150 L240,160 L170,140Z" fill="#EA3AD6" fill-opacity="1.0"/>
<path d="M190,55 L260,40 L350,40 L355,100 L310,120 L270,95 L210,90Z" fill="#3C9AC6" fill-opacity="1.0"/>
<path d="M100,100 L150,60 L185,55 L165,95 L125,115Z" fill="#189A1E" fill-opacity="1.0"/>
<path d="M430,55 L480,65 L512,100 L505,130 L470,110 L440,80Z" fill="#E8A015" fill-opacity="1.0"/>
<path d="M250,175 L300,160 L360,145 L420,155 L445,178 L380,188 L300,192 L255,208Z" fill="#E8A015" fill-opacity="1.0"/>
<path d="M445,330 L520,305 L600,295 L650,245 L700,260 L700,320 L600,330 L540,350 L505,395 L470,400Z" fill="#CFC31A" fill-opacity="1.0"/>
<path d="M280,395 L420,405 L490,398 L490,440 L280,440Z" fill="#CFC31A" fill-opacity="1.0"/>
<path d="M210,240 L240,200 L290,185 L360,175 L420,180 L480,195 L530,215 L535,250 L490,280 L470,310 L455,345 L500,380 L440,410 L340,400 L270,380 L240,330 L215,290Z" fill="#000" fill-opacity="1.0"/>
<path d="M0,0 L700,0 L700,460 L0,460Z" fill="url(#shd)" fill-opacity="1.0"/>
</g></g>
<g transform="translate(334 280) scale(0.09346)"><g clip-path="url(#bb)">
<path d="M0,0 L700,0 L700,470 L0,470Z" fill="#E5405E" fill-opacity="1.0"/>
<path d="M0,230 L30,150 L100,120 L160,100 L180,120 L240,135 L250,160 L200,190 L190,220 L140,230 L100,260 L60,275 L0,280Z" fill="#E8A015" fill-opacity="1.0"/>
<path d="M240,40 L335,35 L340,80 L300,120 L260,150 L250,195 L195,198 L195,170 L240,140 L300,110 L290,80Z" fill="#189A1E" fill-opacity="1.0"/>
<path d="M330,30 L430,35 L510,60 L480,100 L420,120 L380,160 L340,200 L300,240 L250,250 L240,230 L270,170 L320,110 L342,70Z" fill="#3C9AC6" fill-opacity="1.0"/>
<path d="M400,140 L480,95 L560,85 L620,130 L640,175 L580,182 L520,162 L460,160 L420,168Z" fill="#189A1E" fill-opacity="1.0"/>
<path d="M460,165 L520,165 L580,182 L640,185 L650,215 L580,202 L500,192Z" fill="#E8A015" fill-opacity="1.0"/>
<path d="M350,210 L400,185 L470,190 L520,200 L500,250 L450,262 L400,242Z" fill="#EA3AD6" fill-opacity="1.0"/>
<path d="M250,250 L300,240 L400,235 L470,258 L450,300 L400,320 L330,332 L250,322 L180,312 L170,282Z" fill="#2E7FA6" fill-opacity="1.0"/>
<path d="M60,260 L140,232 L200,200 L240,230 L250,262 L180,292 L160,330 L220,310 L300,300 L320,340 L250,372 L180,372 L120,332 L80,292Z" fill="#EA3AD6" fill-opacity="1.0"/>
<path d="M170,292 L250,276 L300,300 L230,322 L170,322Z" fill="#3C9AC6" fill-opacity="1.0"/>
<path d="M420,340 L500,300 L540,280 L550,322 L480,362 L420,382Z" fill="#EA3AD6" fill-opacity="1.0"/>
<path d="M450,382 L520,330 L570,300 L605,342 L560,382 L500,402Z" fill="#189A1E" fill-opacity="1.0"/>
<path d="M560,350 L620,300 L700,290 L700,400 L590,392Z" fill="#A515AA" fill-opacity="1.0"/>
<path d="M150,440 L260,430 L260,480 L150,480Z" fill="#CFC31A" fill-opacity="1.0"/>
<path d="M0,0 L700,0 L700,470 L0,470Z" fill="url(#shd)" fill-opacity="1.0"/>
</g></g>
<text x="0.2" y="408.1" font-size="10.5" text-anchor="start" font-weight="bold" fill="#000">d</text>
<line x1="1" y1="474.7" x2="14" y2="474.7" stroke="#22B022" stroke-width="1.8"/>
<line x1="14" y1="474.7" x2="27.8" y2="474.7" stroke="#1010F0" stroke-width="1.8"/>
<line x1="14.1" y1="462.5" x2="14.1" y2="486.8" stroke="#F01010" stroke-width="1.6"/>
<circle cx="14.1" cy="474.7" r="3.4" fill="#808080"/>
<line x1="0" y1="583.2" x2="27" y2="583.2" stroke="#808080" stroke-width="1.8"/>
<line x1="13.9" y1="569.1" x2="13.9" y2="596.9" stroke="#F01010" stroke-width="1.6"/>
<circle cx="14.8" cy="582.5" r="4.3" fill="#20B040"/>
<circle cx="13.0" cy="583.8" r="4.0" fill="#1010F0"/>
<g filter="url(#dotR)"><g transform="translate(40 420) scale(0.16059)">
<path d="M200,60 L270,60 L350,85 L400,160 L470,265 L520,355 L560,450 L540,480 L470,430 L380,370 L300,340 L230,335 L150,320 L135,260 L160,140Z" fill="#000" fill-opacity="0.36"/>
</g></g>
<g filter="url(#dotR)"><g transform="translate(40 420) scale(0.16059)">
<path d="M200,70 L265,68 L338,90 L389,167 L452,269 L500,358 L535,440 L515,455 L470,415 L400,368 L338,342 L274,342 L223,318 L160,294 L147,230 L166,141Z" fill="#000" fill-opacity="0.96"/>
</g></g>
<g filter="url(#dotM)"><g transform="translate(40 420) scale(0.16059)">
<path d="M145,200 L210,190 L230,320 L140,320Z" fill="#000" fill-opacity="0.42"/>
</g></g>
<g filter="url(#dotY)"><g transform="translate(40 420) scale(0.16059)">
<path d="M250,75 L272,70 L282,150 L292,250 L298,340 L272,352 L260,300 L252,200 L246,120Z" fill="#000" fill-opacity="0.72"/>
</g></g>
<g filter="url(#dotY)"><g transform="translate(40 420) scale(0.16059)">
<path d="M250,290 L300,280 L310,340 L270,360 L245,340Z" fill="#000" fill-opacity="0.84"/>
</g></g>
<g filter="url(#dotM)"><g transform="translate(40 420) scale(0.16059)">
<path d="M150,290 L230,320 L240,360 L200,440 L120,470 L110,440 L130,370Z" fill="#000" fill-opacity="0.97"/>
</g></g>
<g filter="url(#dotB)"><g transform="translate(40 420) scale(0.16059)">
<path d="M40,580 L60,510 L120,470 L200,440 L240,360 L260,380 L230,470 L220,530 L180,590 L150,600 L100,580Z" fill="#000" fill-opacity="0.97"/>
</g></g>
<g filter="url(#dotG)"><g transform="translate(40 420) scale(0.16059)">
<path d="M240,350 L300,340 L360,380 L420,450 L440,510 L380,520 L300,530 L230,560 L220,500 L250,420Z" fill="#000" fill-opacity="0.6"/>
</g></g>
<g filter="url(#dotY)"><g transform="translate(40 420) scale(0.16059)">
<path d="M240,350 L300,340 L360,380 L400,440 L300,480 L240,450Z" fill="#000" fill-opacity="0.18"/>
</g></g>
<g filter="url(#dotM)"><g transform="translate(40 420) scale(0.16059)">
<path d="M240,350 L300,340 L360,380 L420,450 L440,510 L380,520 L300,530 L230,560 L220,500 L250,420Z" fill="#000" fill-opacity="0.18"/>
</g></g>
<g filter="url(#dotP)"><g transform="translate(40 420) scale(0.16059)">
<path d="M300,330 L360,340 L430,380 L480,430 L540,500 L600,540 L660,560 L665,600 L600,600 L520,570 L440,510 L400,450 L340,390Z" fill="#000" fill-opacity="0.97"/>
</g></g>
<g filter="url(#dotB)"><g transform="translate(40 420) scale(0.16059)">
<path d="M100,580 L230,560 L240,610 L150,610Z" fill="#000" fill-opacity="0.42"/>
</g></g>
<g filter="url(#dotG)"><g transform="translate(40 420) scale(0.16059)">
<path d="M225,545 L300,522 L380,512 L445,505 L445,522 L380,530 L300,540 L228,565Z" fill="#000" fill-opacity="0.8999999999999999"/>
</g></g>
<g filter="url(#dotM)"><g transform="translate(40 420) scale(0.16059)">
<path d="M200,70 L265,68 L338,90 L389,167 L452,269 L500,358 L535,440 L515,455 L470,415 L400,368 L338,342 L274,342 L223,318 L160,294 L147,230 L166,141Z" fill="#000" fill-opacity="0.144"/>
</g></g>
<g filter="url(#dotP)"><g transform="translate(40 420) scale(0.16059)">
<path d="M200,70 L265,68 L338,90 L389,167 L452,269 L500,358 L535,440 L515,455 L470,415 L400,368 L338,342 L274,342 L223,318 L160,294 L147,230 L166,141Z" fill="#000" fill-opacity="0.096"/>
</g></g>
<g filter="url(#dotR)"><g transform="translate(175 415) scale(0.17489)">
<path d="M165,100 L215,60 L235,50 L260,80 L290,140 L320,200 L350,270 L390,350 L430,450 L400,450 L340,380 L280,350 L200,350 L130,330 L130,280 L150,180Z" fill="#000" fill-opacity="0.42"/>
</g></g>
<g filter="url(#dotR)"><g transform="translate(175 415) scale(0.17489)">
<path d="M170,100 L190,90 L215,62 L235,52 L258,82 L285,140 L315,200 L340,265 L355,320 L320,340 L270,335 L230,350 L190,345 L150,330 L135,280 L150,180Z" fill="#000" fill-opacity="0.97"/>
</g></g>
<g filter="url(#dotM)"><g transform="translate(175 415) scale(0.17489)">
<path d="M130,200 L190,190 L200,340 L130,330Z" fill="#000" fill-opacity="0.36"/>
</g></g>
<g filter="url(#dotY)"><g transform="translate(175 415) scale(0.17489)">
<path d="M180,120 L205,110 L225,200 L255,300 L268,370 L235,380 L215,300 L192,220Z" fill="#000" fill-opacity="0.78"/>
</g></g>
<g filter="url(#dotM)"><g transform="translate(175 415) scale(0.17489)">
<path d="M110,330 L150,340 L140,400 L100,470 L70,500 L90,450Z" fill="#000" fill-opacity="0.96"/>
</g></g>
<g filter="url(#dotB)"><g transform="translate(175 415) scale(0.17489)">
<path d="M60,500 L100,460 L130,370 L160,340 L170,420 L170,480 L200,540 L210,580 L150,560 L70,550Z" fill="#000" fill-opacity="0.97"/>
</g></g>
<g filter="url(#dotG)"><g transform="translate(175 415) scale(0.17489)">
<path d="M170,370 L250,380 L330,400 L380,460 L390,540 L330,570 L240,580 L200,560 L170,480Z" fill="#000" fill-opacity="0.6"/>
</g></g>
<g filter="url(#dotY)"><g transform="translate(175 415) scale(0.17489)">
<path d="M180,370 L260,380 L330,420 L300,480 L200,470Z" fill="#000" fill-opacity="0.18"/>
</g></g>
<g filter="url(#dotM)"><g transform="translate(175 415) scale(0.17489)">
<path d="M170,370 L250,380 L330,400 L380,460 L390,540 L330,570 L240,580 L200,560 L170,480Z" fill="#000" fill-opacity="0.24"/>
</g></g>
<g filter="url(#dotP)"><g transform="translate(175 415) scale(0.17489)">
<path d="M260,330 L330,340 L380,340 L410,420 L450,480 L480,520 L400,540 L360,480 L320,420 L280,380Z" fill="#000" fill-opacity="0.66"/>
</g></g>
<g filter="url(#dotP)"><g transform="translate(175 415) scale(0.17489)">
<path d="M380,500 L450,480 L500,540 L520,580 L510,610 L460,630 L400,630 L360,590Z" fill="#000" fill-opacity="0.97"/>
</g></g>
<g filter="url(#dotG)"><g transform="translate(175 415) scale(0.17489)">
<path d="M200,560 L280,572 L360,585 L365,600 L280,590 L200,578Z" fill="#000" fill-opacity="0.84"/>
</g></g>
<g filter="url(#dotM)"><g transform="translate(175 415) scale(0.17489)">
<path d="M170,100 L190,90 L215,62 L235,52 L258,82 L285,140 L315,200 L340,265 L355,320 L320,340 L270,335 L230,350 L190,345 L150,330 L135,280 L150,180Z" fill="#000" fill-opacity="0.144"/>
</g></g>
<g filter="url(#dotP)"><g transform="translate(175 415) scale(0.17489)">
<path d="M170,100 L190,90 L215,62 L235,52 L258,82 L285,140 L315,200 L340,265 L355,320 L320,340 L270,335 L230,350 L190,345 L150,330 L135,280 L150,180Z" fill="#000" fill-opacity="0.096"/>
</g></g>
<g filter="url(#dotR)"><g transform="translate(300 405) scale(0.19771)">
<path d="M200,20 L230,30 L260,90 L290,180 L320,260 L350,340 L380,400 L340,380 L300,330 L250,360 L200,380 L140,360 L110,300 L120,260 L150,130 L175,70Z" fill="#000" fill-opacity="0.42"/>
</g></g>
<g filter="url(#dotR)"><g transform="translate(300 405) scale(0.19771)">
<path d="M200,22 L228,32 L258,90 L288,180 L318,260 L338,330 L300,330 L250,345 L200,362 L145,345 L122,300 L125,250 L150,130 L176,70Z" fill="#000" fill-opacity="0.97"/>
</g></g>
<g filter="url(#dotM)"><g transform="translate(300 405) scale(0.19771)">
<path d="M120,230 L170,230 L180,350 L115,340Z" fill="#000" fill-opacity="0.36"/>
</g></g>
<g filter="url(#dotY)"><g transform="translate(300 405) scale(0.19771)">
<path d="M168,130 L190,120 L210,200 L232,290 L242,360 L212,382 L192,320 L176,220Z" fill="#000" fill-opacity="0.84"/>
</g></g>
<g filter="url(#dotM)"><g transform="translate(300 405) scale(0.19771)">
<path d="M100,330 L140,330 L130,380 L110,430 L80,460 L60,500 L45,520 L70,450Z" fill="#000" fill-opacity="0.96"/>
</g></g>
<g filter="url(#dotB)"><g transform="translate(300 405) scale(0.19771)">
<path d="M50,520 L80,450 L110,360 L130,340 L150,420 L160,480 L160,540 L100,545Z" fill="#000" fill-opacity="0.97"/>
</g></g>
<g filter="url(#dotG)"><g transform="translate(300 405) scale(0.19771)">
<path d="M160,380 L230,380 L300,420 L360,480 L390,560 L320,580 L220,560 L160,540 L155,460Z" fill="#000" fill-opacity="0.6"/>
</g></g>
<g filter="url(#dotY)"><g transform="translate(300 405) scale(0.19771)">
<path d="M170,380 L240,380 L300,430 L260,480 L180,470Z" fill="#000" fill-opacity="0.18"/>
</g></g>
<g filter="url(#dotM)"><g transform="translate(300 405) scale(0.19771)">
<path d="M160,380 L230,380 L300,420 L360,480 L390,560 L320,580 L220,560 L160,540 L155,460Z" fill="#000" fill-opacity="0.24"/>
</g></g>
<g filter="url(#dotP)"><g transform="translate(300 405) scale(0.19771)">
<path d="M240,300 L300,300 L340,340 L380,400 L430,460 L460,500 L420,520 L380,470 L330,420 L270,380Z" fill="#000" fill-opacity="0.72"/>
</g></g>
<g filter="url(#dotP)"><g transform="translate(300 405) scale(0.19771)">
<path d="M400,500 L460,480 L500,540 L530,590 L530,630 L480,635 L420,610 L390,560Z" fill="#000" fill-opacity="0.97"/>
</g></g>
<g filter="url(#dotG)"><g transform="translate(300 405) scale(0.19771)">
<path d="M160,545 L260,562 L390,575 L392,590 L260,578 L160,560Z" fill="#000" fill-opacity="0.84"/>
</g></g>
<g filter="url(#dotM)"><g transform="translate(300 405) scale(0.19771)">
<path d="M200,22 L228,32 L258,90 L288,180 L318,260 L338,330 L300,330 L250,345 L200,362 L145,345 L122,300 L125,250 L150,130 L176,70Z" fill="#000" fill-opacity="0.144"/>
</g></g>
<g filter="url(#dotP)"><g transform="translate(300 405) scale(0.19771)">
<path d="M200,22 L228,32 L258,90 L288,180 L318,260 L338,330 L300,330 L250,345 L200,362 L145,345 L122,300 L125,250 L150,130 L176,70Z" fill="#000" fill-opacity="0.096"/>
</g></g>
<g filter="url(#dotR)"><g transform="translate(435 405) scale(0.19763)">
<path d="M180,0 L200,20 L215,80 L230,160 L245,240 L270,320 L300,400 L260,400 L200,380 L150,400 L105,400 L110,340 L130,220 L150,120 L165,40Z" fill="#000" fill-opacity="0.42"/>
</g></g>
<g filter="url(#dotR)"><g transform="translate(435 405) scale(0.19763)">
<path d="M180,2 L198,22 L212,80 L222,160 L236,240 L245,300 L200,360 L160,390 L115,390 L115,340 L132,220 L150,120 L166,40Z" fill="#000" fill-opacity="0.97"/>
</g></g>
<g filter="url(#dotY)"><g transform="translate(435 405) scale(0.19763)">
<path d="M163,140 L185,140 L195,220 L200,300 L190,370 L170,360 L160,280 L158,200Z" fill="#000" fill-opacity="0.84"/>
</g></g>
<g filter="url(#dotM)"><g transform="translate(435 405) scale(0.19763)">
<path d="M100,380 L130,400 L110,450 L90,460Z" fill="#000" fill-opacity="0.84"/>
</g></g>
<g filter="url(#dotB)"><g transform="translate(435 405) scale(0.19763)">
<path d="M80,460 L100,440 L140,440 L160,480 L160,550 L120,555 L80,550Z" fill="#000" fill-opacity="0.97"/>
</g></g>
<g filter="url(#dotG)"><g transform="translate(435 405) scale(0.19763)">
<path d="M150,380 L200,380 L230,420 L260,480 L260,560 L200,570 L160,550 L150,470Z" fill="#000" fill-opacity="0.66"/>
</g></g>
<g filter="url(#dotM)"><g transform="translate(435 405) scale(0.19763)">
<path d="M150,380 L200,380 L230,420 L260,480 L260,560 L200,570 L160,550 L150,470Z" fill="#000" fill-opacity="0.24"/>
</g></g>
<g filter="url(#dotP)"><g transform="translate(435 405) scale(0.19763)">
<path d="M200,290 L250,310 L280,380 L320,430 L300,470 L260,450 L230,400 L200,350Z" fill="#000" fill-opacity="0.66"/>
</g></g>
<g filter="url(#dotP)"><g transform="translate(435 405) scale(0.19763)">
<path d="M260,450 L320,430 L360,480 L375,520 L380,580 L360,610 L300,610 L250,580 L250,500Z" fill="#000" fill-opacity="0.97"/>
</g></g>
<g filter="url(#dotM)"><g transform="translate(435 405) scale(0.19763)">
<path d="M180,2 L198,22 L212,80 L222,160 L236,240 L245,300 L200,360 L160,390 L115,390 L115,340 L132,220 L150,120 L166,40Z" fill="#000" fill-opacity="0.144"/>
</g></g>
<g filter="url(#dotP)"><g transform="translate(435 405) scale(0.19763)">
<path d="M180,2 L198,22 L212,80 L222,160 L236,240 L245,300 L200,360 L160,390 L115,390 L115,340 L132,220 L150,120 L166,40Z" fill="#000" fill-opacity="0.096"/>
</g></g>
<g filter="url(#dotR)"><g transform="translate(570 415) scale(0.18228)">
<path d="M195,65 L210,80 L215,150 L220,250 L222,340 L215,390 L180,395 L145,385 L140,250 L150,180 L165,120Z" fill="#000" fill-opacity="0.97"/>
</g></g>
<g filter="url(#dotY)"><g transform="translate(570 415) scale(0.18228)">
<path d="M170,170 L190,170 L195,250 L192,360 L172,380 L165,280Z" fill="#000" fill-opacity="0.84"/>
</g></g>
<g filter="url(#dotP)"><g transform="translate(570 415) scale(0.18228)">
<path d="M128,220 L150,220 L150,350 L133,340Z" fill="#000" fill-opacity="0.84"/>
</g></g>
<g filter="url(#dotG)"><g transform="translate(570 415) scale(0.18228)">
<path d="M95,320 L125,320 L130,490 L95,480Z" fill="#000" fill-opacity="0.42"/>
</g></g>
<g filter="url(#dotB)"><g transform="translate(570 415) scale(0.18228)">
<path d="M110,380 L190,370 L190,460 L180,500 L130,505 L100,470Z" fill="#000" fill-opacity="0.97"/>
</g></g>
<g filter="url(#dotP)"><g transform="translate(570 415) scale(0.18228)">
<path d="M180,380 L240,400 L245,480 L220,500 L180,500Z" fill="#000" fill-opacity="0.97"/>
</g></g>
<g filter="url(#dotR)"><g transform="translate(570 415) scale(0.18228)">
<path d="M200,240 L230,250 L235,360 L210,360Z" fill="#000" fill-opacity="0.36"/>
</g></g>
<g filter="url(#dotM)"><g transform="translate(570 415) scale(0.18228)">
<path d="M195,65 L210,80 L215,150 L220,250 L222,340 L215,390 L180,395 L145,385 L140,250 L150,180 L165,120Z" fill="#000" fill-opacity="0.144"/>
</g></g>
<g filter="url(#dotP)"><g transform="translate(570 415) scale(0.18228)">
<path d="M195,65 L210,80 L215,150 L220,250 L222,340 L215,390 L180,395 L145,385 L140,250 L150,180 L165,120Z" fill="#000" fill-opacity="0.096"/>
</g></g>
<g filter="url(#dotR)"><g transform="translate(60 530) scale(0.16706)">
<path d="M190,145 L205,160 L240,160 L260,145 L275,160 L265,250 L230,300 L180,310 L130,290 L140,240 L170,190Z" fill="#000" fill-opacity="0.97"/>
</g></g>
<g filter="url(#dotO)"><g transform="translate(60 530) scale(0.16706)">
<path d="M105,300 L140,265 L155,340 L130,420 L108,410 L98,370Z" fill="#000" fill-opacity="0.8999999999999999"/>
</g></g>
<g filter="url(#dotY)"><g transform="translate(60 530) scale(0.16706)">
<path d="M230,170 L260,160 L250,240 L220,300 L205,280Z" fill="#000" fill-opacity="0.84"/>
</g></g>
<g filter="url(#dotM)"><g transform="translate(60 530) scale(0.16706)">
<path d="M130,320 L220,300 L240,360 L230,470 L210,540 L170,560 L130,520 L115,430Z" fill="#000" fill-opacity="0.72"/>
</g></g>
<g filter="url(#dotP)"><g transform="translate(60 530) scale(0.16706)">
<path d="M130,320 L220,300 L240,360 L230,470 L210,540 L170,560 L130,520 L115,430Z" fill="#000" fill-opacity="0.36"/>
</g></g>
<g filter="url(#dotO)"><g transform="translate(60 530) scale(0.16706)">
<path d="M130,300 L220,290 L230,400 L140,420Z" fill="#000" fill-opacity="0.36"/>
</g></g>
<g filter="url(#dotG)"><g transform="translate(60 530) scale(0.16706)">
<path d="M105,420 L125,420 L140,540 L160,565 L140,565 L115,520Z" fill="#000" fill-opacity="0.48"/>
</g></g>
<g filter="url(#dotB)"><g transform="translate(60 530) scale(0.16706)">
<path d="M200,380 L230,400 L240,500 L260,530 L240,580 L200,605 L170,580 L180,500Z" fill="#000" fill-opacity="0.97"/>
</g></g>
<g filter="url(#dotP)"><g transform="translate(60 530) scale(0.16706)">
<path d="M230,380 L270,360 L280,460 L285,530 L290,600 L260,590 L245,530 L235,450Z" fill="#000" fill-opacity="0.97"/>
</g></g>
<g filter="url(#dotM)"><g transform="translate(60 530) scale(0.16706)">
<path d="M240,260 L275,260 L280,360 L240,370Z" fill="#000" fill-opacity="0.48"/>
</g></g>
<g filter="url(#dotM)"><g transform="translate(60 530) scale(0.16706)">
<path d="M190,145 L205,160 L240,160 L260,145 L275,160 L265,250 L230,300 L180,310 L130,290 L140,240 L170,190Z" fill="#000" fill-opacity="0.144"/>
</g></g>
<g filter="url(#dotP)"><g transform="translate(60 530) scale(0.16706)">
<path d="M190,145 L205,160 L240,160 L260,145 L275,160 L265,250 L230,300 L180,310 L130,290 L140,240 L170,190Z" fill="#000" fill-opacity="0.096"/>
</g></g>
<g filter="url(#dotR)"><g transform="translate(60 530) scale(0.16706)">
<path d="M105,300 L140,265 L155,340 L130,420 L108,410 L98,370Z" fill="#000" fill-opacity="0.264"/>
</g></g>
<g filter="url(#dotR)"><g transform="translate(60 530) scale(0.16706)">
<path d="M130,320 L220,300 L240,360 L230,470 L210,540 L170,560 L130,520 L115,430Z" fill="#000" fill-opacity="0.12"/>
</g></g>
<g filter="url(#dotR)"><g transform="translate(185 535) scale(0.16701)">
<path d="M240,90 L300,65 L320,100 L325,170 L300,260 L270,300 L230,280 L210,200 L200,150Z" fill="#000" fill-opacity="0.97"/>
</g></g>
<g filter="url(#dotO)"><g transform="translate(185 535) scale(0.16701)">
<path d="M110,300 L130,230 L170,160 L210,110 L230,150 L240,220 L200,300 L150,350 L120,400 L110,380Z" fill="#000" fill-opacity="0.96"/>
</g></g>
<g filter="url(#dotO)"><g transform="translate(185 535) scale(0.16701)">
<path d="M200,150 L260,150 L270,260 L220,280Z" fill="#000" fill-opacity="0.36"/>
</g></g>
<g filter="url(#dotM)"><g transform="translate(185 535) scale(0.16701)">
<path d="M140,340 L240,250 L290,300 L280,400 L260,480 L220,530 L170,510 L130,470 L120,400Z" fill="#000" fill-opacity="0.72"/>
</g></g>
<g filter="url(#dotP)"><g transform="translate(185 535) scale(0.16701)">
<path d="M140,340 L240,250 L290,300 L280,400 L260,480 L220,530 L170,510 L130,470 L120,400Z" fill="#000" fill-opacity="0.36"/>
</g></g>
<g filter="url(#dotM)"><g transform="translate(185 535) scale(0.16701)">
<path d="M290,280 L320,300 L335,400 L300,420 L285,350Z" fill="#000" fill-opacity="0.42"/>
</g></g>
<g filter="url(#dotG)"><g transform="translate(185 535) scale(0.16701)">
<path d="M115,400 L140,420 L170,510 L140,500 L120,460Z" fill="#000" fill-opacity="0.48"/>
</g></g>
<g filter="url(#dotB)"><g transform="translate(185 535) scale(0.16701)">
<path d="M270,340 L310,400 L335,470 L340,540 L300,560 L250,540 L260,460Z" fill="#000" fill-opacity="0.97"/>
</g></g>
<g filter="url(#dotP)"><g transform="translate(185 535) scale(0.16701)">
<path d="M260,540 L340,530 L360,610 L330,590 L280,560Z" fill="#000" fill-opacity="0.97"/>
</g></g>
<g filter="url(#dotM)"><g transform="translate(185 535) scale(0.16701)">
<path d="M240,90 L300,65 L320,100 L325,170 L300,260 L270,300 L230,280 L210,200 L200,150Z" fill="#000" fill-opacity="0.144"/>
</g></g>
<g filter="url(#dotP)"><g transform="translate(185 535) scale(0.16701)">
<path d="M240,90 L300,65 L320,100 L325,170 L300,260 L270,300 L230,280 L210,200 L200,150Z" fill="#000" fill-opacity="0.096"/>
</g></g>
<g filter="url(#dotR)"><g transform="translate(185 535) scale(0.16701)">
<path d="M110,300 L130,230 L170,160 L210,110 L230,150 L240,220 L200,300 L150,350 L120,400 L110,380Z" fill="#000" fill-opacity="0.264"/>
</g></g>
<g filter="url(#dotR)"><g transform="translate(185 535) scale(0.16701)">
<path d="M140,340 L240,250 L290,300 L280,400 L260,480 L220,530 L170,510 L130,470 L120,400Z" fill="#000" fill-opacity="0.12"/>
</g></g>
<g filter="url(#dotR)"><g transform="translate(300 525) scale(0.18248)">
<path d="M250,80 L320,50 L340,100 L335,200 L300,300 L260,320 L220,280 L200,200 L190,120Z" fill="#000" fill-opacity="0.97"/>
</g></g>
<g filter="url(#dotO)"><g transform="translate(300 525) scale(0.18248)">
<path d="M80,370 L100,270 L140,180 L190,120 L220,180 L230,260 L180,330 L130,400 L100,450 L90,460Z" fill="#000" fill-opacity="0.54"/>
</g></g>
<g filter="url(#dotO)"><g transform="translate(300 525) scale(0.18248)">
<path d="M110,330 L130,250 L170,190 L210,160 L225,240 L180,320 L130,390 L110,400Z" fill="#000" fill-opacity="0.96"/>
</g></g>
<g filter="url(#dotM)"><g transform="translate(300 525) scale(0.18248)">
<path d="M110,400 L200,300 L280,290 L270,400 L250,500 L220,550 L150,540 L110,500Z" fill="#000" fill-opacity="0.72"/>
</g></g>
<g filter="url(#dotP)"><g transform="translate(300 525) scale(0.18248)">
<path d="M110,400 L200,300 L280,290 L270,400 L250,500 L220,550 L150,540 L110,500Z" fill="#000" fill-opacity="0.36"/>
</g></g>
<g filter="url(#dotM)"><g transform="translate(300 525) scale(0.18248)">
<path d="M300,280 L325,300 L330,480 L300,470Z" fill="#000" fill-opacity="0.36"/>
</g></g>
<g filter="url(#dotB)"><g transform="translate(300 525) scale(0.18248)">
<path d="M240,380 L290,430 L310,470 L300,540 L250,560 L220,540 L240,460Z" fill="#000" fill-opacity="0.97"/>
</g></g>
<g filter="url(#dotP)"><g transform="translate(300 525) scale(0.18248)">
<path d="M230,560 L300,540 L320,560 L340,600 L330,640 L290,620 L240,590Z" fill="#000" fill-opacity="0.97"/>
</g></g>
<g filter="url(#dotG)"><g transform="translate(300 525) scale(0.18248)">
<path d="M110,500 L150,540 L220,580 L170,575 L120,540Z" fill="#000" fill-opacity="0.72"/>
</g></g>
<g filter="url(#dotM)"><g transform="translate(300 525) scale(0.18248)">
<path d="M250,80 L320,50 L340,100 L335,200 L300,300 L260,320 L220,280 L200,200 L190,120Z" fill="#000" fill-opacity="0.144"/>
</g></g>
<g filter="url(#dotP)"><g transform="translate(300 525) scale(0.18248)">
<path d="M250,80 L320,50 L340,100 L335,200 L300,300 L260,320 L220,280 L200,200 L190,120Z" fill="#000" fill-opacity="0.096"/>
</g></g>
<g filter="url(#dotR)"><g transform="translate(300 525) scale(0.18248)">
<path d="M110,330 L130,250 L170,190 L210,160 L225,240 L180,320 L130,390 L110,400Z" fill="#000" fill-opacity="0.264"/>
</g></g>
<g filter="url(#dotR)"><g transform="translate(300 525) scale(0.18248)">
<path d="M110,400 L200,300 L280,290 L270,400 L250,500 L220,550 L150,540 L110,500Z" fill="#000" fill-opacity="0.12"/>
</g></g>
<g filter="url(#dotR)"><g transform="translate(435 525) scale(0.18248)">
<path d="M230,70 L310,30 L330,60 L325,150 L320,250 L300,350 L260,420 L240,380 L250,280 L230,200 L200,150Z" fill="#000" fill-opacity="0.97"/>
</g></g>
<g filter="url(#dotO)"><g transform="translate(435 525) scale(0.18248)">
<path d="M50,320 L80,230 L140,150 L230,70 L200,150 L240,230 L260,300 L240,380 L180,380 L120,380 L60,400 L45,380Z" fill="#000" fill-opacity="0.48"/>
</g></g>
<g filter="url(#dotO)"><g transform="translate(435 525) scale(0.18248)">
<path d="M120,300 L160,200 L220,130 L240,230 L250,300 L230,370 L160,370 L110,370Z" fill="#000" fill-opacity="0.8999999999999999"/>
</g></g>
<g filter="url(#dotY)"><g transform="translate(435 525) scale(0.18248)">
<path d="M200,250 L260,240 L260,380 L200,380Z" fill="#000" fill-opacity="0.48"/>
</g></g>
<g filter="url(#dotM)"><g transform="translate(435 525) scale(0.18248)">
<path d="M45,400 L120,380 L130,480 L80,500 L60,470Z" fill="#000" fill-opacity="0.54"/>
</g></g>
<g filter="url(#dotM)"><g transform="translate(435 525) scale(0.18248)">
<path d="M110,380 L240,380 L260,430 L240,500 L220,560 L180,580 L120,540 L90,470Z" fill="#000" fill-opacity="0.72"/>
</g></g>
<g filter="url(#dotP)"><g transform="translate(435 525) scale(0.18248)">
<path d="M110,380 L240,380 L260,430 L240,500 L220,560 L180,580 L120,540 L90,470Z" fill="#000" fill-opacity="0.36"/>
</g></g>
<g filter="url(#dotB)"><g transform="translate(435 525) scale(0.18248)">
<path d="M250,430 L300,420 L340,480 L345,530 L320,570 L270,600 L220,560 L240,500Z" fill="#000" fill-opacity="0.97"/>
</g></g>
<g filter="url(#dotP)"><g transform="translate(435 525) scale(0.18248)">
<path d="M260,580 L320,570 L325,640 L290,630 L240,600Z" fill="#000" fill-opacity="0.97"/>
</g></g>
<g filter="url(#dotG)"><g transform="translate(435 525) scale(0.18248)">
<path d="M170,560 L230,580 L240,600 L190,595Z" fill="#000" fill-opacity="0.6"/>
</g></g>
<g filter="url(#dotM)"><g transform="translate(435 525) scale(0.18248)">
<path d="M230,70 L310,30 L330,60 L325,150 L320,250 L300,350 L260,420 L240,380 L250,280 L230,200 L200,150Z" fill="#000" fill-opacity="0.144"/>
</g></g>
<g filter="url(#dotP)"><g transform="translate(435 525) scale(0.18248)">
<path d="M230,70 L310,30 L330,60 L325,150 L320,250 L300,350 L260,420 L240,380 L250,280 L230,200 L200,150Z" fill="#000" fill-opacity="0.096"/>
</g></g>
<g filter="url(#dotR)"><g transform="translate(435 525) scale(0.18248)">
<path d="M120,300 L160,200 L220,130 L240,230 L250,300 L230,370 L160,370 L110,370Z" fill="#000" fill-opacity="0.264"/>
</g></g>
<g filter="url(#dotR)"><g transform="translate(435 525) scale(0.18248)">
<path d="M110,380 L240,380 L260,430 L240,500 L220,560 L180,580 L120,540 L90,470Z" fill="#000" fill-opacity="0.12"/>
</g></g>
<g filter="url(#dotR)"><g transform="translate(565 535) scale(0.16701)">
<path d="M230,130 L300,100 L320,130 L305,220 L260,240 L220,200 L200,160Z" fill="#000" fill-opacity="0.97"/>
</g></g>
<g filter="url(#dotO)"><g transform="translate(565 535) scale(0.16701)">
<path d="M120,260 L160,190 L230,130 L260,240 L280,300 L250,370 L200,380 L130,380 L100,360 L100,330Z" fill="#000" fill-opacity="0.96"/>
</g></g>
<g filter="url(#dotM)"><g transform="translate(565 535) scale(0.16701)">
<path d="M120,300 L200,300 L200,380 L110,380Z" fill="#000" fill-opacity="0.48"/>
</g></g>
<g filter="url(#dotM)"><g transform="translate(565 535) scale(0.16701)">
<path d="M85,420 L100,360 L200,380 L260,360 L250,420 L220,470 L190,520 L130,500 L100,490Z" fill="#000" fill-opacity="0.72"/>
</g></g>
<g filter="url(#dotP)"><g transform="translate(565 535) scale(0.16701)">
<path d="M85,420 L100,360 L200,380 L260,360 L250,420 L220,470 L190,520 L130,500 L100,490Z" fill="#000" fill-opacity="0.36"/>
</g></g>
<g filter="url(#dotB)"><g transform="translate(565 535) scale(0.16701)">
<path d="M220,400 L270,370 L300,400 L315,440 L310,520 L270,530 L220,520 L220,460Z" fill="#000" fill-opacity="0.97"/>
</g></g>
<g filter="url(#dotG)"><g transform="translate(565 535) scale(0.16701)">
<path d="M180,460 L230,470 L230,520 L190,530Z" fill="#000" fill-opacity="0.84"/>
</g></g>
<g filter="url(#dotM)"><g transform="translate(565 535) scale(0.16701)">
<path d="M230,130 L300,100 L320,130 L305,220 L260,240 L220,200 L200,160Z" fill="#000" fill-opacity="0.144"/>
</g></g>
<g filter="url(#dotP)"><g transform="translate(565 535) scale(0.16701)">
<path d="M230,130 L300,100 L320,130 L305,220 L260,240 L220,200 L200,160Z" fill="#000" fill-opacity="0.096"/>
</g></g>
<g filter="url(#dotR)"><g transform="translate(565 535) scale(0.16701)">
<path d="M120,260 L160,190 L230,130 L260,240 L280,300 L250,370 L200,380 L130,380 L100,360 L100,330Z" fill="#000" fill-opacity="0.264"/>
</g></g>
<g filter="url(#dotR)"><g transform="translate(565 535) scale(0.16701)">
<path d="M85,420 L100,360 L200,380 L260,360 L250,420 L220,470 L190,520 L130,500 L100,490Z" fill="#000" fill-opacity="0.12"/>
</g></g>
<text transform="translate(90.6 656.6) scale(0.85 1)" font-size="9" text-anchor="middle" fill="#141414" stroke="#141414" stroke-width="0.18">1 year</text>
<text transform="translate(225.3 656.6) scale(0.85 1)" font-size="9" text-anchor="middle" fill="#141414" stroke="#141414" stroke-width="0.18">5 years</text>
<text transform="translate(346.6 656.6) scale(0.85 1)" font-size="9" text-anchor="middle" fill="#141414" stroke="#141414" stroke-width="0.18">10 years</text>
<text transform="translate(479 656.6) scale(0.85 1)" font-size="9" text-anchor="middle" fill="#141414" stroke="#141414" stroke-width="0.18">25 years</text>
<text transform="translate(602.3 656.6) scale(0.85 1)" font-size="9" text-anchor="middle" fill="#141414" stroke="#141414" stroke-width="0.18">80 years</text>
</g></svg>
</body></html>
